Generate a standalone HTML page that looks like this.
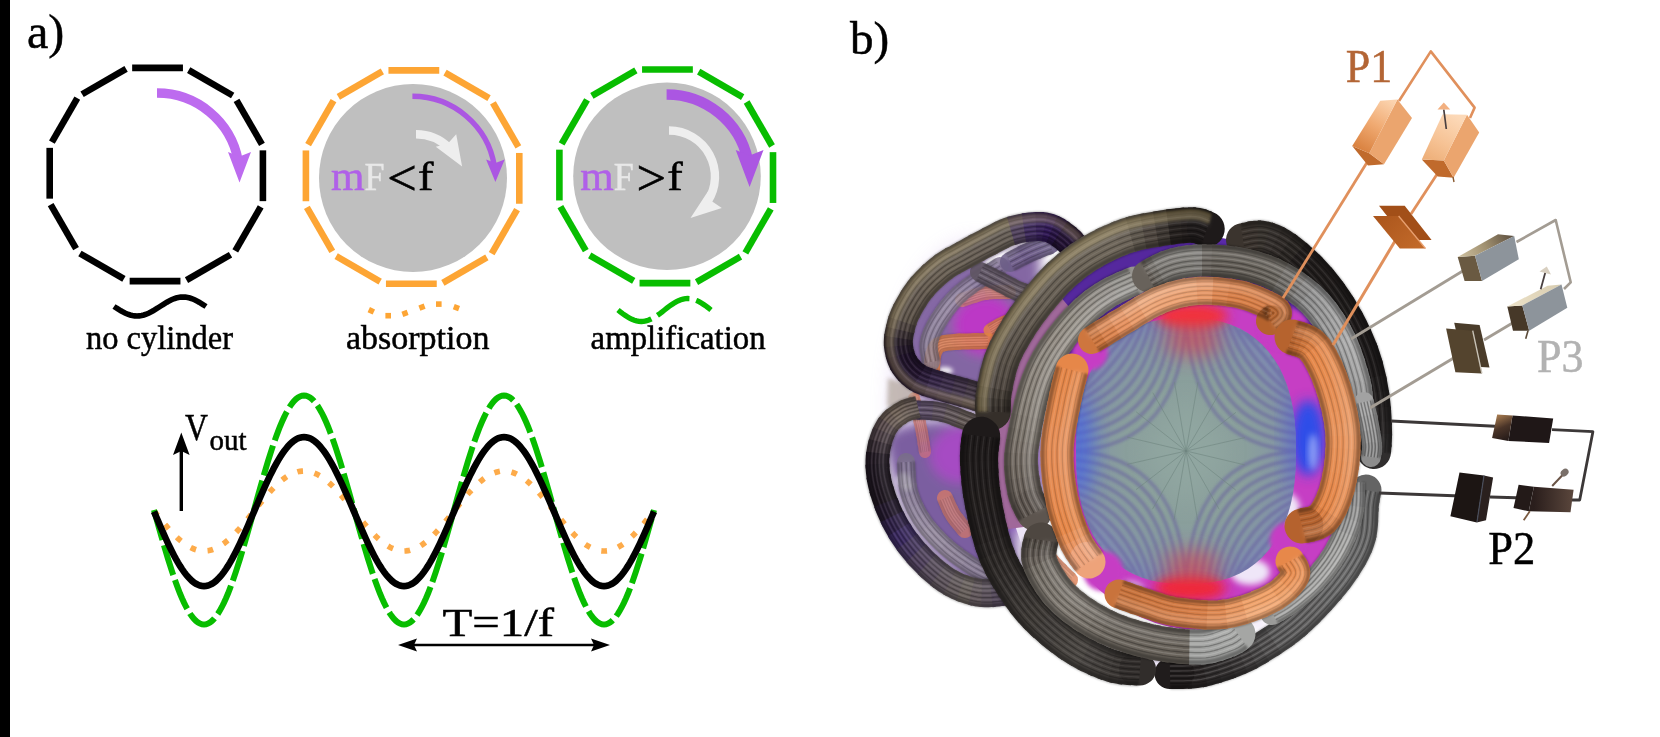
<!DOCTYPE html>
<html><head><meta charset="utf-8"><title>figure</title>
<style>
html,body{margin:0;padding:0;background:#fff;}
body{width:1660px;height:737px;overflow:hidden;font-family:"Liberation Serif",serif;}
svg{display:block;}
text{font-family:"Liberation Serif",serif;}
</style></head><body>
<svg width="1660" height="737" viewBox="0 0 1660 737">
<rect width="1660" height="737" fill="#fff"/>
<defs>
<filter id="b1" x="-20%" y="-20%" width="140%" height="140%"><feGaussianBlur stdDeviation="1"/></filter>
<filter id="b2" x="-20%" y="-20%" width="140%" height="140%"><feGaussianBlur stdDeviation="2"/></filter>
<filter id="b3" x="-30%" y="-30%" width="160%" height="160%"><feGaussianBlur stdDeviation="3"/></filter>
<filter id="b6" x="-40%" y="-40%" width="180%" height="180%"><feGaussianBlur stdDeviation="6"/></filter>
<filter id="b10" x="-50%" y="-50%" width="200%" height="200%"><feGaussianBlur stdDeviation="10"/></filter>
<filter id="b16" x="-60%" y="-60%" width="220%" height="220%"><feGaussianBlur stdDeviation="16"/></filter>
<radialGradient id="discg" cx="0.5" cy="0.5" r="0.5">
<stop offset="0" stop-color="#8fa49e"/><stop offset="0.55" stop-color="#8a9f9c"/><stop offset="0.85" stop-color="#8496a4"/><stop offset="1" stop-color="#7f8cb0"/></radialGradient>
<clipPath id="discclip"><path d="M1296.0,451.0 L1295.7,468.4 L1294.6,481.9 L1292.9,494.1 L1290.4,505.4 L1287.3,515.9 L1283.6,525.6 L1279.2,534.7 L1274.1,543.0 L1268.4,550.6 L1262.1,557.5 L1255.2,563.6 L1247.7,569.0 L1239.7,573.5 L1231.0,577.3 L1221.7,580.2 L1211.6,582.3 L1200.4,583.6 L1186.0,584.0 L1171.6,583.6 L1160.4,582.3 L1150.3,580.2 L1141.0,577.3 L1132.3,573.5 L1124.3,569.0 L1116.8,563.6 L1109.9,557.5 L1103.6,550.6 L1097.9,543.0 L1092.8,534.7 L1088.4,525.6 L1084.7,515.9 L1081.6,505.4 L1079.1,494.1 L1077.4,481.9 L1076.3,468.4 L1076.0,451.0 L1076.3,433.6 L1077.4,420.1 L1079.1,407.9 L1081.6,396.6 L1084.7,386.1 L1088.4,376.4 L1092.8,367.3 L1097.9,359.0 L1103.6,351.4 L1109.9,344.5 L1116.8,338.4 L1124.3,333.0 L1132.3,328.5 L1141.0,324.7 L1150.3,321.8 L1160.4,319.7 L1171.6,318.4 L1186.0,318.0 L1200.4,318.4 L1211.6,319.7 L1221.7,321.8 L1231.0,324.7 L1239.7,328.5 L1247.7,333.0 L1255.2,338.4 L1262.1,344.5 L1268.4,351.4 L1274.1,359.0 L1279.2,367.3 L1283.6,376.4 L1287.3,386.1 L1290.4,396.6 L1292.9,407.9 L1294.6,420.1 L1295.7,433.6 Z"/></clipPath>
</defs>
<g><ellipse cx="975" cy="405" rx="85" ry="165" fill="#b48ae0" opacity="0.25" filter="url(#b10)"/><g filter="url(#b6)"><path d="M905,350 C905,290 960,250 1040,245 L1040,420 L920,400 Z" fill="#7c5e9e" opacity="0.94"/><path d="M885,440 C890,420 960,415 1010,430 L1020,600 C960,590 900,540 885,440 Z" fill="#74569a" opacity="0.94"/><ellipse cx="985" cy="325" rx="32" ry="30" fill="#c038c8" opacity="0.95"/><ellipse cx="960" cy="455" rx="30" ry="28" fill="#b046cc" opacity="0.8"/><ellipse cx="1015" cy="470" rx="28" ry="60" fill="#8a4cc0" opacity="0.8"/></g><g filter="url(#b2)"><ellipse cx="1000" cy="258" rx="19" ry="5.5" fill="#fff" opacity="0.95" transform="rotate(-24 1000 258)"/><ellipse cx="945" cy="371" rx="8" ry="4" fill="#fff" opacity="0.9"/><ellipse cx="905" cy="482" rx="7" ry="10" fill="#fff" opacity="0.9" transform="rotate(-30 905 482)"/></g><g fill="none" stroke-linejoin="round" opacity="0.9"><path d="M932.0,371.0 L932.1,369.5 L932.1,367.4 L932.2,364.8 L932.3,362.1" stroke="#e48050" stroke-width="16.0" stroke-linecap="round"/><path d="M932.2,364.8 L932.3,362.1 L932.5,359.2 L932.8,356.5 L933.3,354.0" stroke="#e3804f" stroke-width="16.0"/><path d="M932.8,356.5 L933.3,354.0 L934.0,352.0 L934.7,350.3 L935.4,348.9" stroke="#e37f4e" stroke-width="16.0"/><path d="M934.7,350.3 L935.4,348.9 L936.1,347.6 L936.9,346.4 L938.1,345.4" stroke="#e27f4d" stroke-width="16.0"/><path d="M936.9,346.4 L938.1,345.4 L939.8,344.5 L942.0,343.7 L945.0,343.0" stroke="#e27f4c" stroke-width="16.0"/><path d="M942.0,343.7 L945.0,343.0 L949.1,342.4 L954.5,342.0 L960.7,341.6" stroke="#e17f4b" stroke-width="16.0"/><path d="M954.5,342.0 L960.7,341.6 L967.2,341.4 L973.6,341.3 L979.5,341.2" stroke="#e07e49" stroke-width="16.0"/><path d="M973.6,341.3 L979.5,341.2 L984.5,341.1 L988.0,341.0" stroke="#df7d47" stroke-width="16.0" stroke-linecap="round"/><path d="M925.0,370.6 L925.1,369.2 L925.1,367.2 L925.2,364.6 L925.3,361.7 L925.5,358.6 L925.9,355.4 L926.5,352.2 L927.4,349.5 L928.3,347.5 L929.0,345.8 L930.1,343.8 L931.9,341.6 L934.2,339.6 L937.0,338.1 L940.1,337.0 L943.7,336.1 L948.4,335.4 L954.0,334.9 L960.4,334.6 L967.0,334.4 L973.5,334.3 L979.4,334.2 L984.3,334.1 L987.8,334.0" stroke="#000" stroke-opacity="0.2" stroke-width="2.2" filter="url(#b1)"/><path d="M939.0,371.4 L939.1,369.8 L939.2,367.5 L939.2,365.0 L939.3,362.4 L939.5,359.9 L939.8,357.6 L940.1,355.8 L940.6,354.5 L941.2,353.2 L941.7,351.9 L942.0,351.4 L942.0,351.3 L942.1,351.3 L942.6,351.0 L944.0,350.5 L946.3,349.9 L949.9,349.4 L955.0,349.0 L961.0,348.7 L967.4,348.5 L973.8,348.3 L979.6,348.2 L984.6,348.1 L988.2,348.0" stroke="#000" stroke-opacity="0.2" stroke-width="2.2" filter="url(#b1)"/><path d="M926.9,370.7 L927.0,369.3 L927.0,367.2 L927.1,364.7 L927.2,361.8 L927.4,358.8 L927.8,355.7 L928.4,352.7 L929.2,350.2 L930.0,348.3 L930.8,346.7 L931.8,344.8 L933.2,342.9 L935.3,341.2 L937.7,339.8 L940.6,338.8 L944.1,338.0 L948.6,337.3 L954.2,336.9 L960.5,336.5 L967.0,336.3 L973.5,336.2 L979.4,336.1 L984.3,336.0 L987.8,335.9 M929.4,370.8 L929.5,369.4 L929.6,367.3 L929.6,364.7 L929.8,361.9 L930.0,359.0 L930.3,356.1 L930.8,353.4 L931.6,351.1 L932.4,349.3 L933.1,347.8 L933.9,346.2 L935.1,344.7 L936.7,343.3 L938.8,342.2 L941.3,341.3 L944.5,340.5 L948.9,339.9 L954.3,339.4 L960.6,339.1 L967.1,338.9 L973.6,338.7 L979.5,338.6 L984.4,338.5 L987.9,338.4 M932.0,371.0 L932.1,369.5 L932.1,367.4 L932.2,364.8 L932.3,362.1 L932.5,359.2 L932.8,356.5 L933.3,354.0 L934.0,352.0 L934.7,350.3 L935.4,348.9 L936.1,347.6 L936.9,346.4 L938.1,345.4 L939.8,344.5 L942.0,343.7 L945.0,343.0 L949.1,342.4 L954.5,342.0 L960.7,341.6 L967.2,341.4 L973.6,341.3 L979.5,341.2 L984.5,341.1 L988.0,341.0 M934.6,371.2 L934.7,369.6 L934.7,367.4 L934.8,364.9 L934.9,362.2 L935.1,359.5 L935.4,356.9 L935.8,354.7 L936.4,352.9 L937.1,351.4 L937.7,350.0 L938.2,349.0 L938.8,348.2 L939.6,347.5 L940.8,346.9 L942.8,346.2 L945.5,345.5 L949.4,344.9 L954.7,344.5 L960.8,344.2 L967.3,344.0 L973.7,343.9 L979.6,343.8 L984.5,343.7 L988.1,343.6 M937.1,371.3 L937.2,369.7 L937.3,367.5 L937.3,365.0 L937.4,362.3 L937.6,359.7 L937.9,357.3 L938.3,355.3 L938.8,353.8 L939.4,352.4 L940.0,351.1 L940.4,350.4 L940.6,350.0 L941.0,349.7 L941.8,349.2 L943.5,348.6 L945.9,348.0 L949.7,347.5 L954.8,347.1 L960.9,346.8 L967.3,346.6 L973.7,346.4 L979.6,346.3 L984.6,346.2 L988.2,346.1" stroke="#000" stroke-opacity="0.12" stroke-width="1.3"/><path d="M928.2,370.8 L928.3,369.3 L928.3,367.3 L928.4,364.7 L928.5,361.9 L928.7,358.9 L929.0,355.9 L929.6,353.1 L930.4,350.6 L931.2,348.8 L931.9,347.2 L932.8,345.5 L934.2,343.8 L936.0,342.2 L938.3,341.0 L941.0,340.0 L944.3,339.2 L948.7,338.6 L954.3,338.1 L960.5,337.8 L967.1,337.6 L973.5,337.5 L979.5,337.4 L984.4,337.3 L987.9,337.2 M930.7,370.9 L930.8,369.4 L930.9,367.3 L930.9,364.8 L931.0,362.0 L931.2,359.1 L931.6,356.3 L932.1,353.7 L932.8,351.5 L933.6,349.8 L934.2,348.3 L935.0,346.9 L936.0,345.6 L937.4,344.4 L939.3,343.4 L941.7,342.5 L944.8,341.7 L949.0,341.1 L954.4,340.7 L960.6,340.4 L967.2,340.2 L973.6,340.0 L979.5,339.9 L984.4,339.8 L988.0,339.7 M933.3,371.1 L933.4,369.5 L933.4,367.4 L933.5,364.9 L933.6,362.1 L933.8,359.3 L934.1,356.7 L934.5,354.4 L935.2,352.5 L935.9,350.9 L936.5,349.4 L937.1,348.3 L937.9,347.3 L938.8,346.5 L940.3,345.7 L942.4,345.0 L945.2,344.3 L949.3,343.7 L954.6,343.2 L960.7,342.9 L967.2,342.7 L973.6,342.6 L979.5,342.5 L984.5,342.4 L988.0,342.3 M935.8,371.2 L935.9,369.6 L936.0,367.4 L936.0,364.9 L936.1,362.3 L936.3,359.6 L936.6,357.1 L937.0,355.0 L937.6,353.4 L938.2,351.9 L938.8,350.6 L939.3,349.7 L939.7,349.1 L940.3,348.6 L941.3,348.0 L943.1,347.4 L945.7,346.8 L949.6,346.2 L954.8,345.8 L960.8,345.5 L967.3,345.3 L973.7,345.1 L979.6,345.0 L984.6,344.9 L988.1,344.8" stroke="#fff" stroke-opacity="0.07" stroke-width="1.3"/><path d="M932.0,371.0 L932.1,369.5 L932.1,367.4 L932.2,364.8 L932.3,362.1 L932.5,359.2 L932.8,356.5 L933.3,354.0 L934.0,352.0 L934.7,350.3 L935.4,348.9 L936.1,347.6 L936.9,346.4 L938.1,345.4 L939.8,344.5 L942.0,343.7 L945.0,343.0 L949.1,342.4 L954.5,342.0 L960.7,341.6 L967.2,341.4 L973.6,341.3 L979.5,341.2 L984.5,341.1 L988.0,341.0" stroke="#fff" stroke-opacity="0.1" stroke-width="5.6" filter="url(#b3)"/></g><g fill="none" stroke-linejoin="round" opacity="0.75"><path d="M962.0,300.0 L963.8,299.4 L966.1,298.6 L968.9,297.6 L972.0,296.6 L975.3,295.5" stroke="#d88375" stroke-width="14.0" stroke-linecap="round"/><path d="M972.0,296.6 L975.3,295.5 L978.6,294.5 L981.9,293.6 L985.0,293.0 L988.1,292.6" stroke="#db846f" stroke-width="14.0"/><path d="M985.0,293.0 L988.1,292.6 L991.5,292.3 L995.0,292.1 L998.4,292.1 L1001.7,292.0" stroke="#dd8568" stroke-width="14.0"/><path d="M998.4,292.1 L1001.7,292.0 L1004.7,292.0 L1007.1,292.0 L1009.0,292.0" stroke="#e08662" stroke-width="14.0" stroke-linecap="round"/><path d="M960.1,294.1 L961.8,293.6 L964.1,292.8 L966.9,291.8 L970.1,290.7 L973.5,289.6 L977.0,288.6 L980.5,287.6 L984.0,286.9 L987.5,286.5 L991.1,286.2 L994.8,286.0 L998.3,285.9 L1001.7,285.9 L1004.7,285.9 L1007.1,285.9 L1008.9,285.8" stroke="#000" stroke-opacity="0.2" stroke-width="2.0" filter="url(#b1)"/><path d="M963.9,305.9 L965.8,305.3 L968.1,304.4 L970.9,303.4 L973.9,302.4 L977.1,301.4 L980.3,300.4 L983.3,299.6 L986.0,299.1 L988.8,298.7 L991.9,298.5 L995.2,298.3 L998.5,298.2 L1001.7,298.2 L1004.7,298.2 L1007.2,298.2 L1009.1,298.2" stroke="#000" stroke-opacity="0.2" stroke-width="2.0" filter="url(#b1)"/><path d="M960.6,295.7 L962.3,295.2 L964.6,294.4 L967.4,293.4 L970.6,292.3 L974.0,291.2 L977.4,290.2 L980.9,289.3 L984.2,288.6 L987.6,288.1 L991.2,287.8 L994.8,287.7 L998.4,287.6 L1001.7,287.6 L1004.7,287.6 L1007.1,287.6 L1008.9,287.5 M961.3,297.9 L963.0,297.3 L965.4,296.5 L968.2,295.5 L971.3,294.4 L974.6,293.4 L978.0,292.3 L981.4,291.5 L984.6,290.8 L987.9,290.4 L991.3,290.1 L994.9,289.9 L998.4,289.8 L1001.7,289.8 L1004.7,289.8 L1007.1,289.8 L1009.0,289.8 M962.0,300.0 L963.8,299.4 L966.1,298.6 L968.9,297.6 L972.0,296.6 L975.3,295.5 L978.6,294.5 L981.9,293.6 L985.0,293.0 L988.1,292.6 L991.5,292.3 L995.0,292.1 L998.4,292.1 L1001.7,292.0 L1004.7,292.0 L1007.1,292.0 L1009.0,292.0 M962.7,302.1 L964.5,301.5 L966.8,300.7 L969.6,299.7 L972.7,298.7 L976.0,297.6 L979.2,296.6 L982.4,295.8 L985.4,295.2 L988.4,294.8 L991.6,294.5 L995.1,294.4 L998.5,294.3 L1001.7,294.3 L1004.7,294.3 L1007.2,294.3 L1009.0,294.2 M963.4,304.3 L965.2,303.7 L967.6,302.8 L970.4,301.9 L973.4,300.8 L976.6,299.8 L979.8,298.8 L982.9,298.0 L985.8,297.4 L988.6,297.0 L991.8,296.8 L995.1,296.6 L998.5,296.5 L1001.7,296.5 L1004.7,296.5 L1007.2,296.5 L1009.1,296.5" stroke="#000" stroke-opacity="0.12" stroke-width="1.3"/><path d="M961.0,296.8 L962.7,296.2 L965.0,295.4 L967.8,294.4 L970.9,293.4 L974.3,292.3 L977.7,291.3 L981.2,290.4 L984.4,289.7 L987.8,289.2 L991.3,289.0 L994.9,288.8 L998.4,288.7 L1001.7,288.7 L1004.7,288.7 L1007.1,288.7 L1008.9,288.6 M961.7,298.9 L963.4,298.4 L965.7,297.5 L968.5,296.6 L971.6,295.5 L975.0,294.4 L978.3,293.4 L981.7,292.5 L984.8,291.9 L988.0,291.5 L991.4,291.2 L994.9,291.0 L998.4,290.9 L1001.7,290.9 L1004.7,290.9 L1007.1,290.9 L1009.0,290.9 M962.3,301.1 L964.1,300.5 L966.5,299.7 L969.3,298.7 L972.4,297.6 L975.6,296.6 L978.9,295.6 L982.2,294.7 L985.2,294.1 L988.2,293.7 L991.6,293.4 L995.0,293.3 L998.5,293.2 L1001.7,293.2 L1004.7,293.2 L1007.2,293.2 L1009.0,293.1 M963.0,303.2 L964.9,302.6 L967.2,301.8 L970.0,300.8 L973.1,299.8 L976.3,298.7 L979.5,297.7 L982.7,296.9 L985.6,296.3 L988.5,295.9 L991.7,295.7 L995.1,295.5 L998.5,295.4 L1001.7,295.4 L1004.7,295.4 L1007.2,295.4 L1009.1,295.4" stroke="#fff" stroke-opacity="0.07" stroke-width="1.3"/><path d="M962.0,300.0 L963.8,299.4 L966.1,298.6 L968.9,297.6 L972.0,296.6 L975.3,295.5 L978.6,294.5 L981.9,293.6 L985.0,293.0 L988.1,292.6 L991.5,292.3 L995.0,292.1 L998.4,292.1 L1001.7,292.0 L1004.7,292.0 L1007.1,292.0 L1009.0,292.0" stroke="#fff" stroke-opacity="0.1" stroke-width="4.9" filter="url(#b3)"/></g><g fill="none" stroke-linejoin="round" opacity="0.85"><path d="M990.0,330.0 L991.2,329.3 L992.7,328.4 L994.5,327.3 L996.6,326.1 L998.7,324.9 L1000.9,323.8 L1003.0,322.8 L1005.0,322.0 L1007.0,321.4" stroke="#e18246" stroke-width="13.0" stroke-linecap="round"/><path d="M1005.0,322.0 L1007.0,321.4 L1009.1,321.0 L1011.3,320.7 L1013.4,320.5 L1015.5,320.3 L1017.3,320.2 L1018.8,320.1 L1020.0,320.0" stroke="#e18246" stroke-width="13.0" stroke-linecap="round"/><path d="M987.2,325.0 L988.3,324.4 L989.8,323.5 L991.6,322.4 L993.7,321.2 L996.0,319.9 L998.3,318.6 L1000.8,317.5 L1003.2,316.6 L1005.7,315.9 L1008.2,315.4 L1010.6,315.0 L1012.9,314.8 L1015.1,314.6 L1016.9,314.5 L1018.4,314.4 L1019.4,314.3" stroke="#000" stroke-opacity="0.2" stroke-width="1.8" filter="url(#b1)"/><path d="M992.8,335.0 L994.0,334.3 L995.6,333.3 L997.4,332.2 L999.4,331.1 L1001.4,329.9 L1003.4,328.9 L1005.3,328.0 L1006.8,327.4 L1008.3,327.0 L1010.1,326.7 L1012.0,326.4 L1014.0,326.2 L1015.9,326.0 L1017.7,325.9 L1019.3,325.8 L1020.6,325.7" stroke="#000" stroke-opacity="0.2" stroke-width="1.8" filter="url(#b1)"/><path d="M987.9,326.4 L989.1,325.8 L990.6,324.9 L992.4,323.7 L994.5,322.5 L996.7,321.3 L999.0,320.0 L1001.4,318.9 L1003.7,318.1 L1006.0,317.4 L1008.4,316.9 L1010.8,316.6 L1013.1,316.4 L1015.2,316.2 L1017.0,316.1 L1018.5,316.0 L1019.6,315.9 M989.0,328.2 L990.1,327.5 L991.6,326.6 L993.5,325.5 L995.5,324.3 L997.7,323.1 L1000.0,321.9 L1002.2,320.9 L1004.3,320.0 L1006.5,319.4 L1008.8,319.0 L1011.0,318.7 L1013.2,318.4 L1015.3,318.3 L1017.2,318.1 L1018.7,318.0 L1019.8,317.9 M990.0,330.0 L991.2,329.3 L992.7,328.4 L994.5,327.3 L996.6,326.1 L998.7,324.9 L1000.9,323.8 L1003.0,322.8 L1005.0,322.0 L1007.0,321.4 L1009.1,321.0 L1011.3,320.7 L1013.4,320.5 L1015.5,320.3 L1017.3,320.2 L1018.8,320.1 L1020.0,320.0 M991.0,331.8 L992.2,331.1 L993.8,330.2 L995.6,329.1 L997.6,327.9 L999.7,326.7 L1001.8,325.6 L1003.8,324.7 L1005.7,324.0 L1007.5,323.5 L1009.4,323.1 L1011.5,322.8 L1013.6,322.6 L1015.6,322.4 L1017.4,322.3 L1019.0,322.2 L1020.2,322.1 M992.1,333.6 L993.3,332.9 L994.8,332.0 L996.7,330.9 L998.6,329.7 L1000.7,328.6 L1002.8,327.5 L1004.7,326.6 L1006.3,325.9 L1007.9,325.5 L1009.8,325.1 L1011.8,324.9 L1013.8,324.6 L1015.8,324.5 L1017.6,324.4 L1019.2,324.3 L1020.4,324.1" stroke="#000" stroke-opacity="0.12" stroke-width="1.3"/><path d="M988.5,327.3 L989.6,326.6 L991.1,325.7 L992.9,324.6 L995.0,323.4 L997.2,322.2 L999.5,321.0 L1001.8,319.9 L1004.0,319.0 L1006.3,318.4 L1008.6,318.0 L1010.9,317.6 L1013.2,317.4 L1015.2,317.2 L1017.1,317.1 L1018.6,317.0 L1019.7,316.9 M989.5,329.1 L990.6,328.4 L992.2,327.5 L994.0,326.4 L996.0,325.2 L998.2,324.0 L1000.4,322.8 L1002.6,321.8 L1004.7,321.0 L1006.7,320.4 L1008.9,320.0 L1011.2,319.7 L1013.3,319.5 L1015.4,319.3 L1017.2,319.2 L1018.8,319.1 L1019.9,319.0 M990.5,330.9 L991.7,330.2 L993.2,329.3 L995.1,328.2 L997.1,327.0 L999.2,325.8 L1001.4,324.7 L1003.4,323.7 L1005.3,323.0 L1007.2,322.5 L1009.3,322.1 L1011.4,321.8 L1013.5,321.5 L1015.5,321.4 L1017.4,321.3 L1018.9,321.1 L1020.1,321.0 M991.5,332.7 L992.7,332.0 L994.3,331.1 L996.1,330.0 L998.1,328.8 L1000.2,327.7 L1002.3,326.6 L1004.3,325.6 L1006.0,325.0 L1007.7,324.5 L1009.6,324.1 L1011.7,323.8 L1013.7,323.6 L1015.7,323.5 L1017.5,323.3 L1019.1,323.2 L1020.3,323.1" stroke="#fff" stroke-opacity="0.07" stroke-width="1.3"/><path d="M990.0,330.0 L991.2,329.3 L992.7,328.4 L994.5,327.3 L996.6,326.1 L998.7,324.9 L1000.9,323.8 L1003.0,322.8 L1005.0,322.0 L1007.0,321.4 L1009.1,321.0 L1011.3,320.7 L1013.4,320.5 L1015.5,320.3 L1017.3,320.2 L1018.8,320.1 L1020.0,320.0" stroke="#fff" stroke-opacity="0.1" stroke-width="4.5" filter="url(#b3)"/></g><g fill="none" stroke-linejoin="round" opacity="0.7"><path d="M945.0,498.0 L945.6,499.3 L946.3,501.1 L947.2,503.2 L948.2,505.6 L949.4,508.0 L950.5,510.5" stroke="#e07c60" stroke-width="16.0" stroke-linecap="round"/><path d="M949.4,508.0 L950.5,510.5 L951.8,512.9 L953.0,515.0 L954.4,517.1 L956.0,519.2 L957.7,521.4" stroke="#dc7b61" stroke-width="16.0"/><path d="M956.0,519.2 L957.7,521.4 L959.5,523.6 L961.2,525.6 L962.8,527.4 L964.0,528.9 L965.0,530.0" stroke="#d97963" stroke-width="16.0"/><path d="M964.0,528.9 L965.0,530.0" stroke="#d77864" stroke-width="16.0" stroke-linecap="round"/><path d="M951.4,495.1 L952.0,496.5 L952.8,498.4 L953.7,500.5 L954.7,502.7 L955.7,505.1 L956.8,507.4 L957.9,509.5 L959.0,511.3 L960.1,513.0 L961.6,515.0 L963.2,517.0 L964.9,519.0 L966.5,521.0 L968.1,522.8 L969.4,524.3 L970.4,525.5" stroke="#000" stroke-opacity="0.2" stroke-width="2.2" filter="url(#b1)"/><path d="M938.6,500.9 L939.1,502.1 L939.9,503.8 L940.8,506.0 L941.8,508.4 L943.0,511.0 L944.2,513.6 L945.6,516.2 L947.0,518.7 L948.6,521.1 L950.4,523.5 L952.3,525.9 L954.1,528.1 L955.9,530.1 L957.4,532.0 L958.7,533.4 L959.6,534.5" stroke="#000" stroke-opacity="0.2" stroke-width="2.2" filter="url(#b1)"/><path d="M949.7,495.9 L950.3,497.3 L951.1,499.1 L951.9,501.2 L952.9,503.5 L954.0,505.9 L955.1,508.2 L956.2,510.4 L957.3,512.3 L958.6,514.1 L960.1,516.1 L961.7,518.2 L963.4,520.3 L965.1,522.2 L966.6,524.0 L967.9,525.5 L968.9,526.7 M947.3,497.0 L947.9,498.3 L948.7,500.1 L949.6,502.2 L950.6,504.5 L951.7,506.9 L952.8,509.4 L954.0,511.6 L955.2,513.6 L956.5,515.6 L958.0,517.7 L959.7,519.8 L961.5,521.9 L963.1,523.9 L964.7,525.7 L966.0,527.2 L967.0,528.4 M945.0,498.0 L945.6,499.3 L946.3,501.1 L947.2,503.2 L948.2,505.6 L949.4,508.0 L950.5,510.5 L951.8,512.9 L953.0,515.0 L954.4,517.1 L956.0,519.2 L957.7,521.4 L959.5,523.6 L961.2,525.6 L962.8,527.4 L964.0,528.9 L965.0,530.0 M942.7,499.0 L943.2,500.3 L944.0,502.1 L944.9,504.2 L945.9,506.6 L947.0,509.1 L948.2,511.6 L949.5,514.1 L950.8,516.4 L952.3,518.6 L954.0,520.8 L955.7,523.0 L957.5,525.2 L959.3,527.2 L960.8,529.0 L962.1,530.5 L963.0,531.6 M940.3,500.1 L940.9,501.4 L941.6,503.1 L942.5,505.2 L943.6,507.6 L944.7,510.2 L945.9,512.8 L947.3,515.3 L948.7,517.7 L950.2,520.0 L951.9,522.4 L953.8,524.7 L955.6,526.9 L957.3,528.9 L958.9,530.7 L960.1,532.2 L961.1,533.3" stroke="#000" stroke-opacity="0.12" stroke-width="1.3"/><path d="M948.5,496.4 L949.1,497.8 L949.9,499.6 L950.8,501.7 L951.8,504.0 L952.8,506.4 L954.0,508.8 L955.1,511.0 L956.3,513.0 L957.5,514.9 L959.0,516.9 L960.7,519.0 L962.4,521.1 L964.1,523.1 L965.7,524.8 L967.0,526.4 L967.9,527.5 M946.2,497.5 L946.8,498.8 L947.5,500.6 L948.4,502.7 L949.4,505.0 L950.5,507.5 L951.7,509.9 L952.9,512.2 L954.1,514.3 L955.4,516.3 L957.0,518.5 L958.7,520.6 L960.5,522.7 L962.2,524.7 L963.7,526.5 L965.0,528.0 L966.0,529.2 M943.8,498.5 L944.4,499.8 L945.2,501.6 L946.1,503.7 L947.1,506.1 L948.2,508.6 L949.4,511.1 L950.6,513.5 L951.9,515.7 L953.3,517.8 L955.0,520.0 L956.7,522.2 L958.5,524.4 L960.2,526.4 L961.8,528.2 L963.1,529.7 L964.0,530.8 M941.5,499.6 L942.1,500.9 L942.8,502.6 L943.7,504.7 L944.7,507.1 L945.9,509.6 L947.1,512.2 L948.4,514.7 L949.7,517.0 L951.3,519.3 L953.0,521.6 L954.8,523.8 L956.6,526.0 L958.3,528.1 L959.8,529.9 L961.1,531.3 L962.1,532.5" stroke="#fff" stroke-opacity="0.07" stroke-width="1.3"/><path d="M945.0,498.0 L945.6,499.3 L946.3,501.1 L947.2,503.2 L948.2,505.6 L949.4,508.0 L950.5,510.5 L951.8,512.9 L953.0,515.0 L954.4,517.1 L956.0,519.2 L957.7,521.4 L959.5,523.6 L961.2,525.6 L962.8,527.4 L964.0,528.9 L965.0,530.0" stroke="#fff" stroke-opacity="0.1" stroke-width="5.6" filter="url(#b3)"/></g><g fill="none" stroke-linejoin="round" opacity="0.75"><path d="M914.0,398.0 L914.6,400.4 L915.3,403.5 L916.2,407.3 L917.2,411.5" stroke="#e27c58" stroke-width="12.0" stroke-linecap="round"/><path d="M916.2,407.3 L917.2,411.5 L918.3,415.9 L919.3,420.2 L920.2,424.3" stroke="#dd7961" stroke-width="12.0"/><path d="M919.3,420.2 L920.2,424.3 L921.0,428.0 L921.7,431.5 L922.3,435.0" stroke="#d8766a" stroke-width="12.0"/><path d="M921.7,431.5 L922.3,435.0 L922.9,438.5 L923.4,441.9 L923.9,445.0" stroke="#d37472" stroke-width="12.0"/><path d="M923.4,441.9 L923.9,445.0 L924.4,447.8 L924.7,450.2 L925.0,452.0" stroke="#d07179" stroke-width="12.0"/><path d="M924.7,450.2 L925.0,452.0" stroke="#cd707c" stroke-width="12.0" stroke-linecap="round"/><path d="M919.1,396.8 L919.7,399.1 L920.5,402.3 L921.4,406.1 L922.4,410.3 L923.4,414.7 L924.4,419.0 L925.4,423.2 L926.2,426.9 L926.9,430.5 L927.5,434.1 L928.1,437.6 L928.7,441.1 L929.1,444.2 L929.6,447.0 L929.9,449.4 L930.2,451.2" stroke="#000" stroke-opacity="0.2" stroke-width="1.7" filter="url(#b1)"/><path d="M908.9,399.2 L909.4,401.6 L910.2,404.8 L911.1,408.6 L912.1,412.7 L913.1,417.1 L914.1,421.4 L915.1,425.5 L915.8,429.1 L916.5,432.4 L917.1,435.9 L917.7,439.4 L918.2,442.7 L918.7,445.8 L919.1,448.6 L919.5,451.0 L919.8,452.8" stroke="#000" stroke-opacity="0.2" stroke-width="1.7" filter="url(#b1)"/><path d="M917.7,397.1 L918.3,399.5 L919.1,402.6 L920.0,406.4 L921.0,410.6 L922.0,415.0 L923.0,419.4 L924.0,423.5 L924.8,427.2 L925.4,430.7 L926.1,434.3 L926.7,437.9 L927.2,441.3 L927.7,444.4 L928.1,447.2 L928.5,449.6 L928.8,451.4 M915.9,397.6 L916.4,399.9 L917.2,403.1 L918.1,406.9 L919.1,411.1 L920.2,415.4 L921.2,419.8 L922.1,423.9 L922.9,427.6 L923.6,431.1 L924.2,434.7 L924.8,438.2 L925.3,441.6 L925.8,444.7 L926.2,447.5 L926.6,449.9 L926.9,451.7 M914.0,398.0 L914.6,400.4 L915.3,403.5 L916.2,407.3 L917.2,411.5 L918.3,415.9 L919.3,420.2 L920.2,424.3 L921.0,428.0 L921.7,431.5 L922.3,435.0 L922.9,438.5 L923.4,441.9 L923.9,445.0 L924.4,447.8 L924.7,450.2 L925.0,452.0 M912.1,398.4 L912.7,400.8 L913.5,404.0 L914.4,407.8 L915.4,411.9 L916.4,416.3 L917.4,420.6 L918.3,424.7 L919.1,428.4 L919.8,431.8 L920.4,435.3 L921.0,438.8 L921.5,442.2 L922.0,445.3 L922.5,448.1 L922.8,450.5 L923.1,452.3 M910.3,398.9 L910.8,401.3 L911.6,404.4 L912.5,408.2 L913.5,412.4 L914.5,416.7 L915.6,421.1 L916.5,425.2 L917.2,428.8 L917.9,432.2 L918.5,435.6 L919.1,439.1 L919.6,442.5 L920.1,445.6 L920.6,448.4 L920.9,450.8 L921.2,452.6" stroke="#000" stroke-opacity="0.12" stroke-width="1.3"/><path d="M916.8,397.3 L917.4,399.7 L918.1,402.9 L919.0,406.6 L920.1,410.8 L921.1,415.2 L922.1,419.6 L923.0,423.7 L923.8,427.4 L924.5,430.9 L925.1,434.5 L925.7,438.0 L926.3,441.4 L926.8,444.6 L927.2,447.4 L927.6,449.7 L927.8,451.5 M914.9,397.8 L915.5,400.1 L916.3,403.3 L917.2,407.1 L918.2,411.3 L919.2,415.7 L920.2,420.0 L921.2,424.1 L921.9,427.8 L922.6,431.3 L923.3,434.8 L923.8,438.3 L924.4,441.7 L924.9,444.9 L925.3,447.7 L925.7,450.0 L925.9,451.8 M913.1,398.2 L913.6,400.6 L914.4,403.8 L915.3,407.5 L916.3,411.7 L917.4,416.1 L918.4,420.4 L919.3,424.5 L920.1,428.2 L920.7,431.6 L921.4,435.1 L921.9,438.6 L922.5,442.0 L923.0,445.2 L923.4,448.0 L923.8,450.3 L924.1,452.2 M911.2,398.7 L911.8,401.0 L912.5,404.2 L913.4,408.0 L914.4,412.2 L915.5,416.5 L916.5,420.9 L917.4,424.9 L918.2,428.6 L918.8,432.0 L919.5,435.5 L920.1,439.0 L920.6,442.3 L921.1,445.5 L921.5,448.3 L921.9,450.6 L922.2,452.5" stroke="#fff" stroke-opacity="0.07" stroke-width="1.3"/><path d="M914.0,398.0 L914.6,400.4 L915.3,403.5 L916.2,407.3 L917.2,411.5 L918.3,415.9 L919.3,420.2 L920.2,424.3 L921.0,428.0 L921.7,431.5 L922.3,435.0 L922.9,438.5 L923.4,441.9 L923.9,445.0 L924.4,447.8 L924.7,450.2 L925.0,452.0" stroke="#fff" stroke-opacity="0.1" stroke-width="4.2" filter="url(#b3)"/></g><g fill="none" stroke-linejoin="round" opacity="0.8"><path d="M1040.0,548.0 L1041.2,549.3 L1042.7,551.1 L1044.5,553.2 L1046.6,555.6 L1048.7,558.0 L1050.9,560.5" stroke="#d87959" stroke-width="16.0" stroke-linecap="round"/><path d="M1048.7,558.0 L1050.9,560.5 L1053.0,562.9 L1055.0,565.0 L1057.0,567.1 L1059.1,569.2 L1061.3,571.4" stroke="#da7c58" stroke-width="16.0"/><path d="M1059.1,569.2 L1061.3,571.4 L1063.4,573.6 L1065.5,575.6 L1067.3,577.4 L1068.8,578.9 L1070.0,580.0" stroke="#dd7e56" stroke-width="16.0"/><path d="M1068.8,578.9 L1070.0,580.0" stroke="#de8055" stroke-width="16.0" stroke-linecap="round"/><path d="M1045.3,543.4 L1046.5,544.7 L1048.0,546.5 L1049.8,548.6 L1051.9,550.9 L1054.0,553.4 L1056.2,555.8 L1058.2,558.1 L1060.1,560.2 L1062.0,562.2 L1064.1,564.3 L1066.3,566.4 L1068.4,568.5 L1070.4,570.5 L1072.2,572.3 L1073.8,573.8 L1074.9,575.0" stroke="#000" stroke-opacity="0.2" stroke-width="2.2" filter="url(#b1)"/><path d="M1034.7,552.6 L1035.8,553.9 L1037.4,555.7 L1039.2,557.8 L1041.3,560.2 L1043.4,562.7 L1045.6,565.2 L1047.8,567.6 L1049.9,569.8 L1051.9,572.0 L1054.1,574.2 L1056.3,576.4 L1058.5,578.6 L1060.5,580.6 L1062.4,582.4 L1063.9,583.9 L1065.1,585.0" stroke="#000" stroke-opacity="0.2" stroke-width="2.2" filter="url(#b1)"/><path d="M1043.9,544.6 L1045.0,546.0 L1046.6,547.8 L1048.4,549.9 L1050.4,552.2 L1052.6,554.6 L1054.7,557.1 L1056.8,559.4 L1058.7,561.5 L1060.7,563.5 L1062.7,565.6 L1064.9,567.8 L1067.0,569.9 L1069.1,571.9 L1070.9,573.7 L1072.4,575.2 L1073.6,576.4 M1041.9,546.3 L1043.1,547.6 L1044.6,549.4 L1046.5,551.5 L1048.5,553.9 L1050.6,556.3 L1052.8,558.8 L1054.9,561.1 L1056.9,563.2 L1058.8,565.3 L1060.9,567.4 L1063.1,569.6 L1065.2,571.7 L1067.3,573.7 L1069.1,575.5 L1070.6,577.0 L1071.8,578.2 M1040.0,548.0 L1041.2,549.3 L1042.7,551.1 L1044.5,553.2 L1046.6,555.6 L1048.7,558.0 L1050.9,560.5 L1053.0,562.9 L1055.0,565.0 L1057.0,567.1 L1059.1,569.2 L1061.3,571.4 L1063.4,573.6 L1065.5,575.6 L1067.3,577.4 L1068.8,578.9 L1070.0,580.0 M1038.1,549.7 L1039.2,551.0 L1040.8,552.8 L1042.6,554.9 L1044.6,557.2 L1046.8,559.7 L1049.0,562.2 L1051.1,564.6 L1053.1,566.8 L1055.1,568.9 L1057.3,571.0 L1059.5,573.2 L1061.6,575.4 L1063.7,577.4 L1065.5,579.2 L1067.0,580.7 L1068.2,581.8 M1036.1,551.4 L1037.3,552.7 L1038.8,554.5 L1040.7,556.6 L1042.7,558.9 L1044.9,561.4 L1047.1,563.9 L1049.2,566.3 L1051.3,568.5 L1053.3,570.6 L1055.5,572.8 L1057.7,575.1 L1059.8,577.2 L1061.9,579.2 L1063.7,581.0 L1065.3,582.5 L1066.4,583.6" stroke="#000" stroke-opacity="0.12" stroke-width="1.3"/><path d="M1042.9,545.5 L1044.1,546.8 L1045.6,548.6 L1047.4,550.7 L1049.5,553.0 L1051.6,555.5 L1053.8,557.9 L1055.9,560.3 L1057.8,562.4 L1059.7,564.4 L1061.8,566.5 L1064.0,568.7 L1066.1,570.8 L1068.2,572.8 L1070.0,574.6 L1071.5,576.1 L1072.7,577.3 M1041.0,547.2 L1042.1,548.5 L1043.7,550.3 L1045.5,552.4 L1047.5,554.7 L1049.7,557.2 L1051.9,559.6 L1054.0,562.0 L1055.9,564.1 L1057.9,566.2 L1060.0,568.3 L1062.2,570.5 L1064.3,572.7 L1066.4,574.6 L1068.2,576.4 L1069.7,577.9 L1070.9,579.1 M1039.0,548.8 L1040.2,550.2 L1041.7,551.9 L1043.6,554.1 L1045.6,556.4 L1047.8,558.9 L1049.9,561.3 L1052.1,563.7 L1054.1,565.9 L1056.1,568.0 L1058.2,570.1 L1060.4,572.3 L1062.5,574.5 L1064.6,576.5 L1066.4,578.3 L1067.9,579.8 L1069.1,580.9 M1037.1,550.5 L1038.3,551.8 L1039.8,553.6 L1041.6,555.7 L1043.7,558.1 L1045.8,560.6 L1048.0,563.0 L1050.2,565.4 L1052.2,567.6 L1054.2,569.7 L1056.4,571.9 L1058.6,574.2 L1060.7,576.3 L1062.8,578.3 L1064.6,580.1 L1066.2,581.6 L1067.3,582.7" stroke="#fff" stroke-opacity="0.07" stroke-width="1.3"/><path d="M1040.0,548.0 L1041.2,549.3 L1042.7,551.1 L1044.5,553.2 L1046.6,555.6 L1048.7,558.0 L1050.9,560.5 L1053.0,562.9 L1055.0,565.0 L1057.0,567.1 L1059.1,569.2 L1061.3,571.4 L1063.4,573.6 L1065.5,575.6 L1067.3,577.4 L1068.8,578.9 L1070.0,580.0" stroke="#fff" stroke-opacity="0.1" stroke-width="5.6" filter="url(#b3)"/></g><g fill="none" stroke-linejoin="round" opacity="0.8"><path d="M1000.0,266.0 L997.0,268.0 L992.8,270.7 L987.8,273.8" stroke="#7a6c8d" stroke-width="18.0" stroke-linecap="round"/><path d="M992.8,270.7 L987.8,273.8 L982.4,277.4 L976.7,281.1" stroke="#7f7290" stroke-width="18.0"/><path d="M982.4,277.4 L976.7,281.1 L971.3,284.9 L966.2,288.6" stroke="#857994" stroke-width="18.0"/><path d="M971.3,284.9 L966.2,288.6 L962.0,292.0 L958.4,295.3" stroke="#8b8097" stroke-width="18.0"/><path d="M962.0,292.0 L958.4,295.3 L955.1,298.5 L952.1,301.8" stroke="#90879a" stroke-width="18.0"/><path d="M955.1,298.5 L952.1,301.8 L949.3,305.1 L946.7,308.4" stroke="#948c9d" stroke-width="18.0"/><path d="M949.3,305.1 L946.7,308.4 L944.4,311.6 L942.1,314.8" stroke="#948c9c" stroke-width="18.0"/><path d="M944.4,311.6 L942.1,314.8 L940.0,318.0 L938.0,321.1" stroke="#928999" stroke-width="18.0"/><path d="M940.0,318.0 L938.0,321.1 L936.2,324.2 L934.5,327.3" stroke="#8f8697" stroke-width="18.0"/><path d="M936.2,324.2 L934.5,327.3 L933.0,330.4 L931.7,333.4" stroke="#8c8494" stroke-width="18.0"/><path d="M933.0,330.4 L931.7,333.4 L930.6,336.3 L929.7,339.2" stroke="#8a8192" stroke-width="18.0"/><path d="M930.6,336.3 L929.7,339.2 L929.0,342.0 L928.6,344.8" stroke="#887f8f" stroke-width="18.0"/><path d="M929.0,342.0 L928.6,344.8 L928.6,347.8 L928.9,350.7" stroke="#867d8d" stroke-width="18.0"/><path d="M928.6,347.8 L928.9,350.7 L929.3,353.5 L929.8,356.1" stroke="#847a8b" stroke-width="18.0"/><path d="M929.3,353.5 L929.8,356.1 L930.3,358.5 L930.8,360.5" stroke="#827889" stroke-width="18.0"/><path d="M930.3,358.5 L930.8,360.5 L931.0,362.0" stroke="#817788" stroke-width="18.0" stroke-linecap="round"/><path d="M1004.4,272.6 L1001.3,274.7 L997.1,277.3 L992.1,280.5 L986.7,284.0 L981.2,287.7 L975.9,291.3 L971.1,294.9 L967.1,298.0 L963.9,301.0 L960.8,304.0 L958.0,307.1 L955.4,310.1 L953.0,313.2 L950.8,316.3 L948.7,319.3 L946.6,322.3 L944.8,325.3 L943.1,328.1 L941.5,331.0 L940.2,333.7 L939.0,336.4 L938.1,338.9 L937.3,341.3 L936.8,343.4 L936.5,345.3 L936.5,347.4 L936.8,349.7 L937.1,352.2 L937.6,354.6 L938.1,356.8 L938.5,359.0 L938.8,360.7" stroke="#000" stroke-opacity="0.35" stroke-width="2.5" filter="url(#b1)"/><path d="M995.6,259.4 L992.6,261.4 L988.5,264.0 L983.5,267.2 L978.0,270.8 L972.3,274.5 L966.7,278.4 L961.4,282.3 L956.9,286.0 L953.0,289.5 L949.4,293.1 L946.2,296.6 L943.2,300.1 L940.4,303.6 L937.9,307.0 L935.6,310.4 L933.4,313.7 L931.3,317.0 L929.3,320.3 L927.5,323.7 L925.8,327.0 L924.4,330.4 L923.1,333.7 L922.0,337.1 L921.2,340.6 L920.7,344.3 L920.7,348.1 L921.0,351.6 L921.5,354.8 L922.1,357.7 L922.6,360.2 L923.0,362.0 L923.2,363.3" stroke="#000" stroke-opacity="0.35" stroke-width="2.5" filter="url(#b1)"/><path d="M1002.6,270.0 L999.6,272.0 L995.4,274.7 L990.4,277.9 L985.0,281.4 L979.4,285.1 L974.0,288.8 L969.2,292.4 L965.1,295.7 L961.7,298.7 L958.6,301.9 L955.7,305.0 L953.0,308.2 L950.6,311.3 L948.3,314.4 L946.1,317.6 L944.0,320.6 L942.1,323.6 L940.3,326.6 L938.8,329.5 L937.4,332.4 L936.1,335.2 L935.1,337.9 L934.3,340.5 L933.7,342.9 L933.4,345.1 L933.4,347.5 L933.7,350.1 L934.0,352.7 L934.5,355.2 L935.0,357.5 L935.5,359.6 L935.7,361.2 M1000.0,266.0 L997.0,268.0 L992.8,270.7 L987.8,273.8 L982.4,277.4 L976.7,281.1 L971.3,284.9 L966.2,288.6 L962.0,292.0 L958.4,295.3 L955.1,298.5 L952.1,301.8 L949.3,305.1 L946.7,308.4 L944.4,311.6 L942.1,314.8 L940.0,318.0 L938.0,321.1 L936.2,324.2 L934.5,327.3 L933.0,330.4 L931.7,333.4 L930.6,336.3 L929.7,339.2 L929.0,342.0 L928.6,344.8 L928.6,347.8 L928.9,350.7 L929.3,353.5 L929.8,356.1 L930.3,358.5 L930.8,360.5 L931.0,362.0 M997.4,262.0 L994.3,264.0 L990.2,266.6 L985.2,269.8 L979.7,273.4 L974.1,277.1 L968.5,281.0 L963.3,284.8 L958.9,288.3 L955.1,291.8 L951.7,295.2 L948.5,298.7 L945.6,302.1 L942.9,305.5 L940.5,308.8 L938.2,312.1 L936.0,315.4 L933.9,318.6 L932.0,321.9 L930.2,325.1 L928.6,328.4 L927.2,331.6 L926.0,334.8 L925.1,337.9 L924.3,341.1 L923.9,344.5 L923.8,348.0 L924.1,351.2 L924.6,354.3 L925.1,357.1 L925.6,359.5 L926.0,361.4 L926.3,362.8" stroke="#000" stroke-opacity="0.28" stroke-width="1.3"/><path d="M1001.3,268.0 L998.3,270.0 L994.1,272.7 L989.1,275.9 L983.7,279.4 L978.1,283.1 L972.7,286.8 L967.7,290.5 L963.6,293.8 L960.1,297.0 L956.8,300.2 L953.9,303.4 L951.2,306.6 L948.7,309.9 L946.3,313.0 L944.1,316.2 L942.0,319.3 L940.1,322.4 L938.3,325.4 L936.6,328.4 L935.2,331.4 L933.9,334.3 L932.8,337.1 L932.0,339.8 L931.4,342.4 L931.0,345.0 L931.0,347.6 L931.3,350.4 L931.7,353.1 L932.2,355.7 L932.7,358.0 L933.1,360.0 L933.4,361.6 M998.7,264.0 L995.7,266.0 L991.5,268.7 L986.5,271.8 L981.1,275.4 L975.4,279.1 L969.9,282.9 L964.8,286.7 L960.4,290.2 L956.8,293.5 L953.4,296.9 L950.3,300.2 L947.5,303.6 L944.8,306.9 L942.4,310.2 L940.1,313.5 L938.0,316.7 L936.0,319.9 L934.1,323.1 L932.4,326.2 L930.8,329.4 L929.5,332.5 L928.3,335.5 L927.4,338.6 L926.6,341.6 L926.2,344.7 L926.2,347.9 L926.5,351.0 L926.9,353.9 L927.5,356.6 L928.0,359.0 L928.4,360.9 L928.6,362.4" stroke="#fff" stroke-opacity="0.15" stroke-width="1.3"/><path d="M1000.0,266.0 L997.0,268.0 L992.8,270.7 L987.8,273.8 L982.4,277.4 L976.7,281.1 L971.3,284.9 L966.2,288.6 L962.0,292.0 L958.4,295.3 L955.1,298.5 L952.1,301.8 L949.3,305.1 L946.7,308.4 L944.4,311.6 L942.1,314.8 L940.0,318.0 L938.0,321.1 L936.2,324.2 L934.5,327.3 L933.0,330.4 L931.7,333.4 L930.6,336.3 L929.7,339.2 L929.0,342.0 L928.6,344.8 L928.6,347.8 L928.9,350.7 L929.3,353.5 L929.8,356.1 L930.3,358.5 L930.8,360.5 L931.0,362.0" stroke="#fff" stroke-opacity="0.12" stroke-width="6.3" filter="url(#b3)"/></g><g fill="none" stroke-linejoin="round" opacity="0.8"><path d="M906.0,462.0 L906.2,464.3 L906.3,467.4 L906.5,471.1 L906.7,475.2" stroke="#7a7088" stroke-width="18.0" stroke-linecap="round"/><path d="M906.5,471.1 L906.7,475.2 L907.0,479.6 L907.5,483.9 L908.1,488.1" stroke="#7e758b" stroke-width="18.0"/><path d="M907.5,483.9 L908.1,488.1 L909.0,492.0 L910.1,495.6 L911.3,499.2" stroke="#837b8e" stroke-width="18.0"/><path d="M910.1,495.6 L911.3,499.2 L912.7,502.8 L914.3,506.3 L916.0,509.8" stroke="#888090" stroke-width="18.0"/><path d="M914.3,506.3 L916.0,509.8 L917.9,513.3 L919.9,516.7 L922.0,520.0" stroke="#8c8593" stroke-width="18.0"/><path d="M919.9,516.7 L922.0,520.0 L924.3,523.3 L926.7,526.6 L929.3,529.8" stroke="#918a96" stroke-width="18.0"/><path d="M926.7,526.6 L929.3,529.8 L932.1,532.9 L934.9,536.0 L937.9,539.1" stroke="#969099" stroke-width="18.0"/><path d="M934.9,536.0 L937.9,539.1 L940.9,542.1 L944.0,545.0 L947.2,547.9" stroke="#958f98" stroke-width="18.0"/><path d="M944.0,545.0 L947.2,547.9 L950.6,550.7 L954.1,553.5 L957.6,556.2" stroke="#908993" stroke-width="18.0"/><path d="M954.1,553.5 L957.6,556.2 L961.2,558.8 L964.9,561.3 L968.5,563.7" stroke="#8b848f" stroke-width="18.0"/><path d="M964.9,561.3 L968.5,563.7 L972.0,566.0 L975.7,568.2 L979.7,570.3" stroke="#857e8b" stroke-width="18.0"/><path d="M975.7,568.2 L979.7,570.3 L983.7,572.4 L987.8,574.3 L991.6,576.1" stroke="#807987" stroke-width="18.0"/><path d="M987.8,574.3 L991.6,576.1 L995.0,577.6 L997.8,579.0 L1000.0,580.0" stroke="#7b7383" stroke-width="18.0"/><path d="M997.8,579.0 L1000.0,580.0" stroke="#787180" stroke-width="18.0" stroke-linecap="round"/><path d="M913.9,461.4 L914.1,463.9 L914.2,467.1 L914.4,470.8 L914.6,474.7 L914.9,478.9 L915.3,482.9 L915.9,486.7 L916.7,490.0 L917.6,493.2 L918.8,496.5 L920.1,499.7 L921.5,503.0 L923.1,506.2 L924.8,509.4 L926.6,512.5 L928.6,515.6 L930.7,518.7 L933.0,521.7 L935.4,524.7 L938.0,527.7 L940.7,530.6 L943.5,533.5 L946.4,536.4 L949.3,539.2 L952.4,541.9 L955.6,544.6 L958.9,547.2 L962.4,549.8 L965.8,552.4 L969.3,554.8 L972.8,557.1 L976.1,559.3 L979.6,561.3 L983.3,563.3 L987.2,565.3 L991.1,567.2 L994.9,568.9 L998.3,570.4 L1001.2,571.8 L1003.4,572.9" stroke="#000" stroke-opacity="0.35" stroke-width="2.5" filter="url(#b1)"/><path d="M898.1,462.6 L898.3,464.8 L898.4,467.8 L898.6,471.5 L898.8,475.8 L899.1,480.3 L899.6,485.0 L900.3,489.6 L901.3,494.0 L902.6,498.1 L903.9,502.0 L905.4,505.8 L907.1,509.7 L909.0,513.4 L911.0,517.1 L913.1,520.8 L915.4,524.4 L917.9,527.9 L920.5,531.4 L923.3,534.9 L926.1,538.2 L929.1,541.5 L932.2,544.7 L935.4,547.8 L938.7,550.8 L942.0,553.9 L945.6,556.8 L949.2,559.7 L952.9,562.5 L956.6,565.3 L960.4,567.9 L964.1,570.4 L967.9,572.7 L971.8,575.1 L976.0,577.3 L980.2,579.5 L984.4,581.5 L988.2,583.3 L991.7,584.8 L994.5,586.1 L996.6,587.1" stroke="#000" stroke-opacity="0.35" stroke-width="2.5" filter="url(#b1)"/><path d="M910.8,461.7 L911.0,464.1 L911.1,467.2 L911.3,470.9 L911.5,474.9 L911.8,479.1 L912.2,483.3 L912.8,487.2 L913.6,490.8 L914.7,494.1 L915.8,497.5 L917.2,500.9 L918.7,504.3 L920.3,507.6 L922.1,510.9 L924.0,514.2 L926.0,517.3 L928.2,520.5 L930.5,523.6 L933.0,526.7 L935.6,529.7 L938.4,532.8 L941.3,535.7 L944.2,538.6 L947.2,541.5 L950.4,544.2 L953.6,547.0 L957.0,549.7 L960.5,552.3 L964.0,554.9 L967.6,557.4 L971.1,559.7 L974.5,561.9 L978.1,564.0 L981.9,566.1 L985.9,568.1 L989.8,570.0 L993.6,571.7 L997.0,573.3 L999.9,574.6 L1002.1,575.7 M906.0,462.0 L906.2,464.3 L906.3,467.4 L906.5,471.1 L906.7,475.2 L907.0,479.6 L907.5,483.9 L908.1,488.1 L909.0,492.0 L910.1,495.6 L911.3,499.2 L912.7,502.8 L914.3,506.3 L916.0,509.8 L917.9,513.3 L919.9,516.7 L922.0,520.0 L924.3,523.3 L926.7,526.6 L929.3,529.8 L932.1,532.9 L934.9,536.0 L937.9,539.1 L940.9,542.1 L944.0,545.0 L947.2,547.9 L950.6,550.7 L954.1,553.5 L957.6,556.2 L961.2,558.8 L964.9,561.3 L968.5,563.7 L972.0,566.0 L975.7,568.2 L979.7,570.3 L983.7,572.4 L987.8,574.3 L991.6,576.1 L995.0,577.6 L997.8,579.0 L1000.0,580.0 M901.2,462.3 L901.4,464.6 L901.5,467.7 L901.7,471.4 L901.9,475.6 L902.2,480.0 L902.7,484.6 L903.4,489.0 L904.4,493.2 L905.5,497.1 L906.8,500.9 L908.3,504.6 L910.0,508.3 L911.8,512.0 L913.7,515.6 L915.8,519.2 L918.0,522.7 L920.4,526.1 L922.9,529.5 L925.6,532.8 L928.5,536.1 L931.4,539.3 L934.5,542.5 L937.6,545.5 L940.8,548.5 L944.1,551.5 L947.5,554.4 L951.1,557.3 L954.8,560.0 L958.5,562.7 L962.2,565.3 L965.8,567.8 L969.5,570.1 L973.3,572.4 L977.4,574.6 L981.6,576.7 L985.7,578.7 L989.5,580.4 L993.0,582.0 L995.8,583.3 L997.9,584.3" stroke="#000" stroke-opacity="0.28" stroke-width="1.3"/><path d="M908.4,461.8 L908.6,464.2 L908.7,467.3 L908.9,471.0 L909.1,475.1 L909.4,479.4 L909.9,483.6 L910.5,487.7 L911.3,491.4 L912.4,494.9 L913.6,498.4 L915.0,501.9 L916.5,505.3 L918.2,508.7 L920.0,512.1 L921.9,515.4 L924.0,518.7 L926.2,521.9 L928.6,525.1 L931.2,528.2 L933.9,531.3 L936.7,534.4 L939.6,537.4 L942.6,540.4 L945.6,543.2 L948.8,546.0 L952.1,548.8 L955.5,551.6 L959.1,554.3 L962.6,556.9 L966.2,559.4 L969.8,561.7 L973.3,564.0 L976.9,566.1 L980.8,568.2 L984.8,570.2 L988.8,572.1 L992.6,573.9 L996.0,575.5 L998.9,576.8 L1001.0,577.8 M903.6,462.2 L903.8,464.5 L903.9,467.5 L904.1,471.3 L904.3,475.4 L904.6,479.8 L905.1,484.2 L905.8,488.6 L906.7,492.6 L907.8,496.4 L909.1,500.0 L910.5,503.7 L912.1,507.3 L913.9,510.9 L915.8,514.4 L917.8,517.9 L920.0,521.3 L922.3,524.7 L924.8,528.0 L927.5,531.3 L930.3,534.5 L933.2,537.7 L936.2,540.8 L939.2,543.8 L942.4,546.8 L945.6,549.7 L949.1,552.6 L952.6,555.4 L956.2,558.1 L959.8,560.8 L963.5,563.3 L967.1,565.7 L970.7,568.0 L974.5,570.3 L978.5,572.4 L982.7,574.5 L986.7,576.5 L990.5,578.3 L994.0,579.8 L996.8,581.1 L999.0,582.2" stroke="#fff" stroke-opacity="0.15" stroke-width="1.3"/><path d="M906.0,462.0 L906.2,464.3 L906.3,467.4 L906.5,471.1 L906.7,475.2 L907.0,479.6 L907.5,483.9 L908.1,488.1 L909.0,492.0 L910.1,495.6 L911.3,499.2 L912.7,502.8 L914.3,506.3 L916.0,509.8 L917.9,513.3 L919.9,516.7 L922.0,520.0 L924.3,523.3 L926.7,526.6 L929.3,529.8 L932.1,532.9 L934.9,536.0 L937.9,539.1 L940.9,542.1 L944.0,545.0 L947.2,547.9 L950.6,550.7 L954.1,553.5 L957.6,556.2 L961.2,558.8 L964.9,561.3 L968.5,563.7 L972.0,566.0 L975.7,568.2 L979.7,570.3 L983.7,572.4 L987.8,574.3 L991.6,576.1 L995.0,577.6 L997.8,579.0 L1000.0,580.0" stroke="#fff" stroke-opacity="0.12" stroke-width="6.3" filter="url(#b3)"/></g><g fill="none" stroke-linejoin="round" opacity="0.85"><path d="M1010.0,262.0 L1011.5,261.2 L1013.6,260.2 L1016.0,258.9 L1018.8,257.5 L1021.6,256.0 L1024.5,254.6" stroke="#6c5d86" stroke-width="20.0" stroke-linecap="round"/><path d="M1021.6,256.0 L1024.5,254.6 L1027.4,253.2 L1030.0,252.0 L1032.6,250.8 L1035.5,249.7 L1038.4,248.5" stroke="#675882" stroke-width="20.0"/><path d="M1035.5,249.7 L1038.4,248.5 L1041.2,247.4 L1044.0,246.3 L1046.4,245.4 L1048.5,244.6 L1050.0,244.0" stroke="#62537f" stroke-width="20.0"/><path d="M1048.5,244.6 L1050.0,244.0" stroke="#5f507d" stroke-width="20.0" stroke-linecap="round"/><path d="M1006.0,254.2 L1007.5,253.4 L1009.6,252.3 L1012.0,251.1 L1014.7,249.7 L1017.7,248.2 L1020.7,246.7 L1023.6,245.3 L1026.4,244.0 L1029.2,242.8 L1032.1,241.5 L1035.1,240.3 L1038.1,239.2 L1040.8,238.1 L1043.3,237.2 L1045.3,236.4 L1046.8,235.8" stroke="#000" stroke-opacity="0.35" stroke-width="2.8" filter="url(#b1)"/><path d="M1014.0,269.8 L1015.6,269.0 L1017.6,268.0 L1020.1,266.7 L1022.8,265.3 L1025.6,263.9 L1028.4,262.5 L1031.1,261.2 L1033.6,260.0 L1036.1,258.9 L1038.8,257.8 L1041.6,256.7 L1044.4,255.6 L1047.1,254.5 L1049.6,253.6 L1051.6,252.8 L1053.2,252.2" stroke="#000" stroke-opacity="0.35" stroke-width="2.8" filter="url(#b1)"/><path d="M1007.6,257.2 L1009.1,256.5 L1011.1,255.4 L1013.6,254.2 L1016.3,252.7 L1019.2,251.3 L1022.2,249.8 L1025.1,248.4 L1027.8,247.1 L1030.5,245.9 L1033.5,244.7 L1036.4,243.5 L1039.3,242.4 L1042.0,241.3 L1044.5,240.4 L1046.5,239.6 L1048.1,239.0 M1010.0,262.0 L1011.5,261.2 L1013.6,260.2 L1016.0,258.9 L1018.8,257.5 L1021.6,256.0 L1024.5,254.6 L1027.4,253.2 L1030.0,252.0 L1032.6,250.8 L1035.5,249.7 L1038.4,248.5 L1041.2,247.4 L1044.0,246.3 L1046.4,245.4 L1048.5,244.6 L1050.0,244.0 M1012.4,266.8 L1014.0,266.0 L1016.0,264.9 L1018.5,263.6 L1021.2,262.3 L1024.0,260.8 L1026.9,259.4 L1029.6,258.0 L1032.2,256.9 L1034.7,255.8 L1037.5,254.6 L1040.3,253.5 L1043.2,252.3 L1045.9,251.3 L1048.3,250.4 L1050.4,249.6 L1051.9,249.0" stroke="#000" stroke-opacity="0.28" stroke-width="1.3"/><path d="M1008.8,259.6 L1010.3,258.8 L1012.4,257.8 L1014.8,256.5 L1017.5,255.1 L1020.4,253.7 L1023.4,252.2 L1026.2,250.8 L1028.9,249.6 L1031.6,248.4 L1034.5,247.2 L1037.4,246.0 L1040.3,244.9 L1043.0,243.8 L1045.5,242.9 L1047.5,242.1 L1049.0,241.5 M1011.2,264.4 L1012.8,263.6 L1014.8,262.5 L1017.3,261.3 L1020.0,259.9 L1022.8,258.4 L1025.7,257.0 L1028.5,255.6 L1031.1,254.4 L1033.7,253.3 L1036.5,252.1 L1039.4,251.0 L1042.2,249.9 L1044.9,248.8 L1047.4,247.9 L1049.4,247.1 L1051.0,246.5" stroke="#fff" stroke-opacity="0.15" stroke-width="1.3"/></g><g fill="none" stroke-linejoin="round" opacity="0.9"><path d="M980.0,272.0 L981.5,272.8 L983.6,273.8 L986.0,275.0 L988.8,276.4 L991.6,277.8" stroke="#605663" stroke-width="20.0" stroke-linecap="round"/><path d="M988.8,276.4 L991.6,277.8 L994.5,279.3 L997.4,280.7 L1000.0,282.0 L1002.5,283.3" stroke="#615762" stroke-width="20.0"/><path d="M1000.0,282.0 L1002.5,283.3 L1004.9,284.5 L1007.3,285.8 L1009.7,287.1 L1012.1,288.4" stroke="#635961" stroke-width="20.0"/><path d="M1009.7,287.1 L1012.1,288.4 L1014.6,289.6 L1017.3,290.8 L1020.0,292.0 L1023.1,293.2" stroke="#645b60" stroke-width="20.0"/><path d="M1020.0,292.0 L1023.1,293.2 L1026.5,294.3 L1030.1,295.5 L1033.8,296.6 L1037.2,297.7" stroke="#665d5e" stroke-width="20.0"/><path d="M1033.8,296.6 L1037.2,297.7 L1040.4,298.6 L1043.0,299.4 L1045.0,300.0" stroke="#685f5d" stroke-width="20.0" stroke-linecap="round"/><path d="M983.9,264.1 L985.5,264.9 L987.5,265.9 L990.0,267.1 L992.7,268.5 L995.6,269.9 L998.5,271.4 L1001.3,272.8 L1004.0,274.1 L1006.5,275.5 L1009.0,276.8 L1011.4,278.1 L1013.8,279.3 L1016.1,280.5 L1018.4,281.7 L1020.8,282.8 L1023.3,283.8 L1026.0,284.9 L1029.3,286.0 L1032.8,287.1 L1036.3,288.2 L1039.8,289.2 L1042.9,290.2 L1045.6,291.0 L1047.6,291.6" stroke="#000" stroke-opacity="0.35" stroke-width="2.8" filter="url(#b1)"/><path d="M976.1,279.9 L977.6,280.6 L979.7,281.7 L982.1,282.9 L984.8,284.2 L987.7,285.7 L990.6,287.1 L993.4,288.6 L996.0,289.9 L998.4,291.1 L1000.7,292.3 L1003.1,293.6 L1005.6,294.9 L1008.2,296.2 L1010.9,297.6 L1013.7,298.9 L1016.7,300.2 L1020.1,301.4 L1023.7,302.7 L1027.5,303.9 L1031.2,305.0 L1034.7,306.1 L1037.9,307.0 L1040.5,307.8 L1042.4,308.4" stroke="#000" stroke-opacity="0.35" stroke-width="2.8" filter="url(#b1)"/><path d="M982.4,267.2 L983.9,268.0 L986.0,269.0 L988.4,270.2 L991.1,271.6 L994.0,273.0 L996.9,274.5 L999.7,275.9 L1002.4,277.2 L1004.9,278.5 L1007.4,279.8 L1009.8,281.1 L1012.2,282.4 L1014.5,283.6 L1016.9,284.8 L1019.4,286.0 L1022.0,287.0 L1024.9,288.1 L1028.2,289.3 L1031.7,290.4 L1035.3,291.5 L1038.8,292.6 L1041.9,293.5 L1044.6,294.3 L1046.6,294.9 M980.0,272.0 L981.5,272.8 L983.6,273.8 L986.0,275.0 L988.8,276.4 L991.6,277.8 L994.5,279.3 L997.4,280.7 L1000.0,282.0 L1002.5,283.3 L1004.9,284.5 L1007.3,285.8 L1009.7,287.1 L1012.1,288.4 L1014.6,289.6 L1017.3,290.8 L1020.0,292.0 L1023.1,293.2 L1026.5,294.3 L1030.1,295.5 L1033.8,296.6 L1037.2,297.7 L1040.4,298.6 L1043.0,299.4 L1045.0,300.0 M977.6,276.8 L979.2,277.5 L981.2,278.6 L983.7,279.8 L986.4,281.1 L989.2,282.6 L992.1,284.0 L995.0,285.5 L997.6,286.8 L1000.0,288.0 L1002.4,289.3 L1004.8,290.5 L1007.2,291.8 L1009.7,293.2 L1012.3,294.5 L1015.1,295.7 L1018.0,297.0 L1021.3,298.2 L1024.8,299.4 L1028.5,300.6 L1032.2,301.7 L1035.7,302.8 L1038.9,303.7 L1041.5,304.5 L1043.4,305.1" stroke="#000" stroke-opacity="0.28" stroke-width="1.3"/><path d="M981.2,269.6 L982.7,270.4 L984.8,271.4 L987.2,272.6 L989.9,274.0 L992.8,275.4 L995.7,276.9 L998.6,278.3 L1001.2,279.6 L1003.7,280.9 L1006.1,282.2 L1008.5,283.5 L1010.9,284.8 L1013.3,286.0 L1015.8,287.2 L1018.3,288.4 L1021.0,289.5 L1024.0,290.6 L1027.3,291.8 L1030.9,293.0 L1034.5,294.1 L1038.0,295.1 L1041.1,296.1 L1043.8,296.8 L1045.8,297.5 M978.8,274.4 L980.4,275.2 L982.4,276.2 L984.8,277.4 L987.6,278.8 L990.4,280.2 L993.3,281.7 L996.2,283.1 L998.8,284.4 L1001.2,285.6 L1003.6,286.9 L1006.0,288.2 L1008.4,289.5 L1010.9,290.8 L1013.5,292.0 L1016.2,293.3 L1019.0,294.5 L1022.2,295.7 L1025.6,296.9 L1029.3,298.0 L1033.0,299.2 L1036.5,300.2 L1039.6,301.2 L1042.3,301.9 L1044.2,302.5" stroke="#fff" stroke-opacity="0.15" stroke-width="1.3"/></g><path d="M888,378 L914,386 L913,407 L887,407 Z" fill="#b4a89e" opacity="0.75" filter="url(#b2)"/><g fill="none" stroke-linejoin="round"><path d="M1008.0,410.0 L1006.7,409.3 L1004.9,408.4 L1002.9,407.2 L1000.6,406.0 L998.1,404.7" stroke="#4b433f" stroke-width="29.0"/><path d="M1000.6,406.0 L998.1,404.7 L995.4,403.4 L992.7,402.1 L990.0,401.0 L987.2,399.9" stroke="#4a4041" stroke-width="29.0"/><path d="M990.0,401.0 L987.2,399.9 L984.2,398.9 L981.1,397.9 L977.9,396.9 L974.7,395.9" stroke="#483d44" stroke-width="29.0"/><path d="M977.9,396.9 L974.7,395.9 L971.4,394.9 L968.2,393.9 L965.0,393.0 L961.9,392.1" stroke="#453946" stroke-width="29.0"/><path d="M965.0,393.0 L961.9,392.1 L958.7,391.2 L955.5,390.3 L952.3,389.5 L949.2,388.7" stroke="#413348" stroke-width="29.0"/><path d="M952.3,389.5 L949.2,388.7 L946.0,387.8 L943.0,386.9 L940.0,386.0 L937.1,385.1" stroke="#3d2e4b" stroke-width="29.0"/><path d="M940.0,386.0 L937.1,385.1 L934.1,384.2 L931.2,383.3 L928.3,382.4 L925.5,381.5" stroke="#372748" stroke-width="29.0"/><path d="M928.3,382.4 L925.5,381.5 L922.9,380.4 L920.3,379.3 L918.0,378.0 L915.8,376.6" stroke="#2c1d3a" stroke-width="29.0"/><path d="M918.0,378.0 L915.8,376.6 L913.7,375.0 L911.8,373.4 L910.0,371.6 L908.3,369.8" stroke="#22142d" stroke-width="29.0"/><path d="M910.0,371.6 L908.3,369.8 L906.7,367.9 L905.3,366.0 L904.0,364.0 L902.9,361.9" stroke="#20132a" stroke-width="29.0"/><path d="M904.0,364.0 L902.9,361.9 L901.9,359.7 L901.0,357.5 L900.3,355.1 L899.7,352.8" stroke="#1f1229" stroke-width="29.0"/><path d="M900.3,355.1 L899.7,352.8 L899.2,350.5 L898.8,348.2 L898.5,346.0 L898.3,343.9" stroke="#24192a" stroke-width="29.0"/><path d="M898.5,346.0 L898.3,343.9 L898.3,341.9 L898.4,339.9 L898.5,338.0 L898.8,336.1" stroke="#2c222c" stroke-width="29.0"/><path d="M898.5,338.0 L898.8,336.1 L899.1,334.1 L899.5,332.1 L900.0,330.0 L900.5,327.9" stroke="#3d3336" stroke-width="29.0"/><path d="M900.0,330.0 L900.5,327.9 L901.0,325.8 L901.5,323.7 L902.2,321.5 L902.9,319.3" stroke="#504642" stroke-width="29.0"/><path d="M902.2,321.5 L902.9,319.3 L903.8,317.0 L904.8,314.6 L906.0,312.0 L907.4,309.3" stroke="#5f554b" stroke-width="29.0"/><path d="M906.0,312.0 L907.4,309.3 L909.0,306.3 L910.7,303.3 L912.6,300.1 L914.5,297.0" stroke="#61574d" stroke-width="29.0"/><path d="M912.6,300.1 L914.5,297.0 L916.6,293.9 L918.8,290.8 L921.0,288.0 L923.3,285.3" stroke="#645a50" stroke-width="29.0"/><path d="M921.0,288.0 L923.3,285.3 L925.9,282.5 L928.5,279.9 L931.2,277.2 L933.9,274.7" stroke="#685e52" stroke-width="29.0"/><path d="M931.2,277.2 L933.9,274.7 L936.7,272.3 L939.4,270.1 L942.0,268.0 L944.5,266.1" stroke="#6b6155" stroke-width="29.0"/><path d="M942.0,268.0 L944.5,266.1 L946.9,264.5 L949.3,263.0 L951.7,261.6 L954.1,260.3" stroke="#6b6256" stroke-width="29.0"/><path d="M951.7,261.6 L954.1,260.3 L956.6,259.0 L959.2,257.5 L962.0,256.0 L965.0,254.3" stroke="#6a6156" stroke-width="29.0"/><path d="M962.0,256.0 L965.0,254.3 L968.1,252.6 L971.4,250.8 L974.8,248.9 L978.2,247.1" stroke="#696056" stroke-width="29.0"/><path d="M974.8,248.9 L978.2,247.1 L981.6,245.3 L984.9,243.6 L988.0,242.0 L991.0,240.4" stroke="#685f56" stroke-width="29.0"/><path d="M988.0,242.0 L991.0,240.4 L993.9,238.9 L996.8,237.4 L999.6,235.9 L1002.4,234.5" stroke="#675f56" stroke-width="29.0"/><path d="M999.6,235.9 L1002.4,234.5 L1005.2,233.2 L1008.0,232.0 L1011.0,231.0 L1014.1,230.1" stroke="#665e56" stroke-width="29.0"/><path d="M1011.0,231.0 L1014.1,230.1 L1017.3,229.3 L1020.6,228.5 L1023.9,227.9 L1027.2,227.4" stroke="#52435e" stroke-width="29.0"/><path d="M1023.9,227.9 L1027.2,227.4 L1030.3,227.0 L1033.3,226.7 L1036.0,226.5 L1038.4,226.4" stroke="#412d5f" stroke-width="29.0"/><path d="M1036.0,226.5 L1038.4,226.4 L1040.7,226.5 L1042.7,226.6 L1044.7,226.9 L1046.5,227.3" stroke="#372159" stroke-width="29.0"/><path d="M1044.7,226.9 L1046.5,227.3 L1048.4,227.8 L1050.2,228.3 L1052.0,229.0 L1053.9,229.8" stroke="#301855" stroke-width="29.0"/><path d="M1052.0,229.0 L1053.9,229.8 L1055.8,230.8 L1057.7,231.9 L1059.5,233.2 L1061.3,234.4" stroke="#281444" stroke-width="29.0"/><path d="M1059.5,233.2 L1061.3,234.4 L1063.0,235.7 L1064.6,236.9 L1066.0,238.0 L1067.3,239.1" stroke="#20112f" stroke-width="29.0"/><path d="M1066.0,238.0 L1067.3,239.1 L1068.6,240.3 L1069.8,241.4 L1070.9,242.6 L1071.8,243.6" stroke="#1f122b" stroke-width="29.0"/><path d="M1070.9,242.6 L1071.8,243.6 L1072.7,244.6 L1073.4,245.4 L1074.0,246.0" stroke="#261537" stroke-width="29.0" stroke-linecap="round"/><path d="M1002.1,421.3 L1000.6,420.6 L998.8,419.6 L996.8,418.5 L994.6,417.3 L992.3,416.1 L989.9,414.9 L987.6,413.8 L985.3,412.9 L982.8,411.9 L980.1,411.0 L977.2,410.0 L974.2,409.1 L971.0,408.1 L967.8,407.1 L964.5,406.2 L961.4,405.2 L958.4,404.4 L955.3,403.5 L952.2,402.7 L949.0,401.8 L945.8,401.0 L942.6,400.1 L939.3,399.1 L936.2,398.2 L933.3,397.3 L930.5,396.4 L927.4,395.5 L924.3,394.6 L921.1,393.5 L917.9,392.2 L914.6,390.7 L911.4,388.9 L908.5,387.0 L905.8,385.0 L903.3,382.9 L900.9,380.6 L898.7,378.2 L896.7,375.8 L894.8,373.2 L893.1,370.6 L891.4,367.6 L890.1,364.6 L888.9,361.6 L888.0,358.6 L887.3,355.7 L886.7,352.9 L886.2,350.1 L885.8,347.4 L885.6,344.6 L885.5,341.8 L885.6,339.1 L885.9,336.5 L886.2,334.1 L886.6,331.7 L887.1,329.5 L887.5,327.3 L888.0,325.0 L888.6,322.7 L889.2,320.3 L890.0,317.7 L890.9,315.0 L891.9,312.2 L893.2,309.3 L894.6,306.3 L896.1,303.3 L897.8,300.2 L899.7,296.9 L901.7,293.5 L903.8,290.0 L906.1,286.6 L908.6,283.2 L911.1,279.9 L913.8,276.8 L916.6,273.7 L919.5,270.8 L922.5,267.9 L925.4,265.2 L928.4,262.6 L931.3,260.2 L934.2,257.9 L937.1,255.7 L940.0,253.8 L942.7,252.1 L945.4,250.5 L948.0,249.1 L950.6,247.7 L953.1,246.3 L955.8,244.9 L958.8,243.2 L962.0,241.4 L965.3,239.6 L968.8,237.7 L972.2,235.9 L975.6,234.0 L979.0,232.3 L982.1,230.7 L985.1,229.1 L987.9,227.6 L990.8,226.1 L993.8,224.5 L996.9,223.0 L1000.1,221.5 L1003.5,220.1 L1007.1,218.9 L1010.7,217.8 L1014.4,216.8 L1018.1,216.0 L1021.8,215.3 L1025.4,214.8 L1028.9,214.3 L1032.2,214.0 L1035.4,213.8 L1038.4,213.7 L1041.3,213.7 L1044.1,214.0 L1046.8,214.3 L1049.4,214.8 L1051.9,215.5 L1054.3,216.3 L1056.7,217.2 L1059.4,218.3 L1062.0,219.7 L1064.5,221.1 L1066.7,222.6 L1068.8,224.1 L1070.6,225.5 L1072.3,226.8 L1074.0,228.0 L1075.7,229.5 L1077.4,231.0 L1078.9,232.5 L1080.2,233.9 L1081.3,235.1 L1082.2,236.1 L1082.8,236.8 L1083.3,237.2" stroke="#000" stroke-opacity="0.35" stroke-width="4.1" filter="url(#b1)"/><path d="M1013.9,398.7 L1012.7,398.0 L1011.0,397.2 L1008.9,396.0 L1006.5,394.7 L1003.8,393.3 L1000.9,391.9 L997.9,390.5 L994.7,389.1 L991.6,388.0 L988.3,386.8 L985.1,385.7 L981.7,384.7 L978.4,383.7 L975.1,382.7 L971.8,381.7 L968.6,380.8 L965.3,379.8 L962.0,378.9 L958.8,378.0 L955.6,377.2 L952.5,376.3 L949.5,375.5 L946.6,374.7 L943.8,373.8 L940.8,372.9 L937.7,372.0 L934.9,371.1 L932.3,370.3 L929.9,369.5 L927.8,368.7 L926.1,367.9 L924.6,367.1 L923.1,366.1 L921.7,365.0 L920.3,363.9 L919.0,362.7 L917.9,361.4 L916.8,360.1 L915.8,358.7 L914.9,357.4 L914.3,356.2 L913.7,354.9 L913.1,353.3 L912.6,351.6 L912.1,349.9 L911.7,348.0 L911.4,346.2 L911.2,344.6 L911.1,343.2 L911.0,342.0 L911.1,340.8 L911.2,339.5 L911.4,338.0 L911.7,336.5 L912.0,334.7 L912.5,332.7 L912.9,330.8 L913.4,328.9 L913.8,327.1 L914.3,325.3 L914.9,323.5 L915.6,321.7 L916.4,319.8 L917.4,317.7 L918.7,315.2 L920.2,312.5 L921.7,309.6 L923.5,306.8 L925.3,303.9 L927.1,301.1 L929.0,298.5 L930.9,296.1 L932.9,293.7 L935.1,291.3 L937.5,288.9 L939.9,286.6 L942.4,284.3 L945.0,282.1 L947.5,280.0 L949.8,278.1 L951.9,276.5 L953.9,275.2 L955.9,273.9 L958.0,272.7 L960.2,271.5 L962.7,270.2 L965.3,268.7 L968.2,267.1 L971.2,265.5 L974.3,263.7 L977.5,262.0 L980.9,260.2 L984.2,258.4 L987.5,256.6 L990.7,254.9 L993.9,253.3 L996.9,251.7 L999.9,250.1 L1002.7,248.7 L1005.4,247.3 L1007.9,246.0 L1010.3,244.9 L1012.6,244.0 L1014.9,243.1 L1017.5,242.4 L1020.3,241.7 L1023.2,241.0 L1026.1,240.5 L1029.0,240.0 L1031.8,239.7 L1034.4,239.4 L1036.6,239.2 L1038.5,239.2 L1040.1,239.2 L1041.4,239.3 L1042.6,239.5 L1043.7,239.7 L1044.8,240.0 L1046.0,240.4 L1047.3,240.8 L1048.4,241.3 L1049.5,241.9 L1050.9,242.7 L1052.3,243.7 L1053.8,244.7 L1055.3,245.9 L1056.8,247.0 L1058.0,248.0 L1059.0,248.8 L1059.8,249.5 L1060.7,250.4 L1061.5,251.3 L1062.4,252.2 L1063.2,253.1 L1064.0,254.0 L1064.7,254.8" stroke="#000" stroke-opacity="0.35" stroke-width="4.1" filter="url(#b1)"/><path d="M1003.7,418.2 L1002.3,417.5 L1000.5,416.5 L998.5,415.4 L996.2,414.2 L993.9,413.0 L991.4,411.8 L989.0,410.6 L986.6,409.6 L984.0,408.7 L981.3,407.7 L978.3,406.7 L975.2,405.7 L972.0,404.8 L968.8,403.8 L965.5,402.8 L962.4,401.9 L959.3,401.0 L956.2,400.2 L953.1,399.3 L949.9,398.5 L946.7,397.6 L943.5,396.7 L940.3,395.8 L937.3,394.9 L934.4,394.0 L931.4,393.1 L928.5,392.2 L925.4,391.3 L922.3,390.2 L919.3,389.0 L916.2,387.6 L913.2,386.0 L910.5,384.2 L908.0,382.3 L905.6,380.3 L903.4,378.1 L901.3,375.9 L899.4,373.6 L897.7,371.3 L896.0,368.8 L894.6,366.1 L893.3,363.3 L892.2,360.5 L891.4,357.7 L890.6,354.9 L890.1,352.2 L889.6,349.6 L889.3,347.0 L889.1,344.4 L889.0,341.8 L889.1,339.3 L889.3,336.9 L889.6,334.6 L890.0,332.4 L890.5,330.2 L890.9,328.0 L891.4,325.8 L892.0,323.5 L892.6,321.2 L893.3,318.7 L894.1,316.2 L895.1,313.5 L896.3,310.7 L897.7,307.9 L899.2,304.9 L900.8,301.9 L902.7,298.6 L904.6,295.3 L906.7,291.9 L909.0,288.6 L911.3,285.3 L913.8,282.1 L916.4,279.1 L919.1,276.1 L922.0,273.3 L924.8,270.5 L927.8,267.8 L930.7,265.3 L933.5,262.9 L936.3,260.7 L939.1,258.6 L941.9,256.7 L944.5,255.0 L947.1,253.5 L949.7,252.1 L952.2,250.8 L954.8,249.4 L957.5,247.9 L960.5,246.2 L963.7,244.4 L967.0,242.6 L970.4,240.8 L973.8,238.9 L977.2,237.1 L980.6,235.4 L983.7,233.8 L986.7,232.2 L989.5,230.7 L992.4,229.2 L995.4,227.6 L998.4,226.1 L1001.5,224.7 L1004.7,223.4 L1008.1,222.2 L1011.6,221.1 L1015.2,220.2 L1018.8,219.4 L1022.4,218.8 L1025.9,218.2 L1029.3,217.8 L1032.5,217.4 L1035.6,217.2 L1038.4,217.2 L1041.1,217.2 L1043.7,217.4 L1046.2,217.8 L1048.6,218.2 L1050.9,218.8 L1053.2,219.5 L1055.4,220.4 L1057.9,221.5 L1060.3,222.7 L1062.6,224.1 L1064.7,225.5 L1066.7,226.9 L1068.6,228.3 L1070.2,229.5 L1071.8,230.7 L1073.4,232.1 L1075.0,233.5 L1076.4,234.9 L1077.7,236.2 L1078.7,237.4 L1079.6,238.4 L1080.3,239.1 L1080.7,239.6 M1005.8,414.1 L1004.5,413.4 L1002.7,412.4 L1000.7,411.3 L998.4,410.1 L996.0,408.8 L993.4,407.6 L990.8,406.4 L988.3,405.3 L985.6,404.3 L982.7,403.3 L979.7,402.3 L976.6,401.3 L973.3,400.3 L970.1,399.4 L966.9,398.4 L963.7,397.5 L960.6,396.5 L957.5,395.7 L954.3,394.8 L951.1,394.0 L947.9,393.1 L944.8,392.3 L941.7,391.4 L938.6,390.4 L935.7,389.5 L932.8,388.7 L929.8,387.8 L926.9,386.8 L923.9,385.8 L921.1,384.7 L918.3,383.4 L915.6,382.0 L913.1,380.4 L910.8,378.6 L908.7,376.8 L906.7,374.9 L904.8,372.9 L903.1,370.8 L901.5,368.6 L900.0,366.4 L898.7,364.0 L897.6,361.5 L896.6,359.0 L895.8,356.4 L895.2,353.8 L894.6,351.3 L894.2,348.9 L893.9,346.5 L893.7,344.2 L893.6,341.9 L893.7,339.6 L893.9,337.5 L894.2,335.3 L894.6,333.2 L895.0,331.1 L895.5,329.0 L896.0,326.8 L896.5,324.7 L897.1,322.4 L897.7,320.1 L898.5,317.7 L899.5,315.2 L900.6,312.6 L901.8,309.9 L903.3,307.1 L904.9,304.1 L906.7,300.9 L908.6,297.7 L910.6,294.4 L912.8,291.2 L915.1,288.1 L917.4,285.1 L919.9,282.2 L922.5,279.3 L925.2,276.6 L928.0,273.9 L930.8,271.3 L933.7,268.8 L936.4,266.5 L939.2,264.3 L941.8,262.4 L944.4,260.6 L946.9,259.0 L949.4,257.6 L951.9,256.2 L954.4,254.9 L957.0,253.5 L959.7,251.9 L962.7,250.3 L965.9,248.5 L969.2,246.7 L972.6,244.9 L976.0,243.0 L979.4,241.2 L982.7,239.5 L985.9,237.9 L988.8,236.3 L991.7,234.8 L994.6,233.3 L997.5,231.8 L1000.4,230.3 L1003.3,229.0 L1006.4,227.7 L1009.6,226.6 L1012.9,225.6 L1016.2,224.7 L1019.7,224.0 L1023.1,223.3 L1026.5,222.8 L1029.8,222.4 L1032.9,222.1 L1035.8,221.9 L1038.4,221.8 L1040.9,221.8 L1043.2,222.0 L1045.5,222.3 L1047.6,222.8 L1049.6,223.3 L1051.7,223.9 L1053.7,224.7 L1055.9,225.6 L1058.1,226.8 L1060.1,228.0 L1062.1,229.3 L1064.0,230.7 L1065.8,232.0 L1067.4,233.2 L1068.9,234.4 L1070.4,235.6 L1071.8,236.9 L1073.1,238.2 L1074.3,239.4 L1075.3,240.5 L1076.2,241.5 L1076.8,242.3 L1077.4,242.8 M1008.0,410.0 L1006.7,409.3 L1004.9,408.4 L1002.9,407.2 L1000.6,406.0 L998.1,404.7 L995.4,403.4 L992.7,402.1 L990.0,401.0 L987.2,399.9 L984.2,398.9 L981.1,397.9 L977.9,396.9 L974.7,395.9 L971.4,394.9 L968.2,393.9 L965.0,393.0 L961.9,392.1 L958.7,391.2 L955.5,390.3 L952.3,389.5 L949.2,388.7 L946.0,387.8 L943.0,386.9 L940.0,386.0 L937.1,385.1 L934.1,384.2 L931.2,383.3 L928.3,382.4 L925.5,381.5 L922.9,380.4 L920.3,379.3 L918.0,378.0 L915.8,376.6 L913.7,375.0 L911.8,373.4 L910.0,371.6 L908.3,369.8 L906.7,367.9 L905.3,366.0 L904.0,364.0 L902.9,361.9 L901.9,359.7 L901.0,357.5 L900.3,355.1 L899.7,352.8 L899.2,350.5 L898.8,348.2 L898.5,346.0 L898.3,343.9 L898.3,341.9 L898.4,339.9 L898.5,338.0 L898.8,336.1 L899.1,334.1 L899.5,332.1 L900.0,330.0 L900.5,327.9 L901.0,325.8 L901.5,323.7 L902.2,321.5 L902.9,319.3 L903.8,317.0 L904.8,314.6 L906.0,312.0 L907.4,309.3 L909.0,306.3 L910.7,303.3 L912.6,300.1 L914.5,297.0 L916.6,293.9 L918.8,290.8 L921.0,288.0 L923.3,285.3 L925.9,282.5 L928.5,279.9 L931.2,277.2 L933.9,274.7 L936.7,272.3 L939.4,270.1 L942.0,268.0 L944.5,266.1 L946.9,264.5 L949.3,263.0 L951.7,261.6 L954.1,260.3 L956.6,259.0 L959.2,257.5 L962.0,256.0 L965.0,254.3 L968.1,252.6 L971.4,250.8 L974.8,248.9 L978.2,247.1 L981.6,245.3 L984.9,243.6 L988.0,242.0 L991.0,240.4 L993.9,238.9 L996.8,237.4 L999.6,235.9 L1002.4,234.5 L1005.2,233.2 L1008.0,232.0 L1011.0,231.0 L1014.1,230.1 L1017.3,229.3 L1020.6,228.5 L1023.9,227.9 L1027.2,227.4 L1030.3,227.0 L1033.3,226.7 L1036.0,226.5 L1038.4,226.4 L1040.7,226.5 L1042.7,226.6 L1044.7,226.9 L1046.5,227.3 L1048.4,227.8 L1050.2,228.3 L1052.0,229.0 L1053.9,229.8 L1055.8,230.8 L1057.7,231.9 L1059.5,233.2 L1061.3,234.4 L1063.0,235.7 L1064.6,236.9 L1066.0,238.0 L1067.3,239.1 L1068.6,240.3 L1069.8,241.4 L1070.9,242.6 L1071.8,243.6 L1072.7,244.6 L1073.4,245.4 L1074.0,246.0 M1010.2,405.9 L1008.8,405.2 L1007.1,404.3 L1005.1,403.2 L1002.7,401.9 L1000.2,400.6 L997.4,399.2 L994.6,397.9 L991.7,396.7 L988.8,395.6 L985.7,394.5 L982.6,393.5 L979.3,392.4 L976.0,391.4 L972.7,390.5 L969.5,389.5 L966.3,388.5 L963.1,387.6 L959.9,386.7 L956.7,385.9 L953.5,385.0 L950.4,384.2 L947.3,383.3 L944.3,382.5 L941.4,381.6 L938.4,380.6 L935.4,379.8 L932.5,378.9 L929.8,378.0 L927.1,377.1 L924.7,376.2 L922.4,375.1 L920.4,374.0 L918.5,372.8 L916.6,371.4 L914.9,369.9 L913.3,368.4 L911.8,366.7 L910.4,365.1 L909.1,363.3 L908.0,361.6 L907.0,359.8 L906.2,358.0 L905.4,355.9 L904.7,353.9 L904.2,351.7 L903.7,349.6 L903.4,347.5 L903.1,345.5 L903.0,343.7 L902.9,341.9 L903.0,340.2 L903.1,338.5 L903.4,336.8 L903.7,335.0 L904.1,333.0 L904.5,331.0 L905.0,328.9 L905.5,326.9 L906.0,324.9 L906.6,322.9 L907.3,320.8 L908.1,318.7 L909.0,316.5 L910.2,314.1 L911.5,311.4 L913.0,308.6 L914.7,305.6 L916.5,302.5 L918.4,299.5 L920.4,296.5 L922.5,293.6 L924.6,290.9 L926.8,288.3 L929.2,285.7 L931.7,283.2 L934.4,280.6 L937.0,278.2 L939.7,275.9 L942.3,273.7 L944.8,271.7 L947.2,269.9 L949.5,268.4 L951.7,267.0 L954.0,265.7 L956.3,264.4 L958.8,263.0 L961.4,261.6 L964.3,260.1 L967.2,258.4 L970.4,256.6 L973.7,254.8 L977.0,253.0 L980.4,251.2 L983.7,249.4 L987.0,247.7 L990.1,246.1 L993.2,244.5 L996.1,243.0 L998.9,241.5 L1001.7,240.0 L1004.4,238.7 L1007.0,237.5 L1009.7,236.4 L1012.4,235.4 L1015.3,234.6 L1018.4,233.8 L1021.5,233.1 L1024.7,232.5 L1027.9,232.0 L1030.9,231.6 L1033.7,231.3 L1036.2,231.1 L1038.5,231.1 L1040.5,231.1 L1042.3,231.3 L1043.9,231.5 L1045.5,231.8 L1047.1,232.2 L1048.7,232.7 L1050.3,233.3 L1051.9,234.0 L1053.5,234.9 L1055.2,235.9 L1056.9,237.0 L1058.6,238.2 L1060.2,239.4 L1061.7,240.6 L1063.1,241.6 L1064.3,242.6 L1065.4,243.6 L1066.5,244.7 L1067.5,245.7 L1068.4,246.7 L1069.2,247.7 L1070.0,248.5 L1070.6,249.2 M1012.3,401.8 L1011.0,401.1 L1009.4,400.2 L1007.3,399.1 L1004.9,397.8 L1002.2,396.4 L999.4,395.0 L996.5,393.6 L993.4,392.4 L990.4,391.2 L987.2,390.1 L984.0,389.0 L980.7,388.0 L977.4,387.0 L974.1,386.0 L970.8,385.0 L967.6,384.1 L964.4,383.2 L961.1,382.3 L957.9,381.4 L954.7,380.5 L951.6,379.7 L948.6,378.9 L945.6,378.0 L942.7,377.1 L939.7,376.2 L936.8,375.3 L933.9,374.5 L931.2,373.6 L928.7,372.8 L926.5,371.9 L924.5,371.0 L922.8,370.0 L921.1,369.0 L919.5,367.8 L918.0,366.5 L916.6,365.1 L915.2,363.7 L914.0,362.2 L912.9,360.7 L912.0,359.2 L911.2,357.8 L910.4,356.2 L909.8,354.4 L909.2,352.6 L908.7,350.7 L908.3,348.7 L908.0,346.8 L907.7,345.0 L907.6,343.4 L907.6,342.0 L907.6,340.5 L907.8,339.1 L908.0,337.5 L908.3,335.8 L908.6,334.0 L909.1,332.0 L909.5,330.0 L910.0,328.0 L910.5,326.1 L911.0,324.3 L911.6,322.4 L912.4,320.4 L913.2,318.4 L914.3,316.1 L915.6,313.6 L917.1,310.8 L918.7,307.9 L920.5,305.0 L922.3,302.0 L924.2,299.1 L926.2,296.4 L928.2,293.9 L930.3,291.4 L932.6,288.9 L935.0,286.5 L937.5,284.0 L940.1,281.7 L942.7,279.4 L945.3,277.3 L947.7,275.3 L949.9,273.7 L952.0,272.3 L954.1,271.0 L956.2,269.7 L958.5,268.4 L961.0,267.1 L963.7,265.7 L966.5,264.1 L969.5,262.4 L972.6,260.7 L975.9,258.9 L979.2,257.1 L982.6,255.3 L985.9,253.5 L989.1,251.9 L992.3,250.2 L995.3,248.6 L998.3,247.1 L1001.1,245.6 L1003.8,244.2 L1006.4,242.9 L1008.9,241.7 L1011.4,240.7 L1013.9,239.8 L1016.6,239.0 L1019.5,238.3 L1022.5,237.6 L1025.5,237.0 L1028.5,236.6 L1031.4,236.2 L1034.1,235.9 L1036.4,235.8 L1038.5,235.7 L1040.2,235.7 L1041.8,235.9 L1043.1,236.1 L1044.5,236.3 L1045.8,236.7 L1047.2,237.1 L1048.6,237.6 L1049.9,238.2 L1051.2,238.9 L1052.7,239.8 L1054.3,240.8 L1055.8,241.9 L1057.4,243.1 L1058.9,244.2 L1060.2,245.3 L1061.3,246.1 L1062.2,247.0 L1063.2,247.9 L1064.1,248.9 L1065.0,249.9 L1065.8,250.8 L1066.6,251.7 L1067.3,252.4" stroke="#000" stroke-opacity="0.28" stroke-width="1.3"/><path d="M1004.8,416.2 L1003.4,415.4 L1001.6,414.5 L999.6,413.4 L997.3,412.2 L994.9,410.9 L992.4,409.7 L989.9,408.5 L987.4,407.5 L984.8,406.5 L982.0,405.5 L979.0,404.5 L975.9,403.5 L972.7,402.5 L969.4,401.6 L966.2,400.6 L963.0,399.7 L960.0,398.8 L956.8,397.9 L953.7,397.1 L950.5,396.2 L947.3,395.4 L944.2,394.5 L941.0,393.6 L938.0,392.7 L935.0,391.7 L932.1,390.9 L929.1,390.0 L926.1,389.1 L923.1,388.0 L920.2,386.9 L917.2,385.5 L914.4,384.0 L911.8,382.3 L909.4,380.5 L907.1,378.5 L905.0,376.5 L903.0,374.4 L901.2,372.2 L899.6,369.9 L898.0,367.6 L896.6,365.0 L895.4,362.4 L894.4,359.7 L893.6,357.0 L892.9,354.4 L892.3,351.8 L891.9,349.2 L891.6,346.8 L891.4,344.3 L891.3,341.9 L891.4,339.5 L891.6,337.2 L891.9,335.0 L892.3,332.8 L892.7,330.7 L893.2,328.5 L893.7,326.3 L894.2,324.1 L894.8,321.8 L895.5,319.4 L896.3,317.0 L897.3,314.4 L898.4,311.7 L899.8,308.9 L901.2,306.0 L902.9,303.0 L904.7,299.8 L906.6,296.5 L908.7,293.2 L910.9,289.9 L913.2,286.7 L915.6,283.6 L918.1,280.6 L920.8,277.7 L923.6,274.9 L926.4,272.2 L929.3,269.5 L932.2,267.0 L935.0,264.7 L937.7,262.5 L940.5,260.5 L943.1,258.7 L945.7,257.0 L948.3,255.6 L950.8,254.2 L953.3,252.8 L955.9,251.4 L958.6,249.9 L961.6,248.2 L964.8,246.5 L968.1,244.7 L971.5,242.8 L974.9,241.0 L978.3,239.2 L981.6,237.4 L984.8,235.8 L987.8,234.3 L990.6,232.7 L993.5,231.2 L996.4,229.7 L999.4,228.2 L1002.4,226.8 L1005.6,225.5 L1008.8,224.4 L1012.2,223.4 L1015.7,222.5 L1019.2,221.7 L1022.7,221.0 L1026.2,220.5 L1029.5,220.1 L1032.7,219.7 L1035.7,219.5 L1038.4,219.5 L1041.0,219.5 L1043.5,219.7 L1045.8,220.0 L1048.1,220.5 L1050.3,221.1 L1052.4,221.7 L1054.6,222.5 L1056.9,223.5 L1059.2,224.7 L1061.4,226.1 L1063.4,227.4 L1065.4,228.8 L1067.2,230.1 L1068.8,231.4 L1070.3,232.6 L1071.9,233.8 L1073.4,235.2 L1074.8,236.5 L1076.0,237.8 L1077.0,239.0 L1077.9,239.9 L1078.6,240.7 L1079.1,241.2 M1006.9,412.1 L1005.6,411.3 L1003.8,410.4 L1001.8,409.3 L999.5,408.1 L997.0,406.8 L994.4,405.5 L991.8,404.3 L989.1,403.2 L986.4,402.1 L983.5,401.1 L980.4,400.1 L977.3,399.1 L974.0,398.1 L970.8,397.1 L967.5,396.2 L964.3,395.2 L961.2,394.3 L958.1,393.4 L954.9,392.6 L951.7,391.7 L948.5,390.9 L945.4,390.0 L942.3,389.1 L939.3,388.2 L936.4,387.3 L933.4,386.4 L930.5,385.6 L927.6,384.6 L924.7,383.7 L922.0,382.6 L919.3,381.4 L916.8,380.0 L914.5,378.5 L912.3,376.8 L910.2,375.1 L908.3,373.3 L906.5,371.3 L904.9,369.4 L903.4,367.3 L902.0,365.2 L900.8,363.0 L899.7,360.6 L898.8,358.2 L898.0,355.8 L897.4,353.3 L896.9,350.9 L896.5,348.5 L896.2,346.3 L896.0,344.0 L896.0,341.9 L896.0,339.8 L896.2,337.7 L896.5,335.7 L896.9,333.7 L897.3,331.6 L897.7,329.5 L898.2,327.4 L898.7,325.2 L899.3,323.0 L899.9,320.8 L900.7,318.5 L901.6,316.1 L902.7,313.6 L903.9,311.0 L905.3,308.2 L906.9,305.2 L908.7,302.1 L910.6,298.9 L912.6,295.7 L914.7,292.5 L916.9,289.5 L919.2,286.5 L921.6,283.7 L924.2,280.9 L926.8,278.2 L929.6,275.6 L932.4,273.0 L935.2,270.6 L937.9,268.3 L940.6,266.2 L943.2,264.2 L945.7,262.5 L948.1,261.0 L950.5,259.6 L953.0,258.3 L955.5,256.9 L958.1,255.5 L960.9,254.0 L963.9,252.3 L967.0,250.5 L970.3,248.7 L973.7,246.9 L977.1,245.1 L980.5,243.3 L983.8,241.6 L986.9,239.9 L989.9,238.4 L992.8,236.8 L995.7,235.3 L998.5,233.8 L1001.4,232.4 L1004.3,231.1 L1007.2,229.9 L1010.3,228.8 L1013.5,227.8 L1016.8,227.0 L1020.2,226.3 L1023.5,225.6 L1026.9,225.1 L1030.1,224.7 L1033.1,224.4 L1035.9,224.2 L1038.4,224.1 L1040.8,224.2 L1043.0,224.3 L1045.1,224.6 L1047.1,225.0 L1049.0,225.5 L1050.9,226.1 L1052.9,226.8 L1054.9,227.7 L1056.9,228.8 L1058.9,230.0 L1060.8,231.2 L1062.6,232.5 L1064.4,233.8 L1066.0,235.0 L1067.4,236.2 L1068.9,237.3 L1070.2,238.6 L1071.4,239.8 L1072.6,241.0 L1073.6,242.1 L1074.4,243.0 L1075.1,243.8 L1075.7,244.4 M1009.1,407.9 L1007.8,407.3 L1006.0,406.3 L1004.0,405.2 L1001.6,403.9 L999.1,402.6 L996.4,401.3 L993.6,400.0 L990.9,398.8 L988.0,397.8 L985.0,396.7 L981.8,395.7 L978.6,394.7 L975.4,393.7 L972.1,392.7 L968.8,391.7 L965.7,390.8 L962.5,389.9 L959.3,389.0 L956.1,388.1 L952.9,387.3 L949.8,386.4 L946.7,385.6 L943.6,384.7 L940.7,383.8 L937.7,382.9 L934.8,382.0 L931.9,381.1 L929.0,380.2 L926.3,379.3 L923.8,378.3 L921.4,377.2 L919.2,376.0 L917.1,374.7 L915.2,373.2 L913.3,371.6 L911.6,370.0 L910.0,368.3 L908.5,366.5 L907.2,364.7 L906.0,362.8 L904.9,360.9 L904.0,358.8 L903.2,356.7 L902.5,354.5 L901.9,352.2 L901.5,350.0 L901.1,347.8 L900.8,345.7 L900.6,343.8 L900.6,341.9 L900.7,340.1 L900.8,338.3 L901.1,336.4 L901.4,334.5 L901.8,332.6 L902.3,330.5 L902.7,328.4 L903.2,326.3 L903.8,324.3 L904.4,322.2 L905.1,320.1 L905.9,317.8 L906.9,315.5 L908.1,313.0 L909.5,310.3 L911.0,307.4 L912.7,304.4 L914.5,301.3 L916.5,298.2 L918.5,295.2 L920.6,292.2 L922.8,289.5 L925.1,286.8 L927.5,284.1 L930.1,281.5 L932.8,278.9 L935.5,276.5 L938.2,274.1 L940.8,271.9 L943.4,269.8 L945.9,268.0 L948.2,266.4 L950.5,265.0 L952.8,263.6 L955.2,262.3 L957.7,261.0 L960.3,259.6 L963.1,258.0 L966.1,256.4 L969.3,254.6 L972.6,252.8 L975.9,251.0 L979.3,249.2 L982.7,247.4 L985.9,245.7 L989.1,244.1 L992.1,242.5 L995.0,240.9 L997.8,239.4 L1000.6,238.0 L1003.4,236.6 L1006.1,235.4 L1008.9,234.2 L1011.7,233.2 L1014.7,232.3 L1017.9,231.5 L1021.1,230.8 L1024.3,230.2 L1027.5,229.7 L1030.6,229.3 L1033.5,229.0 L1036.1,228.8 L1038.5,228.8 L1040.6,228.8 L1042.5,228.9 L1044.3,229.2 L1046.0,229.5 L1047.7,230.0 L1049.4,230.5 L1051.1,231.2 L1052.9,231.9 L1054.6,232.8 L1056.4,233.9 L1058.2,235.1 L1059.9,236.3 L1061.6,237.5 L1063.1,238.7 L1064.6,239.8 L1065.8,240.9 L1067.0,241.9 L1068.1,243.1 L1069.2,244.1 L1070.1,245.2 L1071.0,246.1 L1071.7,247.0 L1072.3,247.6 M1011.2,403.8 L1009.9,403.2 L1008.3,402.2 L1006.2,401.1 L1003.8,399.8 L1001.2,398.5 L998.4,397.1 L995.5,395.8 L992.6,394.5 L989.6,393.4 L986.5,392.3 L983.3,391.3 L980.0,390.2 L976.7,389.2 L973.4,388.2 L970.2,387.3 L967.0,386.3 L963.8,385.4 L960.5,384.5 L957.3,383.6 L954.1,382.8 L951.0,381.9 L947.9,381.1 L945.0,380.2 L942.0,379.3 L939.1,378.4 L936.1,377.5 L933.2,376.7 L930.5,375.8 L927.9,374.9 L925.6,374.0 L923.5,373.1 L921.6,372.0 L919.8,370.9 L918.1,369.6 L916.4,368.2 L914.9,366.7 L913.5,365.2 L912.2,363.6 L911.0,362.0 L910.0,360.4 L909.1,358.8 L908.3,357.1 L907.6,355.2 L907.0,353.2 L906.5,351.2 L906.0,349.1 L905.7,347.1 L905.4,345.2 L905.3,343.5 L905.2,342.0 L905.3,340.4 L905.4,338.8 L905.7,337.1 L906.0,335.4 L906.4,333.5 L906.8,331.5 L907.3,329.5 L907.7,327.5 L908.2,325.5 L908.8,323.6 L909.5,321.6 L910.2,319.6 L911.1,317.4 L912.2,315.1 L913.6,312.5 L915.1,309.7 L916.7,306.7 L918.5,303.7 L920.4,300.8 L922.3,297.8 L924.3,295.0 L926.4,292.4 L928.6,289.9 L930.9,287.3 L933.4,284.8 L935.9,282.3 L938.6,279.9 L941.2,277.6 L943.8,275.5 L946.3,273.5 L948.5,271.8 L950.7,270.3 L952.9,269.0 L955.1,267.7 L957.4,266.4 L959.9,265.1 L962.6,263.6 L965.4,262.1 L968.4,260.4 L971.5,258.7 L974.8,256.9 L978.1,255.1 L981.5,253.3 L984.8,251.5 L988.1,249.8 L991.2,248.2 L994.2,246.6 L997.2,245.0 L1000.0,243.5 L1002.7,242.1 L1005.4,240.8 L1008.0,239.6 L1010.5,238.5 L1013.2,237.6 L1015.9,236.8 L1018.9,236.0 L1022.0,235.3 L1025.1,234.8 L1028.2,234.3 L1031.1,233.9 L1033.9,233.6 L1036.3,233.5 L1038.5,233.4 L1040.3,233.4 L1042.0,233.6 L1043.5,233.8 L1045.0,234.1 L1046.4,234.4 L1047.9,234.9 L1049.4,235.5 L1050.9,236.1 L1052.4,236.9 L1054.0,237.8 L1055.6,238.9 L1057.2,240.0 L1058.8,241.2 L1060.3,242.4 L1061.7,243.4 L1062.8,244.4 L1063.8,245.3 L1064.8,246.3 L1065.8,247.3 L1066.7,248.3 L1067.5,249.2 L1068.3,250.1 L1068.9,250.8" stroke="#fff" stroke-opacity="0.08" stroke-width="1.3"/><path d="M1004.0,417.7 L1002.6,417.0 L1000.8,416.0 L998.7,414.9 L996.5,413.7 L994.1,412.5 L991.7,411.2 L989.2,410.1 L986.8,409.1 L984.2,408.1 L981.4,407.1 L978.5,406.2 L975.4,405.2 L972.2,404.2 L968.9,403.2 L965.7,402.3 L962.5,401.3 L959.5,400.5 L956.4,399.6 L953.2,398.8 L950.1,397.9 L946.9,397.1 L943.7,396.2 L940.5,395.3 L937.4,394.3 L934.5,393.4 L931.6,392.5 L928.6,391.7 L925.6,390.7 L922.5,389.7 L919.5,388.5 L916.4,387.1 L913.5,385.5 L910.8,383.7 L908.3,381.8 L906.0,379.8 L903.8,377.7 L901.7,375.5 L899.9,373.3 L898.1,370.9 L896.5,368.5 L895.1,365.8 L893.8,363.1 L892.8,360.3 L891.9,357.5 L891.2,354.8 L890.6,352.1 L890.2,349.5 L889.9,347.0 L889.6,344.4 L889.6,341.8 L889.7,339.4 L889.9,337.0 L890.2,334.7 L890.6,332.5 L891.0,330.3 L891.5,328.1 L892.0,325.9 L892.5,323.7 L893.1,321.3 L893.9,318.9 L894.7,316.4 L895.7,313.7 L896.9,311.0 L898.2,308.1 L899.7,305.2 L901.4,302.1 L903.2,298.9 L905.1,295.6 L907.2,292.2 L909.5,288.9 L911.8,285.6 L914.3,282.5 L916.8,279.5 L919.5,276.5 L922.4,273.7 L925.2,270.9 L928.1,268.3 L931.0,265.7 L933.9,263.4 L936.7,261.1 L939.5,259.0 L942.2,257.2 L944.8,255.5 L947.4,254.0 L949.9,252.7 L952.5,251.3 L955.0,249.9 L957.8,248.4 L960.7,246.7 L963.9,245.0 L967.3,243.1 L970.7,241.3 L974.1,239.4 L977.5,237.6 L980.8,235.9 L984.0,234.3 L987.0,232.7 L989.8,231.2 L992.7,229.7 L995.6,228.2 L998.6,226.7 L1001.7,225.2 L1004.9,223.9 L1008.3,222.7 L1011.8,221.7 L1015.3,220.8 L1018.9,220.0 L1022.5,219.3 L1026.0,218.8 L1029.3,218.3 L1032.6,218.0 L1035.6,217.8 L1038.4,217.7 L1041.1,217.8 L1043.7,218.0 L1046.1,218.3 L1048.5,218.8 L1050.8,219.4 L1053.0,220.1 L1055.2,220.9 L1057.7,222.0 L1060.0,223.2 L1062.3,224.6 L1064.4,226.0 L1066.4,227.4 L1068.2,228.7 L1069.9,230.0 L1071.4,231.2 L1073.0,232.5 L1074.6,233.9 L1076.0,235.3 L1077.2,236.6 L1078.3,237.8 L1079.2,238.8 L1079.8,239.5 L1080.3,240.0" stroke="#b09858" stroke-opacity="0.25" stroke-width="8.7" filter="url(#b1)"/><path d="M1005.0,415.7 L1003.7,414.9 L1001.9,414.0 L999.8,412.9 L997.6,411.6 L995.2,410.4 L992.7,409.1 L990.1,408.0 L987.6,406.9 L985.0,405.9 L982.2,404.9 L979.2,404.0 L976.0,403.0 L972.8,402.0 L969.6,401.0 L966.4,400.1 L963.2,399.1 L960.1,398.2 L957.0,397.4 L953.8,396.5 L950.7,395.7 L947.5,394.8 L944.3,393.9 L941.2,393.0 L938.1,392.1 L935.2,391.2 L932.3,390.3 L929.3,389.4 L926.3,388.5 L923.3,387.5 L920.4,386.3 L917.5,385.0 L914.7,383.5 L912.1,381.8 L909.8,380.0 L907.5,378.1 L905.4,376.1 L903.5,374.0 L901.7,371.8 L900.0,369.6 L898.5,367.3 L897.2,364.8 L896.0,362.2 L895.0,359.5 L894.1,356.9 L893.5,354.2 L892.9,351.7 L892.5,349.1 L892.2,346.7 L892.0,344.3 L891.9,341.9 L892.0,339.5 L892.2,337.3 L892.5,335.1 L892.9,332.9 L893.3,330.8 L893.8,328.6 L894.3,326.5 L894.8,324.2 L895.4,322.0 L896.1,319.6 L896.9,317.1 L897.8,314.6 L899.0,311.9 L900.3,309.2 L901.8,306.3 L903.4,303.3 L905.2,300.1 L907.1,296.8 L909.2,293.5 L911.4,290.2 L913.7,287.0 L916.1,284.0 L918.6,281.0 L921.2,278.1 L924.0,275.3 L926.8,272.6 L929.7,270.0 L932.5,267.5 L935.3,265.1 L938.1,263.0 L940.8,260.9 L943.4,259.1 L946.0,257.5 L948.6,256.1 L951.1,254.7 L953.6,253.3 L956.2,251.9 L958.9,250.4 L961.9,248.8 L965.1,247.0 L968.4,245.2 L971.8,243.3 L975.2,241.5 L978.6,239.7 L981.9,238.0 L985.1,236.3 L988.0,234.8 L990.9,233.3 L993.8,231.7 L996.7,230.2 L999.6,228.8 L1002.6,227.4 L1005.8,226.1 L1009.0,224.9 L1012.4,223.9 L1015.8,223.0 L1019.4,222.3 L1022.8,221.6 L1026.3,221.1 L1029.6,220.6 L1032.8,220.3 L1035.7,220.1 L1038.4,220.1 L1041.0,220.1 L1043.4,220.3 L1045.7,220.6 L1048.0,221.1 L1050.1,221.6 L1052.2,222.3 L1054.4,223.1 L1056.6,224.1 L1058.9,225.3 L1061.1,226.5 L1063.1,227.9 L1065.0,229.2 L1066.8,230.6 L1068.4,231.8 L1070.0,233.0 L1071.5,234.3 L1073.0,235.6 L1074.3,237.0 L1075.5,238.2 L1076.6,239.4 L1077.5,240.3 L1078.1,241.1 L1078.6,241.6" stroke="#fff" stroke-opacity="0.1" stroke-width="8.7" filter="url(#b2)"/></g><g fill="none" stroke-linejoin="round"><path d="M1004.0,432.0 L1001.8,431.4 L998.9,430.7 L995.5,429.8 L991.6,428.8" stroke="#554b50" stroke-width="19.0"/><path d="M995.5,429.8 L991.6,428.8 L987.5,427.6 L983.3,426.5 L979.1,425.2" stroke="#584e51" stroke-width="19.0"/><path d="M983.3,426.5 L979.1,425.2 L975.0,424.0 L971.0,422.6 L966.7,421.0" stroke="#5c5252" stroke-width="19.0"/><path d="M971.0,422.6 L966.7,421.0 L962.4,419.4 L958.0,417.6 L953.6,415.9" stroke="#605653" stroke-width="19.0"/><path d="M958.0,417.6 L953.6,415.9 L949.3,414.4 L945.0,413.0 L941.0,412.0" stroke="#605558" stroke-width="19.0"/><path d="M945.0,413.0 L941.0,412.0 L936.9,411.3 L932.7,410.8 L928.5,410.4" stroke="#5e515e" stroke-width="19.0"/><path d="M932.7,410.8 L928.5,410.4 L924.4,410.2 L920.5,410.2 L917.1,410.1" stroke="#5b4d65" stroke-width="19.0"/><path d="M920.5,410.2 L917.1,410.1 L914.2,410.1 L912.0,410.0" stroke="#59496a" stroke-width="19.0"/><path d="M1001.8,440.1 L999.7,439.5 L996.8,438.7 L993.4,437.8 L989.5,436.8 L985.3,435.7 L981.0,434.5 L976.7,433.3 L972.4,432.0 L968.1,430.5 L963.8,428.9 L959.3,427.1 L955.0,425.4 L950.7,423.8 L946.6,422.3 L942.7,421.1 L939.2,420.2 L935.7,419.5 L931.9,419.1 L928.0,418.8 L924.1,418.6 L920.4,418.5 L917.0,418.5 L914.0,418.4 L911.7,418.4" stroke="#000" stroke-opacity="0.35" stroke-width="2.7" filter="url(#b1)"/><path d="M1006.2,423.9 L1003.9,423.3 L1001.0,422.6 L997.6,421.7 L993.8,420.7 L989.7,419.6 L985.6,418.4 L981.5,417.2 L977.6,416.0 L973.8,414.8 L969.7,413.2 L965.4,411.6 L961.0,409.8 L956.5,408.1 L951.9,406.5 L947.4,405.0 L942.8,403.8 L938.2,403.0 L933.5,402.4 L929.0,402.1 L924.7,401.9 L920.7,401.8 L917.2,401.8 L914.4,401.7 L912.3,401.6" stroke="#000" stroke-opacity="0.35" stroke-width="2.7" filter="url(#b1)"/><path d="M1002.7,436.9 L1000.5,436.3 L997.6,435.6 L994.2,434.7 L990.3,433.6 L986.2,432.5 L981.9,431.3 L977.6,430.1 L973.4,428.8 L969.3,427.4 L964.9,425.8 L960.5,424.1 L956.2,422.3 L951.8,420.7 L947.6,419.2 L943.6,417.9 L939.9,416.9 L936.2,416.3 L932.2,415.8 L928.2,415.5 L924.2,415.3 L920.4,415.2 L917.0,415.2 L914.1,415.2 L911.8,415.1 M1004.0,432.0 L1001.8,431.4 L998.9,430.7 L995.5,429.8 L991.6,428.8 L987.5,427.6 L983.3,426.5 L979.1,425.2 L975.0,424.0 L971.0,422.6 L966.7,421.0 L962.4,419.4 L958.0,417.6 L953.6,415.9 L949.3,414.4 L945.0,413.0 L941.0,412.0 L936.9,411.3 L932.7,410.8 L928.5,410.4 L924.4,410.2 L920.5,410.2 L917.1,410.1 L914.2,410.1 L912.0,410.0 M1005.3,427.1 L1003.1,426.5 L1000.2,425.8 L996.8,424.9 L992.9,423.9 L988.9,422.8 L984.7,421.6 L980.5,420.4 L976.6,419.2 L972.7,417.9 L968.5,416.3 L964.2,414.6 L959.8,412.9 L955.4,411.2 L950.9,409.6 L946.5,408.2 L942.1,407.1 L937.7,406.2 L933.2,405.7 L928.8,405.4 L924.5,405.2 L920.6,405.1 L917.2,405.1 L914.3,405.0 L912.2,404.9" stroke="#000" stroke-opacity="0.28" stroke-width="1.3"/><path d="M1003.3,434.4 L1001.2,433.9 L998.3,433.1 L994.8,432.2 L991.0,431.2 L986.8,430.1 L982.6,428.9 L978.3,427.7 L974.2,426.4 L970.1,425.0 L965.8,423.4 L961.5,421.7 L957.1,420.0 L952.7,418.3 L948.5,416.8 L944.3,415.5 L940.5,414.5 L936.6,413.8 L932.5,413.3 L928.3,413.0 L924.3,412.8 L920.5,412.7 L917.1,412.7 L914.1,412.6 L911.9,412.5 M1004.7,429.6 L1002.4,429.0 L999.5,428.2 L996.1,427.3 L992.3,426.3 L988.2,425.2 L984.0,424.0 L979.8,422.8 L975.8,421.6 L971.8,420.2 L967.6,418.7 L963.3,417.0 L958.9,415.3 L954.5,413.6 L950.1,412.0 L945.7,410.6 L941.5,409.5 L937.3,408.8 L933.0,408.2 L928.6,407.9 L924.5,407.7 L920.6,407.6 L917.1,407.6 L914.3,407.6 L912.1,407.5" stroke="#fff" stroke-opacity="0.15" stroke-width="1.3"/></g><g fill="none" stroke-linejoin="round"><path d="M918.0,407.0 L916.8,407.3 L915.3,407.7 L913.5,408.1 L911.5,408.6" stroke="#625651" stroke-width="22.1"/><path d="M913.5,408.1 L911.5,408.6 L909.4,409.2 L907.2,410.0 L905.0,410.9" stroke="#665953" stroke-width="22.2"/><path d="M907.2,410.0 L905.0,410.9 L903.0,412.0 L901.0,413.2 L898.9,414.6" stroke="#6b5e55" stroke-width="22.4"/><path d="M901.0,413.2 L898.9,414.6 L896.8,416.0 L894.6,417.6 L892.5,419.4" stroke="#716358" stroke-width="22.5"/><path d="M894.6,417.6 L892.5,419.4 L890.5,421.4 L888.7,423.6 L887.0,426.0" stroke="#695b54" stroke-width="22.7"/><path d="M888.7,423.6 L887.0,426.0 L885.5,428.7 L884.0,431.7 L882.6,435.0" stroke="#5c4e4f" stroke-width="22.9"/><path d="M884.0,431.7 L882.6,435.0 L881.4,438.4 L880.3,442.0 L879.3,445.7" stroke="#4d4046" stroke-width="23.2"/><path d="M880.3,442.0 L879.3,445.7 L878.6,449.3 L878.0,453.0 L877.6,456.6" stroke="#392e36" stroke-width="23.4"/><path d="M878.0,453.0 L877.6,456.6 L877.4,460.3 L877.4,464.1 L877.6,467.9" stroke="#251c26" stroke-width="23.7"/><path d="M877.4,464.1 L877.6,467.9 L877.9,471.8 L878.4,475.7 L879.1,479.8" stroke="#211923" stroke-width="24.0"/><path d="M878.4,475.7 L879.1,479.8 L880.0,484.0 L881.1,488.4 L882.5,492.9" stroke="#201822" stroke-width="24.3"/><path d="M881.1,488.4 L882.5,492.9 L884.0,497.7 L885.8,502.4 L887.6,507.2" stroke="#1f1721" stroke-width="24.6"/><path d="M885.8,502.4 L887.6,507.2 L889.7,512.0 L891.8,516.6 L894.0,521.0" stroke="#241a2e" stroke-width="25.0"/><path d="M891.8,516.6 L894.0,521.0 L896.3,525.3 L898.8,529.5 L901.3,533.6" stroke="#302249" stroke-width="25.3"/><path d="M898.8,529.5 L901.3,533.6 L904.0,537.6 L906.8,541.6 L909.8,545.5" stroke="#3b2a60" stroke-width="25.7"/><path d="M906.8,541.6 L909.8,545.5 L912.8,549.3 L916.0,553.0 L919.4,556.7" stroke="#45365e" stroke-width="26.0"/><path d="M916.0,553.0 L919.4,556.7 L923.0,560.5 L926.7,564.2 L930.6,567.8" stroke="#50425d" stroke-width="26.4"/><path d="M926.7,564.2 L930.6,567.8 L934.5,571.2 L938.4,574.4 L942.2,577.4" stroke="#584d5c" stroke-width="26.8"/><path d="M938.4,574.4 L942.2,577.4 L946.0,580.0 L949.7,582.3 L953.4,584.3" stroke="#5e545c" stroke-width="27.1"/><path d="M949.7,582.3 L953.4,584.3 L957.1,586.1 L960.8,587.7 L964.5,589.0" stroke="#635a5c" stroke-width="27.4"/><path d="M960.8,587.7 L964.5,589.0 L968.1,590.2 L971.6,591.2 L975.0,592.0" stroke="#68605c" stroke-width="27.7"/><path d="M971.6,591.2 L975.0,592.0 L978.4,592.6 L981.7,593.0 L985.0,593.1" stroke="#62585c" stroke-width="28.0"/><path d="M981.7,593.0 L985.0,593.1 L988.2,593.1 L991.3,593.0 L994.3,592.7" stroke="#5b515b" stroke-width="28.2"/><path d="M991.3,593.0 L994.3,592.7 L997.2,592.4 L1000.0,592.0 L1002.7,591.5" stroke="#554a5b" stroke-width="28.4"/><path d="M1000.0,592.0 L1002.7,591.5 L1005.4,590.8 L1008.1,589.9 L1010.6,589.0" stroke="#50435b" stroke-width="28.6"/><path d="M1008.1,589.9 L1010.6,589.0 L1012.9,588.1 L1014.9,587.2 L1016.7,586.5" stroke="#4b3d5a" stroke-width="28.8"/><path d="M1014.9,587.2 L1016.7,586.5 L1018.0,586.0" stroke="#47395a" stroke-width="29.0"/><path d="M920.6,416.3 L919.3,416.7 L917.6,417.1 L915.8,417.6 L914.1,418.0 L912.3,418.6 L910.7,419.1 L909.3,419.8 L907.9,420.5 L906.2,421.6 L904.4,422.8 L902.5,424.1 L900.8,425.4 L899.3,426.8 L897.9,428.2 L896.7,429.7 L895.6,431.3 L894.4,433.4 L893.2,435.9 L892.1,438.7 L891.1,441.7 L890.1,444.8 L889.3,448.0 L888.7,451.2 L888.3,454.3 L888.0,457.4 L887.9,460.6 L887.9,463.9 L888.1,467.2 L888.4,470.6 L888.9,474.2 L889.6,477.8 L890.4,481.5 L891.5,485.5 L892.8,489.7 L894.3,494.1 L896.0,498.6 L897.8,503.1 L899.7,507.5 L901.8,511.8 L903.9,515.9 L906.1,519.8 L908.4,523.7 L910.8,527.5 L913.3,531.2 L916.0,534.9 L918.8,538.4 L921.6,541.9 L924.7,545.4 L927.8,548.8 L931.2,552.3 L934.8,555.7 L938.5,559.0 L942.1,562.2 L945.8,565.1 L949.3,567.8 L952.6,570.0 L955.8,571.9 L958.9,573.6 L962.1,575.1 L965.3,576.4 L968.4,577.5 L971.6,578.5 L974.7,579.3 L977.5,580.0 L980.2,580.4 L982.7,580.7 L985.2,580.7 L987.8,580.7 L990.5,580.5 L993.1,580.3 L995.7,579.9 L998.0,579.6 L999.9,579.2 L1001.9,578.7 L1003.9,578.0 L1006.0,577.2 L1008.1,576.3 L1010.1,575.5 L1012.0,574.7 L1013.5,574.1" stroke="#000" stroke-opacity="0.35" stroke-width="4.1" filter="url(#b1)"/><path d="M915.4,397.7 L914.4,397.9 L913.1,398.2 L911.2,398.7 L908.9,399.2 L906.4,399.9 L903.7,400.9 L900.8,402.1 L898.1,403.5 L895.8,404.9 L893.5,406.3 L891.0,407.9 L888.4,409.8 L885.8,412.0 L883.2,414.6 L880.7,417.5 L878.4,420.7 L876.5,424.0 L874.8,427.6 L873.2,431.3 L871.7,435.2 L870.4,439.2 L869.3,443.3 L868.4,447.5 L867.7,451.7 L867.3,455.9 L867.0,460.0 L866.9,464.2 L867.0,468.5 L867.4,472.9 L867.9,477.3 L868.6,481.8 L869.6,486.5 L870.8,491.2 L872.2,496.2 L873.8,501.2 L875.5,506.3 L877.5,511.4 L879.6,516.4 L881.8,521.4 L884.1,526.1 L886.6,530.7 L889.1,535.3 L891.8,539.7 L894.7,544.0 L897.6,548.3 L900.7,552.5 L904.0,556.6 L907.3,560.6 L910.9,564.6 L914.7,568.6 L918.6,572.6 L922.7,576.5 L926.8,580.2 L931.0,583.7 L935.2,587.0 L939.4,590.0 L943.6,592.7 L947.9,595.0 L952.1,597.1 L956.3,599.0 L960.5,600.5 L964.5,601.9 L968.5,603.0 L972.5,604.0 L976.6,604.8 L980.7,605.3 L984.7,605.5 L988.5,605.6 L992.2,605.4 L995.6,605.1 L998.8,604.8 L1002.0,604.4 L1005.5,603.8 L1009.0,602.9 L1012.2,601.9 L1015.1,600.8 L1017.7,599.8 L1019.8,599.0 L1021.4,598.3 L1022.5,597.9" stroke="#000" stroke-opacity="0.35" stroke-width="4.1" filter="url(#b1)"/><path d="M919.9,413.8 L918.6,414.2 L917.0,414.6 L915.2,415.0 L913.4,415.5 L911.5,416.0 L909.7,416.7 L908.1,417.4 L906.6,418.2 L904.8,419.3 L902.9,420.6 L901.0,421.9 L899.1,423.3 L897.4,424.8 L895.9,426.3 L894.5,428.0 L893.2,429.9 L892.0,432.1 L890.7,434.8 L889.5,437.7 L888.4,440.8 L887.4,444.1 L886.6,447.4 L886.0,450.7 L885.5,453.9 L885.2,457.2 L885.0,460.6 L885.0,463.9 L885.2,467.4 L885.5,470.9 L886.0,474.6 L886.7,478.3 L887.6,482.2 L888.7,486.3 L890.0,490.6 L891.5,495.1 L893.2,499.6 L895.0,504.2 L897.0,508.7 L899.0,513.1 L901.2,517.3 L903.4,521.3 L905.7,525.3 L908.2,529.1 L910.8,533.0 L913.5,536.7 L916.3,540.4 L919.2,543.9 L922.3,547.5 L925.5,551.0 L929.0,554.5 L932.6,558.0 L936.3,561.4 L940.0,564.7 L943.8,567.7 L947.4,570.4 L950.8,572.7 L954.1,574.8 L957.4,576.5 L960.8,578.1 L964.1,579.5 L967.4,580.7 L970.6,581.7 L973.8,582.5 L976.9,583.3 L979.7,583.7 L982.4,584.0 L985.2,584.1 L987.9,584.1 L990.7,583.9 L993.4,583.7 L996.1,583.3 L998.6,583.0 L1000.7,582.6 L1002.8,582.0 L1005.0,581.2 L1007.3,580.4 L1009.4,579.5 L1011.4,578.7 L1013.2,577.9 L1014.7,577.3 M919.0,410.4 L917.7,410.7 L916.1,411.1 L914.4,411.5 L912.4,412.0 L910.4,412.6 L908.4,413.3 L906.6,414.1 L904.8,415.1 L902.9,416.3 L900.9,417.6 L898.9,419.0 L896.9,420.5 L895.0,422.1 L893.2,423.8 L891.6,425.8 L890.1,427.9 L888.7,430.4 L887.4,433.3 L886.1,436.3 L884.9,439.6 L883.8,443.0 L883.0,446.5 L882.3,450.0 L881.7,453.5 L881.4,456.9 L881.2,460.4 L881.2,464.0 L881.4,467.6 L881.7,471.4 L882.2,475.2 L882.9,479.1 L883.8,483.1 L884.9,487.3 L886.2,491.8 L887.8,496.4 L889.5,501.0 L891.3,505.7 L893.3,510.3 L895.4,514.8 L897.6,519.1 L899.9,523.3 L902.2,527.4 L904.8,531.4 L907.4,535.3 L910.1,539.1 L913.0,542.9 L916.0,546.6 L919.1,550.2 L922.5,553.8 L926.0,557.5 L929.7,561.1 L933.4,564.6 L937.3,567.9 L941.1,571.0 L944.8,573.9 L948.4,576.4 L951.9,578.5 L955.4,580.4 L958.9,582.1 L962.4,583.6 L965.9,584.9 L969.3,585.9 L972.7,586.9 L975.9,587.6 L979.0,588.2 L982.1,588.5 L985.1,588.6 L988.1,588.6 L991.0,588.4 L993.9,588.2 L996.7,587.8 L999.3,587.5 L1001.7,587.0 L1004.1,586.4 L1006.6,585.6 L1008.9,584.7 L1011.1,583.8 L1013.2,582.9 L1014.9,582.2 L1016.4,581.7 M918.0,407.0 L916.8,407.3 L915.3,407.7 L913.5,408.1 L911.5,408.6 L909.4,409.2 L907.2,410.0 L905.0,410.9 L903.0,412.0 L901.0,413.2 L898.9,414.6 L896.8,416.0 L894.6,417.6 L892.5,419.4 L890.5,421.4 L888.7,423.6 L887.0,426.0 L885.5,428.7 L884.0,431.7 L882.6,435.0 L881.4,438.4 L880.3,442.0 L879.3,445.7 L878.6,449.3 L878.0,453.0 L877.6,456.6 L877.4,460.3 L877.4,464.1 L877.6,467.9 L877.9,471.8 L878.4,475.7 L879.1,479.8 L880.0,484.0 L881.1,488.4 L882.5,492.9 L884.0,497.7 L885.8,502.4 L887.6,507.2 L889.7,512.0 L891.8,516.6 L894.0,521.0 L896.3,525.3 L898.8,529.5 L901.3,533.6 L904.0,537.6 L906.8,541.6 L909.8,545.5 L912.8,549.3 L916.0,553.0 L919.4,556.7 L923.0,560.5 L926.7,564.2 L930.6,567.8 L934.5,571.2 L938.4,574.4 L942.2,577.4 L946.0,580.0 L949.7,582.3 L953.4,584.3 L957.1,586.1 L960.8,587.7 L964.5,589.0 L968.1,590.2 L971.6,591.2 L975.0,592.0 L978.4,592.6 L981.7,593.0 L985.0,593.1 L988.2,593.1 L991.3,593.0 L994.3,592.7 L997.2,592.4 L1000.0,592.0 L1002.7,591.5 L1005.4,590.8 L1008.1,589.9 L1010.6,589.0 L1012.9,588.1 L1014.9,587.2 L1016.7,586.5 L1018.0,586.0 M917.0,403.6 L916.0,403.9 L914.5,404.3 L912.7,404.7 L910.6,405.2 L908.3,405.9 L905.9,406.7 L903.5,407.7 L901.2,408.9 L899.1,410.2 L896.9,411.6 L894.7,413.1 L892.4,414.8 L890.1,416.7 L887.9,418.9 L885.8,421.4 L883.9,424.1 L882.2,427.0 L880.6,430.2 L879.2,433.6 L877.9,437.2 L876.7,441.0 L875.7,444.8 L874.9,448.7 L874.3,452.5 L873.9,456.4 L873.6,460.2 L873.6,464.1 L873.7,468.1 L874.1,472.2 L874.6,476.3 L875.3,480.5 L876.2,484.9 L877.4,489.4 L878.7,494.1 L880.3,498.9 L882.0,503.8 L883.9,508.7 L886.0,513.6 L888.2,518.3 L890.4,522.9 L892.8,527.3 L895.3,531.6 L897.9,535.8 L900.6,540.0 L903.5,544.0 L906.5,548.0 L909.6,551.9 L912.9,555.8 L916.3,559.6 L919.9,563.4 L923.8,567.2 L927.7,570.9 L931.7,574.5 L935.7,577.8 L939.7,580.9 L943.6,583.6 L947.5,586.1 L951.4,588.2 L955.3,590.1 L959.2,591.8 L963.0,593.2 L966.8,594.5 L970.5,595.5 L974.1,596.4 L977.7,597.1 L981.3,597.5 L984.9,597.7 L988.3,597.6 L991.6,597.5 L994.8,597.2 L997.8,596.9 L1000.7,596.5 L1003.7,596.0 L1006.7,595.2 L1009.6,594.3 L1012.2,593.3 L1014.6,592.4 L1016.7,591.5 L1018.4,590.8 L1019.6,590.3 M916.1,400.2 L915.1,400.5 L913.7,400.8 L911.8,401.2 L909.6,401.8 L907.2,402.5 L904.6,403.3 L901.9,404.5 L899.4,405.8 L897.2,407.1 L894.9,408.6 L892.6,410.1 L890.1,412.0 L887.6,414.0 L885.2,416.4 L882.9,419.1 L880.8,422.1 L878.9,425.3 L877.3,428.7 L875.7,432.3 L874.3,436.1 L873.1,440.0 L872.0,444.0 L871.2,448.0 L870.5,452.1 L870.1,456.1 L869.8,460.1 L869.8,464.2 L869.9,468.3 L870.2,472.6 L870.8,476.9 L871.5,481.3 L872.4,485.8 L873.6,490.5 L875.0,495.3 L876.6,500.2 L878.3,505.2 L880.3,510.3 L882.3,515.2 L884.5,520.1 L886.8,524.7 L889.2,529.2 L891.8,533.7 L894.4,538.0 L897.2,542.3 L900.1,546.5 L903.2,550.6 L906.4,554.6 L909.7,558.5 L913.2,562.5 L916.9,566.4 L920.8,570.3 L924.8,574.1 L928.9,577.7 L933.0,581.2 L937.1,584.4 L941.2,587.3 L945.3,589.8 L949.4,592.1 L953.5,594.1 L957.6,595.9 L961.6,597.4 L965.5,598.7 L969.3,599.8 L973.1,600.7 L977.1,601.5 L981.0,601.9 L984.8,602.2 L988.4,602.2 L991.9,602.0 L995.2,601.7 L998.4,601.4 L1001.4,601.0 L1004.7,600.4 L1008.0,599.6 L1011.1,598.6 L1013.9,597.6 L1016.4,596.6 L1018.5,595.8 L1020.1,595.1 L1021.3,594.7" stroke="#000" stroke-opacity="0.28" stroke-width="1.3"/><path d="M919.4,412.1 L918.2,412.4 L916.5,412.8 L914.8,413.3 L912.9,413.8 L911.0,414.3 L909.1,415.0 L907.3,415.7 L905.7,416.7 L903.9,417.8 L901.9,419.1 L899.9,420.4 L898.0,421.9 L896.2,423.4 L894.5,425.1 L893.0,426.9 L891.7,428.9 L890.4,431.3 L889.0,434.0 L887.8,437.0 L886.7,440.2 L885.6,443.5 L884.8,446.9 L884.1,450.3 L883.6,453.7 L883.3,457.1 L883.1,460.5 L883.1,464.0 L883.3,467.5 L883.6,471.1 L884.1,474.9 L884.8,478.7 L885.7,482.7 L886.8,486.8 L888.1,491.2 L889.6,495.7 L891.3,500.3 L893.2,505.0 L895.1,509.5 L897.2,514.0 L899.4,518.2 L901.6,522.3 L904.0,526.3 L906.5,530.3 L909.1,534.1 L911.8,537.9 L914.7,541.6 L917.6,545.3 L920.7,548.8 L924.0,552.4 L927.5,556.0 L931.1,559.5 L934.9,563.0 L938.7,566.3 L942.4,569.4 L946.1,572.1 L949.6,574.6 L953.0,576.6 L956.4,578.5 L959.8,580.1 L963.3,581.5 L966.6,582.8 L970.0,583.8 L973.3,584.7 L976.4,585.4 L979.3,586.0 L982.2,586.3 L985.1,586.4 L988.0,586.3 L990.8,586.2 L993.7,585.9 L996.4,585.6 L998.9,585.2 L1001.2,584.8 L1003.5,584.2 L1005.8,583.4 L1008.1,582.5 L1010.3,581.7 L1012.3,580.8 L1014.1,580.0 L1015.6,579.5 M918.5,408.7 L917.3,409.0 L915.7,409.4 L913.9,409.8 L912.0,410.3 L909.9,410.9 L907.8,411.7 L905.8,412.5 L903.9,413.6 L902.0,414.8 L899.9,416.1 L897.8,417.5 L895.8,419.0 L893.8,420.7 L891.9,422.6 L890.1,424.7 L888.6,427.0 L887.1,429.6 L885.7,432.5 L884.4,435.7 L883.1,439.0 L882.1,442.5 L881.1,446.1 L880.4,449.7 L879.9,453.2 L879.5,456.8 L879.3,460.4 L879.3,464.0 L879.5,467.8 L879.8,471.6 L880.3,475.4 L881.0,479.4 L881.9,483.6 L883.0,487.9 L884.3,492.4 L885.9,497.0 L887.6,501.7 L889.5,506.5 L891.5,511.1 L893.6,515.7 L895.8,520.1 L898.1,524.3 L900.5,528.4 L903.0,532.5 L905.7,536.5 L908.5,540.4 L911.4,544.2 L914.4,547.9 L917.6,551.6 L920.9,555.3 L924.5,559.0 L928.2,562.6 L932.0,566.2 L935.9,569.6 L939.7,572.7 L943.5,575.6 L947.2,578.2 L950.8,580.4 L954.4,582.4 L958.0,584.1 L961.6,585.6 L965.2,586.9 L968.7,588.1 L972.1,589.0 L975.5,589.8 L978.7,590.4 L981.9,590.7 L985.0,590.9 L988.1,590.9 L991.2,590.7 L994.1,590.4 L997.0,590.1 L999.6,589.7 L1002.2,589.3 L1004.8,588.6 L1007.3,587.8 L1009.7,586.8 L1012.0,585.9 L1014.0,585.1 L1015.8,584.4 L1017.2,583.8 M917.5,405.3 L916.4,405.6 L914.9,406.0 L913.1,406.4 L911.0,406.9 L908.8,407.6 L906.5,408.3 L904.3,409.3 L902.1,410.4 L900.0,411.7 L897.9,413.1 L895.7,414.6 L893.5,416.2 L891.3,418.1 L889.2,420.1 L887.2,422.5 L885.4,425.0 L883.8,427.9 L882.3,431.0 L880.9,434.3 L879.6,437.8 L878.5,441.5 L877.5,445.2 L876.7,449.0 L876.1,452.8 L875.8,456.5 L875.5,460.3 L875.5,464.1 L875.7,468.0 L876.0,472.0 L876.5,476.0 L877.2,480.2 L878.1,484.4 L879.2,488.9 L880.6,493.5 L882.2,498.3 L883.9,503.1 L885.8,508.0 L887.8,512.8 L890.0,517.4 L892.2,521.9 L894.5,526.3 L897.0,530.5 L899.6,534.7 L902.3,538.8 L905.1,542.8 L908.1,546.7 L911.2,550.6 L914.4,554.4 L917.8,558.2 L921.5,561.9 L925.2,565.7 L929.1,569.3 L933.1,572.8 L937.0,576.1 L941.0,579.1 L944.8,581.8 L948.6,584.2 L952.4,586.3 L956.2,588.1 L960.0,589.7 L963.7,591.1 L967.4,592.3 L971.0,593.3 L974.5,594.2 L978.0,594.8 L981.5,595.2 L984.9,595.4 L988.3,595.4 L991.5,595.2 L994.6,595.0 L997.5,594.6 L1000.4,594.3 L1003.2,593.7 L1006.1,593.0 L1008.8,592.1 L1011.4,591.2 L1013.7,590.2 L1015.8,589.4 L1017.5,588.7 L1018.8,588.2 M916.6,401.9 L915.5,402.2 L914.1,402.5 L912.3,403.0 L910.1,403.5 L907.7,404.2 L905.3,405.0 L902.7,406.1 L900.3,407.3 L898.1,408.7 L895.9,410.1 L893.6,411.6 L891.2,413.4 L888.9,415.4 L886.5,417.7 L884.3,420.2 L882.3,423.1 L880.6,426.2 L879.0,429.5 L877.5,433.0 L876.1,436.7 L874.9,440.5 L873.8,444.4 L873.0,448.4 L872.4,452.3 L872.0,456.2 L871.7,460.2 L871.7,464.2 L871.8,468.2 L872.2,472.4 L872.7,476.6 L873.4,480.9 L874.3,485.3 L875.5,489.9 L876.8,494.7 L878.4,499.6 L880.2,504.5 L882.1,509.5 L884.2,514.4 L886.3,519.2 L888.6,523.8 L891.0,528.3 L893.5,532.6 L896.1,536.9 L898.9,541.1 L901.8,545.3 L904.8,549.3 L908.0,553.3 L911.3,557.2 L914.8,561.0 L918.4,564.9 L922.3,568.8 L926.3,572.5 L930.3,576.1 L934.4,579.5 L938.4,582.6 L942.4,585.4 L946.4,588.0 L950.4,590.2 L954.4,592.1 L958.4,593.8 L962.3,595.3 L966.1,596.6 L969.9,597.6 L973.6,598.6 L977.4,599.3 L981.2,599.7 L984.8,599.9 L988.4,599.9 L991.8,599.8 L995.0,599.5 L998.1,599.2 L1001.1,598.8 L1004.2,598.2 L1007.4,597.4 L1010.3,596.4 L1013.0,595.5 L1015.5,594.5 L1017.6,593.6 L1019.2,593.0 L1020.4,592.5" stroke="#fff" stroke-opacity="0.08" stroke-width="1.3"/><path d="M919.3,411.7 L918.1,412.0 L916.4,412.4 L914.7,412.8 L912.8,413.3 L910.8,413.9 L908.9,414.6 L907.1,415.3 L905.5,416.3 L903.6,417.4 L901.6,418.7 L899.7,420.1 L897.7,421.5 L895.9,423.1 L894.2,424.8 L892.7,426.6 L891.3,428.7 L889.9,431.1 L888.6,433.8 L887.4,436.9 L886.2,440.1 L885.2,443.4 L884.3,446.8 L883.6,450.3 L883.1,453.6 L882.8,457.0 L882.7,460.5 L882.7,464.0 L882.8,467.6 L883.1,471.2 L883.6,474.9 L884.3,478.8 L885.2,482.8 L886.3,486.9 L887.6,491.3 L889.1,495.9 L890.9,500.5 L892.7,505.1 L894.7,509.7 L896.8,514.2 L898.9,518.4 L901.2,522.5 L903.6,526.6 L906.1,530.5 L908.7,534.4 L911.4,538.2 L914.3,542.0 L917.2,545.6 L920.3,549.2 L923.6,552.8 L927.1,556.4 L930.8,559.9 L934.5,563.4 L938.3,566.7 L942.1,569.8 L945.8,572.6 L949.3,575.0 L952.7,577.1 L956.2,579.0 L959.6,580.6 L963.1,582.0 L966.5,583.3 L969.8,584.3 L973.1,585.2 L976.3,586.0 L979.3,586.5 L982.2,586.8 L985.1,586.9 L988.0,586.9 L990.9,586.7 L993.7,586.5 L996.5,586.2 L999.0,585.8 L1001.3,585.4 L1003.6,584.7 L1006.0,583.9 L1008.3,583.1 L1010.5,582.2 L1012.5,581.3 L1014.3,580.6 L1015.8,580.0" stroke="#fff" stroke-opacity="0.08" stroke-width="8.7" filter="url(#b2)"/></g></g>
<g><ellipse cx="1200" cy="455" rx="158" ry="175" fill="#c63ec4"/><path d="M1050.5,358.0 L1056.0,347.8 L1062.0,338.0 L1068.5,328.6 L1075.6,319.7 L1083.0,311.4 L1091.0,303.6 L1099.3,296.4 L1108.0,289.8 L1117.0,283.8 L1126.3,278.5 L1135.9,273.8 L1145.8,269.9 L1155.8,266.6 L1166.0,264.1 L1176.3,262.3 L1186.6,261.3 L1197.0,261.0 L1207.4,261.4 L1217.8,262.6 L1228.1,264.6 L1238.2,267.2 L1248.2,270.6 L1258.0,274.7 L1267.5,279.5 L1276.8,284.9 L1285.8,291.0 L1294.4,297.8 L1302.6,305.1 L1310.5,313.0 L1317.9,321.5 L1324.8,330.4 L1331.2,339.9 L1337.1,349.8 L1342.5,360.1 L1347.3,370.7 L1351.5,381.7 L1355.2,393.0 L1358.2,404.5 L1360.6,416.2 L1362.4,428.0" fill="none" stroke="#5a2aa8" stroke-width="50"/><path d="M1336.2,590.6 L1329.3,599.6 L1322.0,608.1 L1314.2,616.0 L1306.1,623.5 L1297.7,630.4 L1288.9,636.8 L1279.8,642.6 L1270.4,647.8 L1260.8,652.3 L1251.0,656.2 L1241.0,659.5 L1230.9,662.1 L1220.7,664.1 L1210.4,665.3 L1200.0,665.9 L1189.6,665.9 L1179.3,665.1 L1169.0,663.7 L1158.7,661.6 L1148.6,658.8 L1138.7,655.4 L1128.9,651.3 L1119.4,646.6 L1110.1,641.3 L1101.1,635.4 L1092.3,628.9 L1084.0,621.8 L1075.9,614.2 L1068.3,606.1 L1061.1,597.5 L1054.3,588.5 L1047.9,579.0 L1042.1,569.1 L1036.7,558.9 L1031.9,548.3 L1027.5,537.4 L1023.8,526.3 L1020.5,514.9 L1017.9,503.4 L1015.8,491.6" fill="none" stroke="#ece4f5" stroke-width="16"/><g filter="url(#b3)"><ellipse cx="1280" cy="508" rx="20" ry="17" fill="#efe6f8"/><ellipse cx="1250" cy="572" rx="20" ry="13" fill="#efe6f8"/><ellipse cx="1379" cy="477" rx="9" ry="8" fill="#fff"/><ellipse cx="1258" cy="624" rx="9" ry="6" fill="#f4eefa"/><ellipse cx="1130" cy="590" rx="14" ry="9" fill="#e8dcf4" opacity="0.8"/></g><path d="M1016.0,528.0 L1015.2,521.7 L1014.1,513.0 L1012.8,502.8 L1011.5,491.6 L1010.5,480.5 L1010.0,470.0 L1009.9,459.9 L1010.1,449.6 L1010.6,439.1 L1011.4,428.9 L1012.5,419.1 L1014.0,410.0 L1015.9,401.6 L1018.2,393.9 L1020.9,386.5 L1023.8,379.5 L1026.8,372.7 L1030.0,366.0 L1033.2,359.5 L1036.5,353.3 L1039.9,347.4 L1043.6,341.6 L1047.6,335.8 L1052.0,330.0 L1057.2,323.8 L1063.4,317.3 L1069.9,310.8 L1076.0,304.7 L1081.3,299.7 L1085.0,296.0" fill="none" stroke="#a0689a" stroke-width="42"/><path d="M1070.0,308.0 L1071.3,306.9 L1072.8,305.5 L1074.7,303.8 L1077.2,301.6 L1080.6,299.1 L1085.0,296.0 L1090.7,292.1 L1097.6,287.5 L1105.3,282.4 L1113.5,277.2 L1121.9,272.3 L1130.0,268.0 L1138.6,264.2 L1148.1,260.6 L1157.8,257.2 L1166.9,254.3 L1174.5,251.8 L1180.0,250.0" fill="none" stroke="#55289e" stroke-width="42"/><g filter="url(#b6)"><ellipse cx="1308" cy="438" rx="17" ry="38" fill="#2f4de8"/></g><g filter="url(#b3)"><ellipse cx="1313" cy="452" rx="5" ry="18" fill="#cfd8ff" opacity="0.55"/></g><path d="M1296.0,451.0 L1295.7,468.4 L1294.6,481.9 L1292.9,494.1 L1290.4,505.4 L1287.3,515.9 L1283.6,525.6 L1279.2,534.7 L1274.1,543.0 L1268.4,550.6 L1262.1,557.5 L1255.2,563.6 L1247.7,569.0 L1239.7,573.5 L1231.0,577.3 L1221.7,580.2 L1211.6,582.3 L1200.4,583.6 L1186.0,584.0 L1171.6,583.6 L1160.4,582.3 L1150.3,580.2 L1141.0,577.3 L1132.3,573.5 L1124.3,569.0 L1116.8,563.6 L1109.9,557.5 L1103.6,550.6 L1097.9,543.0 L1092.8,534.7 L1088.4,525.6 L1084.7,515.9 L1081.6,505.4 L1079.1,494.1 L1077.4,481.9 L1076.3,468.4 L1076.0,451.0 L1076.3,433.6 L1077.4,420.1 L1079.1,407.9 L1081.6,396.6 L1084.7,386.1 L1088.4,376.4 L1092.8,367.3 L1097.9,359.0 L1103.6,351.4 L1109.9,344.5 L1116.8,338.4 L1124.3,333.0 L1132.3,328.5 L1141.0,324.7 L1150.3,321.8 L1160.4,319.7 L1171.6,318.4 L1186.0,318.0 L1200.4,318.4 L1211.6,319.7 L1221.7,321.8 L1231.0,324.7 L1239.7,328.5 L1247.7,333.0 L1255.2,338.4 L1262.1,344.5 L1268.4,351.4 L1274.1,359.0 L1279.2,367.3 L1283.6,376.4 L1287.3,386.1 L1290.4,396.6 L1292.9,407.9 L1294.6,420.1 L1295.7,433.6 Z" fill="url(#discg)"/><g clip-path="url(#discclip)"><path d="M1070.5,451.0 Q1182.7,447.0 1186.0,312.4 M1070.7,442.5 Q1173.2,435.6 1178.9,312.7 M1071.4,434.1 Q1163.6,424.2 1171.9,313.4 M1072.4,425.7 Q1154.1,412.7 1165.0,314.7 M1073.9,417.5 Q1144.6,401.3 1158.1,316.5 M1075.8,409.3 Q1135.0,389.8 1151.3,318.8 M1078.2,401.3 Q1125.5,378.4 1144.6,321.6 M1080.9,393.5 Q1116.0,367.0 1138.1,324.9 M1084.0,385.9 Q1106.4,355.5 1131.8,328.6 M1087.5,378.6 Q1096.9,344.1 1125.7,332.8 M1091.4,371.5 Q1087.4,332.6 1119.8,337.5 M1095.6,364.7 Q1077.8,321.2 1114.1,342.5 M1100.2,358.3 Q1068.3,309.8 1108.7,348.0 M1070.5,451.0 Q1182.7,455.0 1186.0,589.6 M1070.7,459.5 Q1173.2,466.4 1178.9,589.3 M1071.4,467.9 Q1163.6,477.8 1171.9,588.6 M1072.4,476.3 Q1154.1,489.3 1165.0,587.3 M1073.9,484.5 Q1144.6,500.7 1158.1,585.5 M1075.8,492.7 Q1135.0,512.2 1151.3,583.2 M1078.2,500.7 Q1125.5,523.6 1144.6,580.4 M1080.9,508.5 Q1116.0,535.0 1138.1,577.1 M1084.0,516.1 Q1106.4,546.5 1131.8,573.4 M1087.5,523.4 Q1096.9,557.9 1125.7,569.2 M1091.4,530.5 Q1087.4,569.4 1119.8,564.5 M1095.6,537.3 Q1077.8,580.8 1114.1,559.5 M1100.2,543.7 Q1068.3,592.2 1108.7,554.0 M1301.5,451.0 Q1189.3,447.0 1186.0,312.4 M1301.3,442.5 Q1198.8,435.6 1193.1,312.7 M1300.6,434.1 Q1208.4,424.2 1200.1,313.4 M1299.6,425.7 Q1217.9,412.7 1207.0,314.7 M1298.1,417.5 Q1227.4,401.3 1213.9,316.5 M1296.2,409.3 Q1237.0,389.8 1220.7,318.8 M1293.8,401.3 Q1246.5,378.4 1227.4,321.6 M1291.1,393.5 Q1256.0,367.0 1233.9,324.9 M1288.0,385.9 Q1265.6,355.5 1240.2,328.6 M1284.5,378.6 Q1275.1,344.1 1246.3,332.8 M1280.6,371.5 Q1284.6,332.6 1252.2,337.5 M1276.4,364.7 Q1294.2,321.2 1257.9,342.5 M1271.8,358.3 Q1303.7,309.8 1263.3,348.0 M1301.5,451.0 Q1189.3,455.0 1186.0,589.6 M1301.3,459.5 Q1198.8,466.4 1193.1,589.3 M1300.6,467.9 Q1208.4,477.8 1200.1,588.6 M1299.6,476.3 Q1217.9,489.3 1207.0,587.3 M1298.1,484.5 Q1227.4,500.7 1213.9,585.5 M1296.2,492.7 Q1237.0,512.2 1220.7,583.2 M1293.8,500.7 Q1246.5,523.6 1227.4,580.4 M1291.1,508.5 Q1256.0,535.0 1233.9,577.1 M1288.0,516.1 Q1265.6,546.5 1240.2,573.4 M1284.5,523.4 Q1275.1,557.9 1246.3,569.2 M1280.6,530.5 Q1284.6,569.4 1252.2,564.5 M1276.4,537.3 Q1294.2,580.8 1257.9,559.5 M1271.8,543.7 Q1303.7,592.2 1263.3,554.0" fill="none" stroke="#62569f" stroke-width="3.8" opacity="0.42" filter="url(#b1)"/><path d="M1186,400 L1226,451 L1186,504 L1146,451 Z" fill="#90a6a0" filter="url(#b10)"/><path d="M1127.2,437.1 L1244.8,464.9 M1136.2,411.9 L1235.8,490.1 M1152.8,392.7 L1219.2,509.3 M1174.5,382.3 L1197.5,519.7 M1197.9,382.4 L1174.1,519.6 M1219.5,392.9 L1152.5,509.1 M1236.0,412.3 L1136.0,489.7 M1244.9,437.6 L1127.1,464.4" fill="none" stroke="#6f8680" stroke-width="1" opacity="0.6"/><ellipse cx="1078" cy="448" rx="16" ry="50" fill="#3f63e8" opacity="0.65" filter="url(#b10)"/><ellipse cx="1298" cy="440" rx="12" ry="45" fill="#4a5ad8" opacity="0.5" filter="url(#b10)"/></g><g filter="url(#b2)"><ellipse cx="1103" cy="571" rx="20" ry="20" fill="#c63ec4"/><ellipse cx="1288" cy="540" rx="18" ry="18" fill="#c63ec4"/><ellipse cx="1284" cy="328" rx="25" ry="21" fill="#c63ec4"/><ellipse cx="1090" cy="352" rx="18" ry="18" fill="#c63ec4"/></g><g filter="url(#b6)"><ellipse cx="1192" cy="316" rx="36" ry="13" fill="#f2303a"/><ellipse cx="1190" cy="588" rx="36" ry="13" fill="#f02838"/></g><g filter="url(#b10)" opacity="0.6"><ellipse cx="1193" cy="340" rx="28" ry="16" fill="#e0404a"/><ellipse cx="1192" cy="566" rx="28" ry="15" fill="#e0404a"/></g></g>
<g><g fill="none" stroke-linejoin="round"><path d="M1243.0,240.0 L1244.6,239.8 L1246.7,239.3 L1249.2,238.8 L1252.0,238.2" stroke="#3b342e" stroke-width="34.0" stroke-linecap="round"/><path d="M1249.2,238.8 L1252.0,238.2 L1255.0,237.8 L1258.0,237.6 L1261.1,237.6" stroke="#3a332e" stroke-width="34.0"/><path d="M1258.0,237.6 L1261.1,237.6 L1264.0,238.0 L1266.8,238.7 L1269.6,239.6" stroke="#38332e" stroke-width="34.0"/><path d="M1266.8,238.7 L1269.6,239.6 L1272.5,240.8 L1275.4,242.1 L1278.4,243.7" stroke="#36312e" stroke-width="34.0"/><path d="M1275.4,242.1 L1278.4,243.7 L1281.5,245.5 L1284.7,247.6 L1288.0,250.0" stroke="#312c29" stroke-width="34.0"/><path d="M1284.7,247.6 L1288.0,250.0 L1291.5,252.7 L1295.2,255.7 L1299.0,259.0" stroke="#2a2623" stroke-width="34.0"/><path d="M1295.2,255.7 L1299.0,259.0 L1302.9,262.6 L1306.9,266.3 L1310.7,270.1" stroke="#221e1d" stroke-width="34.0"/><path d="M1306.9,266.3 L1310.7,270.1 L1314.4,274.1 L1318.0,278.0 L1321.4,282.0" stroke="#201c1b" stroke-width="34.0"/><path d="M1318.0,278.0 L1321.4,282.0 L1324.7,286.1 L1328.0,290.4 L1331.2,294.8" stroke="#201c1b" stroke-width="34.0"/><path d="M1328.0,290.4 L1331.2,294.8 L1334.3,299.2 L1337.3,303.7 L1340.2,308.3" stroke="#1f1c1b" stroke-width="34.0"/><path d="M1337.3,303.7 L1340.2,308.3 L1343.0,313.0 L1345.7,317.8 L1348.4,322.6" stroke="#1f1c1b" stroke-width="34.0"/><path d="M1345.7,317.8 L1348.4,322.6 L1351.0,327.6 L1353.4,332.7 L1355.8,337.8" stroke="#1f1b1b" stroke-width="34.0"/><path d="M1353.4,332.7 L1355.8,337.8 L1358.0,342.9 L1360.1,348.0 L1362.0,353.0" stroke="#1e1b1b" stroke-width="34.0"/><path d="M1360.1,348.0 L1362.0,353.0 L1363.7,358.0 L1365.3,363.1 L1366.7,368.1" stroke="#1e1b1b" stroke-width="34.0"/><path d="M1365.3,363.1 L1366.7,368.1 L1368.0,373.2 L1369.2,378.2 L1370.2,383.2" stroke="#1e1b1b" stroke-width="34.0"/><path d="M1369.2,378.2 L1370.2,383.2 L1371.1,388.1 L1372.0,393.0 L1372.7,397.9" stroke="#221f1f" stroke-width="34.0"/><path d="M1372.0,393.0 L1372.7,397.9 L1373.3,402.8 L1373.8,407.8 L1374.2,412.6" stroke="#252222" stroke-width="34.0"/><path d="M1373.8,407.8 L1374.2,412.6 L1374.5,417.4 L1374.7,421.9 L1374.9,426.1" stroke="#282525" stroke-width="34.0"/><path d="M1374.7,421.9 L1374.9,426.1 L1375.0,430.0 L1375.1,433.6 L1375.0,437.1" stroke="#2b2828" stroke-width="34.0"/><path d="M1375.1,433.6 L1375.0,437.1 L1374.9,440.3 L1374.7,443.3 L1374.5,446.0" stroke="#2d2b2b" stroke-width="34.0"/><path d="M1374.7,443.3 L1374.5,446.0 L1374.3,448.4 L1374.1,450.4 L1374.0,452.0" stroke="#2f2d2d" stroke-width="34.0"/><path d="M1374.1,450.4 L1374.0,452.0" stroke="#302e2e" stroke-width="34.0" stroke-linecap="round"/><path d="M1240.7,225.2 L1241.9,225.0 L1243.6,224.7 L1246.3,224.1 L1249.5,223.5 L1253.3,222.9 L1257.5,222.6 L1262.2,222.7 L1266.9,223.3 L1271.0,224.4 L1274.7,225.6 L1278.4,227.0 L1282.1,228.7 L1285.8,230.7 L1289.5,232.9 L1293.2,235.3 L1296.9,238.0 L1300.8,241.0 L1304.8,244.3 L1308.9,247.8 L1313.1,251.6 L1317.3,255.6 L1321.4,259.7 L1325.4,263.9 L1329.3,268.1 L1332.9,272.5 L1336.5,276.9 L1340.0,281.4 L1343.4,286.1 L1346.7,290.8 L1349.8,295.6 L1352.9,300.5 L1355.9,305.4 L1358.8,310.5 L1361.6,315.6 L1364.3,320.9 L1366.9,326.2 L1369.4,331.6 L1371.8,337.1 L1374.0,342.5 L1376.1,347.9 L1377.9,353.4 L1379.6,358.8 L1381.2,364.3 L1382.5,369.7 L1383.8,375.0 L1384.9,380.3 L1385.9,385.4 L1386.8,390.6 L1387.6,395.9 L1388.2,401.2 L1388.7,406.5 L1389.1,411.6 L1389.4,416.5 L1389.6,421.2 L1389.8,425.6 L1390.0,429.6 L1390.0,433.6 L1390.0,437.5 L1389.8,441.1 L1389.6,444.3 L1389.4,447.2 L1389.2,449.7 L1389.0,451.5 L1388.9,453.0" stroke="#000" stroke-opacity="0.35" stroke-width="4.8" filter="url(#b1)"/><path d="M1245.3,254.8 L1247.3,254.5 L1249.8,254.0 L1252.1,253.4 L1254.5,253.0 L1256.7,252.7 L1258.6,252.5 L1260.0,252.5 L1261.1,252.7 L1262.6,253.1 L1264.6,253.7 L1266.6,254.5 L1268.8,255.5 L1271.1,256.7 L1273.6,258.2 L1276.2,260.0 L1279.1,262.0 L1282.2,264.4 L1285.6,267.2 L1289.1,270.2 L1292.8,273.5 L1296.4,277.0 L1300.0,280.6 L1303.5,284.2 L1306.7,287.9 L1309.9,291.5 L1313.0,295.4 L1316.0,299.4 L1319.0,303.4 L1321.9,307.6 L1324.7,311.9 L1327.5,316.2 L1330.1,320.6 L1332.7,325.0 L1335.2,329.7 L1337.6,334.4 L1339.9,339.1 L1342.2,343.9 L1344.2,348.7 L1346.2,353.4 L1347.9,358.1 L1349.5,362.7 L1351.0,367.3 L1352.3,372.0 L1353.5,376.7 L1354.5,381.4 L1355.5,386.1 L1356.4,390.8 L1357.2,395.4 L1357.9,399.9 L1358.5,404.4 L1358.9,409.0 L1359.3,413.7 L1359.5,418.2 L1359.8,422.5 L1359.9,426.7 L1360.0,430.4 L1360.1,433.6 L1360.1,436.7 L1359.9,439.5 L1359.8,442.3 L1359.6,444.8 L1359.4,447.1 L1359.2,449.3 L1359.1,451.0" stroke="#000" stroke-opacity="0.35" stroke-width="4.8" filter="url(#b1)"/><path d="M1241.3,229.3 L1242.6,229.1 L1244.5,228.7 L1247.1,228.1 L1250.2,227.5 L1253.8,227.0 L1257.7,226.7 L1261.9,226.7 L1266.1,227.3 L1269.9,228.3 L1273.3,229.4 L1276.8,230.8 L1280.3,232.4 L1283.8,234.2 L1287.3,236.3 L1290.8,238.7 L1294.5,241.3 L1298.3,244.2 L1302.2,247.4 L1306.2,250.9 L1310.3,254.6 L1314.4,258.5 L1318.5,262.5 L1322.4,266.7 L1326.2,270.8 L1329.8,275.1 L1333.3,279.4 L1336.7,283.9 L1340.0,288.4 L1343.3,293.1 L1346.4,297.8 L1349.5,302.6 L1352.4,307.5 L1355.2,312.5 L1358.0,317.6 L1360.7,322.7 L1363.3,328.0 L1365.7,333.3 L1368.0,338.7 L1370.2,344.0 L1372.2,349.3 L1374.1,354.6 L1375.7,360.0 L1377.2,365.3 L1378.6,370.6 L1379.8,375.9 L1380.9,381.1 L1381.8,386.2 L1382.7,391.2 L1383.5,396.4 L1384.2,401.6 L1384.7,406.8 L1385.0,411.9 L1385.3,416.8 L1385.6,421.4 L1385.7,425.7 L1385.9,429.7 L1385.9,433.6 L1385.9,437.4 L1385.7,440.9 L1385.5,444.1 L1385.3,446.9 L1385.1,449.3 L1385.0,451.2 L1384.9,452.7 M1242.2,234.6 L1243.6,234.4 L1245.6,234.0 L1248.1,233.4 L1251.1,232.9 L1254.4,232.4 L1257.9,232.1 L1261.5,232.2 L1265.1,232.7 L1268.3,233.5 L1271.5,234.5 L1274.7,235.8 L1277.9,237.3 L1281.1,239.0 L1284.4,240.9 L1287.8,243.2 L1291.2,245.6 L1294.9,248.4 L1298.7,251.5 L1302.6,254.9 L1306.6,258.6 L1310.6,262.4 L1314.6,266.3 L1318.4,270.4 L1322.1,274.4 L1325.6,278.5 L1329.0,282.8 L1332.4,287.1 L1335.6,291.6 L1338.8,296.1 L1341.9,300.8 L1344.8,305.5 L1347.7,310.2 L1350.5,315.1 L1353.2,320.1 L1355.8,325.2 L1358.3,330.3 L1360.8,335.5 L1363.0,340.8 L1365.2,346.0 L1367.1,351.2 L1368.9,356.3 L1370.5,361.5 L1372.0,366.7 L1373.3,371.9 L1374.5,377.1 L1375.5,382.1 L1376.5,387.2 L1377.4,392.1 L1378.1,397.1 L1378.7,402.2 L1379.2,407.3 L1379.6,412.3 L1379.9,417.1 L1380.1,421.6 L1380.3,425.9 L1380.4,429.9 L1380.5,433.6 L1380.4,437.2 L1380.3,440.6 L1380.1,443.7 L1379.9,446.5 L1379.7,448.9 L1379.5,450.8 L1379.4,452.4 M1243.0,240.0 L1244.6,239.8 L1246.7,239.3 L1249.2,238.8 L1252.0,238.2 L1255.0,237.8 L1258.0,237.6 L1261.1,237.6 L1264.0,238.0 L1266.8,238.7 L1269.6,239.6 L1272.5,240.8 L1275.4,242.1 L1278.4,243.7 L1281.5,245.5 L1284.7,247.6 L1288.0,250.0 L1291.5,252.7 L1295.2,255.7 L1299.0,259.0 L1302.9,262.6 L1306.9,266.3 L1310.7,270.1 L1314.4,274.1 L1318.0,278.0 L1321.4,282.0 L1324.7,286.1 L1328.0,290.4 L1331.2,294.8 L1334.3,299.2 L1337.3,303.7 L1340.2,308.3 L1343.0,313.0 L1345.7,317.8 L1348.4,322.6 L1351.0,327.6 L1353.4,332.7 L1355.8,337.8 L1358.0,342.9 L1360.1,348.0 L1362.0,353.0 L1363.7,358.0 L1365.3,363.1 L1366.7,368.1 L1368.0,373.2 L1369.2,378.2 L1370.2,383.2 L1371.1,388.1 L1372.0,393.0 L1372.7,397.9 L1373.3,402.8 L1373.8,407.8 L1374.2,412.6 L1374.5,417.4 L1374.7,421.9 L1374.9,426.1 L1375.0,430.0 L1375.1,433.6 L1375.0,437.1 L1374.9,440.3 L1374.7,443.3 L1374.5,446.0 L1374.3,448.4 L1374.1,450.4 L1374.0,452.0 M1243.8,245.4 L1245.6,245.1 L1247.8,244.6 L1250.3,244.1 L1252.9,243.6 L1255.6,243.2 L1258.2,243.0 L1260.7,243.0 L1262.9,243.3 L1265.3,243.9 L1267.8,244.8 L1270.4,245.8 L1273.0,247.0 L1275.8,248.5 L1278.6,250.2 L1281.6,252.1 L1284.8,254.4 L1288.1,256.9 L1291.7,259.9 L1295.4,263.1 L1299.2,266.5 L1303.1,270.2 L1306.8,273.9 L1310.5,277.8 L1313.9,281.6 L1317.2,285.5 L1320.5,289.5 L1323.7,293.7 L1326.8,297.9 L1329.8,302.3 L1332.7,306.7 L1335.6,311.2 L1338.3,315.8 L1341.0,320.4 L1343.6,325.2 L1346.1,330.1 L1348.5,335.0 L1350.8,340.0 L1353.0,345.0 L1355.0,350.0 L1356.9,354.8 L1358.6,359.7 L1360.1,364.6 L1361.5,369.5 L1362.7,374.5 L1363.8,379.4 L1364.9,384.3 L1365.8,389.1 L1366.6,393.9 L1367.3,398.6 L1367.9,403.4 L1368.4,408.2 L1368.8,413.0 L1369.0,417.7 L1369.3,422.1 L1369.4,426.3 L1369.6,430.1 L1369.6,433.6 L1369.6,436.9 L1369.4,440.0 L1369.3,442.9 L1369.1,445.6 L1368.9,447.9 L1368.7,450.0 L1368.6,451.6 M1244.7,250.7 L1246.6,250.4 L1248.9,250.0 L1251.3,249.4 L1253.8,249.0 L1256.2,248.6 L1258.4,248.4 L1260.3,248.4 L1261.9,248.7 L1263.8,249.2 L1266.0,249.9 L1268.2,250.8 L1270.6,251.9 L1273.1,253.2 L1275.7,254.8 L1278.5,256.6 L1281.5,258.7 L1284.7,261.2 L1288.2,264.0 L1291.8,267.2 L1295.5,270.5 L1299.3,274.1 L1302.9,277.7 L1306.5,281.5 L1309.8,285.2 L1313.0,288.9 L1316.2,292.9 L1319.3,296.9 L1322.3,301.1 L1325.3,305.3 L1328.2,309.6 L1330.9,314.0 L1333.6,318.5 L1336.2,323.1 L1338.8,327.7 L1341.2,332.5 L1343.6,337.4 L1345.9,342.2 L1348.0,347.1 L1350.0,351.9 L1351.8,356.7 L1353.4,361.4 L1354.9,366.2 L1356.2,370.9 L1357.4,375.7 L1358.5,380.6 L1359.5,385.3 L1360.4,390.1 L1361.3,394.8 L1362.0,399.3 L1362.5,404.0 L1363.0,408.7 L1363.3,413.4 L1363.6,418.0 L1363.8,422.4 L1364.0,426.5 L1364.1,430.3 L1364.2,433.6 L1364.1,436.8 L1364.0,439.8 L1363.8,442.6 L1363.6,445.1 L1363.4,447.5 L1363.3,449.6 L1363.1,451.3" stroke="#000" stroke-opacity="0.28" stroke-width="1.3"/><path d="M1241.7,231.9 L1243.1,231.7 L1245.0,231.3 L1247.6,230.8 L1250.7,230.2 L1254.1,229.7 L1257.8,229.4 L1261.7,229.5 L1265.6,230.0 L1269.1,230.9 L1272.4,232.0 L1275.7,233.3 L1279.1,234.8 L1282.4,236.6 L1285.8,238.6 L1289.3,240.9 L1292.9,243.4 L1296.6,246.3 L1300.4,249.5 L1304.4,252.9 L1308.5,256.6 L1312.5,260.4 L1316.5,264.4 L1320.4,268.5 L1324.1,272.6 L1327.7,276.8 L1331.2,281.1 L1334.5,285.5 L1337.8,290.0 L1341.0,294.6 L1344.1,299.3 L1347.1,304.1 L1350.0,308.9 L1352.8,313.8 L1355.6,318.8 L1358.2,324.0 L1360.8,329.2 L1363.2,334.4 L1365.5,339.7 L1367.7,345.0 L1369.7,350.2 L1371.5,355.5 L1373.1,360.8 L1374.6,366.0 L1375.9,371.3 L1377.1,376.5 L1378.2,381.6 L1379.2,386.7 L1380.1,391.7 L1380.8,396.8 L1381.4,401.9 L1381.9,407.0 L1382.3,412.1 L1382.6,416.9 L1382.8,421.5 L1383.0,425.8 L1383.2,429.8 L1383.2,433.6 L1383.2,437.3 L1383.0,440.7 L1382.8,443.9 L1382.6,446.7 L1382.4,449.1 L1382.2,451.0 L1382.1,452.5 M1242.6,237.3 L1244.1,237.1 L1246.1,236.7 L1248.7,236.1 L1251.6,235.6 L1254.7,235.1 L1257.9,234.8 L1261.3,234.9 L1264.5,235.3 L1267.6,236.1 L1270.6,237.1 L1273.6,238.3 L1276.6,239.7 L1279.8,241.3 L1283.0,243.2 L1286.2,245.4 L1289.6,247.8 L1293.2,250.6 L1296.9,253.6 L1300.8,257.0 L1304.8,260.6 L1308.8,264.3 L1312.7,268.2 L1316.4,272.2 L1320.0,276.2 L1323.5,280.3 L1326.9,284.5 L1330.2,288.8 L1333.4,293.2 L1336.5,297.7 L1339.6,302.3 L1342.5,306.9 L1345.3,311.6 L1348.1,316.4 L1350.8,321.4 L1353.4,326.4 L1355.9,331.5 L1358.3,336.7 L1360.5,341.8 L1362.6,347.0 L1364.6,352.1 L1366.3,357.2 L1367.9,362.3 L1369.3,367.4 L1370.6,372.5 L1371.8,377.6 L1372.9,382.7 L1373.8,387.7 L1374.7,392.6 L1375.4,397.5 L1376.0,402.5 L1376.5,407.5 L1376.9,412.4 L1377.2,417.2 L1377.4,421.8 L1377.6,426.0 L1377.7,429.9 L1377.8,433.6 L1377.7,437.1 L1377.6,440.5 L1377.4,443.5 L1377.2,446.2 L1377.0,448.6 L1376.8,450.6 L1376.7,452.2 M1243.4,242.7 L1245.1,242.4 L1247.3,242.0 L1249.7,241.4 L1252.4,240.9 L1255.3,240.5 L1258.1,240.3 L1260.9,240.3 L1263.5,240.7 L1266.1,241.3 L1268.7,242.2 L1271.4,243.3 L1274.2,244.6 L1277.1,246.1 L1280.1,247.9 L1283.2,249.9 L1286.4,252.2 L1289.8,254.8 L1293.4,257.8 L1297.2,261.1 L1301.1,264.6 L1305.0,268.2 L1308.8,272.0 L1312.5,275.9 L1316.0,279.8 L1319.3,283.7 L1322.6,287.8 L1325.8,292.0 L1329.0,296.3 L1332.0,300.7 L1335.0,305.2 L1337.9,309.8 L1340.7,314.4 L1343.3,319.1 L1346.0,323.9 L1348.5,328.9 L1351.0,333.9 L1353.3,338.9 L1355.5,343.9 L1357.6,349.0 L1359.4,353.9 L1361.1,358.9 L1362.7,363.8 L1364.1,368.8 L1365.4,373.8 L1366.5,378.8 L1367.5,383.7 L1368.5,388.6 L1369.3,393.4 L1370.0,398.2 L1370.6,403.1 L1371.1,408.0 L1371.5,412.8 L1371.8,417.5 L1372.0,422.0 L1372.1,426.2 L1372.3,430.1 L1372.3,433.6 L1372.3,437.0 L1372.2,440.2 L1372.0,443.1 L1371.8,445.8 L1371.6,448.2 L1371.4,450.2 L1371.3,451.8 M1244.3,248.1 L1246.1,247.8 L1248.4,247.3 L1250.8,246.8 L1253.3,246.3 L1255.9,245.9 L1258.3,245.7 L1260.5,245.7 L1262.4,246.0 L1264.5,246.6 L1266.9,247.3 L1269.3,248.3 L1271.8,249.4 L1274.4,250.8 L1277.2,252.5 L1280.1,254.4 L1283.1,256.6 L1286.4,259.1 L1289.9,262.0 L1293.6,265.1 L1297.4,268.5 L1301.2,272.1 L1304.9,275.8 L1308.5,279.6 L1311.9,283.4 L1315.1,287.2 L1318.3,291.2 L1321.5,295.3 L1324.5,299.5 L1327.5,303.8 L1330.4,308.2 L1333.2,312.6 L1336.0,317.1 L1338.6,321.7 L1341.2,326.5 L1343.7,331.3 L1346.1,336.2 L1348.4,341.1 L1350.5,346.1 L1352.5,351.0 L1354.3,355.8 L1356.0,360.6 L1357.5,365.4 L1358.8,370.2 L1360.1,375.1 L1361.2,380.0 L1362.2,384.8 L1363.1,389.6 L1363.9,394.3 L1364.7,399.0 L1365.2,403.7 L1365.7,408.5 L1366.0,413.2 L1366.3,417.8 L1366.5,422.2 L1366.7,426.4 L1366.8,430.2 L1366.9,433.6 L1366.9,436.8 L1366.7,439.9 L1366.5,442.7 L1366.3,445.4 L1366.1,447.7 L1366.0,449.8 L1365.9,451.5" stroke="#fff" stroke-opacity="0.08" stroke-width="1.3"/></g><g fill="none" stroke-linejoin="round"><path d="M1366.0,490.0 L1365.8,491.0 L1365.6,492.1 L1365.3,493.4 L1364.9,494.9" stroke="#646464" stroke-width="31.0" stroke-linecap="round"/><path d="M1365.3,493.4 L1364.9,494.9 L1364.6,496.7 L1364.2,498.8 L1363.9,501.2" stroke="#656565" stroke-width="31.0"/><path d="M1364.2,498.8 L1363.9,501.2 L1363.5,504.0 L1363.2,507.2 L1363.0,511.0" stroke="#656565" stroke-width="31.0"/><path d="M1363.2,507.2 L1363.0,511.0 L1362.9,515.2 L1362.7,519.6 L1362.5,524.1" stroke="#666666" stroke-width="31.0"/><path d="M1362.7,519.6 L1362.5,524.1 L1362.0,528.6 L1361.4,532.9 L1360.5,537.0" stroke="#676767" stroke-width="31.0"/><path d="M1361.4,532.9 L1360.5,537.0 L1359.3,540.8 L1358.0,544.5 L1356.4,548.2" stroke="#686868" stroke-width="31.0"/><path d="M1358.0,544.5 L1356.4,548.2 L1354.7,551.8 L1352.9,555.3 L1350.9,558.8" stroke="#6a6a6a" stroke-width="31.0"/><path d="M1352.9,555.3 L1350.9,558.8 L1348.7,562.4 L1346.5,566.0 L1344.1,569.6" stroke="#6b6b6b" stroke-width="31.0"/><path d="M1346.5,566.0 L1344.1,569.6 L1341.6,573.2 L1339.0,576.8 L1336.2,580.4" stroke="#6c6c6c" stroke-width="31.0"/><path d="M1339.0,576.8 L1336.2,580.4 L1333.4,584.1 L1330.4,587.7 L1327.2,591.3" stroke="#6a6a6a" stroke-width="31.0"/><path d="M1330.4,587.7 L1327.2,591.3 L1324.0,595.0 L1320.6,598.8 L1317.1,602.6" stroke="#676767" stroke-width="31.0"/><path d="M1320.6,598.8 L1317.1,602.6 L1313.4,606.5 L1309.7,610.4 L1305.8,614.2" stroke="#656464" stroke-width="31.0"/><path d="M1309.7,610.4 L1305.8,614.2 L1301.9,618.0 L1297.9,621.6 L1294.0,625.0" stroke="#626161" stroke-width="31.0"/><path d="M1297.9,621.6 L1294.0,625.0 L1290.0,628.3 L1285.8,631.5 L1281.6,634.6" stroke="#5f5e5e" stroke-width="31.0"/><path d="M1285.8,631.5 L1281.6,634.6 L1277.3,637.5 L1273.0,640.4 L1268.9,643.1" stroke="#5c5b5b" stroke-width="31.0"/><path d="M1273.0,640.4 L1268.9,643.1 L1264.8,645.6 L1261.0,648.0 L1257.4,650.2" stroke="#525050" stroke-width="31.0"/><path d="M1261.0,648.0 L1257.4,650.2 L1254.1,652.1 L1251.0,653.9 L1247.9,655.5" stroke="#494747" stroke-width="31.0"/><path d="M1251.0,653.9 L1247.9,655.5 L1244.8,657.0 L1241.6,658.5 L1238.2,659.9" stroke="#413e3e" stroke-width="31.0"/><path d="M1241.6,658.5 L1238.2,659.9 L1234.6,661.4 L1230.6,662.9 L1226.4,664.5" stroke="#393636" stroke-width="31.0"/><path d="M1230.6,662.9 L1226.4,664.5 L1222.0,666.0 L1217.5,667.4 L1213.0,668.8" stroke="#333030" stroke-width="31.0"/><path d="M1217.5,667.4 L1213.0,668.8 L1208.5,670.1 L1204.2,671.1 L1200.0,672.0" stroke="#2e2b2b" stroke-width="31.0"/><path d="M1204.2,671.1 L1200.0,672.0 L1195.8,672.6 L1191.5,673.1 L1187.1,673.3" stroke="#292525" stroke-width="31.0"/><path d="M1191.5,673.1 L1187.1,673.3 L1182.8,673.4 L1178.9,673.4 L1175.3,673.4" stroke="#242020" stroke-width="31.0"/><path d="M1178.9,673.4 L1175.3,673.4 L1172.3,673.4 L1170.0,673.5" stroke="#201c1c" stroke-width="31.0" stroke-linecap="round"/><path d="M1379.4,492.7 L1379.2,493.8 L1378.9,495.0 L1378.6,496.3 L1378.3,497.7 L1378.0,499.2 L1377.7,501.0 L1377.4,503.1 L1377.1,505.4 L1376.8,508.1 L1376.7,511.6 L1376.5,515.7 L1376.3,520.2 L1376.1,525.1 L1375.6,530.2 L1374.8,535.4 L1373.7,540.5 L1372.3,545.2 L1370.7,549.5 L1368.9,553.8 L1366.9,557.9 L1364.8,561.8 L1362.7,565.7 L1360.4,569.5 L1358.0,573.3 L1355.5,577.2 L1352.8,581.1 L1349.9,585.0 L1347.0,588.8 L1343.9,592.7 L1340.8,596.5 L1337.5,600.3 L1334.2,604.1 L1330.7,607.9 L1327.1,611.9 L1323.3,615.9 L1319.4,620.0 L1315.3,624.0 L1311.2,627.9 L1307.0,631.8 L1302.8,635.4 L1298.4,639.0 L1294.0,642.4 L1289.5,645.7 L1285.0,648.8 L1280.5,651.8 L1276.2,654.6 L1272.1,657.2 L1268.1,659.6 L1264.4,661.9 L1260.9,663.9 L1257.5,665.8 L1254.1,667.6 L1250.7,669.3 L1247.2,670.9 L1243.5,672.5 L1239.6,674.1 L1235.4,675.7 L1231.0,677.3 L1226.4,678.9 L1221.6,680.5 L1216.8,681.9 L1212.0,683.3 L1207.2,684.4 L1202.4,685.4 L1197.5,686.2 L1192.5,686.7 L1187.7,686.9 L1183.1,687.1 L1178.9,687.1 L1175.3,687.1 L1172.4,687.1 L1170.3,687.1" stroke="#000" stroke-opacity="0.35" stroke-width="4.3" filter="url(#b1)"/><path d="M1352.6,487.3 L1352.5,488.1 L1352.2,489.1 L1351.9,490.5 L1351.6,492.2 L1351.2,494.3 L1350.8,496.7 L1350.3,499.4 L1349.9,502.6 L1349.6,506.4 L1349.4,510.4 L1349.3,514.6 L1349.1,518.9 L1348.9,523.1 L1348.5,527.0 L1348.0,530.5 L1347.3,533.5 L1346.4,536.5 L1345.3,539.5 L1344.0,542.6 L1342.5,545.6 L1340.9,548.8 L1339.1,552.0 L1337.1,555.3 L1335.0,558.7 L1332.8,562.0 L1330.5,565.3 L1328.1,568.7 L1325.5,572.0 L1322.8,575.4 L1319.9,578.9 L1316.9,582.4 L1313.8,585.9 L1310.5,589.6 L1307.1,593.3 L1303.6,597.1 L1299.9,600.8 L1296.3,604.5 L1292.6,608.0 L1288.9,611.4 L1285.2,614.6 L1281.5,617.6 L1277.6,620.5 L1273.6,623.4 L1269.6,626.3 L1265.5,629.0 L1261.5,631.6 L1257.6,634.1 L1253.9,636.4 L1250.5,638.4 L1247.4,640.3 L1244.5,641.9 L1241.7,643.3 L1238.9,644.7 L1236.1,646.0 L1233.0,647.3 L1229.6,648.7 L1225.9,650.1 L1221.9,651.6 L1217.7,653.0 L1213.4,654.4 L1209.2,655.7 L1205.1,656.9 L1201.1,657.8 L1197.6,658.6 L1194.2,659.1 L1190.4,659.4 L1186.5,659.7 L1182.6,659.8 L1178.8,659.8 L1175.3,659.8 L1172.1,659.8 L1169.7,659.9" stroke="#000" stroke-opacity="0.35" stroke-width="4.3" filter="url(#b1)"/><path d="M1375.7,491.9 L1375.5,493.0 L1375.2,494.2 L1375.0,495.5 L1374.7,496.9 L1374.3,498.5 L1374.0,500.4 L1373.7,502.6 L1373.4,505.0 L1373.1,507.9 L1373.0,511.4 L1372.8,515.5 L1372.6,520.1 L1372.3,524.8 L1371.9,529.8 L1371.2,534.7 L1370.1,539.5 L1368.7,544.0 L1367.2,548.2 L1365.5,552.2 L1363.6,556.2 L1361.6,560.0 L1359.4,563.8 L1357.2,567.6 L1354.9,571.3 L1352.4,575.1 L1349.7,579.0 L1347.0,582.8 L1344.1,586.6 L1341.1,590.3 L1337.9,594.1 L1334.7,597.8 L1331.4,601.6 L1328.0,605.4 L1324.4,609.4 L1320.6,613.3 L1316.7,617.3 L1312.7,621.3 L1308.7,625.2 L1304.5,629.0 L1300.4,632.6 L1296.1,636.1 L1291.7,639.4 L1287.3,642.6 L1282.9,645.7 L1278.5,648.7 L1274.2,651.4 L1270.1,654.0 L1266.2,656.5 L1262.5,658.7 L1259.1,660.7 L1255.7,662.6 L1252.4,664.3 L1249.1,666.0 L1245.7,667.5 L1242.1,669.1 L1238.2,670.6 L1234.1,672.2 L1229.7,673.8 L1225.2,675.4 L1220.5,676.9 L1215.8,678.3 L1211.0,679.7 L1206.4,680.8 L1201.8,681.8 L1197.0,682.5 L1192.2,682.9 L1187.5,683.2 L1183.0,683.3 L1178.9,683.4 L1175.3,683.4 L1172.4,683.4 L1170.2,683.4 M1370.9,491.0 L1370.7,492.0 L1370.4,493.1 L1370.1,494.4 L1369.8,495.9 L1369.5,497.6 L1369.1,499.6 L1368.8,501.9 L1368.4,504.5 L1368.2,507.6 L1368.0,511.2 L1367.9,515.3 L1367.7,519.8 L1367.4,524.5 L1367.0,529.2 L1366.3,533.8 L1365.3,538.3 L1364.0,542.4 L1362.6,546.4 L1361.0,550.2 L1359.2,554.0 L1357.2,557.7 L1355.1,561.3 L1353.0,565.0 L1350.7,568.7 L1348.3,572.4 L1345.7,576.1 L1343.0,579.8 L1340.2,583.5 L1337.2,587.2 L1334.1,590.9 L1331.0,594.6 L1327.7,598.3 L1324.3,602.1 L1320.7,606.0 L1317.0,609.9 L1313.2,613.9 L1309.3,617.8 L1305.3,621.6 L1301.2,625.3 L1297.2,628.8 L1293.0,632.2 L1288.8,635.4 L1284.4,638.6 L1280.1,641.6 L1275.8,644.5 L1271.5,647.3 L1267.5,649.8 L1263.6,652.2 L1260.0,654.4 L1256.6,656.4 L1253.3,658.2 L1250.2,659.9 L1246.9,661.5 L1243.6,663.0 L1240.2,664.5 L1236.4,666.0 L1232.4,667.6 L1228.1,669.1 L1223.6,670.7 L1219.0,672.2 L1214.4,673.6 L1209.8,674.9 L1205.3,676.0 L1200.9,676.9 L1196.4,677.6 L1191.8,678.0 L1187.3,678.3 L1182.9,678.4 L1178.9,678.4 L1175.3,678.4 L1172.3,678.4 L1170.1,678.5 M1366.0,490.0 L1365.8,491.0 L1365.6,492.1 L1365.3,493.4 L1364.9,494.9 L1364.6,496.7 L1364.2,498.8 L1363.9,501.2 L1363.5,504.0 L1363.2,507.2 L1363.0,511.0 L1362.9,515.2 L1362.7,519.6 L1362.5,524.1 L1362.0,528.6 L1361.4,532.9 L1360.5,537.0 L1359.3,540.8 L1358.0,544.5 L1356.4,548.2 L1354.7,551.8 L1352.9,555.3 L1350.9,558.8 L1348.7,562.4 L1346.5,566.0 L1344.1,569.6 L1341.6,573.2 L1339.0,576.8 L1336.2,580.4 L1333.4,584.1 L1330.4,587.7 L1327.2,591.3 L1324.0,595.0 L1320.6,598.8 L1317.1,602.6 L1313.4,606.5 L1309.7,610.4 L1305.8,614.2 L1301.9,618.0 L1297.9,621.6 L1294.0,625.0 L1290.0,628.3 L1285.8,631.5 L1281.6,634.6 L1277.3,637.5 L1273.0,640.4 L1268.9,643.1 L1264.8,645.6 L1261.0,648.0 L1257.4,650.2 L1254.1,652.1 L1251.0,653.9 L1247.9,655.5 L1244.8,657.0 L1241.6,658.5 L1238.2,659.9 L1234.6,661.4 L1230.6,662.9 L1226.4,664.5 L1222.0,666.0 L1217.5,667.4 L1213.0,668.8 L1208.5,670.1 L1204.2,671.1 L1200.0,672.0 L1195.8,672.6 L1191.5,673.1 L1187.1,673.3 L1182.8,673.4 L1178.9,673.4 L1175.3,673.4 L1172.3,673.4 L1170.0,673.5 M1361.1,489.0 L1361.0,489.9 L1360.7,491.0 L1360.4,492.3 L1360.1,493.9 L1359.7,495.8 L1359.3,498.0 L1358.9,500.6 L1358.6,503.5 L1358.3,506.9 L1358.1,510.8 L1357.9,515.0 L1357.8,519.3 L1357.5,523.7 L1357.1,528.0 L1356.5,532.0 L1355.7,535.7 L1354.6,539.2 L1353.4,542.7 L1351.9,546.1 L1350.3,549.5 L1348.5,552.9 L1346.6,556.4 L1344.5,559.8 L1342.3,563.3 L1340.0,566.9 L1337.6,570.4 L1335.0,573.9 L1332.3,577.4 L1329.5,580.9 L1326.6,584.5 L1323.5,588.1 L1320.3,591.7 L1317.0,595.4 L1313.5,599.2 L1309.8,603.1 L1306.1,606.9 L1302.3,610.7 L1298.5,614.3 L1294.6,617.9 L1290.8,621.2 L1286.9,624.4 L1282.8,627.5 L1278.7,630.5 L1274.5,633.4 L1270.3,636.2 L1266.2,638.9 L1262.2,641.4 L1258.4,643.8 L1254.9,645.9 L1251.7,647.8 L1248.6,649.5 L1245.6,651.1 L1242.7,652.5 L1239.6,653.9 L1236.3,655.3 L1232.8,656.8 L1228.9,658.3 L1224.8,659.8 L1220.4,661.3 L1216.0,662.7 L1211.6,664.1 L1207.3,665.3 L1203.1,666.3 L1199.1,667.1 L1195.2,667.7 L1191.1,668.1 L1186.9,668.3 L1182.7,668.5 L1178.8,668.5 L1175.3,668.5 L1172.2,668.5 L1169.9,668.5 M1356.3,488.1 L1356.1,488.9 L1355.9,489.9 L1355.6,491.3 L1355.2,493.0 L1354.8,494.9 L1354.4,497.2 L1354.0,499.9 L1353.6,503.0 L1353.3,506.6 L1353.1,510.6 L1353.0,514.8 L1352.8,519.1 L1352.6,523.3 L1352.2,527.4 L1351.6,531.2 L1350.9,534.5 L1349.9,537.7 L1348.7,540.9 L1347.4,544.1 L1345.8,547.3 L1344.1,550.6 L1342.3,553.9 L1340.3,557.2 L1338.1,560.7 L1335.9,564.1 L1333.6,567.5 L1331.1,570.9 L1328.4,574.3 L1325.7,577.8 L1322.8,581.3 L1319.7,584.8 L1316.6,588.4 L1313.3,592.1 L1309.8,595.8 L1306.3,599.6 L1302.6,603.4 L1298.9,607.1 L1295.1,610.7 L1291.3,614.2 L1287.6,617.4 L1283.8,620.5 L1279.9,623.5 L1275.8,626.5 L1271.7,629.3 L1267.6,632.1 L1263.5,634.7 L1259.6,637.2 L1255.8,639.5 L1252.4,641.6 L1249.2,643.5 L1246.2,645.1 L1243.4,646.6 L1240.5,648.0 L1237.6,649.4 L1234.4,650.8 L1231.0,652.2 L1227.2,653.6 L1223.1,655.1 L1218.9,656.6 L1214.6,658.0 L1210.2,659.3 L1206.0,660.5 L1202.0,661.5 L1198.2,662.2 L1194.6,662.8 L1190.7,663.2 L1186.7,663.4 L1182.7,663.5 L1178.8,663.5 L1175.3,663.5 L1172.2,663.5 L1169.8,663.6" stroke="#000" stroke-opacity="0.28" stroke-width="1.3"/><path d="M1373.3,491.5 L1373.1,492.5 L1372.8,493.7 L1372.5,495.0 L1372.2,496.4 L1371.9,498.1 L1371.6,500.0 L1371.2,502.3 L1370.9,504.8 L1370.6,507.7 L1370.5,511.3 L1370.3,515.4 L1370.1,519.9 L1369.9,524.6 L1369.4,529.5 L1368.7,534.3 L1367.7,538.9 L1366.4,543.2 L1364.9,547.3 L1363.2,551.2 L1361.4,555.1 L1359.4,558.9 L1357.3,562.6 L1355.1,566.3 L1352.8,570.0 L1350.3,573.8 L1347.7,577.5 L1345.0,581.3 L1342.1,585.0 L1339.1,588.8 L1336.0,592.5 L1332.8,596.2 L1329.6,599.9 L1326.1,603.8 L1322.5,607.7 L1318.8,611.6 L1315.0,615.6 L1311.0,619.5 L1307.0,623.4 L1302.9,627.1 L1298.8,630.7 L1294.6,634.1 L1290.3,637.4 L1285.9,640.6 L1281.5,643.7 L1277.1,646.6 L1272.9,649.4 L1268.8,651.9 L1264.9,654.3 L1261.2,656.5 L1257.8,658.5 L1254.5,660.4 L1251.3,662.1 L1248.0,663.7 L1244.6,665.3 L1241.1,666.8 L1237.3,668.3 L1233.2,669.9 L1228.9,671.5 L1224.4,673.0 L1219.8,674.5 L1215.1,676.0 L1210.4,677.3 L1205.8,678.4 L1201.3,679.3 L1196.7,680.0 L1192.0,680.5 L1187.4,680.7 L1183.0,680.9 L1178.9,680.9 L1175.3,680.9 L1172.4,680.9 L1170.2,680.9 M1368.4,490.5 L1368.2,491.5 L1368.0,492.6 L1367.7,493.9 L1367.4,495.4 L1367.0,497.2 L1366.7,499.2 L1366.3,501.6 L1366.0,504.3 L1365.7,507.4 L1365.5,511.1 L1365.4,515.3 L1365.2,519.7 L1364.9,524.3 L1364.5,528.9 L1363.8,533.4 L1362.9,537.6 L1361.7,541.6 L1360.3,545.4 L1358.7,549.2 L1356.9,552.9 L1355.0,556.5 L1353.0,560.1 L1350.9,563.7 L1348.6,567.3 L1346.2,571.0 L1343.7,574.7 L1341.0,578.3 L1338.2,582.0 L1335.3,585.6 L1332.2,589.3 L1329.1,593.0 L1325.9,596.6 L1322.5,600.4 L1318.9,604.3 L1315.2,608.2 L1311.4,612.1 L1307.5,616.0 L1303.6,619.8 L1299.6,623.4 L1295.6,626.9 L1291.5,630.2 L1287.3,633.5 L1283.0,636.6 L1278.7,639.6 L1274.4,642.5 L1270.2,645.2 L1266.1,647.7 L1262.3,650.1 L1258.7,652.3 L1255.4,654.2 L1252.2,656.0 L1249.0,657.7 L1245.9,659.2 L1242.6,660.7 L1239.2,662.2 L1235.5,663.7 L1231.5,665.2 L1227.2,666.8 L1222.8,668.3 L1218.3,669.8 L1213.7,671.2 L1209.1,672.5 L1204.7,673.5 L1200.4,674.4 L1196.1,675.1 L1191.7,675.5 L1187.2,675.8 L1182.9,675.9 L1178.9,675.9 L1175.3,675.9 L1172.3,675.9 L1170.1,676.0 M1363.6,489.5 L1363.4,490.4 L1363.1,491.5 L1362.8,492.9 L1362.5,494.4 L1362.1,496.3 L1361.8,498.4 L1361.4,500.9 L1361.0,503.7 L1360.7,507.1 L1360.6,510.9 L1360.4,515.1 L1360.2,519.4 L1360.0,523.9 L1359.6,528.3 L1359.0,532.5 L1358.1,536.4 L1357.0,540.0 L1355.7,543.6 L1354.2,547.1 L1352.5,550.6 L1350.7,554.1 L1348.7,557.6 L1346.6,561.1 L1344.4,564.7 L1342.1,568.2 L1339.6,571.8 L1337.0,575.3 L1334.3,578.9 L1331.4,582.5 L1328.5,586.1 L1325.4,589.7 L1322.1,593.4 L1318.8,597.1 L1315.3,600.9 L1311.6,604.8 L1307.9,608.6 L1304.1,612.4 L1300.2,616.2 L1296.3,619.7 L1292.4,623.1 L1288.4,626.3 L1284.3,629.5 L1280.1,632.5 L1275.9,635.5 L1271.7,638.3 L1267.5,641.0 L1263.5,643.5 L1259.7,645.9 L1256.2,648.0 L1252.9,649.9 L1249.8,651.7 L1246.8,653.3 L1243.7,654.8 L1240.6,656.2 L1237.3,657.6 L1233.7,659.1 L1229.8,660.6 L1225.6,662.1 L1221.2,663.6 L1216.8,665.1 L1212.3,666.4 L1207.9,667.7 L1203.6,668.7 L1199.6,669.6 L1195.5,670.2 L1191.3,670.6 L1187.0,670.8 L1182.8,670.9 L1178.8,671.0 L1175.3,671.0 L1172.3,671.0 L1169.9,671.0 M1358.7,488.5 L1358.5,489.4 L1358.3,490.5 L1358.0,491.8 L1357.6,493.5 L1357.3,495.4 L1356.9,497.6 L1356.5,500.2 L1356.1,503.2 L1355.8,506.8 L1355.6,510.7 L1355.5,514.9 L1355.3,519.2 L1355.0,523.5 L1354.6,527.7 L1354.1,531.6 L1353.3,535.1 L1352.3,538.4 L1351.1,541.8 L1349.6,545.1 L1348.1,548.4 L1346.3,551.7 L1344.4,555.1 L1342.4,558.5 L1340.2,562.0 L1338.0,565.5 L1335.6,568.9 L1333.1,572.4 L1330.4,575.9 L1327.6,579.4 L1324.7,582.9 L1321.6,586.5 L1318.4,590.1 L1315.1,593.7 L1311.7,597.5 L1308.1,601.3 L1304.4,605.1 L1300.6,608.9 L1296.8,612.5 L1293.0,616.0 L1289.2,619.3 L1285.4,622.4 L1281.4,625.5 L1277.2,628.5 L1273.1,631.4 L1268.9,634.2 L1264.8,636.8 L1260.9,639.3 L1257.1,641.7 L1253.6,643.8 L1250.4,645.6 L1247.4,647.3 L1244.5,648.8 L1241.6,650.3 L1238.6,651.7 L1235.4,653.1 L1231.9,654.5 L1228.0,656.0 L1223.9,657.4 L1219.7,658.9 L1215.3,660.3 L1210.9,661.7 L1206.6,662.9 L1202.5,663.9 L1198.7,664.7 L1194.9,665.2 L1190.9,665.6 L1186.8,665.9 L1182.7,666.0 L1178.8,666.0 L1175.3,666.0 L1172.2,666.0 L1169.8,666.1" stroke="#fff" stroke-opacity="0.15" stroke-width="1.3"/></g><g fill="none" stroke-linejoin="round"><path d="M993.0,412.0 L993.0,410.5 L993.0,408.7 L993.0,406.5 L993.0,404.1" stroke="#352f2a" stroke-width="35.5" stroke-linecap="round"/><path d="M993.0,406.5 L993.0,404.1 L993.1,401.3 L993.2,398.4 L993.5,395.3" stroke="#3c3630" stroke-width="35.5"/><path d="M993.2,398.4 L993.5,395.3 L994.0,392.0 L994.6,388.5 L995.3,384.6" stroke="#463f38" stroke-width="35.5"/><path d="M994.6,388.5 L995.3,384.6 L996.2,380.4 L997.1,376.1 L998.2,371.7" stroke="#524a43" stroke-width="35.5"/><path d="M997.1,376.1 L998.2,371.7 L999.3,367.3 L1000.6,363.0 L1002.0,359.0" stroke="#564e46" stroke-width="35.5"/><path d="M1000.6,363.0 L1002.0,359.0 L1003.5,355.2 L1005.2,351.4 L1006.9,347.7" stroke="#595148" stroke-width="35.5"/><path d="M1005.2,351.4 L1006.9,347.7 L1008.8,344.1 L1010.8,340.6 L1012.8,337.0" stroke="#5c544b" stroke-width="35.5"/><path d="M1010.8,340.6 L1012.8,337.0 L1014.9,333.5 L1017.0,330.0 L1019.1,326.5" stroke="#5e564d" stroke-width="35.5"/><path d="M1017.0,330.0 L1019.1,326.5 L1021.3,323.1 L1023.6,319.8 L1025.9,316.4" stroke="#61594f" stroke-width="35.5"/><path d="M1023.6,319.8 L1025.9,316.4 L1028.3,313.1 L1030.7,309.8 L1033.3,306.4" stroke="#635b51" stroke-width="35.5"/><path d="M1030.7,309.8 L1033.3,306.4 L1036.0,303.0 L1038.8,299.5 L1041.7,295.9" stroke="#665e53" stroke-width="35.5"/><path d="M1038.8,299.5 L1041.7,295.9 L1044.8,292.3 L1047.9,288.7 L1051.1,285.1" stroke="#686055" stroke-width="35.5"/><path d="M1047.9,288.7 L1051.1,285.1 L1054.3,281.6 L1057.6,278.2 L1061.0,275.0" stroke="#696156" stroke-width="35.5"/><path d="M1057.6,278.2 L1061.0,275.0 L1064.4,271.9 L1067.8,269.0 L1071.3,266.1" stroke="#6b6357" stroke-width="35.5"/><path d="M1067.8,269.0 L1071.3,266.1 L1074.8,263.3 L1078.4,260.6 L1082.2,258.0" stroke="#6c6458" stroke-width="35.5"/><path d="M1078.4,260.6 L1082.2,258.0 L1086.0,255.5 L1090.0,253.0 L1094.2,250.6" stroke="#6d6559" stroke-width="35.5"/><path d="M1090.0,253.0 L1094.2,250.6 L1098.6,248.2 L1103.1,245.8 L1107.7,243.6" stroke="#6e665a" stroke-width="35.5"/><path d="M1103.1,245.8 L1107.7,243.6 L1112.3,241.5 L1117.0,239.5 L1121.5,237.6" stroke="#6f675b" stroke-width="35.5"/><path d="M1117.0,239.5 L1121.5,237.6 L1126.0,236.0 L1130.4,234.6 L1134.7,233.4" stroke="#6c6459" stroke-width="35.5"/><path d="M1130.4,234.6 L1134.7,233.4 L1139.0,232.3 L1143.2,231.4 L1147.5,230.6" stroke="#5d564c" stroke-width="35.5"/><path d="M1143.2,231.4 L1147.5,230.6 L1151.7,229.9 L1155.9,229.2 L1160.0,228.5" stroke="#4f4740" stroke-width="35.5"/><path d="M1155.9,229.2 L1160.0,228.5 L1164.2,227.8 L1168.5,227.2 L1172.9,226.6" stroke="#3d3732" stroke-width="35.5"/><path d="M1168.5,227.2 L1172.9,226.6 L1177.2,226.0 L1181.3,225.6 L1185.2,225.3" stroke="#26211f" stroke-width="35.5"/><path d="M1181.3,225.6 L1185.2,225.3 L1188.8,225.1 L1192.0,225.0 L1194.8,225.2" stroke="#221d1c" stroke-width="35.5"/><path d="M1192.0,225.0 L1194.8,225.2 L1197.3,225.6 L1199.5,226.1 L1201.5,226.8" stroke="#201c1b" stroke-width="35.5"/><path d="M1199.5,226.1 L1201.5,226.8 L1203.2,227.5 L1204.7,228.1 L1206.0,228.6" stroke="#1f1b1a" stroke-width="35.5"/><path d="M1204.7,228.1 L1206.0,228.6 L1207.0,229.0" stroke="#1e1a1a" stroke-width="35.5" stroke-linecap="round"/><path d="M977.4,411.7 L977.4,410.5 L977.4,408.8 L977.4,406.6 L977.4,403.8 L977.5,400.7 L977.7,397.2 L978.0,393.4 L978.6,389.5 L979.2,385.7 L980.0,381.6 L980.9,377.2 L981.9,372.6 L983.0,367.8 L984.3,363.0 L985.7,358.2 L987.3,353.6 L989.1,349.2 L991.0,344.9 L993.0,340.8 L995.0,336.8 L997.2,332.9 L999.3,329.1 L1001.5,325.5 L1003.7,321.9 L1005.9,318.2 L1008.3,314.6 L1010.6,311.0 L1013.1,307.4 L1015.6,303.9 L1018.3,300.4 L1021.0,296.8 L1023.8,293.3 L1026.7,289.7 L1029.7,286.0 L1032.8,282.2 L1036.1,278.4 L1039.5,274.6 L1043.0,270.8 L1046.7,267.1 L1050.3,263.6 L1054.0,260.2 L1057.7,257.0 L1061.5,253.9 L1065.3,250.9 L1069.3,248.0 L1073.4,245.1 L1077.6,242.3 L1082.0,239.6 L1086.5,237.0 L1091.2,234.4 L1096.1,231.9 L1101.0,229.5 L1106.0,227.2 L1111.0,225.0 L1115.9,223.1 L1120.9,221.2 L1125.8,219.6 L1130.7,218.3 L1135.5,217.1 L1140.2,216.1 L1144.7,215.2 L1149.1,214.5 L1153.3,213.8 L1157.5,213.1 L1161.8,212.4 L1166.3,211.7 L1170.9,211.1 L1175.4,210.5 L1179.8,210.0 L1184.1,209.7 L1188.2,209.4 L1192.3,209.4 L1196.5,209.6 L1200.4,210.3 L1203.9,211.1 L1206.8,212.1 L1209.2,213.0 L1210.9,213.8 L1211.6,214.1 L1212.1,214.2" stroke="#000" stroke-opacity="0.35" stroke-width="5.0" filter="url(#b1)"/><path d="M1008.6,412.3 L1008.6,410.6 L1008.6,408.6 L1008.6,406.5 L1008.6,404.3 L1008.7,402.0 L1008.8,399.6 L1009.0,397.1 L1009.4,394.5 L1010.0,391.2 L1010.7,387.5 L1011.5,383.6 L1012.4,379.5 L1013.3,375.5 L1014.4,371.5 L1015.5,367.8 L1016.7,364.4 L1017.9,361.2 L1019.3,358.0 L1020.9,354.7 L1022.6,351.5 L1024.4,348.2 L1026.3,344.9 L1028.3,341.5 L1030.3,338.1 L1032.4,334.9 L1034.4,331.7 L1036.5,328.5 L1038.6,325.4 L1040.9,322.3 L1043.2,319.2 L1045.6,316.0 L1048.2,312.7 L1050.9,309.3 L1053.8,305.9 L1056.7,302.4 L1059.6,299.0 L1062.6,295.6 L1065.6,292.4 L1068.6,289.3 L1071.7,286.4 L1074.8,283.6 L1077.9,280.9 L1081.1,278.3 L1084.3,275.7 L1087.6,273.3 L1090.9,270.9 L1094.4,268.6 L1098.0,266.4 L1101.9,264.2 L1105.9,262.0 L1110.1,259.8 L1114.4,257.7 L1118.7,255.7 L1123.0,253.9 L1127.1,252.2 L1131.1,250.8 L1134.9,249.5 L1138.7,248.5 L1142.5,247.5 L1146.3,246.7 L1150.3,246.0 L1154.3,245.3 L1158.4,244.6 L1162.5,243.9 L1166.6,243.3 L1170.8,242.6 L1174.9,242.1 L1179.0,241.5 L1182.8,241.1 L1186.4,240.8 L1189.4,240.7 L1191.7,240.6 L1193.1,240.7 L1194.2,240.9 L1195.2,241.1 L1196.2,241.5 L1197.3,241.9 L1198.5,242.5 L1200.3,243.2 L1201.9,243.8" stroke="#000" stroke-opacity="0.35" stroke-width="5.0" filter="url(#b1)"/><path d="M981.6,411.8 L981.7,410.5 L981.7,408.8 L981.6,406.6 L981.6,403.9 L981.7,400.9 L981.9,397.5 L982.3,393.9 L982.8,390.2 L983.4,386.4 L984.2,382.4 L985.1,378.1 L986.1,373.5 L987.2,368.9 L988.4,364.2 L989.8,359.5 L991.3,355.1 L993.0,350.8 L994.8,346.7 L996.8,342.7 L998.8,338.8 L1000.9,335.0 L1003.0,331.3 L1005.1,327.7 L1007.3,324.1 L1009.5,320.5 L1011.8,316.9 L1014.2,313.4 L1016.6,309.9 L1019.1,306.4 L1021.7,302.9 L1024.3,299.4 L1027.1,295.9 L1030.0,292.4 L1033.0,288.7 L1036.1,285.0 L1039.3,281.2 L1042.7,277.5 L1046.1,273.8 L1049.7,270.1 L1053.3,266.7 L1056.8,263.4 L1060.5,260.3 L1064.1,257.2 L1067.9,254.3 L1071.8,251.4 L1075.8,248.6 L1079.9,245.9 L1084.2,243.3 L1088.6,240.7 L1093.2,238.1 L1098.0,235.7 L1102.8,233.3 L1107.7,231.1 L1112.6,229.0 L1117.5,227.0 L1122.3,225.3 L1127.1,223.7 L1131.8,222.4 L1136.5,221.2 L1141.0,220.3 L1145.5,219.4 L1149.8,218.7 L1154.0,218.0 L1158.2,217.3 L1162.5,216.6 L1166.9,215.9 L1171.4,215.3 L1175.9,214.7 L1180.2,214.3 L1184.4,213.9 L1188.4,213.7 L1192.2,213.6 L1196.0,213.9 L1199.5,214.4 L1202.7,215.2 L1205.4,216.1 L1207.6,217.0 L1209.2,217.7 L1210.1,218.1 L1210.7,218.3 M987.3,411.9 L987.3,410.5 L987.3,408.8 L987.3,406.6 L987.3,404.0 L987.4,401.1 L987.6,397.9 L987.9,394.6 L988.4,391.1 L989.0,387.5 L989.8,383.5 L990.6,379.2 L991.6,374.8 L992.7,370.3 L993.9,365.7 L995.2,361.3 L996.7,357.0 L998.3,353.0 L1000.0,349.0 L1001.9,345.2 L1003.8,341.5 L1005.8,337.8 L1007.9,334.2 L1010.0,330.6 L1012.2,327.0 L1014.3,323.5 L1016.6,320.0 L1018.9,316.6 L1021.2,313.2 L1023.7,309.8 L1026.2,306.4 L1028.8,302.9 L1031.6,299.5 L1034.4,295.9 L1037.4,292.3 L1040.4,288.6 L1043.6,284.9 L1046.9,281.3 L1050.2,277.7 L1053.6,274.2 L1057.1,270.8 L1060.6,267.7 L1064.1,264.6 L1067.7,261.7 L1071.4,258.8 L1075.1,256.0 L1079.0,253.3 L1083.0,250.7 L1087.1,248.1 L1091.4,245.6 L1095.9,243.2 L1100.5,240.8 L1105.3,238.5 L1110.0,236.3 L1114.8,234.2 L1119.5,232.3 L1124.1,230.6 L1128.7,229.1 L1133.2,227.9 L1137.7,226.8 L1142.1,225.8 L1146.5,225.0 L1150.7,224.3 L1154.9,223.6 L1159.1,222.9 L1163.3,222.2 L1167.7,221.5 L1172.2,220.9 L1176.5,220.4 L1180.8,219.9 L1184.8,219.6 L1188.6,219.4 L1192.1,219.3 L1195.4,219.5 L1198.4,220.0 L1201.1,220.7 L1203.4,221.4 L1205.4,222.2 L1206.9,222.9 L1208.0,223.3 L1208.9,223.6 M993.0,412.0 L993.0,410.5 L993.0,408.7 L993.0,406.5 L993.0,404.1 L993.1,401.3 L993.2,398.4 L993.5,395.3 L994.0,392.0 L994.6,388.5 L995.3,384.6 L996.2,380.4 L997.1,376.1 L998.2,371.7 L999.3,367.3 L1000.6,363.0 L1002.0,359.0 L1003.5,355.2 L1005.2,351.4 L1006.9,347.7 L1008.8,344.1 L1010.8,340.6 L1012.8,337.0 L1014.9,333.5 L1017.0,330.0 L1019.1,326.5 L1021.3,323.1 L1023.6,319.8 L1025.9,316.4 L1028.3,313.1 L1030.7,309.8 L1033.3,306.4 L1036.0,303.0 L1038.8,299.5 L1041.7,295.9 L1044.8,292.3 L1047.9,288.7 L1051.1,285.1 L1054.3,281.6 L1057.6,278.2 L1061.0,275.0 L1064.4,271.9 L1067.8,269.0 L1071.3,266.1 L1074.8,263.3 L1078.4,260.6 L1082.2,258.0 L1086.0,255.5 L1090.0,253.0 L1094.2,250.6 L1098.6,248.2 L1103.1,245.8 L1107.7,243.6 L1112.3,241.5 L1117.0,239.5 L1121.5,237.6 L1126.0,236.0 L1130.4,234.6 L1134.7,233.4 L1139.0,232.3 L1143.2,231.4 L1147.5,230.6 L1151.7,229.9 L1155.9,229.2 L1160.0,228.5 L1164.2,227.8 L1168.5,227.2 L1172.9,226.6 L1177.2,226.0 L1181.3,225.6 L1185.2,225.3 L1188.8,225.1 L1192.0,225.0 L1194.8,225.2 L1197.3,225.6 L1199.5,226.1 L1201.5,226.8 L1203.2,227.5 L1204.7,228.1 L1206.0,228.6 L1207.0,229.0 M998.7,412.1 L998.7,410.6 L998.7,408.7 L998.7,406.5 L998.7,404.1 L998.7,401.6 L998.9,398.8 L999.2,395.9 L999.6,392.9 L1000.2,389.5 L1000.9,385.7 L1001.7,381.6 L1002.7,377.3 L1003.7,373.0 L1004.8,368.8 L1006.0,364.8 L1007.3,361.0 L1008.8,357.4 L1010.3,353.8 L1012.0,350.3 L1013.8,346.8 L1015.7,343.3 L1017.7,339.9 L1019.8,336.4 L1021.8,333.0 L1023.9,329.6 L1026.1,326.2 L1028.3,323.0 L1030.5,319.7 L1032.8,316.5 L1035.3,313.2 L1037.8,309.9 L1040.4,306.5 L1043.2,303.1 L1046.1,299.5 L1049.1,296.0 L1052.1,292.4 L1055.3,288.9 L1058.4,285.5 L1061.6,282.3 L1064.9,279.2 L1068.2,276.2 L1071.5,273.3 L1074.8,270.5 L1078.3,267.8 L1081.8,265.2 L1085.4,262.7 L1089.1,260.3 L1092.9,257.9 L1097.0,255.5 L1101.2,253.2 L1105.6,250.9 L1110.1,248.7 L1114.6,246.6 L1119.2,244.7 L1123.6,242.9 L1127.9,241.4 L1132.0,240.0 L1136.1,238.9 L1140.2,237.9 L1144.4,237.0 L1148.5,236.2 L1152.6,235.5 L1156.8,234.8 L1160.9,234.1 L1165.1,233.4 L1169.4,232.8 L1173.6,232.2 L1177.8,231.7 L1181.9,231.2 L1185.6,230.9 L1189.0,230.7 L1191.9,230.7 L1194.2,230.8 L1196.2,231.1 L1198.0,231.6 L1199.6,232.1 L1201.1,232.7 L1202.5,233.3 L1203.9,233.9 L1205.1,234.4 M1004.4,412.2 L1004.4,410.6 L1004.4,408.6 L1004.4,406.5 L1004.4,404.2 L1004.4,401.8 L1004.6,399.2 L1004.8,396.6 L1005.2,393.8 L1005.8,390.5 L1006.5,386.7 L1007.3,382.7 L1008.2,378.6 L1009.2,374.4 L1010.3,370.4 L1011.4,366.5 L1012.7,362.9 L1014.0,359.5 L1015.5,356.2 L1017.1,352.8 L1018.8,349.5 L1020.7,346.1 L1022.6,342.7 L1024.6,339.3 L1026.7,335.9 L1028.8,332.6 L1030.8,329.4 L1033.0,326.2 L1035.2,323.0 L1037.4,319.8 L1039.8,316.6 L1042.3,313.4 L1044.9,310.1 L1047.6,306.7 L1050.5,303.2 L1053.4,299.7 L1056.4,296.2 L1059.5,292.8 L1062.5,289.4 L1065.6,286.3 L1068.7,283.3 L1071.9,280.4 L1075.1,277.6 L1078.4,274.9 L1081.7,272.3 L1085.1,269.8 L1088.6,267.4 L1092.1,265.0 L1095.8,262.7 L1099.8,260.5 L1103.9,258.2 L1108.2,256.0 L1112.5,253.9 L1117.0,251.8 L1121.3,250.0 L1125.6,248.2 L1129.7,246.7 L1133.7,245.5 L1137.6,244.4 L1141.5,243.4 L1145.5,242.5 L1149.5,241.8 L1153.6,241.1 L1157.7,240.4 L1161.8,239.7 L1166.0,239.0 L1170.2,238.4 L1174.4,237.8 L1178.5,237.3 L1182.4,236.9 L1186.1,236.6 L1189.3,236.4 L1191.8,236.4 L1193.6,236.5 L1195.0,236.7 L1196.4,237.0 L1197.6,237.5 L1198.9,238.0 L1200.2,238.5 L1201.8,239.2 L1203.3,239.7" stroke="#000" stroke-opacity="0.28" stroke-width="1.3"/><path d="M984.5,411.8 L984.5,410.5 L984.5,408.8 L984.5,406.6 L984.5,403.9 L984.6,401.0 L984.7,397.7 L985.1,394.2 L985.6,390.7 L986.2,387.0 L987.0,383.0 L987.8,378.7 L988.8,374.2 L989.9,369.6 L991.1,365.0 L992.5,360.4 L994.0,356.1 L995.7,351.9 L997.4,347.9 L999.3,343.9 L1001.3,340.1 L1003.3,336.4 L1005.4,332.7 L1007.6,329.1 L1009.7,325.6 L1011.9,322.0 L1014.2,318.5 L1016.5,315.0 L1018.9,311.5 L1021.4,308.1 L1023.9,304.6 L1026.6,301.2 L1029.3,297.7 L1032.2,294.1 L1035.2,290.5 L1038.3,286.8 L1041.5,283.1 L1044.8,279.4 L1048.2,275.7 L1051.7,272.2 L1055.2,268.8 L1058.7,265.6 L1062.3,262.5 L1065.9,259.5 L1069.6,256.5 L1073.5,253.7 L1077.4,251.0 L1081.4,248.3 L1085.6,245.7 L1090.0,243.1 L1094.6,240.7 L1099.3,238.2 L1104.0,235.9 L1108.9,233.7 L1113.7,231.6 L1118.5,229.7 L1123.2,228.0 L1127.9,226.4 L1132.5,225.1 L1137.1,224.0 L1141.6,223.1 L1146.0,222.2 L1150.3,221.5 L1154.5,220.8 L1158.6,220.1 L1162.9,219.4 L1167.3,218.7 L1171.8,218.1 L1176.2,217.6 L1180.5,217.1 L1184.6,216.8 L1188.5,216.5 L1192.2,216.5 L1195.7,216.7 L1199.0,217.2 L1201.9,217.9 L1204.4,218.8 L1206.5,219.6 L1208.1,220.3 L1209.1,220.7 L1209.8,220.9 M990.2,411.9 L990.2,410.5 L990.2,408.7 L990.2,406.5 L990.2,404.0 L990.2,401.2 L990.4,398.2 L990.7,394.9 L991.2,391.6 L991.8,388.0 L992.6,384.0 L993.4,379.8 L994.4,375.4 L995.4,371.0 L996.6,366.5 L997.9,362.2 L999.3,358.0 L1000.9,354.1 L1002.6,350.2 L1004.4,346.5 L1006.3,342.8 L1008.3,339.2 L1010.4,335.6 L1012.4,332.0 L1014.6,328.5 L1016.7,325.0 L1019.0,321.6 L1021.2,318.2 L1023.6,314.8 L1026.0,311.4 L1028.5,308.1 L1031.1,304.7 L1033.8,301.2 L1036.6,297.7 L1039.5,294.1 L1042.6,290.5 L1045.7,286.8 L1049.0,283.2 L1052.3,279.6 L1055.6,276.2 L1059.1,272.9 L1062.5,269.8 L1066.0,266.8 L1069.5,263.9 L1073.1,261.1 L1076.8,258.3 L1080.6,255.7 L1084.5,253.1 L1088.5,250.6 L1092.8,248.1 L1097.2,245.7 L1101.8,243.3 L1106.5,241.0 L1111.2,238.9 L1115.9,236.8 L1120.5,235.0 L1125.1,233.3 L1129.5,231.9 L1134.0,230.6 L1138.4,229.5 L1142.7,228.6 L1147.0,227.8 L1151.2,227.1 L1155.4,226.4 L1159.5,225.7 L1163.8,225.0 L1168.1,224.4 L1172.5,223.7 L1176.9,223.2 L1181.1,222.8 L1185.0,222.4 L1188.7,222.2 L1192.1,222.2 L1195.1,222.3 L1197.9,222.8 L1200.3,223.4 L1202.5,224.1 L1204.3,224.8 L1205.8,225.5 L1207.0,226.0 L1207.9,226.3 M995.8,412.1 L995.9,410.6 L995.9,408.7 L995.8,406.5 L995.8,404.1 L995.9,401.4 L996.1,398.6 L996.4,395.6 L996.8,392.4 L997.4,389.0 L998.1,385.1 L999.0,381.0 L999.9,376.7 L1000.9,372.3 L1002.1,368.0 L1003.3,363.9 L1004.7,360.0 L1006.1,356.3 L1007.7,352.6 L1009.5,349.0 L1011.3,345.5 L1013.3,341.9 L1015.3,338.4 L1017.3,335.0 L1019.4,331.5 L1021.5,328.1 L1023.7,324.7 L1025.9,321.4 L1028.2,318.1 L1030.6,314.8 L1033.0,311.5 L1035.6,308.2 L1038.2,304.8 L1041.0,301.3 L1043.9,297.7 L1046.9,294.1 L1050.0,290.6 L1053.2,287.0 L1056.4,283.6 L1059.6,280.2 L1062.9,277.1 L1066.3,274.1 L1069.6,271.1 L1073.1,268.3 L1076.5,265.6 L1080.1,262.9 L1083.8,260.4 L1087.5,257.9 L1091.5,255.4 L1095.6,253.0 L1099.9,250.7 L1104.3,248.4 L1108.9,246.2 L1113.5,244.1 L1118.1,242.1 L1122.6,240.3 L1126.9,238.7 L1131.2,237.3 L1135.4,236.1 L1139.6,235.1 L1143.8,234.2 L1148.0,233.4 L1152.2,232.7 L1156.3,232.0 L1160.5,231.3 L1164.6,230.6 L1168.9,230.0 L1173.3,229.4 L1177.5,228.9 L1181.6,228.4 L1185.4,228.1 L1188.9,227.9 L1191.9,227.8 L1194.5,228.0 L1196.7,228.4 L1198.7,228.9 L1200.5,229.5 L1202.1,230.1 L1203.6,230.7 L1204.9,231.3 L1206.1,231.7 M1001.5,412.2 L1001.5,410.6 L1001.5,408.6 L1001.5,406.5 L1001.5,404.2 L1001.6,401.7 L1001.7,399.0 L1002.0,396.3 L1002.4,393.3 L1003.0,390.0 L1003.7,386.2 L1004.5,382.1 L1005.4,378.0 L1006.4,373.7 L1007.5,369.6 L1008.7,365.6 L1010.0,361.9 L1011.4,358.5 L1012.9,355.0 L1014.6,351.6 L1016.3,348.1 L1018.2,344.7 L1020.2,341.3 L1022.2,337.9 L1024.3,334.4 L1026.4,331.1 L1028.5,327.8 L1030.6,324.6 L1032.8,321.3 L1035.1,318.1 L1037.5,314.9 L1040.0,311.6 L1042.7,308.3 L1045.4,304.9 L1048.3,301.4 L1051.3,297.8 L1054.3,294.3 L1057.4,290.8 L1060.5,287.5 L1063.6,284.3 L1066.8,281.2 L1070.0,278.3 L1073.3,275.5 L1076.6,272.7 L1080.0,270.1 L1083.4,267.5 L1087.0,265.1 L1090.6,262.6 L1094.4,260.3 L1098.4,258.0 L1102.6,255.7 L1106.9,253.5 L1111.3,251.3 L1115.8,249.2 L1120.2,247.3 L1124.6,245.6 L1128.8,244.0 L1132.8,242.7 L1136.9,241.6 L1140.9,240.6 L1144.9,239.8 L1149.0,239.0 L1153.1,238.3 L1157.2,237.6 L1161.4,236.9 L1165.5,236.2 L1169.8,235.6 L1174.0,235.0 L1178.2,234.5 L1182.2,234.1 L1185.9,233.8 L1189.1,233.6 L1191.8,233.5 L1193.9,233.6 L1195.6,233.9 L1197.2,234.3 L1198.6,234.8 L1200.0,235.3 L1201.3,235.9 L1202.9,236.6 L1204.2,237.1" stroke="#fff" stroke-opacity="0.08" stroke-width="1.3"/><path d="M982.4,411.8 L982.4,410.5 L982.4,408.8 L982.3,406.6 L982.4,403.9 L982.4,400.9 L982.6,397.6 L983.0,394.0 L983.5,390.3 L984.1,386.6 L984.9,382.5 L985.8,378.2 L986.7,373.7 L987.9,369.0 L989.1,364.4 L990.5,359.8 L992.0,355.3 L993.7,351.1 L995.5,347.0 L997.4,343.0 L999.4,339.1 L1001.5,335.3 L1003.6,331.7 L1005.7,328.0 L1007.9,324.4 L1010.1,320.9 L1012.4,317.3 L1014.8,313.8 L1017.2,310.3 L1019.7,306.8 L1022.2,303.4 L1024.9,299.9 L1027.7,296.4 L1030.5,292.8 L1033.5,289.1 L1036.6,285.4 L1039.9,281.7 L1043.2,277.9 L1046.6,274.2 L1050.2,270.6 L1053.7,267.2 L1057.3,264.0 L1060.9,260.8 L1064.6,257.8 L1068.3,254.8 L1072.2,252.0 L1076.2,249.2 L1080.3,246.5 L1084.5,243.9 L1088.9,241.3 L1093.6,238.8 L1098.3,236.3 L1103.1,234.0 L1108.0,231.7 L1112.9,229.6 L1117.7,227.7 L1122.5,225.9 L1127.3,224.4 L1132.0,223.1 L1136.6,221.9 L1141.1,221.0 L1145.6,220.1 L1149.9,219.4 L1154.1,218.7 L1158.3,218.0 L1162.6,217.3 L1167.0,216.6 L1171.5,216.0 L1176.0,215.5 L1180.3,215.0 L1184.5,214.6 L1188.4,214.4 L1192.2,214.4 L1195.9,214.6 L1199.4,215.1 L1202.5,215.9 L1205.1,216.8 L1207.3,217.6 L1208.9,218.3 L1209.8,218.7 L1210.5,218.9" stroke="#b09858" stroke-opacity="0.35" stroke-width="10.7" filter="url(#b1)"/><path d="M985.2,411.8 L985.2,410.5 L985.2,408.8 L985.2,406.6 L985.2,404.0 L985.3,401.0 L985.4,397.8 L985.8,394.3 L986.3,390.8 L986.9,387.1 L987.7,383.1 L988.5,378.8 L989.5,374.3 L990.6,369.7 L991.8,365.2 L993.2,360.6 L994.7,356.3 L996.3,352.2 L998.1,348.2 L1000.0,344.3 L1001.9,340.4 L1004.0,336.7 L1006.1,333.1 L1008.2,329.5 L1010.3,325.9 L1012.5,322.4 L1014.8,318.9 L1017.1,315.4 L1019.5,311.9 L1021.9,308.5 L1024.5,305.1 L1027.1,301.6 L1029.9,298.1 L1032.7,294.6 L1035.7,291.0 L1038.8,287.3 L1042.0,283.5 L1045.3,279.8 L1048.7,276.2 L1052.1,272.7 L1055.7,269.3 L1059.2,266.1 L1062.8,263.0 L1066.4,260.0 L1070.1,257.1 L1073.9,254.3 L1077.8,251.5 L1081.8,248.9 L1086.0,246.3 L1090.3,243.8 L1094.9,241.3 L1099.6,238.9 L1104.3,236.5 L1109.2,234.3 L1114.0,232.3 L1118.7,230.3 L1123.4,228.6 L1128.1,227.1 L1132.7,225.8 L1137.2,224.7 L1141.7,223.8 L1146.1,222.9 L1150.4,222.2 L1154.6,221.5 L1158.7,220.8 L1163.0,220.1 L1167.4,219.4 L1171.9,218.8 L1176.3,218.3 L1180.6,217.8 L1184.7,217.5 L1188.5,217.2 L1192.2,217.2 L1195.6,217.4 L1198.8,217.9 L1201.7,218.6 L1204.2,219.4 L1206.2,220.2 L1207.8,220.9 L1208.8,221.4 L1209.6,221.6" stroke="#fff" stroke-opacity="0.1" stroke-width="10.7" filter="url(#b2)"/></g><g fill="none" stroke-linejoin="round"><path d="M981.0,436.0 L980.8,437.8 L980.5,440.1 L980.1,442.9" stroke="#1e1a1a" stroke-width="38.5" stroke-linecap="round"/><path d="M980.5,440.1 L980.1,442.9 L979.8,446.0 L979.4,449.4" stroke="#1e1a1a" stroke-width="38.4"/><path d="M979.8,446.0 L979.4,449.4 L979.1,453.1 L979.0,457.0" stroke="#1f1b1b" stroke-width="38.2"/><path d="M979.1,453.1 L979.0,457.0 L979.0,461.0 L979.2,465.2" stroke="#1f1b1b" stroke-width="38.1"/><path d="M979.0,461.0 L979.2,465.2 L979.4,469.7 L979.7,474.4" stroke="#201c1c" stroke-width="37.9"/><path d="M979.4,469.7 L979.7,474.4 L980.1,479.3 L980.6,484.5" stroke="#201c1c" stroke-width="37.7"/><path d="M980.1,479.3 L980.6,484.5 L981.2,489.8 L982.0,495.3" stroke="#211d1d" stroke-width="37.5"/><path d="M981.2,489.8 L982.0,495.3 L983.0,501.0 L984.1,507.0" stroke="#221e1d" stroke-width="37.3"/><path d="M983.0,501.0 L984.1,507.0 L985.4,513.4 L986.8,520.1" stroke="#231f1e" stroke-width="37.0"/><path d="M985.4,513.4 L986.8,520.1 L988.4,527.0 L990.1,533.9" stroke="#231f1f" stroke-width="36.7"/><path d="M988.4,527.0 L990.1,533.9 L991.9,540.6 L993.9,547.0" stroke="#252120" stroke-width="36.5"/><path d="M991.9,540.6 L993.9,547.0 L996.0,553.0 L998.3,558.6" stroke="#292524" stroke-width="36.2"/><path d="M996.0,553.0 L998.3,558.6 L1000.8,564.1 L1003.5,569.4" stroke="#2d2927" stroke-width="35.9"/><path d="M1000.8,564.1 L1003.5,569.4 L1006.3,574.4 L1009.2,579.3" stroke="#302c2a" stroke-width="35.7"/><path d="M1006.3,574.4 L1009.2,579.3 L1012.1,584.1 L1015.1,588.6" stroke="#332f2d" stroke-width="35.4"/><path d="M1012.1,584.1 L1015.1,588.6 L1018.0,593.0 L1020.8,597.2" stroke="#363230" stroke-width="35.2"/><path d="M1018.0,593.0 L1020.8,597.2 L1023.6,601.1 L1026.4,604.8" stroke="#393532" stroke-width="35.0"/><path d="M1023.6,601.1 L1026.4,604.8 L1029.2,608.3 L1032.2,611.8" stroke="#3b3734" stroke-width="34.8"/><path d="M1029.2,608.3 L1032.2,611.8 L1035.2,615.1 L1038.5,618.5" stroke="#3e3a36" stroke-width="34.6"/><path d="M1035.2,615.1 L1038.5,618.5 L1042.0,622.0 L1045.8,625.5" stroke="#403c38" stroke-width="34.4"/><path d="M1042.0,622.0 L1045.8,625.5 L1049.8,629.1 L1053.9,632.7" stroke="#423e3b" stroke-width="34.2"/><path d="M1049.8,629.1 L1053.9,632.7 L1058.2,636.2 L1062.7,639.7" stroke="#44403d" stroke-width="34.0"/><path d="M1058.2,636.2 L1062.7,639.7 L1067.1,643.0 L1071.6,646.1" stroke="#47433f" stroke-width="33.7"/><path d="M1067.1,643.0 L1071.6,646.1 L1076.0,649.0 L1080.5,651.7" stroke="#4a4642" stroke-width="33.5"/><path d="M1076.0,649.0 L1080.5,651.7 L1085.0,654.3 L1089.7,656.7" stroke="#4c4844" stroke-width="33.3"/><path d="M1085.0,654.3 L1089.7,656.7 L1094.4,659.0 L1099.0,661.1" stroke="#474340" stroke-width="33.1"/><path d="M1094.4,659.0 L1099.0,661.1 L1103.5,662.9 L1107.9,664.6" stroke="#433f3c" stroke-width="32.9"/><path d="M1103.5,662.9 L1107.9,664.6 L1112.0,666.0 L1116.1,667.1" stroke="#3f3b38" stroke-width="32.7"/><path d="M1112.0,666.0 L1116.1,667.1 L1120.2,667.9 L1124.3,668.5" stroke="#3b3734" stroke-width="32.5"/><path d="M1120.2,667.9 L1124.3,668.5 L1128.2,668.8 L1131.9,669.0" stroke="#373331" stroke-width="32.3"/><path d="M1128.2,668.8 L1131.9,669.0 L1135.2,669.2 L1137.9,669.3" stroke="#34302d" stroke-width="32.2"/><path d="M1135.2,669.2 L1137.9,669.3 L1140.0,669.5" stroke="#312d2b" stroke-width="32.1" stroke-linecap="round"/><path d="M997.8,437.8 L997.6,439.9 L997.3,442.4 L996.9,445.0 L996.5,447.9 L996.2,450.9 L995.9,454.0 L995.7,457.3 L995.7,460.6 L995.8,464.5 L996.0,468.7 L996.2,473.2 L996.5,477.8 L997.0,482.6 L997.5,487.6 L998.2,492.8 L999.1,498.1 L1000.1,503.9 L1001.3,510.2 L1002.6,516.7 L1004.0,523.3 L1005.6,529.8 L1007.2,536.1 L1009.0,542.0 L1010.8,547.4 L1012.8,552.4 L1015.0,557.2 L1017.4,562.0 L1019.9,566.7 L1022.5,571.2 L1025.3,575.7 L1028.1,580.1 L1030.8,584.4 L1033.5,588.4 L1036.0,592.0 L1038.5,595.4 L1041.0,598.6 L1043.6,601.7 L1046.4,604.8 L1049.3,607.9 L1052.5,611.1 L1055.9,614.5 L1059.6,617.9 L1063.5,621.3 L1067.6,624.6 L1071.7,627.9 L1075.8,631.0 L1079.8,633.9 L1083.8,636.6 L1087.8,639.0 L1092.0,641.4 L1096.3,643.7 L1100.5,645.8 L1104.8,647.8 L1108.9,649.5 L1112.8,651.1 L1116.2,652.3 L1119.3,653.2 L1122.5,653.8 L1125.9,654.3 L1129.3,654.7 L1132.7,654.9 L1135.8,655.1 L1138.8,655.3 L1141.2,655.5" stroke="#000" stroke-opacity="0.35" stroke-width="5.1" filter="url(#b1)"/><path d="M964.2,434.2 L964.0,435.8 L963.7,437.9 L963.4,440.7 L963.0,444.1 L962.6,448.0 L962.4,452.2 L962.2,456.7 L962.3,461.4 L962.5,465.9 L962.8,470.6 L963.1,475.6 L963.6,480.8 L964.2,486.3 L964.9,492.0 L965.8,497.9 L966.9,503.9 L968.1,510.1 L969.5,516.7 L971.0,523.6 L972.7,530.7 L974.5,537.9 L976.6,545.0 L978.8,552.0 L981.2,558.6 L983.8,564.9 L986.7,571.0 L989.6,576.7 L992.7,582.2 L995.9,587.4 L999.0,592.4 L1002.1,597.1 L1005.2,601.6 L1008.2,606.0 L1011.2,610.2 L1014.3,614.2 L1017.5,618.0 L1020.7,621.8 L1024.1,625.5 L1027.7,629.2 L1031.5,632.9 L1035.6,636.6 L1039.9,640.4 L1044.3,644.2 L1048.9,647.9 L1053.7,651.5 L1058.5,655.0 L1063.3,658.3 L1068.2,661.4 L1073.1,664.4 L1078.1,667.1 L1083.2,669.7 L1088.2,672.1 L1093.2,674.3 L1098.2,676.3 L1103.0,678.1 L1107.8,679.7 L1112.8,681.0 L1117.9,682.0 L1122.7,682.6 L1127.2,683.0 L1131.1,683.2 L1134.5,683.3 L1137.0,683.4 L1138.8,683.5" stroke="#000" stroke-opacity="0.35" stroke-width="5.1" filter="url(#b1)"/><path d="M993.3,437.3 L993.0,439.3 L992.7,441.8 L992.3,444.4 L991.9,447.4 L991.6,450.5 L991.3,453.8 L991.2,457.2 L991.2,460.7 L991.3,464.7 L991.4,469.0 L991.7,473.5 L992.0,478.2 L992.5,483.1 L993.1,488.2 L993.8,493.5 L994.7,498.9 L995.8,504.8 L997.0,511.1 L998.3,517.6 L999.8,524.3 L1001.4,530.9 L1003.1,537.3 L1004.9,543.4 L1006.8,548.9 L1008.8,554.1 L1011.1,559.1 L1013.6,564.0 L1016.2,568.8 L1018.9,573.5 L1021.7,578.0 L1024.5,582.4 L1027.3,586.7 L1030.0,590.8 L1032.6,594.5 L1035.2,597.9 L1037.8,601.2 L1040.5,604.5 L1043.3,607.6 L1046.4,610.8 L1049.6,614.1 L1053.2,617.5 L1056.9,620.9 L1060.9,624.4 L1065.0,627.8 L1069.2,631.1 L1073.4,634.3 L1077.6,637.2 L1081.7,639.9 L1085.8,642.5 L1090.1,644.9 L1094.5,647.2 L1098.9,649.4 L1103.2,651.4 L1107.4,653.2 L1111.4,654.8 L1115.1,656.0 L1118.4,657.0 L1121.9,657.7 L1125.5,658.2 L1129.0,658.5 L1132.5,658.8 L1135.6,658.9 L1138.6,659.1 L1140.9,659.3 M987.1,436.7 L986.9,438.6 L986.6,440.9 L986.2,443.7 L985.8,446.7 L985.5,450.0 L985.2,453.4 L985.1,457.1 L985.1,460.9 L985.2,464.9 L985.4,469.3 L985.7,473.9 L986.1,478.8 L986.5,483.8 L987.2,489.0 L987.9,494.4 L988.8,499.9 L989.9,505.9 L991.2,512.3 L992.6,518.9 L994.1,525.6 L995.7,532.4 L997.5,538.9 L999.4,545.2 L1001.4,551.0 L1003.6,556.4 L1006.0,561.6 L1008.5,566.7 L1011.2,571.6 L1014.1,576.4 L1016.9,581.0 L1019.8,585.5 L1022.7,589.9 L1025.4,594.0 L1028.1,597.8 L1030.8,601.4 L1033.5,604.8 L1036.3,608.1 L1039.3,611.4 L1042.4,614.7 L1045.8,618.0 L1049.5,621.5 L1053.3,625.0 L1057.4,628.5 L1061.6,632.0 L1065.9,635.4 L1070.3,638.6 L1074.6,641.7 L1078.8,644.5 L1083.1,647.1 L1087.6,649.6 L1092.1,652.0 L1096.6,654.2 L1101.1,656.2 L1105.5,658.1 L1109.6,659.7 L1113.5,661.0 L1117.2,662.0 L1121.1,662.8 L1124.9,663.3 L1128.6,663.7 L1132.2,663.9 L1135.4,664.1 L1138.2,664.2 L1140.4,664.4 M981.0,436.0 L980.8,437.8 L980.5,440.1 L980.1,442.9 L979.8,446.0 L979.4,449.4 L979.1,453.1 L979.0,457.0 L979.0,461.0 L979.2,465.2 L979.4,469.7 L979.7,474.4 L980.1,479.3 L980.6,484.5 L981.2,489.8 L982.0,495.3 L983.0,501.0 L984.1,507.0 L985.4,513.4 L986.8,520.1 L988.4,527.0 L990.1,533.9 L991.9,540.6 L993.9,547.0 L996.0,553.0 L998.3,558.6 L1000.8,564.1 L1003.5,569.4 L1006.3,574.4 L1009.2,579.3 L1012.1,584.1 L1015.1,588.6 L1018.0,593.0 L1020.8,597.2 L1023.6,601.1 L1026.4,604.8 L1029.2,608.3 L1032.2,611.8 L1035.2,615.1 L1038.5,618.5 L1042.0,622.0 L1045.8,625.5 L1049.8,629.1 L1053.9,632.7 L1058.2,636.2 L1062.7,639.7 L1067.1,643.0 L1071.6,646.1 L1076.0,649.0 L1080.5,651.7 L1085.0,654.3 L1089.7,656.7 L1094.4,659.0 L1099.0,661.1 L1103.5,662.9 L1107.9,664.6 L1112.0,666.0 L1116.1,667.1 L1120.2,667.9 L1124.3,668.5 L1128.2,668.8 L1131.9,669.0 L1135.2,669.2 L1137.9,669.3 L1140.0,669.5 M974.9,435.3 L974.7,437.1 L974.4,439.3 L974.0,442.1 L973.7,445.3 L973.3,448.9 L973.0,452.8 L972.9,456.9 L972.9,461.1 L973.1,465.5 L973.3,470.0 L973.6,474.8 L974.1,479.9 L974.6,485.1 L975.3,490.6 L976.1,496.3 L977.2,502.1 L978.3,508.1 L979.6,514.6 L981.1,521.4 L982.7,528.4 L984.4,535.3 L986.3,542.2 L988.4,548.8 L990.6,555.0 L993.0,560.9 L995.7,566.6 L998.5,572.0 L1001.4,577.3 L1004.4,582.3 L1007.4,587.1 L1010.4,591.7 L1013.3,596.1 L1016.2,600.4 L1019.1,604.4 L1022.0,608.2 L1025.0,611.8 L1028.0,615.4 L1031.2,618.9 L1034.6,622.4 L1038.2,626.0 L1042.1,629.6 L1046.2,633.2 L1050.4,636.9 L1054.9,640.5 L1059.4,644.0 L1064.0,647.4 L1068.6,650.6 L1073.2,653.5 L1077.8,656.3 L1082.5,658.9 L1087.3,661.4 L1092.1,663.7 L1096.9,665.9 L1101.6,667.8 L1106.1,669.5 L1110.5,671.0 L1114.9,672.2 L1119.4,673.0 L1123.7,673.6 L1127.9,674.0 L1131.6,674.2 L1134.9,674.3 L1137.6,674.4 L1139.6,674.6 M968.7,434.7 L968.6,436.4 L968.3,438.5 L968.0,441.3 L967.6,444.6 L967.2,448.4 L966.9,452.4 L966.8,456.8 L966.8,461.3 L967.0,465.7 L967.3,470.3 L967.6,475.2 L968.1,480.4 L968.7,485.8 L969.4,491.4 L970.2,497.2 L971.3,503.1 L972.5,509.3 L973.8,515.8 L975.3,522.7 L977.0,529.7 L978.8,536.8 L980.7,543.8 L982.9,550.6 L985.2,557.1 L987.8,563.2 L990.5,569.1 L993.4,574.7 L996.4,580.1 L999.5,585.2 L1002.6,590.1 L1005.7,594.8 L1008.7,599.3 L1011.7,603.6 L1014.6,607.7 L1017.6,611.6 L1020.7,615.4 L1023.9,619.1 L1027.2,622.7 L1030.7,626.3 L1034.4,629.9 L1038.4,633.6 L1042.6,637.3 L1046.9,641.0 L1051.5,644.7 L1056.1,648.3 L1060.8,651.7 L1065.6,655.0 L1070.3,658.1 L1075.1,660.9 L1080.0,663.6 L1084.9,666.2 L1089.9,668.5 L1094.8,670.7 L1099.6,672.7 L1104.3,674.4 L1108.9,676.0 L1113.7,677.2 L1118.5,678.1 L1123.2,678.7 L1127.5,679.1 L1131.3,679.3 L1134.7,679.4 L1137.2,679.6 L1139.1,679.7" stroke="#000" stroke-opacity="0.28" stroke-width="1.3"/><path d="M990.2,437.0 L990.0,438.9 L989.6,441.4 L989.3,444.1 L988.9,447.0 L988.5,450.2 L988.3,453.6 L988.1,457.1 L988.1,460.8 L988.2,464.8 L988.4,469.2 L988.7,473.7 L989.1,478.5 L989.5,483.5 L990.1,488.6 L990.9,493.9 L991.8,499.4 L992.9,505.3 L994.1,511.7 L995.4,518.3 L996.9,525.0 L998.5,531.6 L1000.3,538.1 L1002.1,544.3 L1004.1,549.9 L1006.2,555.2 L1008.5,560.4 L1011.1,565.3 L1013.7,570.2 L1016.5,574.9 L1019.3,579.5 L1022.2,584.0 L1025.0,588.3 L1027.7,592.4 L1030.4,596.1 L1033.0,599.6 L1035.7,603.0 L1038.4,606.3 L1041.3,609.5 L1044.4,612.7 L1047.7,616.1 L1051.3,619.5 L1055.1,623.0 L1059.2,626.5 L1063.3,629.9 L1067.6,633.2 L1071.8,636.4 L1076.1,639.5 L1080.3,642.2 L1084.5,644.8 L1088.8,647.3 L1093.3,649.6 L1097.7,651.8 L1102.1,653.8 L1106.4,655.6 L1110.5,657.2 L1114.3,658.5 L1117.8,659.5 L1121.5,660.2 L1125.2,660.7 L1128.8,661.1 L1132.3,661.3 L1135.5,661.5 L1138.4,661.6 L1140.6,661.8 M984.1,436.3 L983.9,438.2 L983.5,440.5 L983.2,443.3 L982.8,446.3 L982.4,449.7 L982.2,453.3 L982.0,457.0 L982.0,460.9 L982.2,465.1 L982.4,469.5 L982.7,474.2 L983.1,479.0 L983.6,484.1 L984.2,489.4 L985.0,494.9 L985.9,500.5 L987.0,506.4 L988.3,512.8 L989.7,519.5 L991.2,526.3 L992.9,533.1 L994.7,539.8 L996.6,546.1 L998.7,552.0 L1000.9,557.5 L1003.4,562.9 L1006.0,568.0 L1008.8,573.0 L1011.6,577.9 L1014.5,582.5 L1017.4,587.1 L1020.3,591.4 L1023.1,595.6 L1025.9,599.4 L1028.6,603.1 L1031.4,606.5 L1034.3,609.9 L1037.3,613.3 L1040.5,616.6 L1043.9,620.0 L1047.6,623.5 L1051.5,627.1 L1055.7,630.6 L1059.9,634.1 L1064.3,637.5 L1068.7,640.8 L1073.1,643.9 L1077.4,646.7 L1081.8,649.4 L1086.3,651.9 L1090.9,654.3 L1095.5,656.6 L1100.0,658.6 L1104.5,660.5 L1108.8,662.1 L1112.8,663.5 L1116.7,664.6 L1120.6,665.3 L1124.6,665.9 L1128.4,666.2 L1132.0,666.5 L1135.3,666.6 L1138.1,666.8 L1140.2,666.9 M977.9,435.7 L977.7,437.5 L977.5,439.7 L977.1,442.5 L976.7,445.7 L976.4,449.2 L976.1,452.9 L975.9,456.9 L976.0,461.1 L976.1,465.3 L976.3,469.8 L976.7,474.6 L977.1,479.6 L977.6,484.8 L978.3,490.2 L979.1,495.8 L980.1,501.5 L981.2,507.6 L982.5,514.0 L983.9,520.8 L985.5,527.7 L987.2,534.6 L989.1,541.4 L991.1,547.9 L993.3,554.0 L995.7,559.8 L998.2,565.4 L1001.0,570.7 L1003.8,575.8 L1006.8,580.8 L1009.8,585.6 L1012.7,590.1 L1015.7,594.6 L1018.5,598.8 L1021.4,602.7 L1024.2,606.5 L1027.1,610.1 L1030.1,613.6 L1033.2,617.0 L1036.5,620.5 L1040.1,624.0 L1043.9,627.6 L1048.0,631.2 L1052.2,634.8 L1056.6,638.4 L1061.0,641.8 L1065.6,645.2 L1070.1,648.3 L1074.6,651.3 L1079.1,654.0 L1083.8,656.6 L1088.5,659.1 L1093.3,661.4 L1098.0,663.5 L1102.5,665.4 L1107.0,667.0 L1111.2,668.5 L1115.5,669.6 L1119.8,670.5 L1124.0,671.0 L1128.1,671.4 L1131.8,671.6 L1135.0,671.8 L1137.7,671.9 L1139.8,672.1 M971.8,435.0 L971.6,436.7 L971.4,438.9 L971.0,441.7 L970.6,445.0 L970.3,448.6 L970.0,452.6 L969.8,456.8 L969.9,461.2 L970.1,465.6 L970.3,470.2 L970.6,475.0 L971.1,480.1 L971.6,485.5 L972.3,491.0 L973.2,496.7 L974.2,502.6 L975.4,508.7 L976.7,515.2 L978.2,522.0 L979.8,529.0 L981.6,536.1 L983.5,543.0 L985.6,549.7 L987.9,556.1 L990.4,562.1 L993.1,567.9 L995.9,573.4 L998.9,578.7 L1001.9,583.7 L1005.0,588.6 L1008.0,593.2 L1011.0,597.7 L1013.9,602.0 L1016.9,606.0 L1019.8,609.9 L1022.8,613.6 L1025.9,617.2 L1029.2,620.8 L1032.6,624.3 L1036.3,627.9 L1040.2,631.6 L1044.4,635.3 L1048.7,639.0 L1053.2,642.6 L1057.8,646.1 L1062.4,649.6 L1067.1,652.8 L1071.7,655.8 L1076.4,658.6 L1081.3,661.3 L1086.1,663.8 L1091.0,666.1 L1095.9,668.3 L1100.6,670.2 L1105.2,672.0 L1109.7,673.5 L1114.3,674.7 L1119.0,675.6 L1123.4,676.2 L1127.7,676.5 L1131.5,676.7 L1134.8,676.9 L1137.4,677.0 L1139.4,677.2" stroke="#fff" stroke-opacity="0.08" stroke-width="1.3"/></g><g fill="none" stroke-linejoin="round"><path d="M1134.0,281.0 L1131.9,281.9 L1129.2,283.2 L1125.9,284.6 L1122.2,286.2" stroke="#96948f" stroke-width="29.1" stroke-linecap="round"/><path d="M1125.9,284.6 L1122.2,286.2 L1118.4,288.0 L1114.6,289.8 L1110.9,291.8" stroke="#95938e" stroke-width="29.3"/><path d="M1114.6,289.8 L1110.9,291.8 L1107.5,293.7 L1104.4,295.7 L1101.3,297.7" stroke="#95918c" stroke-width="29.6"/><path d="M1104.4,295.7 L1101.3,297.7 L1098.3,299.8 L1095.2,302.0 L1092.3,304.3" stroke="#94908a" stroke-width="29.8"/><path d="M1095.2,302.0 L1092.3,304.3 L1089.3,306.8 L1086.4,309.3 L1083.5,312.0" stroke="#948f88" stroke-width="30.1"/><path d="M1086.4,309.3 L1083.5,312.0 L1080.6,314.9 L1077.6,317.9 L1074.7,321.1" stroke="#938e86" stroke-width="30.3"/><path d="M1077.6,317.9 L1074.7,321.1 L1071.8,324.5 L1069.0,327.8 L1066.2,331.2" stroke="#928d84" stroke-width="30.6"/><path d="M1069.0,327.8 L1066.2,331.2 L1063.5,334.6 L1061.0,338.0 L1058.6,341.3" stroke="#918b82" stroke-width="30.9"/><path d="M1061.0,338.0 L1058.6,341.3 L1056.2,344.6 L1054.0,348.0 L1051.8,351.3" stroke="#908980" stroke-width="31.1"/><path d="M1054.0,348.0 L1051.8,351.3 L1049.7,354.7 L1047.7,358.1 L1045.8,361.5" stroke="#8e887f" stroke-width="31.4"/><path d="M1047.7,358.1 L1045.8,361.5 L1044.0,365.0 L1042.3,368.5 L1040.8,371.9" stroke="#8c867d" stroke-width="31.7"/><path d="M1042.3,368.5 L1040.8,371.9 L1039.3,375.4 L1037.9,378.9 L1036.6,382.5" stroke="#8b847b" stroke-width="31.9"/><path d="M1037.9,378.9 L1036.6,382.5 L1035.4,386.2 L1034.2,390.0 L1033.0,394.0" stroke="#898279" stroke-width="32.2"/><path d="M1034.2,390.0 L1033.0,394.0 L1031.8,398.2 L1030.7,402.6 L1029.6,407.2" stroke="#878077" stroke-width="32.4"/><path d="M1030.7,402.6 L1029.6,407.2 L1028.6,411.9 L1027.6,416.6 L1026.6,421.2" stroke="#847d74" stroke-width="32.7"/><path d="M1027.6,416.6 L1026.6,421.2 L1025.8,425.7 L1025.0,430.0 L1024.3,434.1" stroke="#7f786f" stroke-width="33.0"/><path d="M1025.0,430.0 L1024.3,434.1 L1023.5,438.1 L1022.9,441.9 L1022.2,445.8" stroke="#7a736a" stroke-width="33.3"/><path d="M1022.9,441.9 L1022.2,445.8 L1021.7,449.5 L1021.3,453.3 L1021.1,457.1" stroke="#766e66" stroke-width="33.5"/><path d="M1021.3,453.3 L1021.1,457.1 L1021.0,461.0 L1021.1,465.0 L1021.3,469.2" stroke="#716961" stroke-width="33.8"/><path d="M1021.1,465.0 L1021.3,469.2 L1021.7,473.5 L1022.2,477.7 L1022.8,481.8" stroke="#6d655d" stroke-width="34.1"/><path d="M1022.2,477.7 L1022.8,481.8 L1023.5,485.8 L1024.2,489.6 L1025.0,493.0" stroke="#686059" stroke-width="34.3"/><path d="M1024.2,489.6 L1025.0,493.0 L1025.9,496.2 L1027.1,499.3 L1028.4,502.3" stroke="#645c55" stroke-width="34.6"/><path d="M1027.1,499.3 L1028.4,502.3 L1029.8,505.0 L1031.1,507.5 L1032.3,509.7" stroke="#605852" stroke-width="34.8"/><path d="M1031.1,507.5 L1032.3,509.7 L1033.3,511.5 L1034.0,513.0" stroke="#5d554f" stroke-width="34.9" stroke-linecap="round"/><path d="M1139.3,292.6 L1137.1,293.6 L1134.3,294.9 L1131.1,296.3 L1127.6,297.9 L1123.9,299.7 L1120.4,301.4 L1117.1,303.2 L1114.2,304.9 L1111.4,306.7 L1108.6,308.6 L1105.9,310.5 L1103.2,312.5 L1100.5,314.6 L1097.9,316.9 L1095.3,319.2 L1092.7,321.6 L1090.1,324.3 L1087.4,327.1 L1084.7,330.1 L1082.0,333.2 L1079.4,336.5 L1076.8,339.7 L1074.3,343.0 L1071.9,346.2 L1069.7,349.3 L1067.5,352.5 L1065.4,355.6 L1063.4,358.7 L1061.5,361.8 L1059.8,365.0 L1058.1,368.1 L1056.5,371.2 L1055.0,374.4 L1053.6,377.5 L1052.3,380.7 L1051.1,383.9 L1050.0,387.2 L1048.9,390.6 L1047.8,394.2 L1046.7,398.0 L1045.6,401.9 L1044.6,406.1 L1043.6,410.4 L1042.7,414.9 L1041.7,419.5 L1040.9,424.0 L1040.1,428.4 L1039.4,432.6 L1038.6,436.7 L1038.0,440.7 L1037.4,444.4 L1036.8,447.9 L1036.4,451.3 L1036.1,454.6 L1035.9,457.8 L1035.9,461.0 L1036.0,464.5 L1036.2,468.1 L1036.6,471.9 L1037.1,475.8 L1037.7,479.5 L1038.3,483.1 L1039.0,486.4 L1039.7,489.1 L1040.4,491.4 L1041.2,493.6 L1042.3,495.8 L1043.4,498.1 L1044.6,500.2 L1045.8,502.3 L1046.9,504.4 L1047.8,506.1" stroke="#000" stroke-opacity="0.35" stroke-width="4.8" filter="url(#b1)"/><path d="M1128.7,269.4 L1126.7,270.3 L1124.0,271.4 L1120.7,272.8 L1116.9,274.5 L1112.9,276.3 L1108.8,278.3 L1104.6,280.4 L1100.8,282.5 L1097.3,284.7 L1093.9,286.9 L1090.6,289.1 L1087.3,291.5 L1084.0,294.0 L1080.8,296.6 L1077.5,299.4 L1074.3,302.4 L1071.1,305.5 L1067.9,308.8 L1064.7,312.2 L1061.6,315.7 L1058.5,319.2 L1055.6,322.8 L1052.8,326.3 L1050.1,329.8 L1047.5,333.3 L1044.9,336.8 L1042.5,340.3 L1040.1,343.9 L1037.8,347.5 L1035.6,351.2 L1033.5,355.0 L1031.5,358.8 L1029.6,362.6 L1027.9,366.4 L1026.3,370.2 L1024.7,374.0 L1023.3,377.9 L1021.9,381.8 L1020.6,385.8 L1019.3,390.0 L1018.0,394.5 L1016.8,399.2 L1015.6,404.0 L1014.5,408.8 L1013.4,413.6 L1012.4,418.4 L1011.5,423.0 L1010.6,427.4 L1009.9,431.5 L1009.1,435.5 L1008.4,439.5 L1007.7,443.6 L1007.1,447.8 L1006.6,452.0 L1006.3,456.4 L1006.1,461.0 L1006.2,465.6 L1006.4,470.3 L1006.8,475.0 L1007.3,479.6 L1007.9,484.2 L1008.6,488.6 L1009.4,492.7 L1010.3,496.9 L1011.5,501.0 L1013.0,505.1 L1014.5,508.7 L1016.1,511.9 L1017.5,514.7 L1018.8,517.0 L1019.6,518.7 L1020.2,519.9" stroke="#000" stroke-opacity="0.35" stroke-width="4.8" filter="url(#b1)"/><path d="M1137.9,289.4 L1135.7,290.4 L1132.9,291.7 L1129.7,293.1 L1126.1,294.7 L1122.4,296.5 L1118.8,298.3 L1115.4,300.1 L1112.4,301.8 L1109.5,303.7 L1106.6,305.6 L1103.8,307.6 L1101.0,309.7 L1098.3,311.8 L1095.6,314.1 L1092.9,316.5 L1090.2,319.0 L1087.5,321.7 L1084.8,324.6 L1082.0,327.7 L1079.3,330.8 L1076.6,334.1 L1073.9,337.4 L1071.4,340.7 L1069.0,343.9 L1066.6,347.1 L1064.4,350.3 L1062.3,353.5 L1060.3,356.7 L1058.3,359.9 L1056.5,363.1 L1054.7,366.3 L1053.1,369.5 L1051.5,372.8 L1050.1,376.0 L1048.8,379.2 L1047.5,382.5 L1046.3,385.9 L1045.2,389.4 L1044.1,393.1 L1043.0,396.9 L1041.9,400.9 L1040.8,405.1 L1039.8,409.6 L1038.8,414.1 L1037.9,418.7 L1037.0,423.2 L1036.2,427.6 L1035.4,431.9 L1034.7,436.0 L1034.0,440.0 L1033.4,443.7 L1032.9,447.3 L1032.4,450.8 L1032.1,454.2 L1031.9,457.6 L1031.8,461.0 L1031.9,464.6 L1032.2,468.4 L1032.6,472.3 L1033.0,476.3 L1033.6,480.1 L1034.3,483.8 L1035.0,487.3 L1035.7,490.2 L1036.4,492.7 L1037.4,495.1 L1038.5,497.6 L1039.7,500.0 L1040.9,502.2 L1042.1,504.3 L1043.2,506.3 L1044.0,508.0 M1135.9,285.2 L1133.8,286.2 L1131.0,287.4 L1127.8,288.9 L1124.2,290.5 L1120.4,292.2 L1116.7,294.0 L1113.1,295.9 L1109.9,297.8 L1106.9,299.7 L1104.0,301.6 L1101.0,303.7 L1098.1,305.8 L1095.3,308.1 L1092.5,310.4 L1089.6,312.9 L1086.8,315.5 L1084.0,318.3 L1081.2,321.3 L1078.4,324.4 L1075.5,327.6 L1072.8,331.0 L1070.1,334.3 L1067.5,337.7 L1065.0,341.0 L1062.6,344.2 L1060.3,347.5 L1058.1,350.7 L1056.0,354.0 L1054.0,357.3 L1052.1,360.6 L1050.3,363.9 L1048.5,367.3 L1046.9,370.6 L1045.4,374.0 L1044.0,377.3 L1042.7,380.7 L1041.5,384.2 L1040.3,387.8 L1039.1,391.5 L1038.0,395.4 L1036.8,399.5 L1035.8,403.9 L1034.7,408.4 L1033.7,413.0 L1032.7,417.6 L1031.8,422.2 L1031.0,426.7 L1030.2,431.0 L1029.5,435.1 L1028.8,439.0 L1028.1,442.8 L1027.6,446.5 L1027.1,450.2 L1026.7,453.8 L1026.5,457.4 L1026.4,461.0 L1026.5,464.8 L1026.7,468.8 L1027.1,472.9 L1027.6,477.0 L1028.2,481.0 L1028.9,484.8 L1029.6,488.4 L1030.3,491.6 L1031.2,494.5 L1032.2,497.2 L1033.4,499.9 L1034.7,502.5 L1036.0,504.9 L1037.2,507.0 L1038.2,508.9 L1039.0,510.5 M1134.0,281.0 L1131.9,281.9 L1129.2,283.2 L1125.9,284.6 L1122.2,286.2 L1118.4,288.0 L1114.6,289.8 L1110.9,291.8 L1107.5,293.7 L1104.4,295.7 L1101.3,297.7 L1098.3,299.8 L1095.2,302.0 L1092.3,304.3 L1089.3,306.8 L1086.4,309.3 L1083.5,312.0 L1080.6,314.9 L1077.6,317.9 L1074.7,321.1 L1071.8,324.5 L1069.0,327.8 L1066.2,331.2 L1063.5,334.6 L1061.0,338.0 L1058.6,341.3 L1056.2,344.6 L1054.0,348.0 L1051.8,351.3 L1049.7,354.7 L1047.7,358.1 L1045.8,361.5 L1044.0,365.0 L1042.3,368.5 L1040.8,371.9 L1039.3,375.4 L1037.9,378.9 L1036.6,382.5 L1035.4,386.2 L1034.2,390.0 L1033.0,394.0 L1031.8,398.2 L1030.7,402.6 L1029.6,407.2 L1028.6,411.9 L1027.6,416.6 L1026.6,421.2 L1025.8,425.7 L1025.0,430.0 L1024.3,434.1 L1023.5,438.1 L1022.9,441.9 L1022.2,445.8 L1021.7,449.5 L1021.3,453.3 L1021.1,457.1 L1021.0,461.0 L1021.1,465.0 L1021.3,469.2 L1021.7,473.5 L1022.2,477.7 L1022.8,481.8 L1023.5,485.8 L1024.2,489.6 L1025.0,493.0 L1025.9,496.2 L1027.1,499.3 L1028.4,502.3 L1029.8,505.0 L1031.1,507.5 L1032.3,509.7 L1033.3,511.5 L1034.0,513.0 M1132.1,276.8 L1130.0,277.7 L1127.3,278.9 L1124.0,280.3 L1120.3,281.9 L1116.4,283.7 L1112.5,285.6 L1108.6,287.6 L1105.1,289.6 L1101.8,291.7 L1098.6,293.8 L1095.5,295.9 L1092.4,298.2 L1089.3,300.6 L1086.2,303.1 L1083.2,305.7 L1080.2,308.5 L1077.1,311.5 L1074.1,314.6 L1071.1,317.9 L1068.1,321.3 L1065.2,324.7 L1062.3,328.2 L1059.6,331.6 L1057.0,335.0 L1054.5,338.4 L1052.1,341.8 L1049.8,345.2 L1047.5,348.6 L1045.4,352.1 L1043.3,355.6 L1041.3,359.1 L1039.5,362.7 L1037.7,366.3 L1036.1,369.9 L1034.6,373.5 L1033.1,377.1 L1031.8,380.8 L1030.5,384.6 L1029.3,388.5 L1028.0,392.6 L1026.8,396.9 L1025.6,401.4 L1024.5,406.0 L1023.4,410.8 L1022.4,415.5 L1021.5,420.2 L1020.6,424.7 L1019.8,429.0 L1019.0,433.2 L1018.3,437.1 L1017.6,441.1 L1016.9,445.0 L1016.4,448.9 L1016.0,452.8 L1015.7,456.9 L1015.6,461.0 L1015.7,465.2 L1015.9,469.6 L1016.3,474.0 L1016.8,478.4 L1017.4,482.7 L1018.1,486.8 L1018.8,490.7 L1019.7,494.4 L1020.7,498.0 L1022.0,501.4 L1023.4,504.6 L1024.8,507.5 L1026.1,510.1 L1027.4,512.4 L1028.3,514.1 L1029.0,515.5 M1130.1,272.6 L1128.2,273.5 L1125.4,274.6 L1122.1,276.0 L1118.4,277.7 L1114.4,279.5 L1110.3,281.4 L1106.3,283.5 L1102.6,285.6 L1099.2,287.7 L1095.9,289.8 L1092.7,292.0 L1089.5,294.4 L1086.3,296.8 L1083.1,299.4 L1080.0,302.1 L1076.8,305.0 L1073.7,308.0 L1070.5,311.3 L1067.4,314.6 L1064.4,318.1 L1061.4,321.6 L1058.5,325.1 L1055.7,328.6 L1053.0,332.1 L1050.5,335.5 L1048.0,338.9 L1045.6,342.4 L1043.3,345.9 L1041.1,349.5 L1038.9,353.1 L1036.9,356.7 L1034.9,360.5 L1033.1,364.2 L1031.4,367.9 L1029.8,371.6 L1028.3,375.3 L1026.9,379.1 L1025.6,383.0 L1024.3,387.0 L1023.0,391.1 L1021.8,395.5 L1020.6,400.1 L1019.4,404.9 L1018.3,409.7 L1017.3,414.4 L1016.3,419.2 L1015.4,423.7 L1014.6,428.1 L1013.8,432.2 L1013.0,436.2 L1012.3,440.2 L1011.6,444.2 L1011.1,448.2 L1010.6,452.4 L1010.3,456.6 L1010.2,461.0 L1010.2,465.5 L1010.5,470.0 L1010.8,474.6 L1011.3,479.1 L1011.9,483.5 L1012.6,487.8 L1013.4,491.9 L1014.3,495.8 L1015.4,499.7 L1016.8,503.5 L1018.3,506.9 L1019.8,510.0 L1021.2,512.8 L1022.5,515.0 L1023.4,516.7 L1024.0,518.0" stroke="#000" stroke-opacity="0.28" stroke-width="1.3"/><path d="M1136.9,287.3 L1134.8,288.3 L1132.0,289.6 L1128.7,291.0 L1125.1,292.6 L1121.4,294.3 L1117.7,296.2 L1114.3,298.0 L1111.2,299.8 L1108.2,301.7 L1105.3,303.6 L1102.4,305.6 L1099.6,307.8 L1096.8,310.0 L1094.0,312.3 L1091.3,314.7 L1088.5,317.3 L1085.8,320.0 L1083.0,322.9 L1080.2,326.0 L1077.4,329.2 L1074.7,332.5 L1072.0,335.9 L1069.4,339.2 L1067.0,342.4 L1064.6,345.7 L1062.4,348.9 L1060.2,352.1 L1058.1,355.3 L1056.2,358.6 L1054.3,361.8 L1052.5,365.1 L1050.8,368.4 L1049.2,371.7 L1047.8,375.0 L1046.4,378.3 L1045.1,381.6 L1043.9,385.1 L1042.7,388.6 L1041.6,392.3 L1040.5,396.2 L1039.4,400.2 L1038.3,404.5 L1037.2,409.0 L1036.2,413.5 L1035.3,418.1 L1034.4,422.7 L1033.6,427.2 L1032.8,431.4 L1032.1,435.5 L1031.4,439.5 L1030.8,443.3 L1030.2,446.9 L1029.7,450.5 L1029.4,454.0 L1029.2,457.5 L1029.1,461.0 L1029.2,464.7 L1029.5,468.6 L1029.8,472.6 L1030.3,476.6 L1030.9,480.6 L1031.6,484.3 L1032.3,487.8 L1033.0,490.9 L1033.8,493.6 L1034.8,496.2 L1036.0,498.7 L1037.2,501.2 L1038.4,503.5 L1039.6,505.7 L1040.7,507.6 L1041.5,509.3 M1135.0,283.1 L1132.9,284.1 L1130.1,285.3 L1126.8,286.7 L1123.2,288.3 L1119.4,290.1 L1115.6,291.9 L1112.0,293.8 L1108.7,295.7 L1105.7,297.7 L1102.6,299.7 L1099.6,301.8 L1096.7,303.9 L1093.8,306.2 L1090.9,308.6 L1088.0,311.1 L1085.2,313.8 L1082.3,316.6 L1079.4,319.6 L1076.5,322.8 L1073.7,326.1 L1070.9,329.4 L1068.1,332.8 L1065.5,336.2 L1063.0,339.5 L1060.6,342.8 L1058.3,346.1 L1056.0,349.3 L1053.9,352.7 L1051.8,356.0 L1049.9,359.3 L1048.0,362.7 L1046.3,366.1 L1044.6,369.6 L1043.1,373.0 L1041.7,376.4 L1040.3,379.8 L1039.1,383.4 L1037.8,387.0 L1036.7,390.8 L1035.5,394.7 L1034.3,398.9 L1033.2,403.2 L1032.2,407.8 L1031.1,412.4 L1030.2,417.1 L1029.2,421.7 L1028.4,426.2 L1027.6,430.5 L1026.9,434.6 L1026.2,438.5 L1025.5,442.4 L1024.9,446.1 L1024.4,449.8 L1024.0,453.5 L1023.8,457.2 L1023.7,461.0 L1023.8,464.9 L1024.0,469.0 L1024.4,473.2 L1024.9,477.3 L1025.5,481.4 L1026.2,485.3 L1026.9,489.0 L1027.7,492.3 L1028.6,495.3 L1029.7,498.3 L1030.9,501.1 L1032.2,503.7 L1033.5,506.2 L1034.7,508.3 L1035.7,510.2 L1036.5,511.8 M1133.0,278.9 L1131.0,279.8 L1128.2,281.0 L1125.0,282.4 L1121.3,284.1 L1117.4,285.8 L1113.5,287.7 L1109.7,289.7 L1106.3,291.7 L1103.1,293.7 L1100.0,295.7 L1096.9,297.9 L1093.8,300.1 L1090.8,302.5 L1087.8,304.9 L1084.8,307.5 L1081.8,310.2 L1078.8,313.2 L1075.9,316.3 L1072.9,319.5 L1070.0,322.9 L1067.1,326.3 L1064.3,329.7 L1061.6,333.1 L1059.0,336.5 L1056.6,339.9 L1054.2,343.2 L1051.9,346.6 L1049.7,350.0 L1047.5,353.4 L1045.5,356.8 L1043.6,360.3 L1041.7,363.9 L1040.0,367.4 L1038.4,370.9 L1036.9,374.5 L1035.5,378.0 L1034.2,381.7 L1033.0,385.4 L1031.7,389.3 L1030.5,393.3 L1029.3,397.5 L1028.2,402.0 L1027.1,406.6 L1026.0,411.3 L1025.0,416.0 L1024.1,420.7 L1023.2,425.2 L1022.4,429.5 L1021.6,433.6 L1020.9,437.6 L1020.2,441.5 L1019.6,445.4 L1019.1,449.2 L1018.7,453.1 L1018.4,457.0 L1018.3,461.0 L1018.4,465.1 L1018.6,469.4 L1019.0,473.7 L1019.5,478.0 L1020.1,482.3 L1020.8,486.3 L1021.5,490.1 L1022.3,493.7 L1023.3,497.1 L1024.5,500.4 L1025.9,503.4 L1027.3,506.3 L1028.6,508.8 L1029.8,511.0 L1030.8,512.8 L1031.5,514.2 M1131.1,274.7 L1129.1,275.6 L1126.4,276.7 L1123.1,278.2 L1119.4,279.8 L1115.4,281.6 L1111.4,283.5 L1107.5,285.5 L1103.8,287.6 L1100.5,289.7 L1097.3,291.8 L1094.1,294.0 L1090.9,296.3 L1087.8,298.7 L1084.7,301.2 L1081.6,303.9 L1078.5,306.7 L1075.4,309.8 L1072.3,312.9 L1069.2,316.3 L1066.2,319.7 L1063.3,323.1 L1060.4,326.6 L1057.7,330.1 L1055.0,333.6 L1052.5,337.0 L1050.1,340.4 L1047.7,343.8 L1045.4,347.3 L1043.2,350.8 L1041.1,354.3 L1039.1,357.9 L1037.2,361.6 L1035.4,365.3 L1033.7,368.9 L1032.2,372.6 L1030.7,376.2 L1029.4,380.0 L1028.1,383.8 L1026.8,387.7 L1025.5,391.8 L1024.3,396.2 L1023.1,400.8 L1022.0,405.4 L1020.9,410.2 L1019.8,415.0 L1018.9,419.7 L1018.0,424.2 L1017.2,428.6 L1016.4,432.7 L1015.7,436.7 L1014.9,440.6 L1014.3,444.6 L1013.7,448.6 L1013.3,452.6 L1013.0,456.8 L1012.9,461.0 L1012.9,465.4 L1013.2,469.8 L1013.6,474.3 L1014.0,478.7 L1014.7,483.1 L1015.3,487.3 L1016.1,491.3 L1017.0,495.1 L1018.1,498.8 L1019.4,502.4 L1020.8,505.8 L1022.3,508.8 L1023.7,511.4 L1024.9,513.7 L1025.8,515.4 L1026.5,516.7" stroke="#fff" stroke-opacity="0.15" stroke-width="1.3"/><path d="M1136.7,286.8 L1134.5,287.8 L1131.7,289.0 L1128.5,290.5 L1124.9,292.1 L1121.2,293.8 L1117.5,295.6 L1114.0,297.5 L1110.9,299.3 L1107.9,301.2 L1105.0,303.1 L1102.1,305.2 L1099.2,307.3 L1096.4,309.5 L1093.6,311.8 L1090.9,314.2 L1088.1,316.8 L1085.3,319.6 L1082.5,322.5 L1079.7,325.6 L1076.9,328.8 L1074.2,332.1 L1071.5,335.5 L1068.9,338.8 L1066.5,342.1 L1064.1,345.3 L1061.9,348.5 L1059.7,351.8 L1057.6,355.0 L1055.6,358.3 L1053.7,361.5 L1051.9,364.8 L1050.2,368.1 L1048.7,371.4 L1047.2,374.7 L1045.8,378.1 L1044.5,381.4 L1043.3,384.9 L1042.1,388.4 L1041.0,392.1 L1039.8,396.0 L1038.7,400.0 L1037.7,404.3 L1036.6,408.8 L1035.6,413.4 L1034.7,418.0 L1033.8,422.6 L1032.9,427.0 L1032.2,431.3 L1031.5,435.4 L1030.8,439.4 L1030.1,443.2 L1029.5,446.8 L1029.1,450.4 L1028.7,453.9 L1028.5,457.4 L1028.4,461.0 L1028.5,464.7 L1028.8,468.7 L1029.2,472.7 L1029.6,476.7 L1030.2,480.7 L1030.9,484.5 L1031.6,488.0 L1032.3,491.1 L1033.2,493.8 L1034.2,496.4 L1035.3,499.0 L1036.6,501.5 L1037.8,503.9 L1039.0,506.0 L1040.1,508.0 L1040.9,509.6" stroke="#fff" stroke-opacity="0.15" stroke-width="10.2" filter="url(#b2)"/></g><g fill="none" stroke-linejoin="round"><path d="M1041.0,540.0 L1040.8,541.7 L1040.3,543.9 L1039.6,546.4" stroke="#4e4741" stroke-width="35.0" stroke-linecap="round"/><path d="M1040.3,543.9 L1039.6,546.4 L1039.1,549.3 L1038.7,552.5" stroke="#544e47" stroke-width="35.0"/><path d="M1039.1,549.3 L1038.7,552.5 L1038.6,555.9 L1039.0,559.4" stroke="#5d5650" stroke-width="35.0"/><path d="M1038.6,555.9 L1039.0,559.4 L1040.0,563.0 L1041.6,566.8" stroke="#676059" stroke-width="35.0"/><path d="M1040.0,563.0 L1041.6,566.8 L1043.6,571.1 L1046.1,575.6" stroke="#726c64" stroke-width="35.0"/><path d="M1043.6,571.1 L1046.1,575.6 L1048.9,580.2 L1052.0,584.9" stroke="#777169" stroke-width="35.0"/><path d="M1048.9,580.2 L1052.0,584.9 L1055.4,589.5 L1059.1,593.9" stroke="#7a746c" stroke-width="35.0"/><path d="M1055.4,589.5 L1059.1,593.9 L1063.0,598.0 L1067.2,601.9" stroke="#7c766e" stroke-width="35.0"/><path d="M1063.0,598.0 L1067.2,601.9 L1071.8,605.8 L1076.7,609.5" stroke="#7f7971" stroke-width="35.0"/><path d="M1071.8,605.8 L1076.7,609.5 L1081.9,613.2 L1087.3,616.7" stroke="#7d776f" stroke-width="35.0"/><path d="M1081.9,613.2 L1087.3,616.7 L1092.8,620.0 L1098.4,623.1" stroke="#78726a" stroke-width="35.0"/><path d="M1092.8,620.0 L1098.4,623.1 L1104.0,626.0 L1109.7,628.6" stroke="#736d65" stroke-width="35.0"/><path d="M1104.0,626.0 L1109.7,628.6 L1115.5,631.1 L1121.5,633.4" stroke="#6e6860" stroke-width="35.0"/><path d="M1115.5,631.1 L1121.5,633.4 L1127.6,635.4 L1133.7,637.3" stroke="#6c665e" stroke-width="35.0"/><path d="M1127.6,635.4 L1133.7,637.3 L1139.8,639.1 L1146.0,640.6" stroke="#6b655d" stroke-width="35.0"/><path d="M1139.8,639.1 L1146.0,640.6 L1152.0,642.0 L1158.1,643.2" stroke="#6a645c" stroke-width="35.0"/><path d="M1152.0,642.0 L1158.1,643.2 L1164.5,644.3 L1170.9,645.2" stroke="#69635b" stroke-width="35.0"/><path d="M1164.5,644.3 L1170.9,645.2 L1177.2,645.9 L1183.5,646.5" stroke="#69635b" stroke-width="35.0"/><path d="M1177.2,645.9 L1183.5,646.5 L1189.4,646.9 L1195.0,647.0" stroke="#68625a" stroke-width="35.0"/><path d="M1189.4,646.9 L1195.0,647.0 L1200.0,647.0 L1204.6,646.7" stroke="#a0a19f" stroke-width="35.0"/><path d="M1200.0,647.0 L1204.6,646.7 L1208.8,646.1 L1212.8,645.2" stroke="#a1a2a0" stroke-width="35.0"/><path d="M1208.8,646.1 L1212.8,645.2 L1216.4,644.2 L1219.7,643.1" stroke="#a2a3a1" stroke-width="35.0"/><path d="M1216.4,644.2 L1219.7,643.1 L1222.7,642.0 L1225.5,640.9" stroke="#a3a4a2" stroke-width="35.0"/><path d="M1222.7,642.0 L1225.5,640.9 L1228.0,640.0 L1230.2,639.2" stroke="#a3a4a2" stroke-width="35.0"/><path d="M1228.0,640.0 L1230.2,639.2 L1232.0,638.3 L1233.5,637.4" stroke="#a4a5a3" stroke-width="35.0"/><path d="M1232.0,638.3 L1233.5,637.4 L1234.8,636.6 L1235.8,635.8" stroke="#a4a5a3" stroke-width="35.0"/><path d="M1234.8,636.6 L1235.8,635.8 L1236.6,635.1 L1237.4,634.5" stroke="#a5a6a4" stroke-width="35.0"/><path d="M1236.6,635.1 L1237.4,634.5 L1238.0,634.0" stroke="#a5a6a4" stroke-width="35.0" stroke-linecap="round"/><path d="M1056.2,542.2 L1055.9,544.6 L1055.2,547.4 L1054.7,549.7 L1054.3,551.8 L1054.0,553.6 L1054.0,555.1 L1054.1,556.4 L1054.5,557.9 L1055.6,560.5 L1057.3,564.0 L1059.4,567.9 L1061.9,571.9 L1064.6,576.0 L1067.5,579.9 L1070.6,583.7 L1073.8,587.1 L1077.4,590.4 L1081.4,593.7 L1085.9,597.1 L1090.6,600.4 L1095.5,603.6 L1100.6,606.7 L1105.7,609.6 L1110.8,612.2 L1115.9,614.6 L1121.2,616.8 L1126.7,618.9 L1132.3,620.8 L1138.0,622.6 L1143.8,624.2 L1149.6,625.6 L1155.2,626.9 L1160.9,628.1 L1166.8,629.1 L1172.8,629.9 L1178.8,630.6 L1184.6,631.1 L1190.1,631.5 L1195.2,631.6 L1199.5,631.6 L1203.0,631.4 L1206.1,630.9 L1209.0,630.3 L1211.9,629.5 L1214.6,628.5 L1217.3,627.5 L1220.1,626.5 L1222.6,625.6 L1224.1,625.0 L1224.8,624.7 L1225.3,624.4 L1225.7,624.1 L1226.1,623.8 L1226.8,623.2 L1228.0,622.2 L1229.1,621.4" stroke="#000" stroke-opacity="0.35" stroke-width="4.9" filter="url(#b1)"/><path d="M1025.8,537.8 L1025.6,538.8 L1025.3,540.3 L1024.6,543.1 L1023.9,546.9 L1023.3,551.4 L1023.2,556.6 L1023.9,562.4 L1025.5,568.1 L1027.6,573.2 L1029.9,578.1 L1032.7,583.2 L1035.9,588.5 L1039.4,593.7 L1043.3,599.0 L1047.6,604.1 L1052.2,608.9 L1057.0,613.5 L1062.2,617.8 L1067.6,622.0 L1073.3,625.9 L1079.2,629.7 L1085.1,633.3 L1091.1,636.7 L1097.2,639.8 L1103.4,642.7 L1109.8,645.4 L1116.3,647.9 L1122.8,650.1 L1129.3,652.1 L1135.9,653.9 L1142.3,655.6 L1148.8,657.1 L1155.3,658.4 L1162.1,659.5 L1168.9,660.5 L1175.7,661.3 L1182.3,661.8 L1188.7,662.2 L1194.7,662.4 L1200.5,662.4 L1206.2,662.0 L1211.6,661.2 L1216.5,660.2 L1220.9,658.9 L1224.8,657.6 L1228.1,656.4 L1230.9,655.3 L1233.4,654.4 L1236.2,653.3 L1239.2,651.9 L1241.7,650.5 L1243.8,649.0 L1245.4,647.8 L1246.5,646.9 L1246.7,646.7 L1246.9,646.6" stroke="#000" stroke-opacity="0.35" stroke-width="4.9" filter="url(#b1)"/><path d="M1052.1,541.6 L1051.8,543.8 L1051.2,546.4 L1050.6,548.8 L1050.1,551.1 L1049.8,553.3 L1049.8,555.3 L1050.0,557.2 L1050.6,559.3 L1051.8,562.2 L1053.6,566.0 L1055.8,570.0 L1058.3,574.2 L1061.2,578.4 L1064.2,582.5 L1067.5,586.4 L1070.9,590.0 L1074.6,593.5 L1078.8,597.0 L1083.4,600.5 L1088.2,603.9 L1093.3,607.2 L1098.5,610.3 L1103.7,613.3 L1108.9,615.9 L1114.2,618.4 L1119.7,620.7 L1125.3,622.8 L1131.0,624.8 L1136.9,626.6 L1142.7,628.2 L1148.6,629.7 L1154.4,631.1 L1160.2,632.2 L1166.2,633.2 L1172.3,634.1 L1178.4,634.8 L1184.3,635.3 L1189.9,635.7 L1195.1,635.8 L1199.6,635.8 L1203.4,635.6 L1206.8,635.1 L1210.0,634.3 L1213.1,633.5 L1216.0,632.5 L1218.8,631.5 L1221.6,630.4 L1224.1,629.5 L1225.8,628.9 L1226.8,628.4 L1227.6,627.9 L1228.2,627.5 L1228.8,627.0 L1229.5,626.4 L1230.5,625.6 L1231.6,624.8 M1046.5,540.8 L1046.3,542.8 L1045.7,545.1 L1045.1,547.6 L1044.6,550.2 L1044.2,552.9 L1044.2,555.6 L1044.5,558.3 L1045.3,561.1 L1046.7,564.5 L1048.6,568.5 L1050.9,572.8 L1053.6,577.2 L1056.6,581.6 L1059.8,586.0 L1063.3,590.2 L1066.9,594.0 L1070.9,597.7 L1075.3,601.4 L1080.1,605.0 L1085.1,608.5 L1090.3,611.9 L1095.6,615.2 L1101.1,618.2 L1106.5,621.0 L1111.9,623.5 L1117.6,625.9 L1123.4,628.1 L1129.3,630.1 L1135.3,632.0 L1141.3,633.6 L1147.3,635.2 L1153.2,636.5 L1159.2,637.7 L1165.3,638.8 L1171.6,639.7 L1177.8,640.4 L1183.9,640.9 L1189.7,641.3 L1195.0,641.4 L1199.8,641.4 L1204.0,641.1 L1207.8,640.6 L1211.4,639.8 L1214.7,638.8 L1217.8,637.8 L1220.8,636.7 L1223.5,635.7 L1226.0,634.8 L1228.0,634.0 L1229.4,633.3 L1230.5,632.7 L1231.5,632.0 L1232.3,631.4 L1233.0,630.7 L1233.9,630.0 L1234.8,629.4 M1041.0,540.0 L1040.8,541.7 L1040.3,543.9 L1039.6,546.4 L1039.1,549.3 L1038.7,552.5 L1038.6,555.9 L1039.0,559.4 L1040.0,563.0 L1041.6,566.8 L1043.6,571.1 L1046.1,575.6 L1048.9,580.2 L1052.0,584.9 L1055.4,589.5 L1059.1,593.9 L1063.0,598.0 L1067.2,601.9 L1071.8,605.8 L1076.7,609.5 L1081.9,613.2 L1087.3,616.7 L1092.8,620.0 L1098.4,623.1 L1104.0,626.0 L1109.7,628.6 L1115.5,631.1 L1121.5,633.4 L1127.6,635.4 L1133.7,637.3 L1139.8,639.1 L1146.0,640.6 L1152.0,642.0 L1158.1,643.2 L1164.5,644.3 L1170.9,645.2 L1177.2,645.9 L1183.5,646.5 L1189.4,646.9 L1195.0,647.0 L1200.0,647.0 L1204.6,646.7 L1208.8,646.1 L1212.8,645.2 L1216.4,644.2 L1219.7,643.1 L1222.7,642.0 L1225.5,640.9 L1228.0,640.0 L1230.2,639.2 L1232.0,638.3 L1233.5,637.4 L1234.8,636.6 L1235.8,635.8 L1236.6,635.1 L1237.4,634.5 L1238.0,634.0 M1035.5,539.2 L1035.3,540.6 L1034.8,542.6 L1034.2,545.2 L1033.5,548.4 L1033.1,552.1 L1033.0,556.1 L1033.5,560.5 L1034.7,564.9 L1036.5,569.2 L1038.7,573.6 L1041.2,578.3 L1044.2,583.2 L1047.4,588.1 L1051.0,592.9 L1054.9,597.6 L1059.1,602.0 L1063.5,606.1 L1068.3,610.1 L1073.4,614.1 L1078.8,617.8 L1084.4,621.4 L1090.0,624.9 L1095.8,628.1 L1101.5,631.0 L1107.4,633.8 L1113.4,636.3 L1119.6,638.6 L1125.8,640.8 L1132.1,642.7 L1138.4,644.5 L1144.6,646.1 L1150.8,647.5 L1157.1,648.7 L1163.6,649.8 L1170.2,650.8 L1176.7,651.5 L1183.0,652.1 L1189.1,652.4 L1194.9,652.6 L1200.2,652.6 L1205.2,652.3 L1209.8,651.6 L1214.1,650.6 L1218.0,649.5 L1221.5,648.4 L1224.7,647.2 L1227.5,646.2 L1230.0,645.2 L1232.4,644.3 L1234.6,643.2 L1236.5,642.2 L1238.0,641.1 L1239.3,640.1 L1240.2,639.4 L1240.8,638.9 L1241.2,638.6 M1029.9,538.4 L1029.8,539.6 L1029.4,541.3 L1028.7,544.0 L1028.0,547.5 L1027.5,551.7 L1027.4,556.4 L1028.0,561.6 L1029.4,566.7 L1031.4,571.5 L1033.7,576.2 L1036.4,581.1 L1039.4,586.2 L1042.9,591.3 L1046.6,596.4 L1050.7,601.3 L1055.1,606.0 L1059.8,610.3 L1064.8,614.5 L1070.1,618.6 L1075.7,622.5 L1081.4,626.2 L1087.2,629.7 L1093.1,633.0 L1099.1,636.1 L1105.1,638.9 L1111.4,641.5 L1117.7,643.9 L1124.1,646.1 L1130.5,648.1 L1136.9,649.9 L1143.3,651.5 L1149.6,652.9 L1156.1,654.2 L1162.8,655.4 L1169.5,656.3 L1176.1,657.1 L1182.6,657.7 L1188.9,658.0 L1194.8,658.2 L1200.4,658.2 L1205.8,657.8 L1210.8,657.1 L1215.5,656.1 L1219.7,654.9 L1223.4,653.6 L1226.7,652.5 L1229.4,651.4 L1231.9,650.5 L1234.6,649.5 L1237.2,648.2 L1239.5,646.9 L1241.3,645.6 L1242.8,644.5 L1243.8,643.7 L1244.2,643.3 L1244.4,643.2" stroke="#000" stroke-opacity="0.28" stroke-width="1.3"/><path d="M1049.3,541.2 L1049.0,543.3 L1048.4,545.8 L1047.8,548.2 L1047.4,550.7 L1047.0,553.1 L1047.0,555.5 L1047.2,557.8 L1047.9,560.2 L1049.3,563.4 L1051.1,567.2 L1053.4,571.4 L1056.0,575.7 L1058.9,580.0 L1062.0,584.3 L1065.4,588.3 L1068.9,592.0 L1072.8,595.6 L1077.1,599.2 L1081.7,602.8 L1086.6,606.2 L1091.8,609.6 L1097.1,612.7 L1102.4,615.7 L1107.7,618.5 L1113.1,621.0 L1118.6,623.3 L1124.3,625.5 L1130.2,627.4 L1136.1,629.3 L1142.0,630.9 L1147.9,632.4 L1153.8,633.8 L1159.7,635.0 L1165.8,636.0 L1171.9,636.9 L1178.1,637.6 L1184.1,638.1 L1189.8,638.5 L1195.1,638.6 L1199.7,638.6 L1203.7,638.3 L1207.3,637.8 L1210.7,637.1 L1213.9,636.2 L1216.9,635.2 L1219.8,634.1 L1222.6,633.0 L1225.1,632.1 L1226.9,631.4 L1228.1,630.9 L1229.0,630.3 L1229.8,629.8 L1230.5,629.2 L1231.3,628.6 L1232.2,627.8 L1233.2,627.1 M1043.8,540.4 L1043.5,542.2 L1043.0,544.5 L1042.4,547.0 L1041.8,549.8 L1041.5,552.7 L1041.4,555.7 L1041.7,558.8 L1042.6,562.1 L1044.2,565.7 L1046.1,569.8 L1048.5,574.2 L1051.2,578.7 L1054.3,583.2 L1057.6,587.7 L1061.2,592.0 L1065.0,596.0 L1069.1,599.8 L1073.6,603.6 L1078.4,607.3 L1083.5,610.9 L1088.8,614.3 L1094.2,617.6 L1099.7,620.7 L1105.2,623.5 L1110.8,626.1 L1116.5,628.5 L1122.4,630.7 L1128.4,632.8 L1134.5,634.6 L1140.6,636.3 L1146.6,637.9 L1152.6,639.3 L1158.6,640.5 L1164.9,641.5 L1171.2,642.4 L1177.5,643.2 L1183.7,643.7 L1189.5,644.1 L1195.0,644.2 L1199.9,644.2 L1204.3,643.9 L1208.3,643.3 L1212.1,642.5 L1215.6,641.5 L1218.8,640.4 L1221.8,639.3 L1224.5,638.3 L1227.0,637.4 L1229.1,636.6 L1230.7,635.8 L1232.0,635.0 L1233.1,634.3 L1234.0,633.6 L1234.8,632.9 L1235.6,632.2 L1236.4,631.7 M1038.2,539.6 L1038.0,541.2 L1037.5,543.2 L1036.9,545.8 L1036.3,548.9 L1035.9,552.3 L1035.8,556.0 L1036.2,559.9 L1037.4,563.9 L1039.1,568.0 L1041.2,572.3 L1043.6,576.9 L1046.5,581.7 L1049.7,586.5 L1053.2,591.2 L1057.0,595.7 L1061.0,600.0 L1065.4,604.0 L1070.1,608.0 L1075.1,611.8 L1080.4,615.5 L1085.8,619.1 L1091.4,622.4 L1097.1,625.6 L1102.8,628.5 L1108.5,631.2 L1114.5,633.7 L1120.5,636.0 L1126.7,638.1 L1132.9,640.0 L1139.1,641.8 L1145.3,643.3 L1151.4,644.7 L1157.6,646.0 L1164.0,647.1 L1170.5,648.0 L1177.0,648.7 L1183.3,649.3 L1189.3,649.6 L1194.9,649.8 L1200.1,649.8 L1204.9,649.5 L1209.3,648.8 L1213.4,647.9 L1217.2,646.9 L1220.6,645.7 L1223.7,644.6 L1226.5,643.5 L1229.0,642.6 L1231.3,641.7 L1233.3,640.8 L1235.0,639.8 L1236.4,638.8 L1237.5,637.9 L1238.4,637.2 L1239.1,636.7 L1239.6,636.3 M1032.7,538.8 L1032.5,540.1 L1032.1,541.9 L1031.4,544.6 L1030.8,548.0 L1030.3,551.9 L1030.2,556.3 L1030.7,561.0 L1032.1,565.8 L1033.9,570.3 L1036.2,574.9 L1038.8,579.7 L1041.8,584.7 L1045.1,589.7 L1048.8,594.7 L1052.8,599.5 L1057.1,604.0 L1061.7,608.2 L1066.6,612.3 L1071.8,616.3 L1077.2,620.1 L1082.9,623.8 L1088.6,627.3 L1094.4,630.5 L1100.3,633.5 L1106.3,636.3 L1112.4,638.9 L1118.6,641.3 L1125.0,643.4 L1131.3,645.4 L1137.7,647.2 L1144.0,648.8 L1150.2,650.2 L1156.6,651.5 L1163.2,652.6 L1169.8,653.5 L1176.4,654.3 L1182.8,654.9 L1189.0,655.2 L1194.8,655.4 L1200.3,655.4 L1205.5,655.0 L1210.3,654.3 L1214.8,653.4 L1218.8,652.2 L1222.5,651.0 L1225.7,649.8 L1228.4,648.8 L1230.9,647.9 L1233.5,646.9 L1235.9,645.7 L1238.0,644.5 L1239.7,643.4 L1241.0,642.3 L1242.0,641.5 L1242.5,641.1 L1242.8,640.9" stroke="#fff" stroke-opacity="0.15" stroke-width="1.3"/><path d="M1048.6,541.1 L1048.3,543.1 L1047.8,545.6 L1047.2,548.1 L1046.7,550.5 L1046.3,553.0 L1046.3,555.5 L1046.5,557.9 L1047.3,560.4 L1048.6,563.7 L1050.5,567.6 L1052.8,571.7 L1055.4,576.1 L1058.3,580.4 L1061.5,584.7 L1064.9,588.8 L1068.4,592.5 L1072.3,596.1 L1076.6,599.8 L1081.3,603.3 L1086.2,606.8 L1091.4,610.2 L1096.7,613.3 L1102.1,616.3 L1107.4,619.1 L1112.8,621.6 L1118.4,623.9 L1124.1,626.1 L1129.9,628.1 L1135.9,629.9 L1141.8,631.6 L1147.8,633.1 L1153.6,634.5 L1159.5,635.7 L1165.6,636.7 L1171.9,637.6 L1178.0,638.3 L1184.0,638.8 L1189.8,639.2 L1195.1,639.3 L1199.7,639.3 L1203.8,639.0 L1207.5,638.5 L1210.9,637.7 L1214.1,636.8 L1217.2,635.8 L1220.0,634.7 L1222.8,633.7 L1225.3,632.8 L1227.2,632.1 L1228.4,631.5 L1229.4,630.9 L1230.2,630.3 L1230.9,629.8 L1231.7,629.1 L1232.7,628.3 L1233.6,627.7" stroke="#fff" stroke-opacity="0.1" stroke-width="10.5" filter="url(#b2)"/></g><g fill="none" stroke-linejoin="round"><path d="M1148.0,276.0 L1149.8,275.1 L1152.2,273.8 L1155.0,272.2" stroke="#68625b" stroke-width="32.0" stroke-linecap="round"/><path d="M1152.2,273.8 L1155.0,272.2 L1158.1,270.6 L1161.5,268.8" stroke="#706c66" stroke-width="32.0"/><path d="M1158.1,270.6 L1161.5,268.8 L1165.0,267.2 L1168.5,265.8" stroke="#7a7772" stroke-width="32.0"/><path d="M1165.0,267.2 L1168.5,265.8 L1172.0,264.6 L1175.4,263.7" stroke="#7b7873" stroke-width="32.0"/><path d="M1172.0,264.6 L1175.4,263.7 L1178.8,262.9 L1182.3,262.2" stroke="#7c7974" stroke-width="32.0"/><path d="M1178.8,262.9 L1182.3,262.2 L1185.9,261.6 L1189.7,261.2" stroke="#7c7a75" stroke-width="32.0"/><path d="M1185.9,261.6 L1189.7,261.2 L1193.6,260.8 L1197.7,260.6" stroke="#7d7b76" stroke-width="32.0"/><path d="M1193.6,260.8 L1197.7,260.6 L1202.0,260.5 L1206.6,260.5" stroke="#7e7c78" stroke-width="32.0"/><path d="M1202.0,260.5 L1206.6,260.5 L1211.6,260.6 L1216.7,260.8" stroke="#68635d" stroke-width="32.0"/><path d="M1211.6,260.6 L1216.7,260.8 L1222.1,261.2 L1227.4,261.7" stroke="#625d56" stroke-width="32.0"/><path d="M1222.1,261.2 L1227.4,261.7 L1232.8,262.3 L1238.0,263.1" stroke="#635e57" stroke-width="32.0"/><path d="M1232.8,262.3 L1238.0,263.1 L1243.0,264.0 L1247.8,265.1" stroke="#645f58" stroke-width="32.0"/><path d="M1243.0,264.0 L1247.8,265.1 L1252.6,266.3 L1257.3,267.6" stroke="#645f58" stroke-width="32.0"/><path d="M1252.6,266.3 L1257.3,267.6 L1261.9,269.1 L1266.4,270.8" stroke="#656059" stroke-width="32.0"/><path d="M1261.9,269.1 L1266.4,270.8 L1271.0,272.6 L1275.5,274.7" stroke="#66615a" stroke-width="32.0"/><path d="M1271.0,272.6 L1275.5,274.7 L1280.0,277.0 L1284.5,279.6" stroke="#68645d" stroke-width="32.0"/><path d="M1280.0,277.0 L1284.5,279.6 L1289.1,282.3 L1293.7,285.3" stroke="#716e69" stroke-width="32.0"/><path d="M1289.1,282.3 L1293.7,285.3 L1298.2,288.5 L1302.7,291.9" stroke="#7b7875" stroke-width="32.0"/><path d="M1298.2,288.5 L1302.7,291.9 L1307.0,295.4 L1311.1,299.1" stroke="#848382" stroke-width="32.0"/><path d="M1307.0,295.4 L1311.1,299.1 L1315.0,303.0 L1318.7,307.1" stroke="#8d8d8d" stroke-width="32.0"/><path d="M1315.0,303.0 L1318.7,307.1 L1322.2,311.4 L1325.6,315.9" stroke="#929292" stroke-width="32.0"/><path d="M1322.2,311.4 L1325.6,315.9 L1328.8,320.6 L1331.9,325.4" stroke="#979797" stroke-width="32.0"/><path d="M1328.8,320.6 L1331.9,325.4 L1334.8,330.3 L1337.5,335.2" stroke="#9c9c9c" stroke-width="32.0"/><path d="M1334.8,330.3 L1337.5,335.2 L1340.0,340.0 L1342.4,345.0" stroke="#a0a0a0" stroke-width="32.0"/><path d="M1340.0,340.0 L1342.4,345.0 L1344.5,350.3 L1346.5,355.7" stroke="#a5a5a5" stroke-width="32.0"/><path d="M1344.5,350.3 L1346.5,355.7 L1348.4,361.1 L1350.0,366.3" stroke="#a2a2a2" stroke-width="32.0"/><path d="M1348.4,361.1 L1350.0,366.3 L1351.5,371.3 L1352.9,375.9" stroke="#9f9f9f" stroke-width="32.0"/><path d="M1351.5,371.3 L1352.9,375.9 L1354.0,380.0 L1354.9,383.6" stroke="#9c9c9c" stroke-width="32.0"/><path d="M1354.0,380.0 L1354.9,383.6 L1355.6,386.9 L1356.1,389.8" stroke="#9a9a9a" stroke-width="32.0"/><path d="M1355.6,386.9 L1356.1,389.8 L1356.4,392.5 L1356.6,394.8" stroke="#999999" stroke-width="32.0"/><path d="M1356.4,392.5 L1356.6,394.8 L1356.7,396.9 L1356.8,398.6" stroke="#979797" stroke-width="32.0"/><path d="M1356.7,396.9 L1356.8,398.6 L1357.0,400.0" stroke="#969696" stroke-width="32.0" stroke-linecap="round"/><path d="M1141.6,263.5 L1143.2,262.6 L1145.4,261.4 L1148.3,259.9 L1151.6,258.1 L1155.3,256.2 L1159.4,254.3 L1163.6,252.6 L1167.9,251.1 L1172.0,250.0 L1175.9,249.1 L1179.9,248.3 L1184.0,247.7 L1188.2,247.2 L1192.6,246.8 L1197.1,246.5 L1201.9,246.4 L1206.8,246.4 L1212.0,246.5 L1217.5,246.8 L1223.1,247.1 L1228.9,247.7 L1234.6,248.3 L1240.3,249.2 L1245.8,250.2 L1251.1,251.4 L1256.2,252.7 L1261.3,254.1 L1266.4,255.8 L1271.5,257.6 L1276.6,259.7 L1281.7,262.0 L1286.7,264.6 L1291.6,267.4 L1296.6,270.4 L1301.6,273.7 L1306.6,277.1 L1311.4,280.8 L1316.2,284.8 L1320.8,288.9 L1325.2,293.3 L1329.4,297.9 L1333.3,302.7 L1337.0,307.7 L1340.6,312.9 L1343.9,318.0 L1347.0,323.3 L1349.9,328.5 L1352.6,333.7 L1355.2,339.3 L1357.6,345.1 L1359.8,350.9 L1361.8,356.7 L1363.5,362.2 L1365.0,367.4 L1366.4,372.1 L1367.6,376.3 L1368.6,380.4 L1369.4,384.3 L1370.0,387.9 L1370.4,391.1 L1370.6,393.7 L1370.8,395.9 L1370.9,397.3 L1371.0,398.4" stroke="#000" stroke-opacity="0.35" stroke-width="4.5" filter="url(#b1)"/><path d="M1154.4,288.5 L1156.4,287.5 L1158.9,286.1 L1161.7,284.6 L1164.6,283.0 L1167.7,281.5 L1170.7,280.1 L1173.5,278.9 L1176.1,278.1 L1178.8,277.3 L1181.8,276.6 L1184.8,276.1 L1187.9,275.6 L1191.1,275.2 L1194.6,274.9 L1198.2,274.7 L1202.1,274.6 L1206.5,274.6 L1211.1,274.7 L1216.0,274.9 L1221.0,275.2 L1226.0,275.7 L1230.9,276.2 L1235.7,276.9 L1240.2,277.8 L1244.6,278.8 L1248.9,279.9 L1253.2,281.1 L1257.3,282.4 L1261.4,283.9 L1265.4,285.5 L1269.3,287.3 L1273.3,289.4 L1277.4,291.7 L1281.6,294.3 L1285.8,297.0 L1289.9,299.9 L1294.0,302.9 L1297.8,306.1 L1301.4,309.4 L1304.8,312.7 L1308.0,316.2 L1311.1,320.1 L1314.1,324.1 L1317.1,328.4 L1319.9,332.8 L1322.6,337.3 L1325.1,341.8 L1327.4,346.3 L1329.5,350.7 L1331.4,355.4 L1333.3,360.4 L1335.0,365.4 L1336.6,370.5 L1338.0,375.3 L1339.3,379.8 L1340.4,383.7 L1341.2,386.8 L1341.7,389.4 L1342.1,391.8 L1342.4,393.9 L1342.5,395.9 L1342.7,397.9 L1342.8,399.9 L1343.0,401.6" stroke="#000" stroke-opacity="0.35" stroke-width="4.5" filter="url(#b1)"/><path d="M1143.3,266.9 L1145.0,266.0 L1147.3,264.8 L1150.1,263.2 L1153.4,261.5 L1157.0,259.6 L1160.9,257.8 L1165.0,256.2 L1169.0,254.8 L1172.9,253.8 L1176.7,252.9 L1180.5,252.1 L1184.5,251.5 L1188.6,251.0 L1192.9,250.6 L1197.3,250.4 L1201.9,250.3 L1206.8,250.3 L1211.9,250.4 L1217.3,250.6 L1222.8,251.0 L1228.5,251.5 L1234.1,252.1 L1239.7,253.0 L1245.1,254.0 L1250.2,255.1 L1255.2,256.4 L1260.2,257.8 L1265.2,259.4 L1270.1,261.2 L1275.1,263.2 L1280.0,265.5 L1284.9,268.0 L1289.7,270.7 L1294.6,273.7 L1299.4,276.8 L1304.3,280.2 L1309.0,283.8 L1313.7,287.7 L1318.2,291.7 L1322.4,295.9 L1326.5,300.4 L1330.3,305.1 L1333.9,310.0 L1337.4,315.0 L1340.6,320.1 L1343.6,325.2 L1346.5,330.3 L1349.2,335.4 L1351.7,340.9 L1354.1,346.5 L1356.2,352.2 L1358.1,357.9 L1359.8,363.3 L1361.4,368.5 L1362.7,373.1 L1363.9,377.3 L1364.9,381.3 L1365.7,385.0 L1366.2,388.4 L1366.6,391.4 L1366.8,394.0 L1366.9,396.2 L1367.0,397.7 L1367.2,398.9 M1145.7,271.4 L1147.4,270.6 L1149.7,269.3 L1152.5,267.7 L1155.8,266.0 L1159.3,264.2 L1163.0,262.5 L1166.8,261.0 L1170.5,259.7 L1174.1,258.7 L1177.7,257.9 L1181.4,257.2 L1185.2,256.5 L1189.1,256.1 L1193.2,255.7 L1197.5,255.5 L1201.9,255.4 L1206.7,255.4 L1211.7,255.5 L1217.0,255.7 L1222.5,256.1 L1228.0,256.6 L1233.4,257.2 L1238.8,258.0 L1244.0,259.0 L1249.0,260.1 L1253.9,261.3 L1258.7,262.7 L1263.5,264.2 L1268.3,266.0 L1273.0,267.9 L1277.7,270.1 L1282.4,272.5 L1287.1,275.1 L1291.8,278.0 L1296.6,281.1 L1301.3,284.4 L1305.9,287.9 L1310.3,291.5 L1314.6,295.4 L1318.7,299.5 L1322.6,303.7 L1326.2,308.3 L1329.8,313.0 L1333.1,317.8 L1336.2,322.7 L1339.2,327.7 L1342.0,332.7 L1344.6,337.7 L1347.0,342.9 L1349.3,348.4 L1351.4,353.9 L1353.2,359.5 L1354.9,364.8 L1356.4,369.9 L1357.8,374.5 L1358.9,378.7 L1359.9,382.4 L1360.6,386.0 L1361.1,389.1 L1361.5,392.0 L1361.7,394.4 L1361.8,396.5 L1361.9,398.1 L1362.1,399.4 M1148.0,276.0 L1149.8,275.1 L1152.2,273.8 L1155.0,272.2 L1158.1,270.6 L1161.5,268.8 L1165.0,267.2 L1168.5,265.8 L1172.0,264.6 L1175.4,263.7 L1178.8,262.9 L1182.3,262.2 L1185.9,261.6 L1189.7,261.2 L1193.6,260.8 L1197.7,260.6 L1202.0,260.5 L1206.6,260.5 L1211.6,260.6 L1216.7,260.8 L1222.1,261.2 L1227.4,261.7 L1232.8,262.3 L1238.0,263.1 L1243.0,264.0 L1247.8,265.1 L1252.6,266.3 L1257.3,267.6 L1261.9,269.1 L1266.4,270.8 L1271.0,272.6 L1275.5,274.7 L1280.0,277.0 L1284.5,279.6 L1289.1,282.3 L1293.7,285.3 L1298.2,288.5 L1302.7,291.9 L1307.0,295.4 L1311.1,299.1 L1315.0,303.0 L1318.7,307.1 L1322.2,311.4 L1325.6,315.9 L1328.8,320.6 L1331.9,325.4 L1334.8,330.3 L1337.5,335.2 L1340.0,340.0 L1342.4,345.0 L1344.5,350.3 L1346.5,355.7 L1348.4,361.1 L1350.0,366.3 L1351.5,371.3 L1352.9,375.9 L1354.0,380.0 L1354.9,383.6 L1355.6,386.9 L1356.1,389.8 L1356.4,392.5 L1356.6,394.8 L1356.7,396.9 L1356.8,398.6 L1357.0,400.0 M1150.3,280.6 L1152.2,279.6 L1154.6,278.3 L1157.4,276.7 L1160.5,275.1 L1163.7,273.4 L1167.1,271.9 L1170.3,270.6 L1173.5,269.5 L1176.6,268.7 L1179.9,267.9 L1183.2,267.2 L1186.7,266.7 L1190.2,266.3 L1193.9,265.9 L1197.9,265.7 L1202.1,265.6 L1206.6,265.6 L1211.4,265.7 L1216.5,266.0 L1221.7,266.3 L1226.9,266.8 L1232.1,267.4 L1237.1,268.1 L1242.0,269.0 L1246.6,270.1 L1251.3,271.2 L1255.8,272.5 L1260.2,273.9 L1264.6,275.5 L1268.9,277.3 L1273.3,279.3 L1277.6,281.5 L1282.0,284.0 L1286.4,286.7 L1290.8,289.6 L1295.2,292.6 L1299.5,295.9 L1303.7,299.3 L1307.6,302.9 L1311.3,306.5 L1314.8,310.4 L1318.2,314.6 L1321.4,318.9 L1324.5,323.5 L1327.5,328.1 L1330.3,332.8 L1333.0,337.6 L1335.4,342.3 L1337.7,347.1 L1339.8,352.1 L1341.7,357.4 L1343.5,362.7 L1345.1,367.8 L1346.6,372.8 L1347.9,377.3 L1349.1,381.3 L1349.9,384.7 L1350.6,387.8 L1351.0,390.5 L1351.3,393.0 L1351.5,395.2 L1351.6,397.2 L1351.7,399.1 L1351.9,400.6 M1152.7,285.1 L1154.6,284.1 L1157.1,282.8 L1159.9,281.2 L1162.9,279.6 L1166.0,278.0 L1169.1,276.6 L1172.1,275.3 L1175.0,274.4 L1177.9,273.6 L1181.0,272.9 L1184.1,272.3 L1187.4,271.8 L1190.7,271.3 L1194.3,271.0 L1198.1,270.8 L1202.1,270.7 L1206.5,270.7 L1211.2,270.9 L1216.2,271.1 L1221.3,271.4 L1226.4,271.8 L1231.4,272.4 L1236.3,273.2 L1240.9,274.0 L1245.5,275.0 L1249.9,276.2 L1254.3,277.4 L1258.6,278.8 L1262.8,280.3 L1266.9,282.0 L1271.0,283.9 L1275.1,286.0 L1279.4,288.4 L1283.7,291.0 L1288.0,293.8 L1292.2,296.8 L1296.3,299.9 L1300.3,303.2 L1304.1,306.6 L1307.6,310.1 L1310.9,313.7 L1314.1,317.7 L1317.3,321.9 L1320.3,326.3 L1323.2,330.8 L1325.9,335.4 L1328.5,340.0 L1330.8,344.6 L1333.0,349.1 L1335.0,354.0 L1336.9,359.1 L1338.6,364.3 L1340.3,369.3 L1341.7,374.2 L1343.0,378.7 L1344.1,382.7 L1344.9,385.9 L1345.5,388.7 L1345.9,391.3 L1346.2,393.6 L1346.4,395.6 L1346.5,397.6 L1346.6,399.5 L1346.8,401.1" stroke="#000" stroke-opacity="0.28" stroke-width="1.3"/><path d="M1144.5,269.2 L1146.2,268.3 L1148.5,267.0 L1151.3,265.5 L1154.6,263.7 L1158.1,261.9 L1161.9,260.2 L1165.9,258.6 L1169.8,257.2 L1173.5,256.2 L1177.2,255.4 L1181.0,254.6 L1184.9,254.0 L1188.9,253.5 L1193.0,253.2 L1197.4,252.9 L1201.9,252.8 L1206.7,252.8 L1211.8,252.9 L1217.2,253.2 L1222.6,253.5 L1228.2,254.0 L1233.8,254.7 L1239.3,255.5 L1244.5,256.5 L1249.6,257.6 L1254.6,258.9 L1259.5,260.3 L1264.4,261.8 L1269.2,263.6 L1274.0,265.6 L1278.9,267.8 L1283.6,270.2 L1288.4,272.9 L1293.2,275.8 L1298.0,279.0 L1302.8,282.3 L1307.5,285.8 L1312.0,289.6 L1316.4,293.6 L1320.6,297.7 L1324.5,302.1 L1328.3,306.7 L1331.8,311.5 L1335.2,316.4 L1338.4,321.4 L1341.4,326.5 L1344.2,331.5 L1346.9,336.6 L1349.4,341.9 L1351.7,347.5 L1353.8,353.1 L1355.7,358.7 L1357.4,364.1 L1358.9,369.2 L1360.2,373.8 L1361.4,378.0 L1362.4,381.9 L1363.1,385.5 L1363.7,388.8 L1364.0,391.7 L1364.2,394.2 L1364.4,396.3 L1364.5,397.9 L1364.6,399.2 M1146.8,273.7 L1148.6,272.8 L1150.9,271.5 L1153.8,270.0 L1156.9,268.3 L1160.4,266.5 L1164.0,264.9 L1167.7,263.4 L1171.3,262.1 L1174.8,261.2 L1178.3,260.4 L1181.9,259.7 L1185.6,259.1 L1189.4,258.6 L1193.4,258.3 L1197.6,258.0 L1202.0,257.9 L1206.7,257.9 L1211.7,258.1 L1216.9,258.3 L1222.3,258.6 L1227.7,259.1 L1233.1,259.7 L1238.4,260.5 L1243.5,261.5 L1248.4,262.6 L1253.2,263.8 L1258.0,265.2 L1262.7,266.7 L1267.4,268.4 L1272.0,270.3 L1276.6,272.4 L1281.2,274.7 L1285.8,277.3 L1290.5,280.2 L1295.1,283.2 L1299.8,286.4 L1304.3,289.9 L1308.7,293.5 L1312.9,297.3 L1316.9,301.2 L1320.6,305.4 L1324.2,309.8 L1327.7,314.4 L1330.9,319.2 L1334.1,324.1 L1337.0,329.0 L1339.7,333.9 L1342.3,338.9 L1344.7,344.0 L1346.9,349.3 L1349.0,354.8 L1350.8,360.3 L1352.5,365.6 L1354.0,370.6 L1355.3,375.2 L1356.5,379.3 L1357.4,383.0 L1358.1,386.4 L1358.6,389.5 L1358.9,392.2 L1359.1,394.6 L1359.3,396.7 L1359.4,398.4 L1359.5,399.7 M1149.2,278.3 L1151.0,277.3 L1153.4,276.0 L1156.2,274.5 L1159.3,272.8 L1162.6,271.1 L1166.0,269.5 L1169.4,268.2 L1172.7,267.1 L1176.0,266.2 L1179.4,265.4 L1182.8,264.7 L1186.3,264.2 L1189.9,263.7 L1193.8,263.4 L1197.8,263.2 L1202.0,263.1 L1206.6,263.1 L1211.5,263.2 L1216.6,263.4 L1221.9,263.7 L1227.2,264.2 L1232.4,264.8 L1237.6,265.6 L1242.5,266.5 L1247.2,267.6 L1251.9,268.8 L1256.5,270.1 L1261.0,271.5 L1265.5,273.1 L1270.0,275.0 L1274.4,277.0 L1278.8,279.3 L1283.2,281.8 L1287.8,284.5 L1292.3,287.4 L1296.7,290.6 L1301.1,293.9 L1305.3,297.4 L1309.4,301.0 L1313.1,304.8 L1316.7,308.7 L1320.2,313.0 L1323.5,317.4 L1326.7,322.0 L1329.7,326.8 L1332.5,331.6 L1335.2,336.4 L1337.7,341.1 L1340.0,346.0 L1342.1,351.2 L1344.1,356.5 L1345.9,361.9 L1347.6,367.1 L1349.1,372.1 L1350.4,376.6 L1351.5,380.7 L1352.4,384.2 L1353.1,387.3 L1353.5,390.2 L1353.8,392.8 L1354.0,395.0 L1354.2,397.1 L1354.3,398.8 L1354.5,400.3 M1151.5,282.8 L1153.4,281.9 L1155.9,280.5 L1158.6,279.0 L1161.7,277.4 L1164.9,275.7 L1168.1,274.2 L1171.2,272.9 L1174.2,272.0 L1177.3,271.1 L1180.4,270.4 L1183.7,269.8 L1187.0,269.2 L1190.5,268.8 L1194.1,268.5 L1198.0,268.3 L1202.1,268.2 L1206.5,268.2 L1211.3,268.3 L1216.3,268.5 L1221.5,268.8 L1226.7,269.3 L1231.8,269.9 L1236.7,270.6 L1241.5,271.5 L1246.1,272.6 L1250.6,273.7 L1255.0,275.0 L1259.4,276.4 L1263.7,277.9 L1267.9,279.7 L1272.1,281.6 L1276.4,283.8 L1280.7,286.2 L1285.0,288.8 L1289.4,291.7 L1293.7,294.7 L1297.9,297.9 L1302.0,301.2 L1305.8,304.7 L1309.4,308.3 L1312.8,312.1 L1316.2,316.1 L1319.3,320.4 L1322.4,324.9 L1325.3,329.4 L1328.1,334.1 L1330.7,338.8 L1333.1,343.4 L1335.3,348.1 L1337.4,353.1 L1339.3,358.2 L1341.1,363.5 L1342.7,368.6 L1344.2,373.5 L1345.5,378.0 L1346.6,382.0 L1347.4,385.3 L1348.0,388.3 L1348.5,390.9 L1348.7,393.3 L1348.9,395.4 L1349.1,397.4 L1349.2,399.3 L1349.4,400.8" stroke="#fff" stroke-opacity="0.15" stroke-width="1.3"/><path d="M1144.8,269.7 L1146.5,268.9 L1148.8,267.6 L1151.6,266.0 L1154.9,264.3 L1158.4,262.5 L1162.2,260.8 L1166.1,259.2 L1170.0,257.9 L1173.7,256.9 L1177.3,256.0 L1181.1,255.3 L1185.0,254.6 L1188.9,254.2 L1193.1,253.8 L1197.4,253.6 L1201.9,253.5 L1206.7,253.5 L1211.8,253.6 L1217.1,253.8 L1222.6,254.2 L1228.2,254.7 L1233.7,255.3 L1239.2,256.1 L1244.4,257.1 L1249.5,258.2 L1254.4,259.5 L1259.3,260.9 L1264.2,262.4 L1269.0,264.2 L1273.8,266.2 L1278.6,268.4 L1283.3,270.8 L1288.1,273.5 L1292.9,276.4 L1297.7,279.5 L1302.4,282.8 L1307.1,286.4 L1311.6,290.1 L1316.0,294.0 L1320.1,298.1 L1324.0,302.5 L1327.8,307.1 L1331.3,311.8 L1334.7,316.7 L1337.9,321.7 L1340.9,326.8 L1343.7,331.8 L1346.3,336.9 L1348.8,342.1 L1351.1,347.7 L1353.2,353.3 L1355.1,358.9 L1356.8,364.3 L1358.3,369.4 L1359.6,374.0 L1360.8,378.2 L1361.8,382.0 L1362.5,385.6 L1363.0,388.9 L1363.4,391.8 L1363.6,394.3 L1363.7,396.4 L1363.9,398.0 L1364.0,399.2" stroke="#fff" stroke-opacity="0.1" stroke-width="9.6" filter="url(#b2)"/></g><g fill="none" stroke-linejoin="round"><path d="M1364.0,402.0 L1364.4,403.8 L1364.9,406.2 L1365.6,409.1 L1366.3,412.2 L1367.1,415.6 L1367.8,418.9" stroke="#a2a2a2" stroke-width="20.0" stroke-linecap="round"/><path d="M1367.1,415.6 L1367.8,418.9 L1368.4,422.1 L1369.0,425.0 L1369.5,427.7 L1370.0,430.4 L1370.4,433.1" stroke="#9b9b9b" stroke-width="20.0"/><path d="M1370.0,430.4 L1370.4,433.1 L1370.9,435.7 L1371.3,438.2 L1371.6,440.6 L1371.8,442.9 L1372.0,445.0" stroke="#959595" stroke-width="20.0"/><path d="M1371.8,442.9 L1372.0,445.0 L1372.1,447.0 L1372.0,448.8 L1371.9,450.6 L1371.7,452.2 L1371.5,453.7" stroke="#909090" stroke-width="20.0"/><path d="M1371.7,452.2 L1371.5,453.7 L1371.3,455.0 L1371.1,456.1 L1371.0,457.0" stroke="#8d8d8d" stroke-width="20.0" stroke-linecap="round"/><path d="M1372.6,400.1 L1373.0,401.9 L1373.5,404.3 L1374.2,407.1 L1374.9,410.3 L1375.6,413.7 L1376.4,417.1 L1377.1,420.4 L1377.6,423.4 L1378.2,426.1 L1378.7,428.9 L1379.1,431.6 L1379.6,434.3 L1380.0,437.0 L1380.3,439.6 L1380.6,442.1 L1380.8,444.5 L1380.9,446.9 L1380.8,449.3 L1380.6,451.4 L1380.4,453.4 L1380.2,455.0 L1380.0,456.4 L1379.8,457.3 L1379.7,458.0" stroke="#000" stroke-opacity="0.35" stroke-width="2.8" filter="url(#b1)"/><path d="M1355.4,403.9 L1355.8,405.7 L1356.4,408.2 L1357.0,411.0 L1357.7,414.2 L1358.5,417.5 L1359.2,420.7 L1359.8,423.9 L1360.4,426.6 L1360.8,429.3 L1361.3,431.9 L1361.8,434.5 L1362.2,437.1 L1362.5,439.5 L1362.8,441.7 L1363.1,443.7 L1363.2,445.5 L1363.3,447.0 L1363.2,448.4 L1363.1,449.8 L1363.0,451.1 L1362.8,452.4 L1362.6,453.7 L1362.4,454.9 L1362.3,456.0" stroke="#000" stroke-opacity="0.35" stroke-width="2.8" filter="url(#b1)"/><path d="M1370.2,400.6 L1370.6,402.4 L1371.2,404.8 L1371.8,407.7 L1372.6,410.9 L1373.3,414.2 L1374.0,417.6 L1374.7,420.8 L1375.3,423.8 L1375.8,426.6 L1376.3,429.3 L1376.8,432.0 L1377.2,434.7 L1377.6,437.3 L1377.9,439.9 L1378.2,442.3 L1378.4,444.6 L1378.5,447.0 L1378.4,449.2 L1378.2,451.2 L1378.0,453.1 L1377.8,454.7 L1377.6,456.0 L1377.4,457.0 L1377.4,457.8 M1367.1,401.3 L1367.5,403.1 L1368.1,405.5 L1368.7,408.4 L1369.4,411.6 L1370.2,414.9 L1370.9,418.3 L1371.6,421.5 L1372.1,424.4 L1372.6,427.1 L1373.1,429.8 L1373.6,432.5 L1374.0,435.2 L1374.4,437.8 L1374.8,440.2 L1375.0,442.6 L1375.2,444.8 L1375.3,447.0 L1375.2,449.0 L1375.1,450.9 L1374.9,452.7 L1374.6,454.2 L1374.4,455.5 L1374.3,456.6 L1374.2,457.4 M1364.0,402.0 L1364.4,403.8 L1364.9,406.2 L1365.6,409.1 L1366.3,412.2 L1367.1,415.6 L1367.8,418.9 L1368.4,422.1 L1369.0,425.0 L1369.5,427.7 L1370.0,430.4 L1370.4,433.1 L1370.9,435.7 L1371.3,438.2 L1371.6,440.6 L1371.8,442.9 L1372.0,445.0 L1372.1,447.0 L1372.0,448.8 L1371.9,450.6 L1371.7,452.2 L1371.5,453.7 L1371.3,455.0 L1371.1,456.1 L1371.0,457.0 M1360.9,402.7 L1361.3,404.5 L1361.8,406.9 L1362.5,409.8 L1363.2,412.9 L1363.9,416.3 L1364.6,419.6 L1365.3,422.7 L1365.9,425.6 L1366.3,428.3 L1366.8,431.0 L1367.3,433.6 L1367.7,436.2 L1368.1,438.7 L1368.4,441.0 L1368.6,443.2 L1368.8,445.2 L1368.9,447.0 L1368.8,448.7 L1368.7,450.3 L1368.5,451.8 L1368.3,453.3 L1368.1,454.5 L1367.9,455.7 L1367.8,456.6 M1357.8,403.4 L1358.2,405.2 L1358.7,407.6 L1359.4,410.5 L1360.1,413.6 L1360.8,417.0 L1361.5,420.3 L1362.2,423.4 L1362.7,426.2 L1363.2,428.8 L1363.7,431.5 L1364.1,434.1 L1364.6,436.7 L1364.9,439.1 L1365.2,441.4 L1365.5,443.5 L1365.6,445.4 L1365.7,447.0 L1365.6,448.5 L1365.5,450.0 L1365.3,451.4 L1365.1,452.8 L1364.9,454.0 L1364.8,455.2 L1364.6,456.2" stroke="#000" stroke-opacity="0.28" stroke-width="1.3"/><path d="M1368.7,401.0 L1369.1,402.7 L1369.6,405.1 L1370.3,408.0 L1371.0,411.2 L1371.7,414.6 L1372.5,417.9 L1373.1,421.2 L1373.7,424.1 L1374.2,426.8 L1374.7,429.6 L1375.2,432.3 L1375.6,434.9 L1376.0,437.5 L1376.3,440.0 L1376.6,442.4 L1376.8,444.7 L1376.9,447.0 L1376.8,449.1 L1376.7,451.1 L1376.4,452.9 L1376.2,454.4 L1376.0,455.8 L1375.9,456.8 L1375.8,457.6 M1365.6,401.7 L1366.0,403.4 L1366.5,405.8 L1367.2,408.7 L1367.9,411.9 L1368.6,415.2 L1369.3,418.6 L1370.0,421.8 L1370.6,424.7 L1371.1,427.4 L1371.6,430.1 L1372.0,432.8 L1372.5,435.4 L1372.8,438.0 L1373.2,440.4 L1373.4,442.7 L1373.6,444.9 L1373.7,447.0 L1373.6,448.9 L1373.5,450.8 L1373.3,452.5 L1373.1,454.0 L1372.9,455.3 L1372.7,456.3 L1372.6,457.2 M1362.4,402.3 L1362.8,404.1 L1363.4,406.6 L1364.0,409.4 L1364.8,412.6 L1365.5,415.9 L1366.2,419.3 L1366.9,422.4 L1367.4,425.3 L1367.9,428.0 L1368.4,430.7 L1368.9,433.3 L1369.3,435.9 L1369.7,438.4 L1370.0,440.8 L1370.2,443.1 L1370.4,445.1 L1370.5,447.0 L1370.4,448.8 L1370.3,450.5 L1370.1,452.0 L1369.9,453.5 L1369.7,454.8 L1369.5,455.9 L1369.4,456.8 M1359.3,403.0 L1359.7,404.8 L1360.3,407.3 L1360.9,410.1 L1361.6,413.3 L1362.4,416.6 L1363.1,419.9 L1363.7,423.1 L1364.3,425.9 L1364.8,428.6 L1365.3,431.2 L1365.7,433.9 L1366.1,436.4 L1366.5,438.9 L1366.8,441.2 L1367.1,443.4 L1367.2,445.3 L1367.3,447.0 L1367.2,448.6 L1367.1,450.2 L1366.9,451.6 L1366.7,453.0 L1366.5,454.3 L1366.4,455.5 L1366.2,456.4" stroke="#fff" stroke-opacity="0.15" stroke-width="1.3"/></g><g fill="none" stroke-linejoin="round"><path d="M1353.0,482.0 L1352.9,484.5 L1352.9,487.9 L1352.9,491.9 L1352.9,496.3" stroke="#808080" stroke-width="24.0"/><path d="M1352.9,491.9 L1352.9,496.3 L1352.7,501.0 L1352.4,505.8 L1351.8,510.6" stroke="#878787" stroke-width="24.0"/><path d="M1352.4,505.8 L1351.8,510.6 L1351.0,515.0 L1349.9,519.3 L1348.5,523.7" stroke="#90908f" stroke-width="24.0"/><path d="M1349.9,519.3 L1348.5,523.7 L1347.0,528.2 L1345.2,532.7 L1343.4,537.2" stroke="#989897" stroke-width="24.0"/><path d="M1345.2,532.7 L1343.4,537.2 L1341.3,541.6 L1339.2,545.9 L1337.0,550.0" stroke="#a1a19f" stroke-width="24.0"/><path d="M1339.2,545.9 L1337.0,550.0 L1334.7,554.0 L1332.1,558.0 L1329.5,562.0" stroke="#a4a4a2" stroke-width="24.0"/><path d="M1332.1,558.0 L1329.5,562.0 L1326.7,565.8 L1323.8,569.6 L1320.9,573.2" stroke="#a3a3a1" stroke-width="24.0"/><path d="M1323.8,569.6 L1320.9,573.2 L1317.9,576.7 L1315.0,580.0 L1312.0,583.2" stroke="#a1a19f" stroke-width="24.0"/><path d="M1315.0,580.0 L1312.0,583.2 L1308.8,586.3 L1305.5,589.3 L1302.2,592.2" stroke="#a0a09e" stroke-width="24.0"/><path d="M1305.5,589.3 L1302.2,592.2 L1299.0,594.9 L1295.8,597.5 L1292.8,599.8" stroke="#9f9f9d" stroke-width="24.0"/><path d="M1295.8,597.5 L1292.8,599.8 L1290.0,602.0 L1287.3,604.0 L1284.6,605.8" stroke="#9d9d9b" stroke-width="24.0"/><path d="M1287.3,604.0 L1284.6,605.8 L1281.9,607.4 L1279.4,608.9 L1277.1,610.2" stroke="#9c9c9a" stroke-width="24.0"/><path d="M1279.4,608.9 L1277.1,610.2 L1275.1,611.3 L1273.3,612.2 L1272.0,613.0" stroke="#9c9c9a" stroke-width="24.0"/><path d="M1273.3,612.2 L1272.0,613.0" stroke="#9b9b99" stroke-width="24.0" stroke-linecap="round"/><path d="M1363.6,482.3 L1363.5,484.7 L1363.5,487.9 L1363.5,491.9 L1363.4,496.6 L1363.3,501.6 L1362.9,506.8 L1362.3,512.1 L1361.3,517.3 L1360.0,522.2 L1358.6,527.0 L1356.9,531.8 L1355.0,536.6 L1353.0,541.4 L1350.9,546.1 L1348.6,550.7 L1346.2,555.1 L1343.7,559.5 L1341.0,563.8 L1338.1,568.0 L1335.2,572.1 L1332.1,576.1 L1329.0,579.9 L1325.9,583.6 L1322.8,587.1 L1319.5,590.6 L1316.1,594.0 L1312.6,597.2 L1309.1,600.2 L1305.7,603.1 L1302.4,605.7 L1299.3,608.2 L1296.3,610.4 L1293.3,612.6 L1290.3,614.7 L1287.4,616.5 L1284.7,618.0 L1282.2,619.4 L1280.1,620.6 L1278.5,621.4 L1277.3,622.1" stroke="#000" stroke-opacity="0.35" stroke-width="3.4" filter="url(#b1)"/><path d="M1342.4,481.7 L1342.4,484.4 L1342.4,487.9 L1342.4,491.8 L1342.3,496.1 L1342.2,500.5 L1341.9,504.9 L1341.4,509.0 L1340.7,512.7 L1339.7,516.4 L1338.5,520.5 L1337.1,524.6 L1335.5,528.7 L1333.7,532.9 L1331.8,537.0 L1329.8,541.0 L1327.8,544.9 L1325.6,548.6 L1323.3,552.3 L1320.8,555.9 L1318.2,559.5 L1315.5,563.0 L1312.8,566.5 L1310.0,569.8 L1307.2,572.9 L1304.4,575.8 L1301.5,578.7 L1298.5,581.5 L1295.4,584.2 L1292.3,586.7 L1289.3,589.2 L1286.3,591.5 L1283.7,593.6 L1281.2,595.3 L1278.9,596.9 L1276.5,598.4 L1274.2,599.7 L1272.0,600.9 L1270.0,602.0 L1268.2,603.0 L1266.7,603.9" stroke="#000" stroke-opacity="0.35" stroke-width="3.4" filter="url(#b1)"/><path d="M1360.7,482.2 L1360.6,484.6 L1360.6,487.9 L1360.6,491.9 L1360.6,496.5 L1360.4,501.4 L1360.0,506.5 L1359.4,511.7 L1358.5,516.7 L1357.3,521.4 L1355.8,526.1 L1354.2,530.8 L1352.4,535.6 L1350.4,540.2 L1348.3,544.9 L1346.0,549.4 L1343.7,553.7 L1341.2,558.0 L1338.6,562.2 L1335.8,566.4 L1332.8,570.4 L1329.9,574.3 L1326.8,578.1 L1323.8,581.7 L1320.7,585.2 L1317.5,588.6 L1314.1,591.9 L1310.7,595.0 L1307.2,598.0 L1303.9,600.8 L1300.6,603.5 L1297.5,605.9 L1294.6,608.1 L1291.7,610.3 L1288.7,612.2 L1285.9,614.0 L1283.2,615.5 L1280.8,616.9 L1278.7,618.0 L1277.1,618.9 L1275.8,619.7 M1356.8,482.1 L1356.8,484.6 L1356.8,487.9 L1356.8,491.9 L1356.7,496.4 L1356.6,501.2 L1356.2,506.2 L1355.6,511.1 L1354.7,515.8 L1353.6,520.4 L1352.2,524.9 L1350.6,529.5 L1348.8,534.1 L1346.9,538.7 L1344.8,543.2 L1342.6,547.6 L1340.4,551.9 L1337.9,556.0 L1335.3,560.1 L1332.6,564.2 L1329.8,568.1 L1326.8,571.9 L1323.9,575.6 L1320.9,579.2 L1317.8,582.6 L1314.7,585.9 L1311.4,589.1 L1308.1,592.2 L1304.7,595.1 L1301.4,597.9 L1298.2,600.5 L1295.2,602.9 L1292.3,605.1 L1289.5,607.1 L1286.7,609.0 L1283.9,610.7 L1281.3,612.2 L1279.0,613.5 L1276.9,614.7 L1275.2,615.6 L1273.9,616.3 M1353.0,482.0 L1352.9,484.5 L1352.9,487.9 L1352.9,491.9 L1352.9,496.3 L1352.7,501.0 L1352.4,505.8 L1351.8,510.6 L1351.0,515.0 L1349.9,519.3 L1348.5,523.7 L1347.0,528.2 L1345.2,532.7 L1343.4,537.2 L1341.3,541.6 L1339.2,545.9 L1337.0,550.0 L1334.7,554.0 L1332.1,558.0 L1329.5,562.0 L1326.7,565.8 L1323.8,569.6 L1320.9,573.2 L1317.9,576.7 L1315.0,580.0 L1312.0,583.2 L1308.8,586.3 L1305.5,589.3 L1302.2,592.2 L1299.0,594.9 L1295.8,597.5 L1292.8,599.8 L1290.0,602.0 L1287.3,604.0 L1284.6,605.8 L1281.9,607.4 L1279.4,608.9 L1277.1,610.2 L1275.1,611.3 L1273.3,612.2 L1272.0,613.0 M1349.2,481.9 L1349.1,484.5 L1349.1,487.9 L1349.1,491.8 L1349.0,496.2 L1348.9,500.8 L1348.6,505.5 L1348.0,510.0 L1347.3,514.2 L1346.2,518.3 L1344.9,522.5 L1343.4,526.9 L1341.7,531.2 L1339.8,535.6 L1337.9,539.9 L1335.8,544.1 L1333.6,548.1 L1331.4,552.1 L1328.9,555.9 L1326.3,559.8 L1323.6,563.5 L1320.8,567.2 L1317.9,570.7 L1315.0,574.2 L1312.2,577.4 L1309.2,580.5 L1306.2,583.5 L1303.0,586.5 L1299.8,589.3 L1296.6,591.9 L1293.4,594.5 L1290.5,596.8 L1287.7,598.9 L1285.1,600.8 L1282.5,602.6 L1280.0,604.1 L1277.5,605.5 L1275.3,606.8 L1273.2,607.9 L1271.5,608.9 L1270.1,609.7 M1345.3,481.8 L1345.2,484.4 L1345.2,487.9 L1345.2,491.8 L1345.2,496.1 L1345.0,500.6 L1344.7,505.1 L1344.2,509.4 L1343.5,513.3 L1342.5,517.2 L1341.2,521.3 L1339.8,525.6 L1338.1,529.8 L1336.3,534.1 L1334.4,538.2 L1332.4,542.3 L1330.3,546.3 L1328.1,550.1 L1325.7,553.8 L1323.2,557.6 L1320.5,561.2 L1317.8,564.8 L1315.0,568.3 L1312.1,571.6 L1309.3,574.8 L1306.5,577.8 L1303.5,580.8 L1300.4,583.6 L1297.3,586.3 L1294.1,589.0 L1291.0,591.5 L1288.1,593.8 L1285.4,595.9 L1282.9,597.7 L1280.4,599.3 L1278.0,600.8 L1275.6,602.2 L1273.4,603.4 L1271.4,604.5 L1269.6,605.5 L1268.2,606.3" stroke="#000" stroke-opacity="0.28" stroke-width="1.3"/><path d="M1358.8,482.2 L1358.7,484.6 L1358.7,487.9 L1358.7,491.9 L1358.6,496.4 L1358.5,501.3 L1358.1,506.4 L1357.5,511.4 L1356.6,516.3 L1355.4,520.9 L1354.0,525.5 L1352.4,530.2 L1350.6,534.8 L1348.6,539.5 L1346.5,544.0 L1344.3,548.5 L1342.0,552.8 L1339.6,557.0 L1337.0,561.2 L1334.2,565.3 L1331.3,569.3 L1328.4,573.1 L1325.3,576.8 L1322.3,580.4 L1319.3,583.9 L1316.1,587.2 L1312.8,590.5 L1309.4,593.6 L1306.0,596.6 L1302.6,599.4 L1299.4,602.0 L1296.3,604.4 L1293.5,606.6 L1290.6,608.7 L1287.7,610.6 L1284.9,612.4 L1282.3,613.9 L1279.9,615.2 L1277.8,616.3 L1276.2,617.3 L1274.9,618.0 M1354.9,482.1 L1354.8,484.6 L1354.8,487.9 L1354.8,491.9 L1354.8,496.4 L1354.6,501.1 L1354.3,506.0 L1353.7,510.8 L1352.9,515.4 L1351.7,519.8 L1350.4,524.3 L1348.8,528.9 L1347.0,533.4 L1345.1,537.9 L1343.1,542.4 L1340.9,546.7 L1338.7,550.9 L1336.3,555.0 L1333.7,559.1 L1331.0,563.1 L1328.2,567.0 L1325.3,570.7 L1322.4,574.4 L1319.4,577.9 L1316.4,581.3 L1313.3,584.6 L1310.1,587.7 L1306.8,590.7 L1303.5,593.6 L1300.2,596.4 L1297.0,599.0 L1294.0,601.3 L1291.2,603.5 L1288.4,605.6 L1285.6,607.4 L1282.9,609.1 L1280.4,610.5 L1278.1,611.8 L1276.0,613.0 L1274.3,613.9 L1273.0,614.7 M1351.1,481.9 L1351.0,484.5 L1351.0,487.9 L1351.0,491.9 L1351.0,496.3 L1350.8,500.9 L1350.5,505.7 L1349.9,510.3 L1349.1,514.6 L1348.0,518.8 L1346.7,523.1 L1345.2,527.5 L1343.5,532.0 L1341.6,536.4 L1339.6,540.7 L1337.5,545.0 L1335.3,549.1 L1333.0,553.0 L1330.5,557.0 L1327.9,560.9 L1325.1,564.7 L1322.3,568.4 L1319.4,572.0 L1316.5,575.4 L1313.6,578.7 L1310.6,581.9 L1307.5,584.9 L1304.3,587.9 L1301.0,590.7 L1297.8,593.4 L1294.6,596.0 L1291.6,598.3 L1288.8,600.5 L1286.2,602.4 L1283.5,604.2 L1281.0,605.8 L1278.5,607.2 L1276.2,608.5 L1274.2,609.6 L1272.4,610.6 L1271.0,611.3 M1347.2,481.8 L1347.2,484.5 L1347.2,487.9 L1347.2,491.8 L1347.1,496.2 L1347.0,500.7 L1346.7,505.3 L1346.1,509.7 L1345.4,513.7 L1344.3,517.7 L1343.1,521.9 L1341.6,526.2 L1339.9,530.5 L1338.1,534.8 L1336.1,539.1 L1334.1,543.2 L1332.0,547.2 L1329.7,551.1 L1327.3,554.9 L1324.8,558.7 L1322.1,562.4 L1319.3,566.0 L1316.5,569.5 L1313.6,572.9 L1310.7,576.1 L1307.9,579.2 L1304.8,582.1 L1301.7,585.0 L1298.5,587.8 L1295.3,590.5 L1292.2,593.0 L1289.3,595.3 L1286.5,597.4 L1284.0,599.3 L1281.5,600.9 L1279.0,602.5 L1276.6,603.9 L1274.3,605.1 L1272.3,606.2 L1270.5,607.2 L1269.1,608.0" stroke="#fff" stroke-opacity="0.15" stroke-width="1.3"/><path d="M1358.3,482.2 L1358.2,484.6 L1358.2,487.9 L1358.2,491.9 L1358.2,496.4 L1358.0,501.3 L1357.6,506.3 L1357.1,511.3 L1356.2,516.2 L1355.0,520.8 L1353.6,525.4 L1351.9,530.0 L1350.1,534.7 L1348.2,539.3 L1346.1,543.8 L1343.9,548.3 L1341.6,552.6 L1339.2,556.8 L1336.6,560.9 L1333.8,565.0 L1330.9,569.0 L1328.0,572.8 L1325.0,576.5 L1321.9,580.1 L1318.9,583.6 L1315.7,586.9 L1312.4,590.1 L1309.1,593.3 L1305.7,596.2 L1302.3,599.0 L1299.1,601.6 L1296.1,604.0 L1293.2,606.2 L1290.3,608.3 L1287.4,610.2 L1284.7,611.9 L1282.1,613.5 L1279.7,614.8 L1277.6,615.9 L1275.9,616.8 L1274.6,617.6" stroke="#fff" stroke-opacity="0.15" stroke-width="7.2" filter="url(#b2)"/></g><g fill="none" stroke-linejoin="round"><path d="M1092.0,340.0 L1094.4,338.5 L1097.4,336.6 L1101.1,334.4 L1105.2,331.8" stroke="#ce763e" stroke-width="28.0" stroke-linecap="round"/><path d="M1101.1,334.4 L1105.2,331.8 L1109.6,329.1 L1114.1,326.3 L1118.6,323.6" stroke="#dc844e" stroke-width="28.0"/><path d="M1114.1,326.3 L1118.6,323.6 L1123.0,321.0 L1127.3,318.4 L1131.8,315.6" stroke="#e6915e" stroke-width="28.0"/><path d="M1127.3,318.4 L1131.8,315.6 L1136.4,312.7 L1141.1,309.9 L1145.9,307.1" stroke="#ea9b6a" stroke-width="28.0"/><path d="M1141.1,309.9 L1145.9,307.1 L1150.6,304.5 L1155.3,302.1 L1160.0,300.0" stroke="#eea576" stroke-width="28.0"/><path d="M1155.3,302.1 L1160.0,300.0 L1164.6,298.2 L1169.2,296.6 L1173.7,295.2" stroke="#eda374" stroke-width="28.0"/><path d="M1169.2,296.6 L1173.7,295.2 L1178.2,294.0 L1182.8,293.0 L1187.5,292.1" stroke="#eda273" stroke-width="28.0"/><path d="M1182.8,293.0 L1187.5,292.1 L1192.2,291.5 L1197.0,291.0 L1202.0,290.7" stroke="#eca171" stroke-width="28.0"/><path d="M1197.0,291.0 L1202.0,290.7 L1207.2,290.7 L1212.6,290.9 L1217.9,291.2" stroke="#e89867" stroke-width="28.0"/><path d="M1212.6,290.9 L1217.9,291.2 L1223.3,291.8 L1228.4,292.4 L1233.4,293.2" stroke="#de8650" stroke-width="28.0"/><path d="M1228.4,292.4 L1233.4,293.2 L1238.0,294.0 L1242.4,295.0 L1246.7,296.3" stroke="#d97f48" stroke-width="28.0"/><path d="M1242.4,295.0 L1246.7,296.3 L1250.9,297.7 L1254.9,299.2 L1258.7,300.7" stroke="#d97f47" stroke-width="28.0"/><path d="M1254.9,299.2 L1258.7,300.7 L1262.2,302.3 L1265.3,303.7 L1268.0,305.0" stroke="#d87e47" stroke-width="28.0"/><path d="M1265.3,303.7 L1268.0,305.0 L1270.3,306.1 L1272.3,307.2 L1274.0,308.2" stroke="#d77d46" stroke-width="28.0"/><path d="M1272.3,307.2 L1274.0,308.2 L1275.4,309.2 L1276.4,310.1 L1277.2,311.1" stroke="#d07741" stroke-width="28.0"/><path d="M1276.4,310.1 L1277.2,311.1 L1277.7,312.0 L1278.0,313.0 L1277.8,314.1" stroke="#c9723c" stroke-width="28.0"/><path d="M1278.0,313.0 L1277.8,314.1 L1277.1,315.2 L1276.0,316.4 L1274.6,317.5" stroke="#c26d38" stroke-width="28.0"/><path d="M1276.0,316.4 L1274.6,317.5 L1273.2,318.6 L1271.9,319.6 L1270.7,320.4" stroke="#bb6732" stroke-width="28.0"/><path d="M1271.9,319.6 L1270.7,320.4 L1270.0,321.0" stroke="#b4622d" stroke-width="28.0" stroke-linecap="round"/><path d="M1085.5,329.5 L1087.9,328.1 L1090.9,326.2 L1094.6,323.9 L1098.7,321.3 L1103.1,318.6 L1107.7,315.8 L1112.3,313.0 L1116.7,310.4 L1120.9,307.9 L1125.3,305.1 L1130.0,302.3 L1134.8,299.3 L1139.7,296.4 L1144.8,293.6 L1150.1,290.9 L1155.3,288.6 L1160.3,286.7 L1165.3,284.9 L1170.3,283.4 L1175.3,282.0 L1180.4,280.9 L1185.5,280.0 L1190.7,279.2 L1196.1,278.7 L1201.7,278.4 L1207.4,278.4 L1213.2,278.6 L1218.9,279.0 L1224.6,279.5 L1230.1,280.2 L1235.4,281.0 L1240.5,281.9 L1245.5,283.1 L1250.4,284.5 L1255.1,286.1 L1259.5,287.7 L1263.5,289.4 L1267.2,291.0 L1270.5,292.6 L1273.3,293.9 L1275.9,295.2 L1278.4,296.5 L1280.7,297.9 L1283.0,299.5 L1285.2,301.5 L1287.4,304.1 L1289.2,307.5 L1290.3,312.6 L1289.2,318.8 L1286.7,322.9 L1284.4,325.3 L1282.4,327.1 L1280.6,328.5 L1279.1,329.5 L1278.3,330.1 L1277.9,330.5" stroke="#000" stroke-opacity="0.35" stroke-width="3.9" filter="url(#b1)"/><path d="M1098.5,350.5 L1100.8,349.0 L1103.9,347.1 L1107.6,344.8 L1111.7,342.3 L1116.0,339.6 L1120.5,336.9 L1125.0,334.2 L1129.3,331.6 L1133.8,328.9 L1138.3,326.1 L1142.9,323.2 L1147.5,320.4 L1152.0,317.8 L1156.4,315.3 L1160.6,313.2 L1164.7,311.4 L1168.9,309.8 L1173.0,308.3 L1177.1,307.1 L1181.2,306.0 L1185.3,305.0 L1189.4,304.3 L1193.6,303.7 L1197.9,303.3 L1202.3,303.1 L1207.1,303.0 L1212.0,303.2 L1216.9,303.5 L1221.9,304.0 L1226.7,304.6 L1231.4,305.3 L1235.5,306.1 L1239.3,306.9 L1243.1,308.0 L1246.8,309.3 L1250.4,310.6 L1253.9,312.1 L1257.1,313.5 L1260.1,314.9 L1262.7,316.1 L1264.7,317.1 L1266.3,317.9 L1267.3,318.6 L1267.8,318.9 L1267.7,318.8 L1267.1,318.1 L1266.3,316.6 L1265.7,313.4 L1266.5,309.3 L1267.5,307.5 L1267.5,307.4 L1266.9,307.9 L1265.8,308.7 L1264.6,309.6 L1263.2,310.6 L1262.1,311.5" stroke="#000" stroke-opacity="0.35" stroke-width="3.9" filter="url(#b1)"/><path d="M1087.3,332.4 L1089.6,330.9 L1092.7,329.0 L1096.4,326.7 L1100.5,324.2 L1104.9,321.5 L1109.4,318.7 L1114.0,315.9 L1118.4,313.3 L1122.7,310.7 L1127.1,308.0 L1131.7,305.1 L1136.5,302.2 L1141.4,299.3 L1146.4,296.5 L1151.5,294.0 L1156.6,291.7 L1161.5,289.8 L1166.4,288.1 L1171.2,286.6 L1176.1,285.3 L1181.0,284.2 L1186.0,283.3 L1191.1,282.6 L1196.3,282.1 L1201.8,281.8 L1207.4,281.8 L1213.0,281.9 L1218.7,282.3 L1224.2,282.9 L1229.7,283.5 L1234.8,284.3 L1239.8,285.2 L1244.7,286.3 L1249.4,287.7 L1254.0,289.2 L1258.2,290.9 L1262.2,292.5 L1265.8,294.1 L1269.1,295.6 L1271.9,296.9 L1274.4,298.2 L1276.7,299.4 L1278.9,300.7 L1280.9,302.1 L1282.8,303.8 L1284.6,306.0 L1286.1,308.7 L1287.0,312.7 L1286.1,317.5 L1284.1,320.8 L1282.1,322.9 L1280.3,324.5 L1278.6,325.8 L1277.1,326.8 L1276.2,327.5 L1275.7,327.9 M1089.6,336.2 L1092.0,334.7 L1095.1,332.8 L1098.7,330.5 L1102.8,328.0 L1107.2,325.3 L1111.8,322.5 L1116.3,319.8 L1120.7,317.2 L1125.0,314.6 L1129.5,311.8 L1134.1,308.9 L1138.8,306.0 L1143.6,303.2 L1148.5,300.5 L1153.4,298.0 L1158.3,295.9 L1163.0,294.0 L1167.8,292.4 L1172.5,290.9 L1177.2,289.7 L1181.9,288.6 L1186.8,287.7 L1191.7,287.0 L1196.7,286.5 L1201.9,286.3 L1207.3,286.2 L1212.8,286.4 L1218.3,286.8 L1223.7,287.3 L1229.0,288.0 L1234.1,288.7 L1238.9,289.6 L1243.5,290.7 L1248.1,292.0 L1252.4,293.5 L1256.6,295.0 L1260.5,296.6 L1264.0,298.2 L1267.2,299.7 L1269.9,301.0 L1272.4,302.2 L1274.5,303.3 L1276.4,304.5 L1278.1,305.7 L1279.6,307.0 L1280.9,308.5 L1281.9,310.4 L1282.5,312.9 L1281.9,315.8 L1280.6,318.0 L1279.0,319.6 L1277.4,321.0 L1275.9,322.2 L1274.5,323.2 L1273.5,323.9 L1272.9,324.4 M1092.0,340.0 L1094.4,338.5 L1097.4,336.6 L1101.1,334.4 L1105.2,331.8 L1109.6,329.1 L1114.1,326.3 L1118.6,323.6 L1123.0,321.0 L1127.3,318.4 L1131.8,315.6 L1136.4,312.7 L1141.1,309.9 L1145.9,307.1 L1150.6,304.5 L1155.3,302.1 L1160.0,300.0 L1164.6,298.2 L1169.2,296.6 L1173.7,295.2 L1178.2,294.0 L1182.8,293.0 L1187.5,292.1 L1192.2,291.5 L1197.0,291.0 L1202.0,290.7 L1207.2,290.7 L1212.6,290.9 L1217.9,291.2 L1223.3,291.8 L1228.4,292.4 L1233.4,293.2 L1238.0,294.0 L1242.4,295.0 L1246.7,296.3 L1250.9,297.7 L1254.9,299.2 L1258.7,300.7 L1262.2,302.3 L1265.3,303.7 L1268.0,305.0 L1270.3,306.1 L1272.3,307.2 L1274.0,308.2 L1275.4,309.2 L1276.4,310.1 L1277.2,311.1 L1277.7,312.0 L1278.0,313.0 L1277.8,314.1 L1277.1,315.2 L1276.0,316.4 L1274.6,317.5 L1273.2,318.6 L1271.9,319.6 L1270.7,320.4 L1270.0,321.0 M1094.4,343.8 L1096.7,342.4 L1099.8,340.4 L1103.5,338.2 L1107.5,335.6 L1111.9,332.9 L1116.4,330.2 L1120.9,327.4 L1125.3,324.8 L1129.7,322.2 L1134.2,319.4 L1138.8,316.6 L1143.4,313.7 L1148.1,311.0 L1152.7,308.4 L1157.3,306.1 L1161.7,304.1 L1166.1,302.4 L1170.6,300.9 L1174.9,299.5 L1179.3,298.3 L1183.7,297.4 L1188.2,296.5 L1192.7,295.9 L1197.3,295.5 L1202.1,295.2 L1207.2,295.2 L1212.3,295.4 L1217.6,295.7 L1222.8,296.2 L1227.8,296.8 L1232.6,297.6 L1237.1,298.4 L1241.3,299.4 L1245.4,300.5 L1249.4,301.9 L1253.3,303.4 L1256.9,304.9 L1260.3,306.4 L1263.4,307.8 L1266.1,309.0 L1268.3,310.1 L1270.1,311.1 L1271.6,312.0 L1272.6,312.7 L1273.3,313.3 L1273.5,313.6 L1273.6,313.7 L1273.5,313.1 L1273.7,312.3 L1273.6,312.4 L1272.9,313.1 L1271.8,314.0 L1270.5,315.0 L1269.2,315.9 L1268.0,316.8 L1267.1,317.6 M1096.7,347.6 L1099.1,346.2 L1102.2,344.2 L1105.8,342.0 L1109.9,339.4 L1114.3,336.7 L1118.8,334.0 L1123.2,331.3 L1127.6,328.7 L1132.0,326.0 L1136.6,323.2 L1141.1,320.4 L1145.7,317.6 L1150.3,314.9 L1154.8,312.4 L1159.2,310.2 L1163.4,308.3 L1167.7,306.6 L1172.0,305.1 L1176.2,303.8 L1180.4,302.7 L1184.6,301.7 L1188.9,301.0 L1193.2,300.4 L1197.7,299.9 L1202.3,299.7 L1207.1,299.7 L1212.1,299.8 L1217.2,300.2 L1222.3,300.7 L1227.2,301.3 L1231.9,302.0 L1236.2,302.8 L1240.2,303.7 L1244.1,304.8 L1247.9,306.1 L1251.6,307.5 L1255.2,309.0 L1258.5,310.4 L1261.5,311.8 L1264.1,313.1 L1266.3,314.1 L1267.9,315.0 L1269.1,315.7 L1269.9,316.2 L1270.1,316.4 L1269.9,316.2 L1269.4,315.3 L1269.0,313.3 L1269.5,310.6 L1270.1,309.6 L1269.8,309.8 L1269.0,310.5 L1267.8,311.4 L1266.6,312.3 L1265.3,313.3 L1264.3,314.1" stroke="#000" stroke-opacity="0.16" stroke-width="1.3"/><path d="M1088.5,334.3 L1090.8,332.8 L1093.9,330.9 L1097.5,328.6 L1101.7,326.1 L1106.1,323.4 L1110.6,320.6 L1115.2,317.8 L1119.6,315.2 L1123.8,312.7 L1128.3,309.9 L1132.9,307.0 L1137.7,304.1 L1142.5,301.2 L1147.5,298.5 L1152.5,296.0 L1157.4,293.8 L1162.3,291.9 L1167.1,290.2 L1171.8,288.8 L1176.6,287.5 L1181.5,286.4 L1186.4,285.5 L1191.4,284.8 L1196.5,284.3 L1201.8,284.0 L1207.3,284.0 L1212.9,284.2 L1218.5,284.6 L1224.0,285.1 L1229.3,285.7 L1234.5,286.5 L1239.3,287.4 L1244.1,288.5 L1248.7,289.8 L1253.2,291.3 L1257.4,292.9 L1261.3,294.6 L1264.9,296.1 L1268.1,297.6 L1270.9,298.9 L1273.4,300.2 L1275.6,301.4 L1277.7,302.6 L1279.5,303.9 L1281.2,305.4 L1282.8,307.3 L1284.0,309.5 L1284.7,312.8 L1284.0,316.7 L1282.3,319.4 L1280.6,321.2 L1278.9,322.7 L1277.2,324.0 L1275.8,325.0 L1274.9,325.7 L1274.3,326.2 M1090.8,338.1 L1093.2,336.6 L1096.2,334.7 L1099.9,332.5 L1104.0,329.9 L1108.4,327.2 L1112.9,324.4 L1117.5,321.7 L1121.9,319.1 L1126.2,316.5 L1130.6,313.7 L1135.3,310.8 L1140.0,308.0 L1144.7,305.1 L1149.6,302.5 L1154.4,300.0 L1159.1,297.9 L1163.8,296.1 L1168.5,294.5 L1173.1,293.1 L1177.7,291.8 L1182.4,290.8 L1187.1,289.9 L1191.9,289.2 L1196.8,288.8 L1201.9,288.5 L1207.3,288.5 L1212.7,288.7 L1218.1,289.0 L1223.5,289.5 L1228.7,290.2 L1233.7,291.0 L1238.4,291.8 L1243.0,292.8 L1247.4,294.1 L1251.7,295.6 L1255.8,297.1 L1259.6,298.7 L1263.1,300.2 L1266.2,301.7 L1269.0,303.0 L1271.3,304.1 L1273.4,305.3 L1275.2,306.3 L1276.8,307.4 L1278.0,308.6 L1279.1,309.8 L1279.8,311.2 L1280.2,312.9 L1279.9,314.9 L1278.8,316.6 L1277.5,318.0 L1276.0,319.2 L1274.5,320.4 L1273.2,321.4 L1272.1,322.2 L1271.4,322.7 M1093.2,341.9 L1095.5,340.5 L1098.6,338.5 L1102.3,336.3 L1106.4,333.7 L1110.7,331.0 L1115.3,328.2 L1119.8,325.5 L1124.1,322.9 L1128.5,320.3 L1133.0,317.5 L1137.6,314.7 L1142.3,311.8 L1147.0,309.0 L1151.7,306.4 L1156.3,304.1 L1160.9,302.1 L1165.4,300.3 L1169.9,298.8 L1174.3,297.4 L1178.8,296.2 L1183.3,295.2 L1187.8,294.3 L1192.4,293.7 L1197.2,293.2 L1202.1,293.0 L1207.2,293.0 L1212.5,293.1 L1217.8,293.5 L1223.0,294.0 L1228.1,294.6 L1233.0,295.4 L1237.6,296.2 L1241.9,297.2 L1246.1,298.4 L1250.2,299.8 L1254.1,301.3 L1257.8,302.8 L1261.2,304.3 L1264.3,305.7 L1267.0,307.0 L1269.3,308.1 L1271.2,309.2 L1272.8,310.1 L1274.0,311.0 L1274.9,311.7 L1275.4,312.3 L1275.7,312.8 L1275.8,313.1 L1275.7,313.2 L1275.3,313.8 L1274.4,314.7 L1273.2,315.8 L1271.9,316.8 L1270.5,317.8 L1269.4,318.6 L1268.6,319.3 M1095.5,345.7 L1097.9,344.3 L1101.0,342.3 L1104.6,340.1 L1108.7,337.5 L1113.1,334.8 L1117.6,332.1 L1122.1,329.4 L1126.4,326.8 L1130.8,324.1 L1135.4,321.3 L1140.0,318.5 L1144.6,315.6 L1149.2,312.9 L1153.8,310.4 L1158.2,308.1 L1162.6,306.2 L1166.9,304.5 L1171.3,303.0 L1175.6,301.7 L1179.9,300.5 L1184.2,299.6 L1188.5,298.8 L1193.0,298.1 L1197.5,297.7 L1202.2,297.5 L1207.1,297.4 L1212.2,297.6 L1217.4,297.9 L1222.5,298.4 L1227.5,299.1 L1232.3,299.8 L1236.7,300.6 L1240.7,301.5 L1244.7,302.7 L1248.7,304.0 L1252.5,305.4 L1256.1,306.9 L1259.4,308.4 L1262.4,309.8 L1265.1,311.1 L1267.3,312.1 L1269.0,313.1 L1270.3,313.9 L1271.2,314.5 L1271.7,314.9 L1271.7,314.9 L1271.5,314.5 L1271.3,313.2 L1271.6,311.4 L1271.8,311.0 L1271.4,311.5 L1270.4,312.3 L1269.2,313.2 L1267.9,314.1 L1266.6,315.1 L1265.7,315.8" stroke="#fff" stroke-opacity="0.09" stroke-width="1.3"/><path d="M1088.8,334.8 L1091.1,333.3 L1094.2,331.4 L1097.8,329.1 L1101.9,326.6 L1106.3,323.9 L1110.9,321.1 L1115.5,318.3 L1119.8,315.7 L1124.1,313.1 L1128.6,310.4 L1133.2,307.5 L1138.0,304.6 L1142.8,301.7 L1147.7,299.0 L1152.7,296.5 L1157.6,294.3 L1162.5,292.4 L1167.2,290.8 L1172.0,289.3 L1176.8,288.0 L1181.6,286.9 L1186.5,286.0 L1191.5,285.4 L1196.5,284.9 L1201.8,284.6 L1207.3,284.6 L1212.9,284.7 L1218.4,285.1 L1223.9,285.6 L1229.3,286.3 L1234.4,287.1 L1239.2,288.0 L1244.0,289.0 L1248.6,290.4 L1253.0,291.9 L1257.2,293.5 L1261.1,295.1 L1264.7,296.7 L1267.9,298.1 L1270.7,299.4 L1273.1,300.7 L1275.4,301.8 L1277.4,303.1 L1279.2,304.3 L1280.8,305.8 L1282.3,307.6 L1283.5,309.7 L1284.2,312.8 L1283.5,316.4 L1281.9,319.0 L1280.2,320.8 L1278.5,322.3 L1276.9,323.5 L1275.5,324.5 L1274.5,325.3 L1273.9,325.7" stroke="#fff" stroke-opacity="0.15" stroke-width="8.4" filter="url(#b2)"/></g><g fill="none" stroke-linejoin="round"><path d="M1292.0,337.0 L1293.7,337.7 L1296.0,338.3 L1298.8,339.1" stroke="#b6632e" stroke-width="35.0" stroke-linecap="round"/><path d="M1296.0,338.3 L1298.8,339.1 L1301.8,340.1 L1305.0,341.3" stroke="#c06a33" stroke-width="35.0"/><path d="M1301.8,340.1 L1305.0,341.3 L1308.2,343.0 L1311.2,345.2" stroke="#cc743a" stroke-width="35.0"/><path d="M1308.2,343.0 L1311.2,345.2 L1314.0,348.0 L1316.6,351.5" stroke="#da7e42" stroke-width="35.0"/><path d="M1314.0,348.0 L1316.6,351.5 L1319.2,355.5 L1321.7,360.1" stroke="#e68749" stroke-width="35.0"/><path d="M1319.2,355.5 L1321.7,360.1 L1324.2,365.1 L1326.7,370.4" stroke="#e6894b" stroke-width="35.0"/><path d="M1324.2,365.1 L1326.7,370.4 L1329.0,375.9 L1331.1,381.5" stroke="#e78b4d" stroke-width="35.0"/><path d="M1329.0,375.9 L1331.1,381.5 L1333.0,387.0 L1334.8,392.6" stroke="#e78c50" stroke-width="35.0"/><path d="M1333.0,387.0 L1334.8,392.6 L1336.5,398.5 L1338.1,404.6" stroke="#e78e53" stroke-width="35.0"/><path d="M1336.5,398.5 L1338.1,404.6 L1339.5,410.9 L1340.7,417.2" stroke="#e79056" stroke-width="35.0"/><path d="M1339.5,410.9 L1340.7,417.2 L1341.8,423.5 L1342.5,429.8" stroke="#e89259" stroke-width="35.0"/><path d="M1341.8,423.5 L1342.5,429.8 L1343.0,436.0 L1343.2,442.2" stroke="#e8945c" stroke-width="35.0"/><path d="M1343.0,436.0 L1343.2,442.2 L1343.0,448.6 L1342.7,455.1" stroke="#e89259" stroke-width="35.0"/><path d="M1343.0,448.6 L1342.7,455.1 L1342.1,461.5 L1341.3,467.8" stroke="#e79056" stroke-width="35.0"/><path d="M1342.1,461.5 L1341.3,467.8 L1340.3,473.9 L1339.2,479.6" stroke="#e78e53" stroke-width="35.0"/><path d="M1340.3,473.9 L1339.2,479.6 L1338.0,485.0 L1336.6,490.1" stroke="#e78c50" stroke-width="35.0"/><path d="M1338.0,485.0 L1336.6,490.1 L1335.1,495.0 L1333.4,499.6" stroke="#e78a4d" stroke-width="35.0"/><path d="M1335.1,495.0 L1333.4,499.6 L1331.5,504.1 L1329.5,508.2" stroke="#e6894b" stroke-width="35.0"/><path d="M1331.5,504.1 L1329.5,508.2 L1327.4,511.9 L1325.2,515.2" stroke="#e68748" stroke-width="35.0"/><path d="M1327.4,511.9 L1325.2,515.2 L1323.0,518.0 L1320.5,520.3" stroke="#db7e42" stroke-width="35.0"/><path d="M1323.0,518.0 L1320.5,520.3 L1317.7,521.9 L1314.6,523.2" stroke="#d0763c" stroke-width="35.0"/><path d="M1317.7,521.9 L1314.6,523.2 L1311.6,524.1 L1308.6,524.7" stroke="#c66f37" stroke-width="35.0"/><path d="M1311.6,524.1 L1308.6,524.7 L1305.9,525.1 L1303.7,525.6" stroke="#bc6832" stroke-width="35.0"/><path d="M1305.9,525.1 L1303.7,525.6 L1302.0,526.0" stroke="#b5622e" stroke-width="35.0" stroke-linecap="round"/><path d="M1297.5,322.6 L1298.5,323.0 L1300.2,323.5 L1303.2,324.3 L1307.0,325.6 L1311.5,327.4 L1316.3,329.9 L1321.3,333.5 L1325.7,338.0 L1329.3,342.8 L1332.4,347.7 L1335.3,352.9 L1338.1,358.5 L1340.8,364.2 L1343.3,370.2 L1345.5,376.2 L1347.6,382.2 L1349.5,388.2 L1351.3,394.5 L1353.0,401.0 L1354.6,407.7 L1355.9,414.5 L1357.0,421.4 L1357.9,428.3 L1358.4,435.2 L1358.6,442.2 L1358.4,449.2 L1358.0,456.2 L1357.4,463.2 L1356.5,470.0 L1355.5,476.5 L1354.3,482.8 L1353.0,488.7 L1351.4,494.4 L1349.7,499.9 L1347.7,505.3 L1345.5,510.4 L1343.1,515.3 L1340.6,519.9 L1337.7,524.2 L1334.3,528.5 L1329.7,532.6 L1324.6,535.7 L1319.7,537.7 L1315.3,539.0 L1311.5,539.8 L1308.6,540.3 L1306.9,540.6 L1306.0,540.9" stroke="#000" stroke-opacity="0.35" stroke-width="4.9" filter="url(#b1)"/><path d="M1286.5,351.4 L1288.9,352.3 L1291.8,353.1 L1294.3,353.8 L1296.6,354.5 L1298.5,355.3 L1300.1,356.1 L1301.2,356.9 L1302.3,358.0 L1303.9,360.2 L1305.9,363.4 L1308.1,367.3 L1310.4,371.8 L1312.6,376.6 L1314.7,381.6 L1316.6,386.7 L1318.4,391.8 L1320.0,397.1 L1321.6,402.6 L1323.1,408.3 L1324.4,414.1 L1325.6,419.9 L1326.5,425.7 L1327.2,431.3 L1327.6,436.8 L1327.8,442.3 L1327.7,448.0 L1327.3,453.9 L1326.8,459.8 L1326.0,465.6 L1325.1,471.2 L1324.1,476.5 L1323.0,481.3 L1321.9,485.7 L1320.5,490.0 L1319.0,494.0 L1317.5,497.7 L1315.9,501.0 L1314.3,503.9 L1312.7,506.2 L1311.7,507.5 L1311.3,507.9 L1310.8,508.2 L1309.6,508.6 L1307.8,509.1 L1305.7,509.6 L1303.2,510.0 L1300.4,510.5 L1298.0,511.1" stroke="#000" stroke-opacity="0.35" stroke-width="4.9" filter="url(#b1)"/><path d="M1296.0,326.5 L1297.2,327.0 L1299.1,327.5 L1302.0,328.4 L1305.6,329.5 L1309.7,331.2 L1314.1,333.5 L1318.5,336.7 L1322.5,340.7 L1325.8,345.1 L1328.8,349.8 L1331.6,354.9 L1334.3,360.3 L1336.9,365.9 L1339.4,371.7 L1341.6,377.6 L1343.6,383.5 L1345.5,389.4 L1347.3,395.6 L1348.9,402.0 L1350.5,408.5 L1351.8,415.2 L1352.9,421.9 L1353.7,428.7 L1354.2,435.4 L1354.4,442.2 L1354.2,449.1 L1353.8,455.9 L1353.2,462.7 L1352.4,469.4 L1351.3,475.8 L1350.2,481.9 L1348.9,487.7 L1347.4,493.2 L1345.7,498.6 L1343.8,503.8 L1341.7,508.7 L1339.4,513.4 L1337.0,517.7 L1334.3,521.7 L1331.2,525.6 L1327.2,529.2 L1322.7,532.0 L1318.3,533.8 L1314.3,534.9 L1310.7,535.7 L1307.9,536.2 L1306.0,536.5 L1304.9,536.8 M1294.0,331.8 L1295.5,332.3 L1297.6,332.9 L1300.4,333.7 L1303.7,334.8 L1307.4,336.3 L1311.1,338.3 L1314.9,341.0 L1318.3,344.4 L1321.2,348.3 L1324.0,352.7 L1326.7,357.5 L1329.3,362.7 L1331.8,368.2 L1334.2,373.8 L1336.3,379.5 L1338.3,385.2 L1340.1,391.0 L1341.9,397.1 L1343.5,403.3 L1345.0,409.7 L1346.3,416.2 L1347.3,422.7 L1348.1,429.3 L1348.6,435.7 L1348.8,442.2 L1348.6,448.8 L1348.2,455.5 L1347.6,462.1 L1346.8,468.6 L1345.8,474.8 L1344.7,480.8 L1343.4,486.3 L1342.0,491.6 L1340.4,496.8 L1338.6,501.7 L1336.6,506.4 L1334.5,510.8 L1332.2,514.8 L1329.8,518.5 L1327.1,521.8 L1323.9,524.7 L1320.2,527.0 L1316.5,528.5 L1312.9,529.5 L1309.7,530.2 L1306.9,530.7 L1304.9,531.0 L1303.5,531.4 M1292.0,337.0 L1293.7,337.7 L1296.0,338.3 L1298.8,339.1 L1301.8,340.1 L1305.0,341.3 L1308.2,343.0 L1311.2,345.2 L1314.0,348.0 L1316.6,351.5 L1319.2,355.5 L1321.7,360.1 L1324.2,365.1 L1326.7,370.4 L1329.0,375.9 L1331.1,381.5 L1333.0,387.0 L1334.8,392.6 L1336.5,398.5 L1338.1,404.6 L1339.5,410.9 L1340.7,417.2 L1341.8,423.5 L1342.5,429.8 L1343.0,436.0 L1343.2,442.2 L1343.0,448.6 L1342.7,455.1 L1342.1,461.5 L1341.3,467.8 L1340.3,473.9 L1339.2,479.6 L1338.0,485.0 L1336.6,490.1 L1335.1,495.0 L1333.4,499.6 L1331.5,504.1 L1329.5,508.2 L1327.4,511.9 L1325.2,515.2 L1323.0,518.0 L1320.5,520.3 L1317.7,521.9 L1314.6,523.2 L1311.6,524.1 L1308.6,524.7 L1305.9,525.1 L1303.7,525.6 L1302.0,526.0 M1290.0,342.2 L1292.0,343.0 L1294.5,343.7 L1297.2,344.5 L1299.9,345.3 L1302.6,346.4 L1305.2,347.8 L1307.6,349.5 L1309.7,351.6 L1312.0,354.6 L1314.4,358.4 L1316.8,362.8 L1319.2,367.5 L1321.5,372.7 L1323.8,378.0 L1325.8,383.4 L1327.7,388.8 L1329.4,394.3 L1331.1,400.0 L1332.6,406.0 L1334.0,412.0 L1335.2,418.2 L1336.2,424.3 L1337.0,430.4 L1337.4,436.3 L1337.6,442.3 L1337.4,448.4 L1337.1,454.7 L1336.5,460.9 L1335.7,467.0 L1334.8,472.9 L1333.7,478.5 L1332.6,483.7 L1331.3,488.5 L1329.8,493.2 L1328.2,497.6 L1326.4,501.7 L1324.5,505.6 L1322.6,509.0 L1320.7,511.9 L1318.9,514.2 L1317.2,515.8 L1315.2,516.9 L1312.8,517.9 L1310.2,518.6 L1307.5,519.2 L1304.9,519.6 L1302.5,520.1 L1300.5,520.6 M1288.0,347.5 L1290.2,348.3 L1293.0,349.1 L1295.5,349.8 L1298.0,350.6 L1300.3,351.5 L1302.3,352.5 L1304.0,353.7 L1305.5,355.3 L1307.3,357.8 L1309.5,361.3 L1311.8,365.4 L1314.2,370.0 L1316.4,374.9 L1318.6,380.0 L1320.6,385.3 L1322.4,390.5 L1324.1,395.9 L1325.7,401.5 L1327.2,407.3 L1328.5,413.2 L1329.7,419.2 L1330.7,425.1 L1331.4,430.9 L1331.8,436.6 L1332.0,442.3 L1331.8,448.2 L1331.5,454.2 L1330.9,460.3 L1330.2,466.2 L1329.3,472.0 L1328.2,477.4 L1327.1,482.3 L1325.9,486.9 L1324.5,491.3 L1323.0,495.5 L1321.3,499.4 L1319.6,503.0 L1317.8,506.1 L1316.1,508.6 L1314.8,510.4 L1313.8,511.3 L1312.7,511.9 L1311.0,512.6 L1308.9,513.2 L1306.5,513.7 L1304.0,514.1 L1301.3,514.6 L1299.1,515.2" stroke="#000" stroke-opacity="0.16" stroke-width="1.3"/><path d="M1295.0,329.2 L1296.3,329.7 L1298.3,330.2 L1301.2,331.0 L1304.7,332.2 L1308.5,333.7 L1312.6,335.9 L1316.7,338.8 L1320.4,342.5 L1323.5,346.7 L1326.4,351.3 L1329.2,356.2 L1331.8,361.5 L1334.4,367.0 L1336.8,372.8 L1339.0,378.6 L1341.0,384.4 L1342.8,390.2 L1344.6,396.3 L1346.2,402.6 L1347.7,409.1 L1349.0,415.7 L1350.1,422.3 L1350.9,429.0 L1351.4,435.6 L1351.6,442.2 L1351.4,449.0 L1351.0,455.7 L1350.4,462.4 L1349.6,469.0 L1348.6,475.3 L1347.4,481.3 L1346.2,487.0 L1344.7,492.4 L1343.0,497.7 L1341.2,502.7 L1339.1,507.5 L1336.9,512.1 L1334.6,516.2 L1332.0,520.1 L1329.2,523.7 L1325.5,527.0 L1321.4,529.5 L1317.4,531.1 L1313.6,532.2 L1310.2,532.9 L1307.4,533.4 L1305.4,533.8 L1304.2,534.1 M1293.0,334.4 L1294.6,335.0 L1296.8,335.6 L1299.6,336.4 L1302.8,337.4 L1306.2,338.8 L1309.7,340.6 L1313.1,343.1 L1316.1,346.2 L1318.9,349.9 L1321.6,354.1 L1324.2,358.8 L1326.8,363.9 L1329.2,369.3 L1331.6,374.9 L1333.7,380.5 L1335.7,386.1 L1337.5,391.8 L1339.2,397.8 L1340.8,404.0 L1342.2,410.3 L1343.5,416.7 L1344.5,423.1 L1345.3,429.5 L1345.8,435.9 L1346.0,442.2 L1345.8,448.7 L1345.5,455.3 L1344.8,461.8 L1344.0,468.2 L1343.1,474.4 L1341.9,480.2 L1340.7,485.7 L1339.3,490.8 L1337.7,495.9 L1336.0,500.7 L1334.0,505.2 L1332.0,509.5 L1329.8,513.3 L1327.5,516.8 L1325.1,519.9 L1322.2,522.5 L1318.9,524.5 L1315.6,525.8 L1312.2,526.8 L1309.1,527.4 L1306.4,527.9 L1304.3,528.3 L1302.7,528.7 M1291.0,339.6 L1292.8,340.3 L1295.3,341.0 L1298.0,341.8 L1300.9,342.7 L1303.8,343.9 L1306.7,345.4 L1309.4,347.3 L1311.9,349.8 L1314.3,353.0 L1316.8,357.0 L1319.3,361.4 L1321.7,366.3 L1324.1,371.5 L1326.4,376.9 L1328.4,382.4 L1330.3,387.9 L1332.1,393.5 L1333.8,399.3 L1335.3,405.3 L1336.8,411.5 L1338.0,417.7 L1339.0,423.9 L1339.7,430.1 L1340.2,436.1 L1340.4,442.2 L1340.2,448.5 L1339.9,454.9 L1339.3,461.2 L1338.5,467.4 L1337.5,473.4 L1336.5,479.1 L1335.3,484.3 L1334.0,489.3 L1332.4,494.1 L1330.8,498.6 L1329.0,502.9 L1327.0,506.9 L1325.0,510.4 L1323.0,513.5 L1320.9,516.1 L1318.9,518.0 L1316.4,519.4 L1313.7,520.5 L1310.9,521.3 L1308.1,521.9 L1305.4,522.4 L1303.1,522.8 L1301.3,523.3 M1289.0,344.8 L1291.1,345.6 L1293.7,346.4 L1296.3,347.1 L1299.0,348.0 L1301.5,349.0 L1303.8,350.2 L1305.8,351.6 L1307.6,353.5 L1309.7,356.2 L1312.0,359.8 L1314.3,364.1 L1316.7,368.8 L1319.0,373.8 L1321.2,379.0 L1323.2,384.3 L1325.0,389.6 L1326.7,395.1 L1328.4,400.8 L1329.9,406.6 L1331.3,412.6 L1332.5,418.7 L1333.4,424.7 L1334.2,430.6 L1334.6,436.4 L1334.8,442.3 L1334.6,448.3 L1334.3,454.4 L1333.7,460.6 L1333.0,466.6 L1332.0,472.4 L1331.0,477.9 L1329.8,483.0 L1328.6,487.7 L1327.1,492.2 L1325.6,496.6 L1323.9,500.6 L1322.1,504.3 L1320.2,507.5 L1318.4,510.3 L1316.8,512.3 L1315.5,513.5 L1313.9,514.4 L1311.9,515.2 L1309.5,515.9 L1307.0,516.4 L1304.5,516.9 L1301.9,517.3 L1299.8,517.9" stroke="#fff" stroke-opacity="0.09" stroke-width="1.3"/><path d="M1294.8,329.8 L1296.1,330.3 L1298.1,330.9 L1301.0,331.7 L1304.4,332.8 L1308.2,334.4 L1312.3,336.5 L1316.3,339.4 L1319.9,343.0 L1322.9,347.1 L1325.8,351.6 L1328.5,356.5 L1331.2,361.8 L1333.7,367.3 L1336.1,373.0 L1338.3,378.8 L1340.3,384.6 L1342.2,390.4 L1343.9,396.5 L1345.5,402.8 L1347.0,409.3 L1348.3,415.8 L1349.4,422.4 L1350.2,429.0 L1350.7,435.6 L1350.9,442.2 L1350.7,448.9 L1350.3,455.7 L1349.7,462.3 L1348.9,468.9 L1347.9,475.2 L1346.7,481.2 L1345.5,486.8 L1344.0,492.2 L1342.4,497.4 L1340.5,502.5 L1338.5,507.2 L1336.3,511.7 L1334.0,515.9 L1331.5,519.7 L1328.6,523.2 L1325.1,526.4 L1321.1,528.8 L1317.2,530.5 L1313.4,531.5 L1310.1,532.2 L1307.2,532.7 L1305.3,533.1 L1304.0,533.4" stroke="#fff" stroke-opacity="0.12" stroke-width="10.5" filter="url(#b2)"/></g><g fill="none" stroke-linejoin="round"><path d="M1290.0,561.0 L1290.6,562.1 L1291.6,563.5 L1292.7,565.2 L1293.9,567.1" stroke="#e7884a" stroke-width="29.0" stroke-linecap="round"/><path d="M1292.7,565.2 L1293.9,567.1 L1295.0,569.2 L1295.6,571.4 L1295.7,573.7" stroke="#e88b4d" stroke-width="29.0"/><path d="M1295.6,571.4 L1295.7,573.7 L1295.0,576.0 L1293.6,578.5 L1291.8,581.1" stroke="#ea8f52" stroke-width="29.0"/><path d="M1293.6,578.5 L1291.8,581.1 L1289.4,584.0 L1286.7,586.9 L1283.5,589.9" stroke="#ec9458" stroke-width="29.0"/><path d="M1286.7,586.9 L1283.5,589.9 L1280.0,592.8 L1276.2,595.5 L1272.0,598.0" stroke="#ee9b60" stroke-width="29.0"/><path d="M1276.2,595.5 L1272.0,598.0 L1267.4,600.4 L1262.2,602.8 L1256.6,605.2" stroke="#f2a269" stroke-width="29.0"/><path d="M1262.2,602.8 L1256.6,605.2 L1250.6,607.5 L1244.5,609.6 L1238.2,611.4" stroke="#f1a36b" stroke-width="29.0"/><path d="M1244.5,609.6 L1238.2,611.4 L1232.1,612.9 L1226.0,614.0 L1219.9,614.7" stroke="#e8965f" stroke-width="29.0"/><path d="M1226.0,614.0 L1219.9,614.7 L1213.6,614.9 L1207.1,614.9 L1200.6,614.6" stroke="#df8952" stroke-width="29.0"/><path d="M1207.1,614.9 L1200.6,614.6 L1194.3,614.1 L1188.1,613.4 L1182.3,612.7" stroke="#d77d46" stroke-width="29.0"/><path d="M1188.1,613.4 L1182.3,612.7 L1177.0,612.0 L1172.1,611.2 L1167.7,610.2" stroke="#d47b44" stroke-width="29.0"/><path d="M1172.1,611.2 L1167.7,610.2 L1163.5,609.1 L1159.6,607.9 L1155.8,606.7" stroke="#d17942" stroke-width="29.0"/><path d="M1159.6,607.9 L1155.8,606.7 L1152.2,605.4 L1148.6,604.2 L1145.0,603.0" stroke="#cf7740" stroke-width="29.0"/><path d="M1148.6,604.2 L1145.0,603.0 L1141.3,601.8 L1137.5,600.5 L1133.7,599.2" stroke="#cd763f" stroke-width="29.0"/><path d="M1137.5,600.5 L1133.7,599.2 L1130.0,597.9 L1126.6,596.7 L1123.5,595.6" stroke="#ca753e" stroke-width="29.0"/><path d="M1126.6,596.7 L1123.5,595.6 L1121.0,594.7 L1119.0,594.0" stroke="#c9733c" stroke-width="29.0" stroke-linecap="round"/><path d="M1301.3,555.1 L1301.5,555.4 L1302.0,556.2 L1303.4,558.2 L1305.1,560.9 L1306.8,564.6 L1308.2,569.4 L1308.3,575.3 L1306.7,581.1 L1304.4,585.3 L1301.9,588.8 L1299.0,592.4 L1295.7,596.0 L1291.9,599.5 L1287.7,602.9 L1283.1,606.2 L1278.2,609.1 L1273.0,611.9 L1267.4,614.5 L1261.3,617.1 L1254.9,619.5 L1248.3,621.8 L1241.5,623.7 L1234.7,625.4 L1227.8,626.6 L1220.9,627.4 L1213.8,627.7 L1206.7,627.6 L1199.8,627.3 L1193.1,626.8 L1186.7,626.1 L1180.7,625.4 L1175.1,624.6 L1169.8,623.7 L1164.7,622.7 L1160.0,621.4 L1155.7,620.1 L1151.7,618.8 L1148.0,617.5 L1144.5,616.3 L1141.1,615.1 L1137.3,613.9 L1133.4,612.6 L1129.5,611.3 L1125.7,610.0 L1122.3,608.7 L1119.2,607.6 L1116.7,606.7 L1114.7,606.0" stroke="#000" stroke-opacity="0.35" stroke-width="4.1" filter="url(#b1)"/><path d="M1278.7,566.9 L1279.7,568.8 L1281.1,570.8 L1282.1,572.3 L1282.8,573.3 L1283.1,573.8 L1283.0,573.4 L1283.0,572.0 L1283.3,570.9 L1282.8,571.7 L1281.6,573.5 L1279.8,575.6 L1277.7,577.9 L1275.1,580.3 L1272.3,582.6 L1269.2,584.8 L1265.8,586.9 L1261.7,589.0 L1257.0,591.2 L1251.8,593.4 L1246.3,595.5 L1240.6,597.4 L1235.0,599.1 L1229.4,600.4 L1224.2,601.4 L1219.0,601.9 L1213.3,602.2 L1207.5,602.1 L1201.4,601.8 L1195.4,601.3 L1189.6,600.7 L1183.9,600.0 L1178.9,599.4 L1174.5,598.7 L1170.6,597.8 L1167.0,596.9 L1163.4,595.8 L1159.9,594.6 L1156.4,593.4 L1152.7,592.1 L1148.9,590.9 L1145.2,589.7 L1141.6,588.5 L1137.9,587.2 L1134.3,585.9 L1130.9,584.7 L1127.9,583.6 L1125.3,582.7 L1123.3,582.0" stroke="#000" stroke-opacity="0.35" stroke-width="4.1" filter="url(#b1)"/><path d="M1298.2,556.7 L1298.5,557.3 L1299.2,558.2 L1300.5,560.1 L1302.0,562.6 L1303.6,565.8 L1304.8,569.9 L1304.9,574.9 L1303.5,579.7 L1301.5,583.4 L1299.2,586.7 L1296.4,590.1 L1293.2,593.5 L1289.6,596.9 L1285.6,600.1 L1281.2,603.3 L1276.5,606.1 L1271.5,608.7 L1266.0,611.3 L1260.0,613.8 L1253.8,616.2 L1247.3,618.4 L1240.6,620.4 L1234.0,622.0 L1227.3,623.2 L1220.6,623.9 L1213.7,624.2 L1206.8,624.2 L1200.0,623.8 L1193.4,623.3 L1187.1,622.6 L1181.2,621.9 L1175.6,621.2 L1170.4,620.3 L1165.5,619.3 L1161.0,618.1 L1156.7,616.8 L1152.8,615.5 L1149.1,614.2 L1145.6,613.0 L1142.2,611.8 L1138.4,610.6 L1134.5,609.3 L1130.6,608.0 L1126.9,606.7 L1123.4,605.5 L1120.4,604.3 L1117.8,603.4 L1115.9,602.7 M1294.1,558.9 L1294.5,559.7 L1295.4,560.9 L1296.6,562.7 L1298.0,564.9 L1299.3,567.5 L1300.2,570.7 L1300.3,574.3 L1299.3,577.8 L1297.5,580.9 L1295.5,583.9 L1292.9,587.1 L1290.0,590.2 L1286.6,593.4 L1282.8,596.5 L1278.7,599.4 L1274.3,602.0 L1269.4,604.6 L1264.1,607.1 L1258.3,609.5 L1252.2,611.9 L1245.9,614.0 L1239.4,615.9 L1233.0,617.4 L1226.7,618.6 L1220.2,619.3 L1213.6,619.6 L1207.0,619.5 L1200.3,619.2 L1193.8,618.7 L1187.6,618.0 L1181.7,617.3 L1176.3,616.6 L1171.3,615.8 L1166.6,614.8 L1162.2,613.6 L1158.1,612.4 L1154.3,611.1 L1150.7,609.8 L1147.1,608.6 L1143.6,607.4 L1139.8,606.2 L1136.0,604.9 L1132.1,603.6 L1128.4,602.3 L1125.0,601.1 L1122.0,600.0 L1119.4,599.1 L1117.5,598.4 M1290.0,561.0 L1290.6,562.1 L1291.6,563.5 L1292.7,565.2 L1293.9,567.1 L1295.0,569.2 L1295.6,571.4 L1295.7,573.7 L1295.0,576.0 L1293.6,578.5 L1291.8,581.1 L1289.4,584.0 L1286.7,586.9 L1283.5,589.9 L1280.0,592.8 L1276.2,595.5 L1272.0,598.0 L1267.4,600.4 L1262.2,602.8 L1256.6,605.2 L1250.6,607.5 L1244.5,609.6 L1238.2,611.4 L1232.1,612.9 L1226.0,614.0 L1219.9,614.7 L1213.6,614.9 L1207.1,614.9 L1200.6,614.6 L1194.3,614.1 L1188.1,613.4 L1182.3,612.7 L1177.0,612.0 L1172.1,611.2 L1167.7,610.2 L1163.5,609.1 L1159.6,607.9 L1155.8,606.7 L1152.2,605.4 L1148.6,604.2 L1145.0,603.0 L1141.3,601.8 L1137.5,600.5 L1133.7,599.2 L1130.0,597.9 L1126.6,596.7 L1123.5,595.6 L1121.0,594.7 L1119.0,594.0 M1285.9,563.1 L1286.6,564.5 L1287.7,566.2 L1288.9,567.8 L1289.9,569.4 L1290.6,570.9 L1291.0,572.1 L1291.1,573.1 L1290.7,574.2 L1289.7,576.0 L1288.1,578.4 L1285.9,580.9 L1283.4,583.7 L1280.5,586.4 L1277.2,589.1 L1273.6,591.6 L1269.7,594.0 L1265.3,596.2 L1260.3,598.6 L1254.8,600.9 L1249.1,603.1 L1243.1,605.2 L1237.1,606.9 L1231.1,608.4 L1225.3,609.4 L1219.6,610.0 L1213.5,610.3 L1207.2,610.2 L1200.9,609.9 L1194.7,609.4 L1188.6,608.8 L1182.9,608.1 L1177.7,607.4 L1173.0,606.7 L1168.7,605.7 L1164.8,604.7 L1161.0,603.5 L1157.3,602.3 L1153.7,601.0 L1150.1,599.8 L1146.4,598.6 L1142.7,597.4 L1139.0,596.1 L1135.2,594.8 L1131.6,593.6 L1128.1,592.3 L1125.1,591.3 L1122.5,590.3 L1120.5,589.6 M1281.8,565.3 L1282.7,567.0 L1283.9,568.8 L1285.0,570.3 L1285.8,571.6 L1286.3,572.6 L1286.4,572.9 L1286.5,572.5 L1286.5,572.3 L1285.8,573.5 L1284.4,575.6 L1282.5,577.9 L1280.1,580.4 L1277.4,582.9 L1274.4,585.4 L1271.1,587.7 L1267.5,589.9 L1263.3,592.1 L1258.4,594.4 L1253.1,596.6 L1247.5,598.8 L1241.7,600.7 L1235.9,602.4 L1230.1,603.8 L1224.7,604.8 L1219.2,605.4 L1213.4,605.7 L1207.4,605.6 L1201.2,605.3 L1195.1,604.8 L1189.2,604.2 L1183.5,603.5 L1178.4,602.8 L1173.9,602.1 L1169.8,601.2 L1166.0,600.2 L1162.4,599.1 L1158.8,597.9 L1155.2,596.6 L1151.6,595.4 L1147.8,594.2 L1144.2,593.0 L1140.4,591.8 L1136.7,590.5 L1133.1,589.2 L1129.7,588.0 L1126.7,586.9 L1124.1,586.0 L1122.1,585.3" stroke="#000" stroke-opacity="0.16" stroke-width="1.3"/><path d="M1296.2,557.8 L1296.5,558.5 L1297.3,559.6 L1298.5,561.4 L1300.0,563.7 L1301.4,566.7 L1302.5,570.3 L1302.6,574.6 L1301.4,578.8 L1299.5,582.2 L1297.3,585.3 L1294.7,588.6 L1291.6,591.9 L1288.1,595.1 L1284.2,598.3 L1280.0,601.3 L1275.4,604.1 L1270.5,606.7 L1265.0,609.2 L1259.2,611.7 L1253.0,614.0 L1246.6,616.2 L1240.0,618.1 L1233.5,619.7 L1227.0,620.9 L1220.4,621.6 L1213.7,621.9 L1206.9,621.8 L1200.2,621.5 L1193.6,621.0 L1187.3,620.3 L1181.5,619.6 L1176.0,618.9 L1170.9,618.0 L1166.0,617.0 L1161.6,615.8 L1157.4,614.6 L1153.6,613.3 L1149.9,612.0 L1146.4,610.8 L1142.9,609.6 L1139.1,608.4 L1135.2,607.1 L1131.4,605.8 L1127.7,604.5 L1124.2,603.3 L1121.2,602.2 L1118.6,601.2 L1116.7,600.6 M1292.1,559.9 L1292.6,560.9 L1293.5,562.2 L1294.7,563.9 L1296.0,566.0 L1297.1,568.4 L1297.9,571.0 L1298.0,574.0 L1297.1,576.9 L1295.6,579.7 L1293.6,582.5 L1291.2,585.5 L1288.3,588.6 L1285.1,591.6 L1281.4,594.6 L1277.4,597.4 L1273.1,600.0 L1268.4,602.5 L1263.1,605.0 L1257.4,607.4 L1251.4,609.7 L1245.2,611.8 L1238.8,613.6 L1232.5,615.2 L1226.3,616.3 L1220.1,617.0 L1213.6,617.2 L1207.0,617.2 L1200.5,616.9 L1194.0,616.4 L1187.9,615.7 L1182.0,615.0 L1176.7,614.3 L1171.7,613.5 L1167.1,612.5 L1162.9,611.4 L1158.9,610.1 L1155.1,608.9 L1151.4,607.6 L1147.9,606.4 L1144.3,605.2 L1140.6,604.0 L1136.7,602.7 L1132.9,601.4 L1129.2,600.1 L1125.8,598.9 L1122.7,597.8 L1120.2,596.9 L1118.2,596.2 M1287.9,562.1 L1288.6,563.3 L1289.6,564.9 L1290.8,566.5 L1291.9,568.3 L1292.8,570.0 L1293.3,571.8 L1293.4,573.4 L1292.9,575.1 L1291.7,577.2 L1289.9,579.8 L1287.7,582.5 L1285.0,585.3 L1282.0,588.1 L1278.6,590.9 L1274.9,593.5 L1270.9,596.0 L1266.3,598.3 L1261.2,600.7 L1255.7,603.1 L1249.8,605.3 L1243.8,607.4 L1237.7,609.2 L1231.6,610.6 L1225.7,611.7 L1219.7,612.3 L1213.5,612.6 L1207.2,612.6 L1200.8,612.2 L1194.5,611.7 L1188.4,611.1 L1182.6,610.4 L1177.3,609.7 L1172.6,608.9 L1168.2,608.0 L1164.1,606.9 L1160.3,605.7 L1156.6,604.5 L1152.9,603.2 L1149.3,602.0 L1145.7,600.8 L1142.0,599.6 L1138.2,598.3 L1134.4,597.0 L1130.8,595.8 L1127.4,594.5 L1124.3,593.4 L1121.7,592.5 L1119.8,591.8 M1283.8,564.2 L1284.6,565.8 L1285.8,567.5 L1286.9,569.1 L1287.9,570.5 L1288.5,571.7 L1288.7,572.5 L1288.8,572.8 L1288.6,573.2 L1287.7,574.7 L1286.2,577.0 L1284.2,579.4 L1281.8,582.0 L1279.0,584.6 L1275.8,587.2 L1272.4,589.7 L1268.6,591.9 L1264.3,594.2 L1259.4,596.5 L1254.0,598.8 L1248.3,601.0 L1242.4,602.9 L1236.5,604.7 L1230.6,606.1 L1225.0,607.1 L1219.4,607.7 L1213.4,608.0 L1207.3,607.9 L1201.1,607.6 L1194.9,607.1 L1188.9,606.5 L1183.2,605.8 L1178.0,605.1 L1173.4,604.4 L1169.3,603.5 L1165.4,602.4 L1161.7,601.3 L1158.1,600.1 L1154.5,598.8 L1150.8,597.6 L1147.1,596.4 L1143.4,595.2 L1139.7,593.9 L1136.0,592.7 L1132.3,591.4 L1128.9,590.2 L1125.9,589.1 L1123.3,588.1 L1121.3,587.4" stroke="#fff" stroke-opacity="0.09" stroke-width="1.3"/><path d="M1295.7,558.1 L1296.0,558.8 L1296.8,559.9 L1298.1,561.7 L1299.5,564.0 L1300.9,566.9 L1301.9,570.4 L1302.0,574.5 L1300.9,578.5 L1299.0,581.9 L1296.8,585.0 L1294.2,588.2 L1291.2,591.5 L1287.7,594.7 L1283.9,597.8 L1279.7,600.8 L1275.1,603.6 L1270.2,606.1 L1264.8,608.7 L1258.9,611.1 L1252.8,613.5 L1246.4,615.7 L1239.9,617.6 L1233.4,619.1 L1226.9,620.3 L1220.4,621.0 L1213.7,621.3 L1206.9,621.3 L1200.2,620.9 L1193.7,620.4 L1187.4,619.8 L1181.5,619.0 L1176.1,618.3 L1171.0,617.5 L1166.2,616.4 L1161.7,615.3 L1157.6,614.0 L1153.8,612.7 L1150.1,611.4 L1146.6,610.2 L1143.0,609.1 L1139.3,607.9 L1135.4,606.6 L1131.6,605.3 L1127.9,604.0 L1124.4,602.7 L1121.4,601.6 L1118.8,600.7 L1116.9,600.0" stroke="#fff" stroke-opacity="0.12" stroke-width="8.7" filter="url(#b2)"/></g><g fill="none" stroke-linejoin="round"><path d="M1072.0,370.0 L1071.4,372.5 L1070.5,375.8 L1069.5,379.7" stroke="#e68749" stroke-width="33.0" stroke-linecap="round"/><path d="M1070.5,375.8 L1069.5,379.7 L1068.4,384.1 L1067.3,388.8" stroke="#e6884a" stroke-width="33.0"/><path d="M1068.4,384.1 L1067.3,388.8 L1066.1,393.8 L1065.0,398.9" stroke="#e6894c" stroke-width="33.0"/><path d="M1066.1,393.8 L1065.0,398.9 L1064.0,404.0 L1063.0,409.2" stroke="#e68a4e" stroke-width="33.0"/><path d="M1064.0,404.0 L1063.0,409.2 L1061.9,414.8 L1060.8,420.6" stroke="#e68b50" stroke-width="33.0"/><path d="M1061.9,414.8 L1060.8,420.6 L1059.7,426.6 L1058.7,432.7" stroke="#e68c52" stroke-width="33.0"/><path d="M1059.7,426.6 L1058.7,432.7 L1057.9,438.8 L1057.3,444.9" stroke="#e68d55" stroke-width="33.0"/><path d="M1057.9,438.8 L1057.3,444.9 L1057.0,451.0 L1057.0,457.1" stroke="#e68e57" stroke-width="33.0"/><path d="M1057.0,451.0 L1057.0,457.1 L1057.2,463.3 L1057.6,469.6" stroke="#e68d56" stroke-width="33.0"/><path d="M1057.2,463.3 L1057.6,469.6 L1058.2,475.9 L1059.0,482.2" stroke="#e68c54" stroke-width="33.0"/><path d="M1058.2,475.9 L1059.0,482.2 L1059.9,488.3 L1060.9,494.3" stroke="#e68b51" stroke-width="33.0"/><path d="M1059.9,488.3 L1060.9,494.3 L1062.0,500.0 L1063.2,505.6" stroke="#e68a4f" stroke-width="33.0"/><path d="M1062.0,500.0 L1063.2,505.6 L1064.7,511.1 L1066.2,516.5" stroke="#e6894d" stroke-width="33.0"/><path d="M1064.7,511.1 L1066.2,516.5 L1067.9,521.7 L1069.7,526.7" stroke="#e6884a" stroke-width="33.0"/><path d="M1067.9,521.7 L1069.7,526.7 L1071.5,531.5 L1073.3,535.9" stroke="#e68748" stroke-width="33.0"/><path d="M1071.5,531.5 L1073.3,535.9 L1075.0,540.0 L1076.8,543.8" stroke="#e88e54" stroke-width="33.0"/><path d="M1075.0,540.0 L1076.8,543.8 L1078.8,547.3 L1080.8,550.5" stroke="#ea9460" stroke-width="33.0"/><path d="M1078.8,547.3 L1080.8,550.5 L1082.8,553.5 L1084.7,556.2" stroke="#eb9a6a" stroke-width="33.0"/><path d="M1082.8,553.5 L1084.7,556.2 L1086.5,558.5 L1087.9,560.4" stroke="#ed9f73" stroke-width="33.0"/><path d="M1086.5,558.5 L1087.9,560.4 L1089.0,562.0" stroke="#eea37a" stroke-width="33.0" stroke-linecap="round"/><path d="M1086.1,373.5 L1085.5,376.1 L1084.6,379.4 L1083.6,383.3 L1082.5,387.6 L1081.4,392.2 L1080.3,397.0 L1079.2,401.8 L1078.3,406.8 L1077.2,412.0 L1076.1,417.6 L1075.0,423.3 L1074.0,429.0 L1073.1,434.8 L1072.3,440.5 L1071.8,446.0 L1071.5,451.4 L1071.5,456.8 L1071.7,462.6 L1072.1,468.4 L1072.7,474.4 L1073.4,480.3 L1074.3,486.1 L1075.2,491.7 L1076.2,497.1 L1077.4,502.2 L1078.7,507.2 L1080.1,512.2 L1081.7,517.1 L1083.3,521.8 L1085.0,526.2 L1086.7,530.4 L1088.2,534.0 L1089.7,537.1 L1091.3,539.9 L1093.0,542.6 L1094.7,545.2 L1096.4,547.6 L1098.1,549.8 L1099.7,551.9 L1100.9,553.8" stroke="#000" stroke-opacity="0.35" stroke-width="4.6" filter="url(#b1)"/><path d="M1057.9,366.5 L1057.3,369.0 L1056.5,372.2 L1055.5,376.1 L1054.3,380.6 L1053.2,385.4 L1052.0,390.6 L1050.8,395.9 L1049.7,401.2 L1048.7,406.5 L1047.6,412.0 L1046.5,417.9 L1045.4,424.1 L1044.3,430.5 L1043.5,437.2 L1042.8,443.9 L1042.5,450.6 L1042.5,457.3 L1042.7,464.1 L1043.2,470.8 L1043.8,477.5 L1044.6,484.1 L1045.6,490.6 L1046.6,496.9 L1047.8,502.9 L1049.1,509.0 L1050.7,514.9 L1052.4,520.7 L1054.2,526.3 L1056.1,531.7 L1058.0,536.7 L1059.8,541.4 L1061.8,546.0 L1063.9,550.4 L1066.3,554.7 L1068.6,558.5 L1070.9,561.8 L1073.0,564.7 L1074.8,567.1 L1076.1,568.9 L1077.1,570.2" stroke="#000" stroke-opacity="0.35" stroke-width="4.6" filter="url(#b1)"/><path d="M1082.3,372.5 L1081.6,375.1 L1080.8,378.4 L1079.8,382.3 L1078.7,386.6 L1077.6,391.3 L1076.4,396.1 L1075.3,401.0 L1074.4,406.0 L1073.4,411.3 L1072.3,416.8 L1071.2,422.5 L1070.1,428.3 L1069.1,434.2 L1068.4,440.0 L1067.8,445.7 L1067.6,451.3 L1067.6,456.9 L1067.8,462.8 L1068.2,468.8 L1068.7,474.8 L1069.5,480.8 L1070.3,486.7 L1071.3,492.4 L1072.3,497.9 L1073.5,503.1 L1074.8,508.2 L1076.3,513.3 L1077.9,518.3 L1079.6,523.1 L1081.3,527.7 L1083.0,531.9 L1084.6,535.7 L1086.2,538.9 L1087.9,541.9 L1089.6,544.8 L1091.5,547.4 L1093.2,549.9 L1094.9,552.2 L1096.5,554.3 L1097.7,556.0 M1077.1,371.3 L1076.5,373.8 L1075.7,377.1 L1074.7,381.0 L1073.6,385.3 L1072.4,390.0 L1071.3,394.9 L1070.2,400.0 L1069.2,405.0 L1068.2,410.2 L1067.1,415.8 L1066.0,421.6 L1064.9,427.5 L1063.9,433.4 L1063.1,439.4 L1062.6,445.3 L1062.3,451.1 L1062.3,457.0 L1062.5,463.0 L1062.9,469.2 L1063.5,475.4 L1064.2,481.5 L1065.1,487.5 L1066.1,493.4 L1067.2,498.9 L1068.4,504.3 L1069.8,509.6 L1071.3,514.9 L1072.9,520.0 L1074.7,524.9 L1076.4,529.6 L1078.2,533.9 L1079.8,537.8 L1081.5,541.3 L1083.3,544.6 L1085.2,547.7 L1087.1,550.5 L1089.0,553.0 L1090.7,555.3 L1092.2,557.3 L1093.3,559.0 M1072.0,370.0 L1071.4,372.5 L1070.5,375.8 L1069.5,379.7 L1068.4,384.1 L1067.3,388.8 L1066.1,393.8 L1065.0,398.9 L1064.0,404.0 L1063.0,409.2 L1061.9,414.8 L1060.8,420.6 L1059.7,426.6 L1058.7,432.7 L1057.9,438.8 L1057.3,444.9 L1057.0,451.0 L1057.0,457.1 L1057.2,463.3 L1057.6,469.6 L1058.2,475.9 L1059.0,482.2 L1059.9,488.3 L1060.9,494.3 L1062.0,500.0 L1063.2,505.6 L1064.7,511.1 L1066.2,516.5 L1067.9,521.7 L1069.7,526.7 L1071.5,531.5 L1073.3,535.9 L1075.0,540.0 L1076.8,543.8 L1078.8,547.3 L1080.8,550.5 L1082.8,553.5 L1084.7,556.2 L1086.5,558.5 L1087.9,560.4 L1089.0,562.0 M1066.9,368.7 L1066.3,371.2 L1065.4,374.5 L1064.4,378.4 L1063.3,382.8 L1062.1,387.6 L1061.0,392.6 L1059.8,397.8 L1058.8,403.0 L1057.8,408.2 L1056.7,413.8 L1055.6,419.6 L1054.5,425.7 L1053.5,431.9 L1052.6,438.2 L1052.0,444.6 L1051.7,450.9 L1051.7,457.2 L1051.9,463.6 L1052.4,470.1 L1053.0,476.5 L1053.8,482.9 L1054.7,489.2 L1055.7,495.2 L1056.8,501.1 L1058.1,506.8 L1059.6,512.5 L1061.2,518.0 L1062.9,523.4 L1064.7,528.5 L1066.6,533.4 L1068.4,537.9 L1070.2,542.2 L1072.1,546.2 L1074.2,550.0 L1076.4,553.4 L1078.5,556.5 L1080.5,559.3 L1082.2,561.6 L1083.6,563.5 L1084.7,565.0 M1061.7,367.5 L1061.1,370.0 L1060.3,373.2 L1059.3,377.1 L1058.2,381.5 L1057.0,386.4 L1055.8,391.5 L1054.7,396.8 L1053.6,402.0 L1052.6,407.2 L1051.5,412.8 L1050.4,418.6 L1049.3,424.8 L1048.3,431.1 L1047.4,437.6 L1046.8,444.2 L1046.4,450.7 L1046.4,457.3 L1046.7,463.9 L1047.1,470.5 L1047.8,477.1 L1048.5,483.6 L1049.5,490.0 L1050.5,496.2 L1051.7,502.1 L1053.0,508.0 L1054.5,513.9 L1056.2,519.6 L1057.9,525.1 L1059.8,530.3 L1061.6,535.3 L1063.5,539.9 L1065.4,544.3 L1067.4,548.6 L1069.7,552.6 L1071.9,556.3 L1074.2,559.6 L1076.2,562.4 L1078.0,564.8 L1079.3,566.6 L1080.3,568.0" stroke="#000" stroke-opacity="0.16" stroke-width="1.3"/><path d="M1079.7,371.9 L1079.1,374.5 L1078.2,377.8 L1077.2,381.6 L1076.1,386.0 L1075.0,390.6 L1073.8,395.5 L1072.8,400.5 L1071.8,405.5 L1070.8,410.8 L1069.7,416.3 L1068.6,422.0 L1067.5,427.9 L1066.5,433.8 L1065.8,439.7 L1065.2,445.5 L1064.9,451.2 L1064.9,457.0 L1065.1,462.9 L1065.5,469.0 L1066.1,475.1 L1066.9,481.1 L1067.7,487.1 L1068.7,492.9 L1069.8,498.4 L1070.9,503.7 L1072.3,508.9 L1073.8,514.1 L1075.4,519.2 L1077.1,524.0 L1078.9,528.6 L1080.6,532.9 L1082.2,536.8 L1083.8,540.1 L1085.6,543.3 L1087.4,546.2 L1089.3,549.0 L1091.1,551.5 L1092.8,553.7 L1094.3,555.8 L1095.5,557.5 M1074.6,370.6 L1073.9,373.2 L1073.1,376.5 L1072.1,380.3 L1071.0,384.7 L1069.8,389.4 L1068.7,394.4 L1067.6,399.4 L1066.6,404.5 L1065.6,409.7 L1064.5,415.3 L1063.4,421.1 L1062.3,427.0 L1061.3,433.0 L1060.5,439.1 L1059.9,445.1 L1059.6,451.1 L1059.6,457.0 L1059.9,463.2 L1060.3,469.4 L1060.9,475.7 L1061.6,481.8 L1062.5,487.9 L1063.5,493.8 L1064.6,499.5 L1065.8,504.9 L1067.2,510.4 L1068.8,515.7 L1070.4,520.8 L1072.2,525.8 L1074.0,530.5 L1075.7,534.9 L1077.4,538.9 L1079.1,542.6 L1081.0,545.9 L1083.0,549.1 L1085.0,552.0 L1086.9,554.6 L1088.6,556.9 L1090.1,558.9 L1091.2,560.5 M1069.4,369.4 L1068.8,371.9 L1068.0,375.1 L1067.0,379.0 L1065.9,383.4 L1064.7,388.2 L1063.5,393.2 L1062.4,398.4 L1061.4,403.5 L1060.4,408.7 L1059.3,414.3 L1058.2,420.1 L1057.1,426.1 L1056.1,432.3 L1055.3,438.5 L1054.7,444.7 L1054.4,450.9 L1054.4,457.1 L1054.6,463.5 L1055.0,469.8 L1055.6,476.2 L1056.4,482.5 L1057.3,488.7 L1058.3,494.8 L1059.4,500.5 L1060.7,506.2 L1062.1,511.8 L1063.7,517.2 L1065.4,522.5 L1067.2,527.6 L1069.0,532.4 L1070.8,536.9 L1072.6,541.1 L1074.5,545.0 L1076.5,548.6 L1078.6,552.0 L1080.7,555.0 L1082.6,557.7 L1084.3,560.0 L1085.8,562.0 L1086.8,563.5 M1064.3,368.1 L1063.7,370.6 L1062.9,373.8 L1061.9,377.7 L1060.8,382.2 L1059.6,387.0 L1058.4,392.0 L1057.3,397.3 L1056.2,402.5 L1055.2,407.7 L1054.1,413.3 L1053.0,419.1 L1051.9,425.2 L1050.9,431.5 L1050.0,437.9 L1049.4,444.4 L1049.1,450.8 L1049.1,457.2 L1049.3,463.7 L1049.8,470.3 L1050.4,476.8 L1051.2,483.2 L1052.1,489.6 L1053.1,495.7 L1054.2,501.6 L1055.5,507.4 L1057.0,513.2 L1058.7,518.8 L1060.4,524.2 L1062.3,529.4 L1064.1,534.3 L1065.9,538.9 L1067.8,543.2 L1069.8,547.4 L1071.9,551.3 L1074.2,554.9 L1076.3,558.0 L1078.3,560.8 L1080.1,563.2 L1081.5,565.0 L1082.5,566.5" stroke="#fff" stroke-opacity="0.09" stroke-width="1.3"/><path d="M1079.0,371.7 L1078.4,374.3 L1077.6,377.6 L1076.6,381.5 L1075.5,385.8 L1074.3,390.5 L1073.2,395.4 L1072.1,400.4 L1071.1,405.4 L1070.1,410.6 L1069.0,416.2 L1067.9,421.9 L1066.8,427.8 L1065.9,433.7 L1065.1,439.6 L1064.5,445.5 L1064.3,451.2 L1064.3,457.0 L1064.5,462.9 L1064.9,469.0 L1065.5,475.2 L1066.2,481.2 L1067.1,487.2 L1068.1,493.0 L1069.1,498.5 L1070.3,503.9 L1071.7,509.1 L1073.2,514.3 L1074.8,519.4 L1076.5,524.2 L1078.3,528.9 L1080.0,533.2 L1081.6,537.0 L1083.2,540.4 L1085.0,543.6 L1086.9,546.6 L1088.8,549.3 L1090.6,551.9 L1092.3,554.1 L1093.8,556.2 L1095.0,557.9" stroke="#fff" stroke-opacity="0.12" stroke-width="9.9" filter="url(#b2)"/></g></g>
<g><defs><linearGradient id="gb1" gradientUnits="userSpaceOnUse" x1="1390" y1="100" x2="1360" y2="150"><stop offset="0" stop-color="#fbd3ae"/><stop offset="0.5" stop-color="#f0aa72"/><stop offset="1" stop-color="#d9813f"/></linearGradient><linearGradient id="gb2" gradientUnits="userSpaceOnUse" x1="1455" y1="115" x2="1430" y2="160"><stop offset="0" stop-color="#fcd9b8"/><stop offset="0.6" stop-color="#f6c294"/><stop offset="1" stop-color="#eeb07a"/></linearGradient><linearGradient id="gc1" gradientUnits="userSpaceOnUse" x1="1380" y1="206" x2="1420" y2="248"><stop offset="0" stop-color="#a9541b"/><stop offset="1" stop-color="#c26a2a"/></linearGradient><linearGradient id="gt3" gradientUnits="userSpaceOnUse" x1="1460" y1="258" x2="1512" y2="236"><stop offset="0" stop-color="#cdbf9e"/><stop offset="0.5" stop-color="#a09070"/><stop offset="1" stop-color="#5e5040"/></linearGradient><linearGradient id="gt4" gradientUnits="userSpaceOnUse" x1="1510" y1="306" x2="1560" y2="285"><stop offset="0" stop-color="#ece2c8"/><stop offset="1" stop-color="#d8ccb0"/></linearGradient><linearGradient id="ge5" gradientUnits="userSpaceOnUse" x1="1497" y1="415" x2="1508" y2="440"><stop offset="0" stop-color="#a87c50"/><stop offset="0.5" stop-color="#4a3428"/><stop offset="1" stop-color="#241a18"/></linearGradient><linearGradient id="gf6" gradientUnits="userSpaceOnUse" x1="1534" y1="500" x2="1573" y2="500"><stop offset="0" stop-color="#2a1e1c"/><stop offset="1" stop-color="#5a463c"/></linearGradient></defs>
<polyline points="1283.0,298.0 1368.5,160.0" fill="none" stroke="#e0905c" stroke-width="2.8" stroke-linejoin="round"/>
<polyline points="1399.0,101.0 1430.8,51.4 1474.6,107.6 1470.0,118.0" fill="none" stroke="#e0905c" stroke-width="2.6" stroke-linejoin="round"/>
<polyline points="1438.5,172.0 1411.0,214.0" fill="none" stroke="#e0905c" stroke-width="2.8" stroke-linejoin="round"/>
<polyline points="1398.0,236.0 1333.0,345.0" fill="none" stroke="#e0905c" stroke-width="3" stroke-linejoin="round"/>
<polygon points="1352.2,146.0 1369.3,153.3 1384.0,164.3 1368.0,165.5" fill="#c06a2c"/>
<polygon points="1397.4,99.5 1412.0,117.9 1384.0,164.3 1369.3,153.3" fill="#eba56e"/>
<polygon points="1380.3,100.8 1397.4,99.5 1369.3,153.3 1352.2,146.0" fill="url(#gb1)"/>
<polygon points="1421.8,159.4 1443.8,160.6 1453.6,177.7 1437.7,176.5" fill="#c06a2c"/>
<polygon points="1467.0,114.7 1479.2,132.5 1453.6,177.7 1443.8,160.6" fill="#eba56e"/>
<polygon points="1442.6,114.2 1467.0,114.7 1443.8,160.6 1421.8,159.4" fill="url(#gb2)"/>
<polyline points="1446.3,129.0 1443.8,109.5" fill="none" stroke="#4a4040" stroke-width="1.7" stroke-linejoin="round"/>
<polygon points="1443.8,102.5 1437.5,109.6 1450.2,109.6" fill="#f2b080"/>
<polyline points="1453.0,177.0 1454.0,182.0" fill="none" stroke="#8a5a30" stroke-width="1.4" stroke-linejoin="round"/>
<polygon points="1379.0,205.8 1404.7,205.8 1431.6,240.0 1406.0,240.0" fill="#a24f18"/>
<polygon points="1373.0,216.0 1398.6,216.0 1425.5,248.5 1399.8,248.5" fill="url(#gc1)"/>
<polyline points="1398.6,216.0 1425.5,248.5" fill="none" stroke="#e8a070" stroke-width="1.3" stroke-linejoin="round"/>
<polyline points="1351.0,339.0 1466.0,269.0" fill="none" stroke="#a39c93" stroke-width="2.8" stroke-linejoin="round"/>
<polyline points="1516.5,242.0 1555.7,220.0 1570.7,282.3 1564.0,289.0" fill="none" stroke="#a39c93" stroke-width="2.6" stroke-linejoin="round"/>
<polyline points="1518.8,319.2 1484.0,340.0" fill="none" stroke="#a39c93" stroke-width="2.8" stroke-linejoin="round"/>
<polyline points="1464.6,351.5 1370.0,408.0" fill="none" stroke="#a39c93" stroke-width="3" stroke-linejoin="round"/>
<polygon points="1457.7,257.0 1475.0,255.8 1482.0,281.0 1464.6,281.0" fill="#6a5a42"/>
<polygon points="1457.7,257.0 1498.0,234.3 1514.2,236.0 1475.0,255.8" fill="url(#gt3)"/>
<polygon points="1475.0,255.8 1514.2,236.1 1518.8,259.2 1482.0,281.0" fill="#8d949b"/>
<polygon points="1507.3,306.5 1522.3,305.4 1529.2,330.7 1513.0,330.7" fill="#463828"/>
<polygon points="1507.3,306.5 1547.6,285.7 1561.5,284.6 1522.3,305.4" fill="url(#gt4)"/>
<polygon points="1522.3,305.4 1561.5,284.6 1567.3,307.7 1529.2,330.7" fill="#8d949b"/>
<polyline points="1540.7,289.2 1545.3,272.5" fill="none" stroke="#4a4040" stroke-width="1.8" stroke-linejoin="round"/>
<polygon points="1546.8,266.5 1539.5,271.5 1551.0,274.5" fill="#d8cfc0"/>
<polyline points="1528.0,330.7 1525.7,338.8" fill="none" stroke="#5a4a38" stroke-width="1.6" stroke-linejoin="round"/>
<polygon points="1454.2,322.7 1479.6,325.0 1489.5,367.6 1464.0,366.0" fill="#4a3c2a"/>
<polygon points="1446.1,328.4 1472.7,330.7 1481.9,373.4 1455.4,372.2" fill="#54442e"/>
<polyline points="1472.7,330.7 1481.9,373.4" fill="none" stroke="#c8c2b6" stroke-width="1.4" stroke-linejoin="round"/>
<polyline points="1391.0,421.0 1500.0,426.5" fill="none" stroke="#3c3838" stroke-width="2.8" stroke-linejoin="round"/>
<polyline points="1552.0,429.7 1592.9,431.7 1579.7,500.0 1572.0,500.0" fill="none" stroke="#3c3838" stroke-width="2.8" stroke-linejoin="round"/>
<polyline points="1524.7,498.0 1490.0,497.0" fill="none" stroke="#3c3838" stroke-width="2.8" stroke-linejoin="round"/>
<polyline points="1467.7,496.3 1379.0,493.0" fill="none" stroke="#3c3838" stroke-width="3" stroke-linejoin="round"/>
<polygon points="1512.5,415.5 1553.2,418.5 1549.1,442.9 1508.4,440.9" fill="#1f1717"/>
<polygon points="1497.2,414.4 1512.5,415.5 1508.4,440.9 1492.1,437.9" fill="url(#ge5)"/>
<polygon points="1533.9,486.7 1573.6,489.8 1570.5,512.2 1528.8,511.2" fill="url(#gf6)"/>
<polygon points="1518.6,484.7 1533.9,486.7 1528.8,511.2 1513.5,508.1" fill="#231a18"/>
<polyline points="1552.2,486.0 1563.5,474.0" fill="none" stroke="#6a5446" stroke-width="2" stroke-linejoin="round"/>
<ellipse cx="1564.6" cy="472.6" rx="4.3" ry="3.4" fill="#7a706a" transform="rotate(-40 1564.6 472.6)"/>
<polyline points="1529.8,511.2 1523.7,520.3" fill="none" stroke="#7a5a40" stroke-width="1.8" stroke-linejoin="round"/>
<polygon points="1484.0,475.5 1493.1,477.6 1486.0,520.3 1476.8,522.4" fill="#2a201e"/>
<polygon points="1459.5,472.5 1484.0,475.5 1476.8,522.4 1450.4,516.2" fill="#1c1513"/>
<polyline points="1484.0,475.5 1477.0,522.0" fill="none" stroke="#4a4e5c" stroke-width="1.2" stroke-linejoin="round"/></g>
<rect x="0" y="0" width="10" height="737" fill="#000"/>
<g stroke="#000" stroke-width="6.6" fill="none"><line x1="132.15" y1="67.90" x2="182.95" y2="67.90"/><line x1="188.69" y1="70.11" x2="232.68" y2="95.51"/><line x1="236.54" y1="100.29" x2="261.94" y2="144.28"/><line x1="262.90" y1="150.35" x2="262.90" y2="201.15"/><line x1="260.69" y1="206.89" x2="235.29" y2="250.88"/><line x1="230.51" y1="254.74" x2="186.52" y2="280.14"/><line x1="180.45" y1="281.10" x2="129.65" y2="281.10"/><line x1="123.91" y1="278.89" x2="79.92" y2="253.49"/><line x1="76.06" y1="248.71" x2="50.66" y2="204.72"/><line x1="49.70" y1="198.65" x2="49.70" y2="147.85"/><line x1="51.91" y1="142.11" x2="77.31" y2="98.12"/><line x1="82.09" y1="94.26" x2="126.08" y2="68.86"/></g>
<circle cx="413" cy="178" r="94" fill="#bfbfbf"/>
<g stroke="#fda534" stroke-width="6.6" fill="none"><line x1="388.45" y1="70.40" x2="439.25" y2="70.40"/><line x1="445.04" y1="72.62" x2="489.03" y2="98.02"/><line x1="492.93" y1="102.84" x2="518.33" y2="146.83"/><line x1="519.30" y1="152.95" x2="519.30" y2="203.75"/><line x1="517.08" y1="209.54" x2="491.68" y2="253.53"/><line x1="486.86" y1="257.43" x2="442.87" y2="282.83"/><line x1="436.75" y1="283.80" x2="385.95" y2="283.80"/><line x1="380.16" y1="281.58" x2="336.17" y2="256.18"/><line x1="332.27" y1="251.36" x2="306.87" y2="207.37"/><line x1="305.90" y1="201.25" x2="305.90" y2="150.45"/><line x1="308.12" y1="144.66" x2="333.52" y2="100.67"/><line x1="338.34" y1="96.77" x2="382.33" y2="71.37"/></g>
<circle cx="667" cy="176.3" r="93.8" fill="#bfbfbf"/>
<g stroke="#08bd00" stroke-width="6.6" fill="none"><line x1="642.05" y1="69.50" x2="692.85" y2="69.50"/><line x1="698.69" y1="71.73" x2="742.68" y2="97.13"/><line x1="746.62" y1="101.99" x2="772.02" y2="145.98"/><line x1="773.00" y1="152.15" x2="773.00" y2="202.95"/><line x1="770.77" y1="208.79" x2="745.37" y2="252.78"/><line x1="740.51" y1="256.72" x2="696.52" y2="282.12"/><line x1="690.35" y1="283.10" x2="639.55" y2="283.10"/><line x1="633.71" y1="280.87" x2="589.72" y2="255.47"/><line x1="585.78" y1="250.61" x2="560.38" y2="206.62"/><line x1="559.40" y1="200.45" x2="559.40" y2="149.65"/><line x1="561.63" y1="143.81" x2="587.03" y2="99.82"/><line x1="591.89" y1="95.88" x2="635.88" y2="70.48"/></g>
<path d="M157.0,93.0 A82.5,82.5 0 0 1 238.1,160.3" stroke="#bd6bef" stroke-width="9.4" fill="none"/><path d="M239.5,182.5 L251.0,151.9 L239.5,156.5 L228.0,151.9 Z" fill="#bd6bef"/>
<path d="M412.4,96.3 A83,83 0 0 1 494.3,165.7" stroke="#ab56e2" stroke-width="5.4" fill="none"/><path d="M495.4,182.0 L504.7,159.6 L495.4,163.0 L486.1,159.6 Z" fill="#ab56e2"/>
<path d="M416.0,134.2 A46.8,46.8 0 0 1 448.8,147.6" stroke="#eeeeee" stroke-width="8.4" fill="none"/><path d="M462.1,166.6 L456.2,134.2 L447.9,143.6 L435.8,146.8 Z" fill="#eeeeee"/>
<path d="M666.6,94.5 A83,83 0 0 1 747.8,160.1" stroke="#ab56e2" stroke-width="10.7" fill="none"/><path d="M749.6,187.0 L763.5,150.0 L749.6,155.6 L735.7,150.0 Z" fill="#ab56e2"/>
<path d="M669.0,130.5 A46,46 0 0 1 707.4,201.8" stroke="#eeeeee" stroke-width="8.4" fill="none"/><path d="M690.5,217.9 L721.8,207.9 L712.2,201.4 L708.5,190.4 Z" fill="#eeeeee"/>
<path d="M114.0,306.5 L116.3,308.0 L118.6,309.4 L120.9,310.8 L123.2,312.1 L125.5,313.2 L127.8,314.2 L130.1,315.0 L132.4,315.5 L134.7,315.9 L137.0,316.0 L139.3,315.9 L141.6,315.5 L143.9,315.0 L146.2,314.2 L148.5,313.2 L150.8,312.1 L153.1,310.8 L155.4,309.4 L157.7,308.0 L160.0,306.5 L162.3,305.0 L164.6,303.6 L166.9,302.2 L169.2,300.9 L171.5,299.8 L173.8,298.8 L176.1,298.0 L178.4,297.5 L180.7,297.1 L183.0,297.0 L185.3,297.1 L187.6,297.5 L189.9,298.0 L192.2,298.8 L194.5,299.8 L196.8,300.9 L199.1,302.2 L201.4,303.6 L203.7,305.0 L206.0,306.5" stroke="#000" stroke-width="5.6" fill="none"/>
<rect x="-2.8" y="-2.8" width="5.6" height="5.6" fill="#fda534" transform="translate(371.3,310.8) rotate(25)"/>
<rect x="-2.8" y="-2.8" width="5.6" height="5.6" fill="#fda534" transform="translate(388.2,315.7) rotate(0)"/>
<rect x="-2.8" y="-2.8" width="5.6" height="5.6" fill="#fda534" transform="translate(405,313.3) rotate(-20)"/>
<rect x="-2.8" y="-2.8" width="5.6" height="5.6" fill="#fda534" transform="translate(422,307.2) rotate(-20)"/>
<rect x="-2.8" y="-2.8" width="5.6" height="5.6" fill="#fda534" transform="translate(438.8,304.1) rotate(0)"/>
<rect x="-2.8" y="-2.8" width="5.6" height="5.6" fill="#fda534" transform="translate(456.4,307.7) rotate(20)"/>
<path d="M618.0,310.0 L620.3,311.8 L622.6,313.6 L625.0,315.2 L627.3,316.8 L629.6,318.1 L632.0,319.3 L634.3,320.2 L636.6,320.9 L638.9,321.4 L641.2,321.5 L643.6,321.4 L645.9,320.9 L648.2,320.2 L650.5,319.3 L652.9,318.1 L655.2,316.8 L657.5,315.2 L659.9,313.6 L662.2,311.8 L664.5,310.0 L666.8,308.2 L669.1,306.4 L671.5,304.8 L673.8,303.2 L676.1,301.9 L678.5,300.7 L680.8,299.8 L683.1,299.1 L685.4,298.6 L687.8,298.5 L690.1,298.6 L692.4,299.1 L694.7,299.8 L697.0,300.7 L699.4,301.9 L701.7,303.2 L704.0,304.8 L706.4,306.4 L708.7,308.2 L711.0,310.0" stroke="#08bd00" stroke-width="5.3" fill="none" stroke-dasharray="37,7"/>
<path d="M154.0,511.0 L156.0,513.5 L158.0,516.0 L160.0,518.5 L162.0,520.9 L164.0,523.4 L166.0,525.7 L168.0,528.0 L170.0,530.3 L172.0,532.4 L174.0,534.5 L176.0,536.5 L178.0,538.4 L180.0,540.2 L182.0,541.8 L184.0,543.4 L186.0,544.8 L188.0,546.1 L190.0,547.2 L192.0,548.2 L194.0,549.0 L196.0,549.7 L198.0,550.3 L200.0,550.7 L202.0,550.9 L204.0,551.0 L206.0,550.9 L208.0,550.7 L210.0,550.3 L212.0,549.7 L214.0,549.0 L216.0,548.2 L218.0,547.2 L220.0,546.1 L222.0,544.8 L224.0,543.4 L226.0,541.8 L228.0,540.2 L230.0,538.4 L232.0,536.5 L234.0,534.5 L236.0,532.4 L238.0,530.3 L240.0,528.0 L242.0,525.7 L244.0,523.4 L246.0,520.9 L248.0,518.5 L250.0,516.0 L252.0,513.5 L254.0,511.0 L256.0,508.5 L258.0,506.0 L260.0,503.5 L262.0,501.1 L264.0,498.6 L266.0,496.3 L268.0,494.0 L270.0,491.7 L272.0,489.6 L274.0,487.5 L276.0,485.5 L278.0,483.6 L280.0,481.8 L282.0,480.2 L284.0,478.6 L286.0,477.2 L288.0,475.9 L290.0,474.8 L292.0,473.8 L294.0,473.0 L296.0,472.3 L298.0,471.7 L300.0,471.3 L302.0,471.1 L304.0,471.0 L306.0,471.1 L308.0,471.3 L310.0,471.7 L312.0,472.3 L314.0,473.0 L316.0,473.8 L318.0,474.8 L320.0,475.9 L322.0,477.2 L324.0,478.6 L326.0,480.2 L328.0,481.8 L330.0,483.6 L332.0,485.5 L334.0,487.5 L336.0,489.6 L338.0,491.7 L340.0,494.0 L342.0,496.3 L344.0,498.6 L346.0,501.1 L348.0,503.5 L350.0,506.0 L352.0,508.5 L354.0,511.0 L356.0,513.5 L358.0,516.0 L360.0,518.5 L362.0,520.9 L364.0,523.4 L366.0,525.7 L368.0,528.0 L370.0,530.3 L372.0,532.4 L374.0,534.5 L376.0,536.5 L378.0,538.4 L380.0,540.2 L382.0,541.8 L384.0,543.4 L386.0,544.8 L388.0,546.1 L390.0,547.2 L392.0,548.2 L394.0,549.0 L396.0,549.7 L398.0,550.3 L400.0,550.7 L402.0,550.9 L404.0,551.0 L406.0,550.9 L408.0,550.7 L410.0,550.3 L412.0,549.7 L414.0,549.0 L416.0,548.2 L418.0,547.2 L420.0,546.1 L422.0,544.8 L424.0,543.4 L426.0,541.8 L428.0,540.2 L430.0,538.4 L432.0,536.5 L434.0,534.5 L436.0,532.4 L438.0,530.3 L440.0,528.0 L442.0,525.7 L444.0,523.4 L446.0,520.9 L448.0,518.5 L450.0,516.0 L452.0,513.5 L454.0,511.0 L456.0,508.5 L458.0,506.0 L460.0,503.5 L462.0,501.1 L464.0,498.6 L466.0,496.3 L468.0,494.0 L470.0,491.7 L472.0,489.6 L474.0,487.5 L476.0,485.5 L478.0,483.6 L480.0,481.8 L482.0,480.2 L484.0,478.6 L486.0,477.2 L488.0,475.9 L490.0,474.8 L492.0,473.8 L494.0,473.0 L496.0,472.3 L498.0,471.7 L500.0,471.3 L502.0,471.1 L504.0,471.0 L506.0,471.1 L508.0,471.3 L510.0,471.7 L512.0,472.3 L514.0,473.0 L516.0,473.8 L518.0,474.8 L520.0,475.9 L522.0,477.2 L524.0,478.6 L526.0,480.2 L528.0,481.8 L530.0,483.6 L532.0,485.5 L534.0,487.5 L536.0,489.6 L538.0,491.7 L540.0,494.0 L542.0,496.3 L544.0,498.6 L546.0,501.1 L548.0,503.5 L550.0,506.0 L552.0,508.5 L554.0,511.0 L556.0,513.5 L558.0,516.0 L560.0,518.5 L562.0,520.9 L564.0,523.4 L566.0,525.7 L568.0,528.0 L570.0,530.3 L572.0,532.4 L574.0,534.5 L576.0,536.5 L578.0,538.4 L580.0,540.2 L582.0,541.8 L584.0,543.4 L586.0,544.8 L588.0,546.1 L590.0,547.2 L592.0,548.2 L594.0,549.0 L596.0,549.7 L598.0,550.3 L600.0,550.7 L602.0,550.9 L604.0,551.0 L606.0,550.9 L608.0,550.7 L610.0,550.3 L612.0,549.7 L614.0,549.0 L616.0,548.2 L618.0,547.2 L620.0,546.1 L622.0,544.8 L624.0,543.4 L626.0,541.8 L628.0,540.2 L630.0,538.4 L632.0,536.5 L634.0,534.5 L636.0,532.4 L638.0,530.3 L640.0,528.0 L642.0,525.7 L644.0,523.4 L646.0,520.9 L648.0,518.5 L650.0,516.0 L652.0,513.5 L654.0,511.0" stroke="#fdab4a" stroke-width="5.7" fill="none" stroke-dasharray="5.7,11.7"/>
<path d="M154.0,510.0 L156.0,517.2 L158.0,524.4 L160.0,531.5 L162.0,538.5 L164.0,545.4 L166.0,552.2 L168.0,558.8 L170.0,565.2 L172.0,571.4 L174.0,577.3 L176.0,583.0 L178.0,588.4 L180.0,593.5 L182.0,598.2 L184.0,602.6 L186.0,606.7 L188.0,610.3 L190.0,613.6 L192.0,616.5 L194.0,618.9 L196.0,620.9 L198.0,622.5 L200.0,623.6 L202.0,624.3 L204.0,624.5 L206.0,624.3 L208.0,623.6 L210.0,622.5 L212.0,620.9 L214.0,618.9 L216.0,616.5 L218.0,613.6 L220.0,610.3 L222.0,606.7 L224.0,602.6 L226.0,598.2 L228.0,593.5 L230.0,588.4 L232.0,583.0 L234.0,577.3 L236.0,571.4 L238.0,565.2 L240.0,558.8 L242.0,552.2 L244.0,545.4 L246.0,538.5 L248.0,531.5 L250.0,524.4 L252.0,517.2 L254.0,510.0 L256.0,502.8 L258.0,495.6 L260.0,488.5 L262.0,481.5 L264.0,474.6 L266.0,467.8 L268.0,461.2 L270.0,454.8 L272.0,448.6 L274.0,442.7 L276.0,437.0 L278.0,431.6 L280.0,426.5 L282.0,421.8 L284.0,417.4 L286.0,413.3 L288.0,409.7 L290.0,406.4 L292.0,403.5 L294.0,401.1 L296.0,399.1 L298.0,397.5 L300.0,396.4 L302.0,395.7 L304.0,395.5 L306.0,395.7 L308.0,396.4 L310.0,397.5 L312.0,399.1 L314.0,401.1 L316.0,403.5 L318.0,406.4 L320.0,409.7 L322.0,413.3 L324.0,417.4 L326.0,421.8 L328.0,426.5 L330.0,431.6 L332.0,437.0 L334.0,442.7 L336.0,448.6 L338.0,454.8 L340.0,461.2 L342.0,467.8 L344.0,474.6 L346.0,481.5 L348.0,488.5 L350.0,495.6 L352.0,502.8 L354.0,510.0 L356.0,517.2 L358.0,524.4 L360.0,531.5 L362.0,538.5 L364.0,545.4 L366.0,552.2 L368.0,558.8 L370.0,565.2 L372.0,571.4 L374.0,577.3 L376.0,583.0 L378.0,588.4 L380.0,593.5 L382.0,598.2 L384.0,602.6 L386.0,606.7 L388.0,610.3 L390.0,613.6 L392.0,616.5 L394.0,618.9 L396.0,620.9 L398.0,622.5 L400.0,623.6 L402.0,624.3 L404.0,624.5 L406.0,624.3 L408.0,623.6 L410.0,622.5 L412.0,620.9 L414.0,618.9 L416.0,616.5 L418.0,613.6 L420.0,610.3 L422.0,606.7 L424.0,602.6 L426.0,598.2 L428.0,593.5 L430.0,588.4 L432.0,583.0 L434.0,577.3 L436.0,571.4 L438.0,565.2 L440.0,558.8 L442.0,552.2 L444.0,545.4 L446.0,538.5 L448.0,531.5 L450.0,524.4 L452.0,517.2 L454.0,510.0 L456.0,502.8 L458.0,495.6 L460.0,488.5 L462.0,481.5 L464.0,474.6 L466.0,467.8 L468.0,461.2 L470.0,454.8 L472.0,448.6 L474.0,442.7 L476.0,437.0 L478.0,431.6 L480.0,426.5 L482.0,421.8 L484.0,417.4 L486.0,413.3 L488.0,409.7 L490.0,406.4 L492.0,403.5 L494.0,401.1 L496.0,399.1 L498.0,397.5 L500.0,396.4 L502.0,395.7 L504.0,395.5 L506.0,395.7 L508.0,396.4 L510.0,397.5 L512.0,399.1 L514.0,401.1 L516.0,403.5 L518.0,406.4 L520.0,409.7 L522.0,413.3 L524.0,417.4 L526.0,421.8 L528.0,426.5 L530.0,431.6 L532.0,437.0 L534.0,442.7 L536.0,448.6 L538.0,454.8 L540.0,461.2 L542.0,467.8 L544.0,474.6 L546.0,481.5 L548.0,488.5 L550.0,495.6 L552.0,502.8 L554.0,510.0 L556.0,517.2 L558.0,524.4 L560.0,531.5 L562.0,538.5 L564.0,545.4 L566.0,552.2 L568.0,558.8 L570.0,565.2 L572.0,571.4 L574.0,577.3 L576.0,583.0 L578.0,588.4 L580.0,593.5 L582.0,598.2 L584.0,602.6 L586.0,606.7 L588.0,610.3 L590.0,613.6 L592.0,616.5 L594.0,618.9 L596.0,620.9 L598.0,622.5 L600.0,623.6 L602.0,624.3 L604.0,624.5 L606.0,624.3 L608.0,623.6 L610.0,622.5 L612.0,620.9 L614.0,618.9 L616.0,616.5 L618.0,613.6 L620.0,610.3 L622.0,606.7 L624.0,602.6 L626.0,598.2 L628.0,593.5 L630.0,588.4 L632.0,583.0 L634.0,577.3 L636.0,571.4 L638.0,565.2 L640.0,558.8 L642.0,552.2 L644.0,545.4 L646.0,538.5 L648.0,531.5 L650.0,524.4 L652.0,517.2 L654.0,510.0" stroke="#08bd00" stroke-width="6" fill="none" stroke-dasharray="31.2,5.4"/>
<path d="M154.0,511.6 L156.0,516.3 L158.0,520.9 L160.0,525.6 L162.0,530.1 L164.0,534.6 L166.0,539.0 L168.0,543.3 L170.0,547.5 L172.0,551.5 L174.0,555.4 L176.0,559.1 L178.0,562.6 L180.0,565.9 L182.0,569.0 L184.0,571.9 L186.0,574.5 L188.0,576.9 L190.0,579.0 L192.0,580.9 L194.0,582.5 L196.0,583.8 L198.0,584.8 L200.0,585.5 L202.0,586.0 L204.0,586.1 L206.0,586.0 L208.0,585.5 L210.0,584.8 L212.0,583.8 L214.0,582.5 L216.0,580.9 L218.0,579.0 L220.0,576.9 L222.0,574.5 L224.0,571.9 L226.0,569.0 L228.0,565.9 L230.0,562.6 L232.0,559.1 L234.0,555.4 L236.0,551.5 L238.0,547.5 L240.0,543.3 L242.0,539.0 L244.0,534.6 L246.0,530.1 L248.0,525.6 L250.0,520.9 L252.0,516.3 L254.0,511.6 L256.0,506.9 L258.0,502.3 L260.0,497.6 L262.0,493.1 L264.0,488.6 L266.0,484.2 L268.0,479.9 L270.0,475.7 L272.0,471.7 L274.0,467.8 L276.0,464.1 L278.0,460.6 L280.0,457.3 L282.0,454.2 L284.0,451.3 L286.0,448.7 L288.0,446.3 L290.0,444.2 L292.0,442.3 L294.0,440.7 L296.0,439.4 L298.0,438.4 L300.0,437.7 L302.0,437.2 L304.0,437.1 L306.0,437.2 L308.0,437.7 L310.0,438.4 L312.0,439.4 L314.0,440.7 L316.0,442.3 L318.0,444.2 L320.0,446.3 L322.0,448.7 L324.0,451.3 L326.0,454.2 L328.0,457.3 L330.0,460.6 L332.0,464.1 L334.0,467.8 L336.0,471.7 L338.0,475.7 L340.0,479.9 L342.0,484.2 L344.0,488.6 L346.0,493.1 L348.0,497.6 L350.0,502.3 L352.0,506.9 L354.0,511.6 L356.0,516.3 L358.0,520.9 L360.0,525.6 L362.0,530.1 L364.0,534.6 L366.0,539.0 L368.0,543.3 L370.0,547.5 L372.0,551.5 L374.0,555.4 L376.0,559.1 L378.0,562.6 L380.0,565.9 L382.0,569.0 L384.0,571.9 L386.0,574.5 L388.0,576.9 L390.0,579.0 L392.0,580.9 L394.0,582.5 L396.0,583.8 L398.0,584.8 L400.0,585.5 L402.0,586.0 L404.0,586.1 L406.0,586.0 L408.0,585.5 L410.0,584.8 L412.0,583.8 L414.0,582.5 L416.0,580.9 L418.0,579.0 L420.0,576.9 L422.0,574.5 L424.0,571.9 L426.0,569.0 L428.0,565.9 L430.0,562.6 L432.0,559.1 L434.0,555.4 L436.0,551.5 L438.0,547.5 L440.0,543.3 L442.0,539.0 L444.0,534.6 L446.0,530.1 L448.0,525.6 L450.0,520.9 L452.0,516.3 L454.0,511.6 L456.0,506.9 L458.0,502.3 L460.0,497.6 L462.0,493.1 L464.0,488.6 L466.0,484.2 L468.0,479.9 L470.0,475.7 L472.0,471.7 L474.0,467.8 L476.0,464.1 L478.0,460.6 L480.0,457.3 L482.0,454.2 L484.0,451.3 L486.0,448.7 L488.0,446.3 L490.0,444.2 L492.0,442.3 L494.0,440.7 L496.0,439.4 L498.0,438.4 L500.0,437.7 L502.0,437.2 L504.0,437.1 L506.0,437.2 L508.0,437.7 L510.0,438.4 L512.0,439.4 L514.0,440.7 L516.0,442.3 L518.0,444.2 L520.0,446.3 L522.0,448.7 L524.0,451.3 L526.0,454.2 L528.0,457.3 L530.0,460.6 L532.0,464.1 L534.0,467.8 L536.0,471.7 L538.0,475.7 L540.0,479.9 L542.0,484.2 L544.0,488.6 L546.0,493.1 L548.0,497.6 L550.0,502.3 L552.0,506.9 L554.0,511.6 L556.0,516.3 L558.0,520.9 L560.0,525.6 L562.0,530.1 L564.0,534.6 L566.0,539.0 L568.0,543.3 L570.0,547.5 L572.0,551.5 L574.0,555.4 L576.0,559.1 L578.0,562.6 L580.0,565.9 L582.0,569.0 L584.0,571.9 L586.0,574.5 L588.0,576.9 L590.0,579.0 L592.0,580.9 L594.0,582.5 L596.0,583.8 L598.0,584.8 L600.0,585.5 L602.0,586.0 L604.0,586.1 L606.0,586.0 L608.0,585.5 L610.0,584.8 L612.0,583.8 L614.0,582.5 L616.0,580.9 L618.0,579.0 L620.0,576.9 L622.0,574.5 L624.0,571.9 L626.0,569.0 L628.0,565.9 L630.0,562.6 L632.0,559.1 L634.0,555.4 L636.0,551.5 L638.0,547.5 L640.0,543.3 L642.0,539.0 L644.0,534.6 L646.0,530.1 L648.0,525.6 L650.0,520.9 L652.0,516.3 L654.0,511.6" stroke="#000" stroke-width="6.6" fill="none"/>
<path d="M181.3,511 L181.3,450" stroke="#000" stroke-width="3.4"/><path d="M181.3,432.5 L173,455 L181.3,451 L189.6,455 Z" fill="#000"/>
<path d="M408,645 L600,645" stroke="#000" stroke-width="2.6"/><path d="M398,645 L417,638.5 L414,645 L417,651.5 Z" fill="#000"/><path d="M610,645 L591,638.5 L594,645 L591,651.5 Z" fill="#000"/>
<g font-family="Liberation Serif, serif"><text x="27" y="48.3" font-size="48" fill="#000" stroke="#000" stroke-width="0.5">a)</text>
<text x="850" y="53.7" font-size="47" fill="#000" stroke="#000" stroke-width="0.5">b)</text>
<text x="86" y="349.3" font-size="34.5" fill="#000" textLength="147" lengthAdjust="spacingAndGlyphs" stroke="#000" stroke-width="0.5">no cylinder</text>
<text x="346" y="348.7" font-size="34.5" fill="#000" textLength="143.5" lengthAdjust="spacingAndGlyphs" stroke="#000" stroke-width="0.5">absorption</text>
<text x="590.6" y="348.7" font-size="34.5" fill="#000" textLength="175" lengthAdjust="spacingAndGlyphs" stroke="#000" stroke-width="0.5">amplification</text>
<text x="330.9" y="190.3" font-size="41" fill="#b060e8" textLength="33.5" lengthAdjust="spacingAndGlyphs" stroke="#b060e8" stroke-width="0.5">m</text>
<text x="364.4" y="190.3" font-size="41" fill="#e8e8e8" textLength="20" lengthAdjust="spacingAndGlyphs" stroke="#e8e8e8" stroke-width="0.5">F</text>
<text x="387.2" y="195.1" font-size="50" fill="#000" textLength="29.5" lengthAdjust="spacingAndGlyphs" stroke="#000" stroke-width="0.6">&lt;</text>
<text x="417.9" y="190.3" font-size="41" fill="#000" textLength="15.5" lengthAdjust="spacingAndGlyphs" stroke="#000" stroke-width="0.5">f</text>
<text x="580.3" y="190.3" font-size="41" fill="#b060e8" textLength="33.5" lengthAdjust="spacingAndGlyphs" stroke="#b060e8" stroke-width="0.5">m</text>
<text x="613.8" y="190.3" font-size="41" fill="#e8e8e8" textLength="20" lengthAdjust="spacingAndGlyphs" stroke="#e8e8e8" stroke-width="0.5">F</text>
<text x="636.5999999999999" y="195.1" font-size="50" fill="#000" textLength="29.5" lengthAdjust="spacingAndGlyphs" stroke="#000" stroke-width="0.6">&gt;</text>
<text x="667.3" y="190.3" font-size="41" fill="#000" textLength="15.5" lengthAdjust="spacingAndGlyphs" stroke="#000" stroke-width="0.5">f</text>
<text x="1345.7" y="82" font-size="47" fill="#b36535" textLength="46.5" lengthAdjust="spacingAndGlyphs" stroke="#b36535" stroke-width="0.5">P1</text>
<text x="1537" y="372.2" font-size="47" fill="#b2b2b2" textLength="46.5" lengthAdjust="spacingAndGlyphs" stroke="#b2b2b2" stroke-width="0.5">P3</text>
<text x="1488.3" y="564" font-size="47" fill="#000" textLength="47" lengthAdjust="spacingAndGlyphs" stroke="#000" stroke-width="0.5">P2</text>
<text x="185" y="440" font-size="38" fill="#000" textLength="23" lengthAdjust="spacingAndGlyphs" stroke="#000" stroke-width="0.5">V</text>
<text x="209.5" y="450" font-size="29" fill="#000" textLength="37" lengthAdjust="spacingAndGlyphs" stroke="#000" stroke-width="0.5">out</text>
<text x="442.5" y="636" font-size="40" fill="#000" textLength="111.5" lengthAdjust="spacingAndGlyphs" stroke="#000" stroke-width="0.5">T=1/f</text></g>
</svg>
</body></html>
